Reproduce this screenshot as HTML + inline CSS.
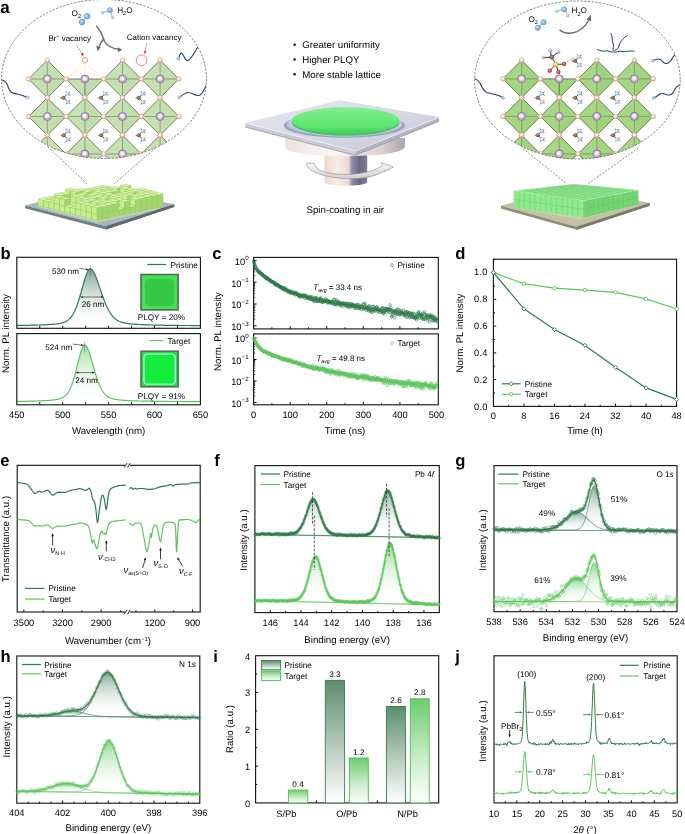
<!DOCTYPE html>
<html><head><meta charset="utf-8"><style>
html,body{margin:0;padding:0;background:#fff;}
body{width:685px;height:834px;overflow:hidden;font-family:"Liberation Sans", sans-serif;}
svg{display:block;will-change:transform;}
</style></head><body>
<svg width="685" height="834" viewBox="0 0 685 834" text-rendering="geometricPrecision" font-family='"Liberation Sans", sans-serif'><defs><radialGradient id="rgBr" cx="0.45" cy="0.4" r="0.6"><stop offset="0" stop-color="#ffffff"/><stop offset="0.5" stop-color="#fbe3d8"/><stop offset="1" stop-color="#d9927a"/></radialGradient><radialGradient id="rgPb" cx="0.5" cy="0.5" r="0.5"><stop offset="0" stop-color="#c8c8f0"/><stop offset="0.6" stop-color="#9a9ada"/><stop offset="1" stop-color="#6c6cb8"/></radialGradient><radialGradient id="rgC" cx="0.4" cy="0.4" r="0.6"><stop offset="0" stop-color="#c89a70"/><stop offset="1" stop-color="#6a4022"/></radialGradient><radialGradient id="rgN" cx="0.4" cy="0.4" r="0.6"><stop offset="0" stop-color="#e0f4ff"/><stop offset="1" stop-color="#7fbcd8"/></radialGradient><radialGradient id="rgO" cx="0.4" cy="0.4" r="0.6"><stop offset="0" stop-color="#cfe4ff"/><stop offset="1" stop-color="#5c95d8"/></radialGradient><radialGradient id="rgH" cx="0.4" cy="0.4" r="0.6"><stop offset="0" stop-color="#d8f4ec"/><stop offset="1" stop-color="#6cbcaa"/></radialGradient><g id="br"><circle r="2.3" fill="url(#rgBr)" stroke="#e3a890" stroke-width="0.7"/></g><g id="pb"><circle r="4.0" fill="#c2bfe8" stroke="#7a76c6" stroke-width="1.0"/><circle r="2.9" fill="url(#rgBr)"/></g><g id="ma"><path d="M-2.6 0 L1.3 -4.1 M-2.6 0 L1.7 4.1 M-2.6 0 L-5.6 0.2 M1.3 -4.1 L-0.4 -6.6 M1.3 -4.1 L3.9 -5.6 M1.3 -4.1 L4.2 -2.6 M1.7 4.1 L-0.3 6.6 M1.7 4.1 L4.3 5.6 M1.7 4.1 L4.3 2.6" stroke="#262c34" stroke-width="0.85"/><circle cx="1.3" cy="-4.1" r="2.0" fill="url(#rgN)"/><circle cx="1.7" cy="4.1" r="2.0" fill="url(#rgN)"/><circle cx="-2.6" cy="0" r="2.0" fill="url(#rgC)"/><g fill="#f6c8c0"><circle cx="-5.6" cy="0.2" r="0.7"/><circle cx="-0.4" cy="-6.6" r="0.7"/><circle cx="3.9" cy="-5.6" r="0.7"/><circle cx="4.2" cy="-2.6" r="0.7"/><circle cx="-0.3" cy="6.6" r="0.7"/><circle cx="4.3" cy="5.6" r="0.7"/><circle cx="4.3" cy="2.6" r="0.7"/></g></g><clipPath id="clipL"><ellipse cx="104" cy="79" rx="102.5" ry="79.5"/></clipPath><clipPath id="clipR"><ellipse cx="577.4" cy="80" rx="102.8" ry="79"/></clipPath><linearGradient id="gShaft" x1="0" y1="0" x2="1" y2="0"><stop offset="0" stop-color="#efd9cc"/><stop offset="0.3" stop-color="#f8ebe3"/><stop offset="0.56" stop-color="#eddbd1"/><stop offset="0.64" stop-color="#8e90aa"/><stop offset="0.82" stop-color="#666a86"/><stop offset="1" stop-color="#7e809a"/></linearGradient><linearGradient id="gChuck" x1="0" y1="0" x2="1" y2="0"><stop offset="0" stop-color="#ece2dc"/><stop offset="0.4" stop-color="#fbf7f4"/><stop offset="0.8" stop-color="#ddd2cc"/><stop offset="1" stop-color="#a9a4ae"/></linearGradient><linearGradient id="gPlate" x1="0" y1="0" x2="1" y2="1"><stop offset="0" stop-color="#e6e8f0"/><stop offset="0.6" stop-color="#d4d6e2"/><stop offset="1" stop-color="#c2c6d4"/></linearGradient><linearGradient id="gDisk" x1="0" y1="0" x2="0" y2="1"><stop offset="0" stop-color="#7ff08f"/><stop offset="0.7" stop-color="#5fe572"/><stop offset="1" stop-color="#3fcf5c"/></linearGradient><linearGradient id="gRing" x1="0" y1="0" x2="0" y2="1"><stop offset="0" stop-color="#8e9cc0"/><stop offset="1" stop-color="#aab4cc"/></linearGradient><linearGradient id="gArrow" x1="0" y1="0" x2="0" y2="1"><stop offset="0" stop-color="#fafafa"/><stop offset="1" stop-color="#cdcdcd"/></linearGradient><radialGradient id="rgS" cx="0.4" cy="0.4" r="0.6"><stop offset="0" stop-color="#fff6b0"/><stop offset="1" stop-color="#d8b830"/></radialGradient><radialGradient id="rgOx" cx="0.4" cy="0.4" r="0.6"><stop offset="0" stop-color="#ff9a8a"/><stop offset="1" stop-color="#c02020"/></radialGradient><radialGradient id="rgF" cx="0.4" cy="0.4" r="0.6"><stop offset="0" stop-color="#eeeeff"/><stop offset="1" stop-color="#9a9ad8"/></radialGradient><linearGradient id="gbP" x1="0" y1="0" x2="0" y2="1"><stop offset="0" stop-color="#5f8a72" stop-opacity="0.8"/><stop offset="1" stop-color="#ffffff" stop-opacity="0"/></linearGradient><linearGradient id="gbT" x1="0" y1="0" x2="0" y2="1"><stop offset="0" stop-color="#7ccc7c" stop-opacity="0.7"/><stop offset="1" stop-color="#ffffff" stop-opacity="0"/></linearGradient><linearGradient id="sqP" x1="0" y1="0" x2="0" y2="1"><stop offset="0" stop-color="#3fd24f" stop-opacity="1"/><stop offset="1" stop-color="#34c444" stop-opacity="1"/></linearGradient><marker id="mk0" markerUnits="userSpaceOnUse" markerWidth="4.8" markerHeight="4.8" refX="2.4" refY="2.4" overflow="visible"><circle cx="2.4" cy="2.4" r="1.3" fill="none" stroke="#2f7b4c" stroke-width="0.6" opacity="1"/></marker><marker id="mk1" markerUnits="userSpaceOnUse" markerWidth="4.8" markerHeight="4.8" refX="2.4" refY="2.4" overflow="visible"><circle cx="2.4" cy="2.4" r="1.3" fill="none" stroke="#5cc65c" stroke-width="0.6" opacity="1"/></marker><linearGradient id="gx1" x1="0" y1="490.79" x2="0" y2="534.4" gradientUnits="userSpaceOnUse"><stop offset="0" stop-color="#6f9a80" stop-opacity="0.85"/><stop offset="1" stop-color="#ffffff" stop-opacity="0"/></linearGradient><marker id="mk2" markerUnits="userSpaceOnUse" markerWidth="4.3" markerHeight="4.3" refX="2.15" refY="2.15" overflow="visible"><circle cx="2.15" cy="2.15" r="1.1" fill="none" stroke="#2f7b4c" stroke-width="0.55" opacity="0.85"/></marker><linearGradient id="gx2" x1="0" y1="543.44" x2="0" y2="600.8" gradientUnits="userSpaceOnUse"><stop offset="0" stop-color="#7fd07f" stop-opacity="0.85"/><stop offset="1" stop-color="#ffffff" stop-opacity="0"/></linearGradient><marker id="mk3" markerUnits="userSpaceOnUse" markerWidth="4.3" markerHeight="4.3" refX="2.15" refY="2.15" overflow="visible"><circle cx="2.15" cy="2.15" r="1.1" fill="none" stroke="#5cc65c" stroke-width="0.55" opacity="0.85"/></marker><linearGradient id="gx3" x1="0" y1="511.89" x2="0" y2="530.39" gradientUnits="userSpaceOnUse"><stop offset="0" stop-color="#6f9a80" stop-opacity="0.85"/><stop offset="1" stop-color="#ffffff" stop-opacity="0"/></linearGradient><linearGradient id="gx4" x1="0" y1="486.01" x2="0" y2="530.51" gradientUnits="userSpaceOnUse"><stop offset="0" stop-color="#6f9a80" stop-opacity="0.85"/><stop offset="1" stop-color="#ffffff" stop-opacity="0"/></linearGradient><marker id="mk4" markerUnits="userSpaceOnUse" markerWidth="4.7" markerHeight="4.7" refX="2.35" refY="2.35" overflow="visible"><circle cx="2.35" cy="2.35" r="1.3" fill="none" stroke="#2f7b4c" stroke-width="0.55" opacity="0.85"/></marker><linearGradient id="gx5" x1="0" y1="578.74" x2="0" y2="601.74" gradientUnits="userSpaceOnUse"><stop offset="0" stop-color="#7fd07f" stop-opacity="0.85"/><stop offset="1" stop-color="#ffffff" stop-opacity="0"/></linearGradient><linearGradient id="gx6" x1="0" y1="562.76" x2="0" y2="601.76" gradientUnits="userSpaceOnUse"><stop offset="0" stop-color="#7fd07f" stop-opacity="0.85"/><stop offset="1" stop-color="#ffffff" stop-opacity="0"/></linearGradient><marker id="mk5" markerUnits="userSpaceOnUse" markerWidth="4.7" markerHeight="4.7" refX="2.35" refY="2.35" overflow="visible"><circle cx="2.35" cy="2.35" r="1.3" fill="none" stroke="#5cc65c" stroke-width="0.55" opacity="0.85"/></marker><linearGradient id="gx7" x1="0" y1="711.22" x2="0" y2="716.42" gradientUnits="userSpaceOnUse"><stop offset="0" stop-color="#6f9a80" stop-opacity="0.85"/><stop offset="1" stop-color="#ffffff" stop-opacity="0"/></linearGradient><linearGradient id="gx8" x1="0" y1="672.24" x2="0" y2="716.74" gradientUnits="userSpaceOnUse"><stop offset="0" stop-color="#6f9a80" stop-opacity="0.85"/><stop offset="1" stop-color="#ffffff" stop-opacity="0"/></linearGradient><marker id="mk6" markerUnits="userSpaceOnUse" markerWidth="4.5" markerHeight="4.5" refX="2.25" refY="2.25" overflow="visible"><circle cx="2.25" cy="2.25" r="1.2" fill="none" stroke="#2f7b4c" stroke-width="0.55" opacity="0.6"/></marker><linearGradient id="gx9" x1="0" y1="783.65" x2="0" y2="792.15" gradientUnits="userSpaceOnUse"><stop offset="0" stop-color="#7fd07f" stop-opacity="0.85"/><stop offset="1" stop-color="#ffffff" stop-opacity="0"/></linearGradient><linearGradient id="gx10" x1="0" y1="740.81" x2="0" y2="792.81" gradientUnits="userSpaceOnUse"><stop offset="0" stop-color="#7fd07f" stop-opacity="0.85"/><stop offset="1" stop-color="#ffffff" stop-opacity="0"/></linearGradient><marker id="mk7" markerUnits="userSpaceOnUse" markerWidth="4.5" markerHeight="4.5" refX="2.25" refY="2.25" overflow="visible"><circle cx="2.25" cy="2.25" r="1.2" fill="none" stroke="#5cc65c" stroke-width="0.55" opacity="0.6"/></marker><linearGradient id="barP" x1="0" y1="0" x2="0" y2="1"><stop offset="0" stop-color="#5a8f6c" stop-opacity="1"/><stop offset="0.55" stop-color="#b8cdbf" stop-opacity="1"/><stop offset="1" stop-color="#ffffff" stop-opacity="1"/></linearGradient><linearGradient id="barT" x1="0" y1="0" x2="0" y2="1"><stop offset="0" stop-color="#6fcb6f" stop-opacity="1"/><stop offset="0.55" stop-color="#c6ebc6" stop-opacity="1"/><stop offset="1" stop-color="#ffffff" stop-opacity="1"/></linearGradient></defs><text x="0.2" y="12.9" font-size="17" font-weight="bold">a</text>
<g clip-path="url(#clipL)"><path d="M47.3 79 L47.3 60.2 L28.5 79 Z" fill="#c8e1b3"/><path d="M47.3 79 L47.3 60.2 L66.1 79 Z" fill="#c4dfae"/><path d="M47.3 79 L47.3 97.8 L28.5 79 Z" fill="#c6e0b0"/><path d="M47.3 79 L47.3 97.8 L66.1 79 Z" fill="#c2ddab"/><path d="M28.5 79 H66.1 M47.3 60.2 V97.8" fill="none" stroke="#5f7358" stroke-width="0.6"/><path d="M47.3 60.2 L66.1 79 L47.3 97.8 L28.5 79 Z" fill="none" stroke="#34402f" stroke-width="0.65"/><path d="M84.9 79 L84.9 97.8 L66.1 79 Z" fill="#c6e0b0"/><path d="M84.9 79 L84.9 97.8 L103.7 79 Z" fill="#c2ddab"/><path d="M66.1 79 L84.9 97.8 L103.7 79 Z M84.9 79 V97.8" fill="none" stroke="#34402f" stroke-width="0.65"/><path d="M122.5 79 L122.5 60.2 L103.7 79 Z" fill="#c8e1b3"/><path d="M122.5 79 L122.5 60.2 L141.3 79 Z" fill="#c4dfae"/><path d="M122.5 79 L122.5 97.8 L103.7 79 Z" fill="#c6e0b0"/><path d="M122.5 79 L122.5 97.8 L141.3 79 Z" fill="#c2ddab"/><path d="M103.7 79 H141.3 M122.5 60.2 V97.8" fill="none" stroke="#5f7358" stroke-width="0.6"/><path d="M122.5 60.2 L141.3 79 L122.5 97.8 L103.7 79 Z" fill="none" stroke="#34402f" stroke-width="0.65"/><path d="M160.1 79 L160.1 60.2 L141.3 79 Z" fill="#c8e1b3"/><path d="M160.1 79 L160.1 60.2 L178.9 79 Z" fill="#c4dfae"/><path d="M160.1 79 L160.1 97.8 L141.3 79 Z" fill="#c6e0b0"/><path d="M160.1 79 L160.1 97.8 L178.9 79 Z" fill="#c2ddab"/><path d="M141.3 79 H178.9 M160.1 60.2 V97.8" fill="none" stroke="#5f7358" stroke-width="0.6"/><path d="M160.1 60.2 L178.9 79 L160.1 97.8 L141.3 79 Z" fill="none" stroke="#34402f" stroke-width="0.65"/><path d="M47.3 116.5 L47.3 97.7 L28.5 116.5 Z" fill="#c8e1b3"/><path d="M47.3 116.5 L47.3 97.7 L66.1 116.5 Z" fill="#c4dfae"/><path d="M47.3 116.5 L47.3 135.3 L28.5 116.5 Z" fill="#c6e0b0"/><path d="M47.3 116.5 L47.3 135.3 L66.1 116.5 Z" fill="#c2ddab"/><path d="M28.5 116.5 H66.1 M47.3 97.7 V135.3" fill="none" stroke="#5f7358" stroke-width="0.6"/><path d="M47.3 97.7 L66.1 116.5 L47.3 135.3 L28.5 116.5 Z" fill="none" stroke="#34402f" stroke-width="0.65"/><path d="M84.9 116.5 L84.9 97.7 L66.1 116.5 Z" fill="#c8e1b3"/><path d="M84.9 116.5 L84.9 97.7 L103.7 116.5 Z" fill="#c4dfae"/><path d="M84.9 116.5 L84.9 135.3 L66.1 116.5 Z" fill="#c6e0b0"/><path d="M84.9 116.5 L84.9 135.3 L103.7 116.5 Z" fill="#c2ddab"/><path d="M66.1 116.5 H103.7 M84.9 97.7 V135.3" fill="none" stroke="#5f7358" stroke-width="0.6"/><path d="M84.9 97.7 L103.7 116.5 L84.9 135.3 L66.1 116.5 Z" fill="none" stroke="#34402f" stroke-width="0.65"/><path d="M122.5 116.5 L122.5 97.7 L103.7 116.5 Z" fill="#c8e1b3"/><path d="M122.5 116.5 L122.5 97.7 L141.3 116.5 Z" fill="#c4dfae"/><path d="M122.5 116.5 L122.5 135.3 L103.7 116.5 Z" fill="#c6e0b0"/><path d="M122.5 116.5 L122.5 135.3 L141.3 116.5 Z" fill="#c2ddab"/><path d="M103.7 116.5 H141.3 M122.5 97.7 V135.3" fill="none" stroke="#5f7358" stroke-width="0.6"/><path d="M122.5 97.7 L141.3 116.5 L122.5 135.3 L103.7 116.5 Z" fill="none" stroke="#34402f" stroke-width="0.65"/><path d="M160.1 116.5 L160.1 97.7 L141.3 116.5 Z" fill="#c8e1b3"/><path d="M160.1 116.5 L160.1 97.7 L178.9 116.5 Z" fill="#c4dfae"/><path d="M160.1 116.5 L160.1 135.3 L141.3 116.5 Z" fill="#c6e0b0"/><path d="M160.1 116.5 L160.1 135.3 L178.9 116.5 Z" fill="#c2ddab"/><path d="M141.3 116.5 H178.9 M160.1 97.7 V135.3" fill="none" stroke="#5f7358" stroke-width="0.6"/><path d="M160.1 97.7 L178.9 116.5 L160.1 135.3 L141.3 116.5 Z" fill="none" stroke="#34402f" stroke-width="0.65"/><path d="M47.3 154 L47.3 135.2 L28.5 154 Z" fill="#c8e1b3"/><path d="M47.3 154 L47.3 135.2 L66.1 154 Z" fill="#c4dfae"/><path d="M47.3 154 L47.3 172.8 L28.5 154 Z" fill="#c6e0b0"/><path d="M47.3 154 L47.3 172.8 L66.1 154 Z" fill="#c2ddab"/><path d="M28.5 154 H66.1 M47.3 135.2 V172.8" fill="none" stroke="#5f7358" stroke-width="0.6"/><path d="M47.3 135.2 L66.1 154 L47.3 172.8 L28.5 154 Z" fill="none" stroke="#34402f" stroke-width="0.65"/><path d="M84.9 154 L84.9 135.2 L66.1 154 Z" fill="#c8e1b3"/><path d="M84.9 154 L84.9 135.2 L103.7 154 Z" fill="#c4dfae"/><path d="M84.9 154 L84.9 172.8 L66.1 154 Z" fill="#c6e0b0"/><path d="M84.9 154 L84.9 172.8 L103.7 154 Z" fill="#c2ddab"/><path d="M66.1 154 H103.7 M84.9 135.2 V172.8" fill="none" stroke="#5f7358" stroke-width="0.6"/><path d="M84.9 135.2 L103.7 154 L84.9 172.8 L66.1 154 Z" fill="none" stroke="#34402f" stroke-width="0.65"/><path d="M122.5 154 L122.5 135.2 L103.7 154 Z" fill="#c8e1b3"/><path d="M122.5 154 L122.5 135.2 L141.3 154 Z" fill="#c4dfae"/><path d="M122.5 154 L122.5 172.8 L103.7 154 Z" fill="#c6e0b0"/><path d="M122.5 154 L122.5 172.8 L141.3 154 Z" fill="#c2ddab"/><path d="M103.7 154 H141.3 M122.5 135.2 V172.8" fill="none" stroke="#5f7358" stroke-width="0.6"/><path d="M122.5 135.2 L141.3 154 L122.5 172.8 L103.7 154 Z" fill="none" stroke="#34402f" stroke-width="0.65"/><path d="M160.1 154 L160.1 135.2 L141.3 154 Z" fill="#c8e1b3"/><path d="M160.1 154 L160.1 135.2 L178.9 154 Z" fill="#c4dfae"/><path d="M160.1 154 L160.1 172.8 L141.3 154 Z" fill="#c6e0b0"/><path d="M160.1 154 L160.1 172.8 L178.9 154 Z" fill="#c2ddab"/><path d="M141.3 154 H178.9 M160.1 135.2 V172.8" fill="none" stroke="#5f7358" stroke-width="0.6"/><path d="M160.1 135.2 L178.9 154 L160.1 172.8 L141.3 154 Z" fill="none" stroke="#34402f" stroke-width="0.65"/><use href="#ma" x="66.1" y="97.8"/><use href="#ma" x="103.7" y="97.8"/><use href="#ma" x="141.3" y="97.8"/><use href="#ma" x="66.1" y="135.3"/><use href="#ma" x="103.7" y="135.3"/><use href="#ma" x="141.3" y="135.3"/><use href="#ma" x="66.1" y="172.8"/><use href="#ma" x="103.7" y="172.8"/><use href="#ma" x="141.3" y="172.8"/><use href="#br" x="28.5" y="79"/><use href="#br" x="47.3" y="97.8"/><use href="#br" x="47.3" y="60.2"/><use href="#br" x="66.1" y="79"/><use href="#br" x="84.9" y="97.8"/><use href="#br" x="103.7" y="79"/><use href="#br" x="122.5" y="97.8"/><use href="#br" x="122.5" y="60.2"/><use href="#br" x="141.3" y="79"/><use href="#br" x="160.1" y="97.8"/><use href="#br" x="160.1" y="60.2"/><use href="#br" x="178.9" y="79"/><use href="#br" x="28.5" y="116.5"/><use href="#br" x="47.3" y="135.3"/><use href="#br" x="47.3" y="97.7"/><use href="#br" x="66.1" y="116.5"/><use href="#br" x="84.9" y="135.3"/><use href="#br" x="84.9" y="97.7"/><use href="#br" x="103.7" y="116.5"/><use href="#br" x="122.5" y="135.3"/><use href="#br" x="122.5" y="97.7"/><use href="#br" x="141.3" y="116.5"/><use href="#br" x="160.1" y="135.3"/><use href="#br" x="160.1" y="97.7"/><use href="#br" x="178.9" y="116.5"/><use href="#br" x="28.5" y="154"/><use href="#br" x="47.3" y="172.8"/><use href="#br" x="47.3" y="135.2"/><use href="#br" x="66.1" y="154"/><use href="#br" x="84.9" y="172.8"/><use href="#br" x="84.9" y="135.2"/><use href="#br" x="103.7" y="154"/><use href="#br" x="122.5" y="172.8"/><use href="#br" x="122.5" y="135.2"/><use href="#br" x="141.3" y="154"/><use href="#br" x="160.1" y="172.8"/><use href="#br" x="160.1" y="135.2"/><use href="#br" x="178.9" y="154"/><use href="#pb" x="47.3" y="79"/><use href="#pb" x="84.9" y="79"/><use href="#pb" x="122.5" y="79"/><use href="#pb" x="160.1" y="79"/><use href="#pb" x="47.3" y="116.5"/><use href="#pb" x="84.9" y="116.5"/><use href="#pb" x="122.5" y="116.5"/><use href="#pb" x="160.1" y="116.5"/><use href="#pb" x="47.3" y="154"/><use href="#pb" x="84.9" y="154"/><use href="#pb" x="122.5" y="154"/><use href="#pb" x="160.1" y="154"/></g>
<line x1="84.9" y1="62.6" x2="65.9" y2="79" stroke="#e6d24a" stroke-width="0.7" stroke-dasharray="1 0.9"/>
<line x1="84.9" y1="62.6" x2="84.9" y2="76.5" stroke="#e6d24a" stroke-width="0.7" stroke-dasharray="1 0.9"/>
<line x1="84.9" y1="62.6" x2="103.7" y2="79" stroke="#e6d24a" stroke-width="0.7" stroke-dasharray="1 0.9"/>
<circle cx="84.9" cy="60.1" r="2.5" fill="#fff" stroke="#e02424" stroke-width="0.9" stroke-dasharray="1 0.7"/>
<line x1="76.8" y1="45.4" x2="82.2" y2="54.6" stroke="#d42a2a" stroke-width="0.8" stroke-dasharray="1.2 0.9"/>
<path d="M83.3 56.6 L80.7 53.9 L83.3 52.6 Z" fill="#d42a2a"/>
<circle cx="141.6" cy="60.3" r="5.3" fill="none" stroke="#e02424" stroke-width="1.0" stroke-dasharray="1.1 0.7"/>
<line x1="146.7" y1="43.3" x2="145.1" y2="51.8" stroke="#d42a2a" stroke-width="0.8" stroke-dasharray="1.2 0.9"/>
<path d="M144.7 54.0 L143.7 50.9 L146.6 51.4 Z" fill="#d42a2a"/>
<ellipse cx="104" cy="79" rx="102.5" ry="79.5" fill="none" stroke="#555" stroke-width="0.75" stroke-dasharray="2.2 1.5"/>
<path d="M-1 79.4 C3 79.8 6 81 7.5 85 C8.5 89 9.5 92 13 93 C17 94.5 22 94.5 26 97" fill="none" stroke="#27406e" stroke-width="1.1" stroke-linecap="round" clip-path="url(#clipL)"/>
<circle cx="27.5" cy="97.4" r="1.4" fill="#c4d4f4" stroke="#7890d0" stroke-width="0.6"/>
<path d="M179 57.6 C179.6 54.6 180.6 52.8 181.8 53.2 C183.6 53.8 184.6 61 187.6 60.8 C190.6 60.5 194 53 198.5 46" fill="none" stroke="#27406e" stroke-width="1.1" stroke-linecap="round" clip-path="url(#clipL)"/>
<circle cx="178.4" cy="58.8" r="1.4" fill="#c4d4f4" stroke="#7890d0" stroke-width="0.6"/>
<path d="M180.4 96.6 C183 94.6 185.6 92.5 188.5 92.5 C192 92.5 195 96 198.8 95.5 C202.5 95 204 89.5 207 84" fill="none" stroke="#27406e" stroke-width="1.1" stroke-linecap="round" clip-path="url(#clipL)"/>
<circle cx="179.3" cy="97.3" r="1.4" fill="#c4d4f4" stroke="#7890d0" stroke-width="0.6"/>
<text x="71.6" y="15.54" font-size="8.2">O<tspan font-size="5.6" dy="2.4">2</tspan></text>
<circle cx="87" cy="16.3" r="2.7" fill="url(#rgO)" stroke="#6a9bd8" stroke-width="0.5"/><circle cx="81.9" cy="22.1" r="2.7" fill="url(#rgO)" stroke="#6a9bd8" stroke-width="0.5"/>
<line x1="102.3" y1="12.7" x2="109.9" y2="10.2" stroke="#7aa" stroke-width="0.8"/>
<line x1="109.9" y1="10.2" x2="112.6" y2="17.4" stroke="#7aa" stroke-width="0.8"/>
<circle cx="109.9" cy="10.2" r="2.6" fill="url(#rgO)" stroke="#6a9bd8" stroke-width="0.5"/><circle cx="102.3" cy="12.7" r="1.6" fill="url(#rgH)"/><circle cx="112.6" cy="17.4" r="1.6" fill="url(#rgH)"/>
<text x="117.2" y="12.74" font-size="8.2">H<tspan font-size="5.6" dy="2.4">2</tspan><tspan dy="-2.4">O</tspan></text>
<text x="48.4" y="41.26" font-size="8">Br<tspan font-size="5.2" dy="-3">&#8722;</tspan><tspan dy="3"> vacancy</tspan></text>
<text x="126.8" y="39.66" font-size="8">Cation vacancy</text>
<path d="M96.3 25.8 C101 31 103 37 104.5 41.5 C107 46 113 48.5 119.2 49.6" fill="none" stroke="#6e6e6e" stroke-width="1.5"/>
<path d="M103.8 38.5 C101.5 41.5 99.8 44 98.8 47.6" fill="none" stroke="#6e6e6e" stroke-width="1.5"/>
<path d="M97.6 51.2 L96.2 45.8 L100.9 47.2 Z" fill="#6e6e6e"/>
<path d="M122.4 50.0 L117.6 52.3 L118.3 47.3 Z" fill="#6e6e6e"/>
<line x1="87" y1="16.3" x2="81.9" y2="22.1" stroke="#6a9bd8" stroke-width="1"/>
<circle cx="87" cy="16.3" r="2.7" fill="url(#rgO)" stroke="#6a9bd8" stroke-width="0.5"/><circle cx="81.9" cy="22.1" r="2.7" fill="url(#rgO)" stroke="#6a9bd8" stroke-width="0.5"/>
<line x1="47.5" y1="146.5" x2="87.7" y2="184.4" stroke="#555" stroke-width="0.7" stroke-dasharray="2 1.5"/>
<line x1="155.5" y1="148" x2="113.4" y2="184.4" stroke="#555" stroke-width="0.7" stroke-dasharray="2 1.5"/>
<line x1="523" y1="148.5" x2="566.2" y2="183.4" stroke="#555" stroke-width="0.7" stroke-dasharray="2 1.5"/>
<line x1="638.4" y1="148" x2="588.5" y2="183.4" stroke="#555" stroke-width="0.7" stroke-dasharray="2 1.5"/>
<path d="M25.1 205.4 L106 226.2 L174.2 204.2 L95 187 Z" fill="#a6b9bc"/>
<path d="M36 206.5 L97 222.5 L163 208.5 L104 193 Z" fill="#d2d8b4" opacity="0.8"/>
<path d="M25.1 205.4 L106 226.2 L174.2 204.2 L174.2 206.9 L106 229.4 L25.1 208.2 Z" fill="#6d7f7f"/>
<path d="M106 226.2 L174.2 204.2 L174.2 206.9 L106 229.4 Z" fill="#5b6c6e"/>
<g><path d="M98.7 192.6 104 193.9 104 187.5 98.7 186.2 Z" fill="#c4ef8b" stroke="#93c065" stroke-width="0.3"/><path d="M104 193.9 109.5 192.8 109.5 186.4 104 187.5 Z" fill="#a2d66b" stroke="#93c065" stroke-width="0.3"/><path d="M98.7 186.2 104 187.5 109.5 186.4 104.2 185 Z" fill="#ddf8aa" stroke="#93c065" stroke-width="0.3"/><path d="M93.2 193.7 98.5 195.1 98.5 188.7 93.2 187.3 Z" fill="#c4ef8b" stroke="#93c065" stroke-width="0.3"/><path d="M98.5 195.1 104 193.9 104 187.5 98.5 188.7 Z" fill="#a2d66b" stroke="#93c065" stroke-width="0.3"/><path d="M93.2 187.3 98.5 188.7 104 187.5 98.7 186.2 Z" fill="#ddf8aa" stroke="#93c065" stroke-width="0.3"/><path d="M104 193.9 109.4 195.3 109.4 188.9 104 187.5 Z" fill="#c4ef8b" stroke="#93c065" stroke-width="0.3"/><path d="M109.4 195.3 114.9 194.1 114.9 187.7 109.4 188.9 Z" fill="#a2d66b" stroke="#93c065" stroke-width="0.3"/><path d="M104 187.5 109.4 188.9 114.9 187.7 109.5 186.4 Z" fill="#ddf8aa" stroke="#93c065" stroke-width="0.3"/><path d="M87.7 194.9 93 196.3 93 189.9 87.7 188.5 Z" fill="#c4ef8b" stroke="#93c065" stroke-width="0.3"/><path d="M93 196.3 98.5 195.1 98.5 188.7 93 189.9 Z" fill="#a2d66b" stroke="#93c065" stroke-width="0.3"/><path d="M87.7 188.5 93 189.9 98.5 188.7 93.2 187.3 Z" fill="#ddf8aa" stroke="#93c065" stroke-width="0.3"/><path d="M98.5 195.1 103.9 196.5 103.9 190.1 98.5 188.7 Z" fill="#c4ef8b" stroke="#93c065" stroke-width="0.3"/><path d="M103.9 196.5 109.4 195.3 109.4 188.9 103.9 190.1 Z" fill="#a2d66b" stroke="#93c065" stroke-width="0.3"/><path d="M98.5 188.7 103.9 190.1 109.4 188.9 104 187.5 Z" fill="#ddf8aa" stroke="#93c065" stroke-width="0.3"/><path d="M109.4 195.3 114.7 196.7 114.7 190.3 109.4 188.9 Z" fill="#c4ef8b" stroke="#93c065" stroke-width="0.3"/><path d="M114.7 196.7 120.2 195.5 120.2 189.1 114.7 190.3 Z" fill="#a2d66b" stroke="#93c065" stroke-width="0.3"/><path d="M109.4 188.9 114.7 190.3 120.2 189.1 114.9 187.7 Z" fill="#ddf8aa" stroke="#93c065" stroke-width="0.3"/><path d="M82.2 196.1 87.5 197.4 87.5 191 82.2 189.7 Z" fill="#c4ef8b" stroke="#93c065" stroke-width="0.3"/><path d="M87.5 197.4 93 196.3 93 189.9 87.5 191 Z" fill="#a2d66b" stroke="#93c065" stroke-width="0.3"/><path d="M82.2 189.7 87.5 191 93 189.9 87.7 188.5 Z" fill="#ddf8aa" stroke="#93c065" stroke-width="0.3"/><path d="M93 196.3 98.4 197.6 98.4 191.2 93 189.9 Z" fill="#c4ef8b" stroke="#93c065" stroke-width="0.3"/><path d="M98.4 197.6 103.9 196.5 103.9 190.1 98.4 191.2 Z" fill="#a2d66b" stroke="#93c065" stroke-width="0.3"/><path d="M93 189.9 98.4 191.2 103.9 190.1 98.5 188.7 Z" fill="#ddf8aa" stroke="#93c065" stroke-width="0.3"/><path d="M103.9 196.5 109.2 197.9 109.2 191.5 103.9 190.1 Z" fill="#c4ef8b" stroke="#93c065" stroke-width="0.3"/><path d="M109.2 197.9 114.7 196.7 114.7 190.3 109.2 191.5 Z" fill="#a2d66b" stroke="#93c065" stroke-width="0.3"/><path d="M103.9 190.1 109.2 191.5 114.7 190.3 109.4 188.9 Z" fill="#ddf8aa" stroke="#93c065" stroke-width="0.3"/><path d="M114.7 196.7 120.1 198.1 120.1 191.7 114.7 190.3 Z" fill="#c4ef8b" stroke="#93c065" stroke-width="0.3"/><path d="M120.1 198.1 125.6 196.9 125.6 190.5 120.1 191.7 Z" fill="#a2d66b" stroke="#93c065" stroke-width="0.3"/><path d="M114.7 190.3 120.1 191.7 125.6 190.5 120.2 189.1 Z" fill="#ddf8aa" stroke="#93c065" stroke-width="0.3"/><path d="M76.7 197.2 82 198.6 82 192.2 76.7 190.8 Z" fill="#c4ef8b" stroke="#93c065" stroke-width="0.3"/><path d="M82 198.6 87.5 197.4 87.5 191 82 192.2 Z" fill="#a2d66b" stroke="#93c065" stroke-width="0.3"/><path d="M76.7 190.8 82 192.2 87.5 191 82.2 189.7 Z" fill="#ddf8aa" stroke="#93c065" stroke-width="0.3"/><path d="M87.5 197.4 92.9 198.8 92.9 192.4 87.5 191 Z" fill="#c4ef8b" stroke="#93c065" stroke-width="0.3"/><path d="M92.9 198.8 98.4 197.6 98.4 191.2 92.9 192.4 Z" fill="#a2d66b" stroke="#93c065" stroke-width="0.3"/><path d="M87.5 191 92.9 192.4 98.4 191.2 93 189.9 Z" fill="#ddf8aa" stroke="#93c065" stroke-width="0.3"/><path d="M98.4 197.6 103.7 199 103.7 192.6 98.4 191.2 Z" fill="#c4ef8b" stroke="#93c065" stroke-width="0.3"/><path d="M103.7 199 109.2 197.9 109.2 191.5 103.7 192.6 Z" fill="#a2d66b" stroke="#93c065" stroke-width="0.3"/><path d="M98.4 191.2 103.7 192.6 109.2 191.5 103.9 190.1 Z" fill="#ddf8aa" stroke="#93c065" stroke-width="0.3"/><path d="M109.2 197.9 114.6 199.2 114.6 192.8 109.2 191.5 Z" fill="#c4ef8b" stroke="#93c065" stroke-width="0.3"/><path d="M114.6 199.2 120.1 198.1 120.1 191.7 114.6 192.8 Z" fill="#a2d66b" stroke="#93c065" stroke-width="0.3"/><path d="M109.2 191.5 114.6 192.8 120.1 191.7 114.7 190.3 Z" fill="#ddf8aa" stroke="#93c065" stroke-width="0.3"/><path d="M120.1 198.1 125.4 199.4 125.4 193 120.1 191.7 Z" fill="#c4ef8b" stroke="#93c065" stroke-width="0.3"/><path d="M125.4 199.4 130.9 198.3 130.9 191.9 125.4 193 Z" fill="#a2d66b" stroke="#93c065" stroke-width="0.3"/><path d="M120.1 191.7 125.4 193 130.9 191.9 125.6 190.5 Z" fill="#ddf8aa" stroke="#93c065" stroke-width="0.3"/><path d="M120.1 191.7 125.4 193 125.4 186.6 120.1 185.3 Z" fill="#c4ef8b" stroke="#93c065" stroke-width="0.3"/><path d="M125.4 193 130.9 191.9 130.9 185.5 125.4 186.6 Z" fill="#a2d66b" stroke="#93c065" stroke-width="0.3"/><path d="M120.1 185.3 125.4 186.6 130.9 185.5 125.6 184.1 Z" fill="#ddf8aa" stroke="#93c065" stroke-width="0.3"/><path d="M71.2 198.4 76.5 199.8 76.5 193.4 71.2 192 Z" fill="#c4ef8b" stroke="#93c065" stroke-width="0.3"/><path d="M76.5 199.8 82 198.6 82 192.2 76.5 193.4 Z" fill="#a2d66b" stroke="#93c065" stroke-width="0.3"/><path d="M71.2 192 76.5 193.4 82 192.2 76.7 190.8 Z" fill="#ddf8aa" stroke="#93c065" stroke-width="0.3"/><path d="M82 198.6 87.4 200 87.4 193.6 82 192.2 Z" fill="#c4ef8b" stroke="#93c065" stroke-width="0.3"/><path d="M87.4 200 92.9 198.8 92.9 192.4 87.4 193.6 Z" fill="#a2d66b" stroke="#93c065" stroke-width="0.3"/><path d="M82 192.2 87.4 193.6 92.9 192.4 87.5 191 Z" fill="#ddf8aa" stroke="#93c065" stroke-width="0.3"/><path d="M92.9 198.8 98.2 200.2 98.2 193.8 92.9 192.4 Z" fill="#c4ef8b" stroke="#93c065" stroke-width="0.3"/><path d="M98.2 200.2 103.7 199 103.7 192.6 98.2 193.8 Z" fill="#a2d66b" stroke="#93c065" stroke-width="0.3"/><path d="M92.9 192.4 98.2 193.8 103.7 192.6 98.4 191.2 Z" fill="#ddf8aa" stroke="#93c065" stroke-width="0.3"/><path d="M103.7 199 109.1 200.4 109.1 194 103.7 192.6 Z" fill="#c4ef8b" stroke="#93c065" stroke-width="0.3"/><path d="M109.1 200.4 114.6 199.2 114.6 192.8 109.1 194 Z" fill="#a2d66b" stroke="#93c065" stroke-width="0.3"/><path d="M103.7 192.6 109.1 194 114.6 192.8 109.2 191.5 Z" fill="#ddf8aa" stroke="#93c065" stroke-width="0.3"/><path d="M114.6 199.2 119.9 200.6 119.9 194.2 114.6 192.8 Z" fill="#c4ef8b" stroke="#93c065" stroke-width="0.3"/><path d="M119.9 200.6 125.4 199.4 125.4 193 119.9 194.2 Z" fill="#a2d66b" stroke="#93c065" stroke-width="0.3"/><path d="M114.6 192.8 119.9 194.2 125.4 193 120.1 191.7 Z" fill="#ddf8aa" stroke="#93c065" stroke-width="0.3"/><path d="M125.4 199.4 130.8 200.8 130.8 194.4 125.4 193 Z" fill="#c4ef8b" stroke="#93c065" stroke-width="0.3"/><path d="M130.8 200.8 136.3 199.6 136.3 193.2 130.8 194.4 Z" fill="#a2d66b" stroke="#93c065" stroke-width="0.3"/><path d="M125.4 193 130.8 194.4 136.3 193.2 130.9 191.9 Z" fill="#ddf8aa" stroke="#93c065" stroke-width="0.3"/><path d="M65.7 199.6 71 200.9 71 194.5 65.7 193.2 Z" fill="#c4ef8b" stroke="#93c065" stroke-width="0.3"/><path d="M71 200.9 76.5 199.8 76.5 193.4 71 194.5 Z" fill="#a2d66b" stroke="#93c065" stroke-width="0.3"/><path d="M65.7 193.2 71 194.5 76.5 193.4 71.2 192 Z" fill="#ddf8aa" stroke="#93c065" stroke-width="0.3"/><path d="M76.5 199.8 81.9 201.1 81.9 194.7 76.5 193.4 Z" fill="#c4ef8b" stroke="#93c065" stroke-width="0.3"/><path d="M81.9 201.1 87.4 200 87.4 193.6 81.9 194.7 Z" fill="#a2d66b" stroke="#93c065" stroke-width="0.3"/><path d="M76.5 193.4 81.9 194.7 87.4 193.6 82 192.2 Z" fill="#ddf8aa" stroke="#93c065" stroke-width="0.3"/><path d="M87.4 200 92.7 201.4 92.7 195 87.4 193.6 Z" fill="#c4ef8b" stroke="#93c065" stroke-width="0.3"/><path d="M92.7 201.4 98.2 200.2 98.2 193.8 92.7 195 Z" fill="#a2d66b" stroke="#93c065" stroke-width="0.3"/><path d="M87.4 193.6 92.7 195 98.2 193.8 92.9 192.4 Z" fill="#ddf8aa" stroke="#93c065" stroke-width="0.3"/><path d="M98.2 200.2 103.6 201.6 103.6 195.2 98.2 193.8 Z" fill="#c4ef8b" stroke="#93c065" stroke-width="0.3"/><path d="M103.6 201.6 109.1 200.4 109.1 194 103.6 195.2 Z" fill="#a2d66b" stroke="#93c065" stroke-width="0.3"/><path d="M98.2 193.8 103.6 195.2 109.1 194 103.7 192.6 Z" fill="#ddf8aa" stroke="#93c065" stroke-width="0.3"/><path d="M109.1 200.4 114.4 201.8 114.4 195.4 109.1 194 Z" fill="#c4ef8b" stroke="#93c065" stroke-width="0.3"/><path d="M114.4 201.8 119.9 200.6 119.9 194.2 114.4 195.4 Z" fill="#a2d66b" stroke="#93c065" stroke-width="0.3"/><path d="M109.1 194 114.4 195.4 119.9 194.2 114.6 192.8 Z" fill="#ddf8aa" stroke="#93c065" stroke-width="0.3"/><path d="M109.1 194 114.4 195.4 114.4 189 109.1 187.6 Z" fill="#c4ef8b" stroke="#93c065" stroke-width="0.3"/><path d="M114.4 195.4 119.9 194.2 119.9 187.8 114.4 189 Z" fill="#a2d66b" stroke="#93c065" stroke-width="0.3"/><path d="M109.1 187.6 114.4 189 119.9 187.8 114.6 186.4 Z" fill="#ddf8aa" stroke="#93c065" stroke-width="0.3"/><path d="M119.9 200.6 125.3 202 125.3 195.6 119.9 194.2 Z" fill="#c4ef8b" stroke="#93c065" stroke-width="0.3"/><path d="M125.3 202 130.8 200.8 130.8 194.4 125.3 195.6 Z" fill="#a2d66b" stroke="#93c065" stroke-width="0.3"/><path d="M119.9 194.2 125.3 195.6 130.8 194.4 125.4 193 Z" fill="#ddf8aa" stroke="#93c065" stroke-width="0.3"/><path d="M119.9 194.2 125.3 195.6 125.3 189.2 119.9 187.8 Z" fill="#c4ef8b" stroke="#93c065" stroke-width="0.3"/><path d="M125.3 195.6 130.8 194.4 130.8 188 125.3 189.2 Z" fill="#a2d66b" stroke="#93c065" stroke-width="0.3"/><path d="M119.9 187.8 125.3 189.2 130.8 188 125.4 186.6 Z" fill="#ddf8aa" stroke="#93c065" stroke-width="0.3"/><path d="M130.8 200.8 136.1 202.2 136.1 195.8 130.8 194.4 Z" fill="#c4ef8b" stroke="#93c065" stroke-width="0.3"/><path d="M136.1 202.2 141.6 201 141.6 194.6 136.1 195.8 Z" fill="#a2d66b" stroke="#93c065" stroke-width="0.3"/><path d="M130.8 194.4 136.1 195.8 141.6 194.6 136.3 193.2 Z" fill="#ddf8aa" stroke="#93c065" stroke-width="0.3"/><path d="M60.2 200.7 65.5 202.1 65.5 195.7 60.2 194.3 Z" fill="#c4ef8b" stroke="#93c065" stroke-width="0.3"/><path d="M65.5 202.1 71 200.9 71 194.5 65.5 195.7 Z" fill="#a2d66b" stroke="#93c065" stroke-width="0.3"/><path d="M60.2 194.3 65.5 195.7 71 194.5 65.7 193.2 Z" fill="#ddf8aa" stroke="#93c065" stroke-width="0.3"/><path d="M71 200.9 76.4 202.3 76.4 195.9 71 194.5 Z" fill="#c4ef8b" stroke="#93c065" stroke-width="0.3"/><path d="M76.4 202.3 81.9 201.1 81.9 194.7 76.4 195.9 Z" fill="#a2d66b" stroke="#93c065" stroke-width="0.3"/><path d="M71 194.5 76.4 195.9 81.9 194.7 76.5 193.4 Z" fill="#ddf8aa" stroke="#93c065" stroke-width="0.3"/><path d="M81.9 201.1 87.2 202.5 87.2 196.1 81.9 194.7 Z" fill="#c4ef8b" stroke="#93c065" stroke-width="0.3"/><path d="M87.2 202.5 92.7 201.4 92.7 195 87.2 196.1 Z" fill="#a2d66b" stroke="#93c065" stroke-width="0.3"/><path d="M81.9 194.7 87.2 196.1 92.7 195 87.4 193.6 Z" fill="#ddf8aa" stroke="#93c065" stroke-width="0.3"/><path d="M92.7 201.4 98.1 202.7 98.1 196.3 92.7 195 Z" fill="#c4ef8b" stroke="#93c065" stroke-width="0.3"/><path d="M98.1 202.7 103.6 201.6 103.6 195.2 98.1 196.3 Z" fill="#a2d66b" stroke="#93c065" stroke-width="0.3"/><path d="M92.7 195 98.1 196.3 103.6 195.2 98.2 193.8 Z" fill="#ddf8aa" stroke="#93c065" stroke-width="0.3"/><path d="M103.6 201.6 108.9 202.9 108.9 196.5 103.6 195.2 Z" fill="#c4ef8b" stroke="#93c065" stroke-width="0.3"/><path d="M108.9 202.9 114.4 201.8 114.4 195.4 108.9 196.5 Z" fill="#a2d66b" stroke="#93c065" stroke-width="0.3"/><path d="M103.6 195.2 108.9 196.5 114.4 195.4 109.1 194 Z" fill="#ddf8aa" stroke="#93c065" stroke-width="0.3"/><path d="M114.4 201.8 119.8 203.1 119.8 196.7 114.4 195.4 Z" fill="#c4ef8b" stroke="#93c065" stroke-width="0.3"/><path d="M119.8 203.1 125.3 202 125.3 195.6 119.8 196.7 Z" fill="#a2d66b" stroke="#93c065" stroke-width="0.3"/><path d="M114.4 195.4 119.8 196.7 125.3 195.6 119.9 194.2 Z" fill="#ddf8aa" stroke="#93c065" stroke-width="0.3"/><path d="M125.3 202 130.6 203.3 130.6 196.9 125.3 195.6 Z" fill="#c4ef8b" stroke="#93c065" stroke-width="0.3"/><path d="M130.6 203.3 136.1 202.2 136.1 195.8 130.6 196.9 Z" fill="#a2d66b" stroke="#93c065" stroke-width="0.3"/><path d="M125.3 195.6 130.6 196.9 136.1 195.8 130.8 194.4 Z" fill="#ddf8aa" stroke="#93c065" stroke-width="0.3"/><path d="M125.3 195.6 130.6 196.9 130.6 190.5 125.3 189.2 Z" fill="#c4ef8b" stroke="#93c065" stroke-width="0.3"/><path d="M130.6 196.9 136.1 195.8 136.1 189.4 130.6 190.5 Z" fill="#a2d66b" stroke="#93c065" stroke-width="0.3"/><path d="M125.3 189.2 130.6 190.5 136.1 189.4 130.8 188 Z" fill="#ddf8aa" stroke="#93c065" stroke-width="0.3"/><path d="M136.1 202.2 141.5 203.5 141.5 197.1 136.1 195.8 Z" fill="#c4ef8b" stroke="#93c065" stroke-width="0.3"/><path d="M141.5 203.5 147 202.4 147 196 141.5 197.1 Z" fill="#a2d66b" stroke="#93c065" stroke-width="0.3"/><path d="M136.1 195.8 141.5 197.1 147 196 141.6 194.6 Z" fill="#ddf8aa" stroke="#93c065" stroke-width="0.3"/><path d="M136.1 195.8 141.5 197.1 141.5 190.7 136.1 189.4 Z" fill="#c4ef8b" stroke="#93c065" stroke-width="0.3"/><path d="M141.5 197.1 147 196 147 189.6 141.5 190.7 Z" fill="#a2d66b" stroke="#93c065" stroke-width="0.3"/><path d="M136.1 189.4 141.5 190.7 147 189.6 141.6 188.2 Z" fill="#ddf8aa" stroke="#93c065" stroke-width="0.3"/><path d="M54.7 201.9 60 203.3 60 196.9 54.7 195.5 Z" fill="#c4ef8b" stroke="#93c065" stroke-width="0.3"/><path d="M60 203.3 65.5 202.1 65.5 195.7 60 196.9 Z" fill="#a2d66b" stroke="#93c065" stroke-width="0.3"/><path d="M54.7 195.5 60 196.9 65.5 195.7 60.2 194.3 Z" fill="#ddf8aa" stroke="#93c065" stroke-width="0.3"/><path d="M65.5 202.1 70.9 203.5 70.9 197.1 65.5 195.7 Z" fill="#c4ef8b" stroke="#93c065" stroke-width="0.3"/><path d="M70.9 203.5 76.4 202.3 76.4 195.9 70.9 197.1 Z" fill="#a2d66b" stroke="#93c065" stroke-width="0.3"/><path d="M65.5 195.7 70.9 197.1 76.4 195.9 71 194.5 Z" fill="#ddf8aa" stroke="#93c065" stroke-width="0.3"/><path d="M65.5 195.7 70.9 197.1 70.9 190.7 65.5 189.3 Z" fill="#c4ef8b" stroke="#93c065" stroke-width="0.3"/><path d="M70.9 197.1 76.4 195.9 76.4 189.5 70.9 190.7 Z" fill="#a2d66b" stroke="#93c065" stroke-width="0.3"/><path d="M65.5 189.3 70.9 190.7 76.4 189.5 71 188.1 Z" fill="#ddf8aa" stroke="#93c065" stroke-width="0.3"/><path d="M76.4 202.3 81.7 203.7 81.7 197.3 76.4 195.9 Z" fill="#c4ef8b" stroke="#93c065" stroke-width="0.3"/><path d="M81.7 203.7 87.2 202.5 87.2 196.1 81.7 197.3 Z" fill="#a2d66b" stroke="#93c065" stroke-width="0.3"/><path d="M76.4 195.9 81.7 197.3 87.2 196.1 81.9 194.7 Z" fill="#ddf8aa" stroke="#93c065" stroke-width="0.3"/><path d="M76.4 195.9 81.7 197.3 81.7 190.9 76.4 189.5 Z" fill="#c4ef8b" stroke="#93c065" stroke-width="0.3"/><path d="M81.7 197.3 87.2 196.1 87.2 189.7 81.7 190.9 Z" fill="#a2d66b" stroke="#93c065" stroke-width="0.3"/><path d="M76.4 189.5 81.7 190.9 87.2 189.7 81.9 188.3 Z" fill="#ddf8aa" stroke="#93c065" stroke-width="0.3"/><path d="M87.2 202.5 92.6 203.9 92.6 197.5 87.2 196.1 Z" fill="#c4ef8b" stroke="#93c065" stroke-width="0.3"/><path d="M92.6 203.9 98.1 202.7 98.1 196.3 92.6 197.5 Z" fill="#a2d66b" stroke="#93c065" stroke-width="0.3"/><path d="M87.2 196.1 92.6 197.5 98.1 196.3 92.7 195 Z" fill="#ddf8aa" stroke="#93c065" stroke-width="0.3"/><path d="M98.1 202.7 103.4 204.1 103.4 197.7 98.1 196.3 Z" fill="#c4ef8b" stroke="#93c065" stroke-width="0.3"/><path d="M103.4 204.1 108.9 202.9 108.9 196.5 103.4 197.7 Z" fill="#a2d66b" stroke="#93c065" stroke-width="0.3"/><path d="M98.1 196.3 103.4 197.7 108.9 196.5 103.6 195.2 Z" fill="#ddf8aa" stroke="#93c065" stroke-width="0.3"/><path d="M108.9 202.9 114.3 204.3 114.3 197.9 108.9 196.5 Z" fill="#c4ef8b" stroke="#93c065" stroke-width="0.3"/><path d="M114.3 204.3 119.8 203.1 119.8 196.7 114.3 197.9 Z" fill="#a2d66b" stroke="#93c065" stroke-width="0.3"/><path d="M108.9 196.5 114.3 197.9 119.8 196.7 114.4 195.4 Z" fill="#ddf8aa" stroke="#93c065" stroke-width="0.3"/><path d="M108.9 196.5 114.3 197.9 114.3 191.5 108.9 190.1 Z" fill="#c4ef8b" stroke="#93c065" stroke-width="0.3"/><path d="M114.3 197.9 119.8 196.7 119.8 190.3 114.3 191.5 Z" fill="#a2d66b" stroke="#93c065" stroke-width="0.3"/><path d="M108.9 190.1 114.3 191.5 119.8 190.3 114.4 189 Z" fill="#ddf8aa" stroke="#93c065" stroke-width="0.3"/><path d="M119.8 203.1 125.1 204.5 125.1 198.1 119.8 196.7 Z" fill="#c4ef8b" stroke="#93c065" stroke-width="0.3"/><path d="M125.1 204.5 130.6 203.3 130.6 196.9 125.1 198.1 Z" fill="#a2d66b" stroke="#93c065" stroke-width="0.3"/><path d="M119.8 196.7 125.1 198.1 130.6 196.9 125.3 195.6 Z" fill="#ddf8aa" stroke="#93c065" stroke-width="0.3"/><path d="M130.6 203.3 136 204.7 136 198.3 130.6 196.9 Z" fill="#c4ef8b" stroke="#93c065" stroke-width="0.3"/><path d="M136 204.7 141.5 203.5 141.5 197.1 136 198.3 Z" fill="#a2d66b" stroke="#93c065" stroke-width="0.3"/><path d="M130.6 196.9 136 198.3 141.5 197.1 136.1 195.8 Z" fill="#ddf8aa" stroke="#93c065" stroke-width="0.3"/><path d="M130.6 196.9 136 198.3 136 191.9 130.6 190.5 Z" fill="#c4ef8b" stroke="#93c065" stroke-width="0.3"/><path d="M136 198.3 141.5 197.1 141.5 190.7 136 191.9 Z" fill="#a2d66b" stroke="#93c065" stroke-width="0.3"/><path d="M130.6 190.5 136 191.9 141.5 190.7 136.1 189.4 Z" fill="#ddf8aa" stroke="#93c065" stroke-width="0.3"/><path d="M141.5 203.5 146.8 204.9 146.8 198.5 141.5 197.1 Z" fill="#c4ef8b" stroke="#93c065" stroke-width="0.3"/><path d="M146.8 204.9 152.3 203.8 152.3 197.4 146.8 198.5 Z" fill="#a2d66b" stroke="#93c065" stroke-width="0.3"/><path d="M141.5 197.1 146.8 198.5 152.3 197.4 147 196 Z" fill="#ddf8aa" stroke="#93c065" stroke-width="0.3"/><path d="M141.5 197.1 146.8 198.5 146.8 192.1 141.5 190.7 Z" fill="#c4ef8b" stroke="#93c065" stroke-width="0.3"/><path d="M146.8 198.5 152.3 197.4 152.3 191 146.8 192.1 Z" fill="#a2d66b" stroke="#93c065" stroke-width="0.3"/><path d="M141.5 190.7 146.8 192.1 152.3 191 147 189.6 Z" fill="#ddf8aa" stroke="#93c065" stroke-width="0.3"/><path d="M49.2 203.1 54.5 204.4 54.5 198 49.2 196.7 Z" fill="#c4ef8b" stroke="#93c065" stroke-width="0.3"/><path d="M54.5 204.4 60 203.3 60 196.9 54.5 198 Z" fill="#a2d66b" stroke="#93c065" stroke-width="0.3"/><path d="M49.2 196.7 54.5 198 60 196.9 54.7 195.5 Z" fill="#ddf8aa" stroke="#93c065" stroke-width="0.3"/><path d="M60 203.3 65.4 204.6 65.4 198.2 60 196.9 Z" fill="#c4ef8b" stroke="#93c065" stroke-width="0.3"/><path d="M65.4 204.6 70.9 203.5 70.9 197.1 65.4 198.2 Z" fill="#a2d66b" stroke="#93c065" stroke-width="0.3"/><path d="M60 196.9 65.4 198.2 70.9 197.1 65.5 195.7 Z" fill="#ddf8aa" stroke="#93c065" stroke-width="0.3"/><path d="M70.9 203.5 76.2 204.9 76.2 198.5 70.9 197.1 Z" fill="#c4ef8b" stroke="#93c065" stroke-width="0.3"/><path d="M76.2 204.9 81.7 203.7 81.7 197.3 76.2 198.5 Z" fill="#a2d66b" stroke="#93c065" stroke-width="0.3"/><path d="M70.9 197.1 76.2 198.5 81.7 197.3 76.4 195.9 Z" fill="#ddf8aa" stroke="#93c065" stroke-width="0.3"/><path d="M70.9 197.1 76.2 198.5 76.2 192.1 70.9 190.7 Z" fill="#c4ef8b" stroke="#93c065" stroke-width="0.3"/><path d="M76.2 198.5 81.7 197.3 81.7 190.9 76.2 192.1 Z" fill="#a2d66b" stroke="#93c065" stroke-width="0.3"/><path d="M70.9 190.7 76.2 192.1 81.7 190.9 76.4 189.5 Z" fill="#ddf8aa" stroke="#93c065" stroke-width="0.3"/><path d="M81.7 203.7 87.1 205.1 87.1 198.7 81.7 197.3 Z" fill="#c4ef8b" stroke="#93c065" stroke-width="0.3"/><path d="M87.1 205.1 92.6 203.9 92.6 197.5 87.1 198.7 Z" fill="#a2d66b" stroke="#93c065" stroke-width="0.3"/><path d="M81.7 197.3 87.1 198.7 92.6 197.5 87.2 196.1 Z" fill="#ddf8aa" stroke="#93c065" stroke-width="0.3"/><path d="M81.7 197.3 87.1 198.7 87.1 192.3 81.7 190.9 Z" fill="#c4ef8b" stroke="#93c065" stroke-width="0.3"/><path d="M87.1 198.7 92.6 197.5 92.6 191.1 87.1 192.3 Z" fill="#a2d66b" stroke="#93c065" stroke-width="0.3"/><path d="M81.7 190.9 87.1 192.3 92.6 191.1 87.2 189.7 Z" fill="#ddf8aa" stroke="#93c065" stroke-width="0.3"/><path d="M92.6 203.9 97.9 205.3 97.9 198.9 92.6 197.5 Z" fill="#c4ef8b" stroke="#93c065" stroke-width="0.3"/><path d="M97.9 205.3 103.4 204.1 103.4 197.7 97.9 198.9 Z" fill="#a2d66b" stroke="#93c065" stroke-width="0.3"/><path d="M92.6 197.5 97.9 198.9 103.4 197.7 98.1 196.3 Z" fill="#ddf8aa" stroke="#93c065" stroke-width="0.3"/><path d="M92.6 197.5 97.9 198.9 97.9 192.5 92.6 191.1 Z" fill="#c4ef8b" stroke="#93c065" stroke-width="0.3"/><path d="M97.9 198.9 103.4 197.7 103.4 191.3 97.9 192.5 Z" fill="#a2d66b" stroke="#93c065" stroke-width="0.3"/><path d="M92.6 191.1 97.9 192.5 103.4 191.3 98.1 189.9 Z" fill="#ddf8aa" stroke="#93c065" stroke-width="0.3"/><path d="M103.4 204.1 108.8 205.5 108.8 199.1 103.4 197.7 Z" fill="#c4ef8b" stroke="#93c065" stroke-width="0.3"/><path d="M108.8 205.5 114.3 204.3 114.3 197.9 108.8 199.1 Z" fill="#a2d66b" stroke="#93c065" stroke-width="0.3"/><path d="M103.4 197.7 108.8 199.1 114.3 197.9 108.9 196.5 Z" fill="#ddf8aa" stroke="#93c065" stroke-width="0.3"/><path d="M103.4 197.7 108.8 199.1 108.8 192.7 103.4 191.3 Z" fill="#c4ef8b" stroke="#93c065" stroke-width="0.3"/><path d="M108.8 199.1 114.3 197.9 114.3 191.5 108.8 192.7 Z" fill="#a2d66b" stroke="#93c065" stroke-width="0.3"/><path d="M103.4 191.3 108.8 192.7 114.3 191.5 108.9 190.1 Z" fill="#ddf8aa" stroke="#93c065" stroke-width="0.3"/><path d="M114.3 204.3 119.6 205.7 119.6 199.3 114.3 197.9 Z" fill="#c4ef8b" stroke="#93c065" stroke-width="0.3"/><path d="M119.6 205.7 125.1 204.5 125.1 198.1 119.6 199.3 Z" fill="#a2d66b" stroke="#93c065" stroke-width="0.3"/><path d="M114.3 197.9 119.6 199.3 125.1 198.1 119.8 196.7 Z" fill="#ddf8aa" stroke="#93c065" stroke-width="0.3"/><path d="M125.1 204.5 130.5 205.9 130.5 199.5 125.1 198.1 Z" fill="#c4ef8b" stroke="#93c065" stroke-width="0.3"/><path d="M130.5 205.9 136 204.7 136 198.3 130.5 199.5 Z" fill="#a2d66b" stroke="#93c065" stroke-width="0.3"/><path d="M125.1 198.1 130.5 199.5 136 198.3 130.6 196.9 Z" fill="#ddf8aa" stroke="#93c065" stroke-width="0.3"/><path d="M125.1 198.1 130.5 199.5 130.5 193.1 125.1 191.7 Z" fill="#c4ef8b" stroke="#93c065" stroke-width="0.3"/><path d="M130.5 199.5 136 198.3 136 191.9 130.5 193.1 Z" fill="#a2d66b" stroke="#93c065" stroke-width="0.3"/><path d="M125.1 191.7 130.5 193.1 136 191.9 130.6 190.5 Z" fill="#ddf8aa" stroke="#93c065" stroke-width="0.3"/><path d="M136 204.7 141.3 206.1 141.3 199.7 136 198.3 Z" fill="#c4ef8b" stroke="#93c065" stroke-width="0.3"/><path d="M141.3 206.1 146.8 204.9 146.8 198.5 141.3 199.7 Z" fill="#a2d66b" stroke="#93c065" stroke-width="0.3"/><path d="M136 198.3 141.3 199.7 146.8 198.5 141.5 197.1 Z" fill="#ddf8aa" stroke="#93c065" stroke-width="0.3"/><path d="M136 198.3 141.3 199.7 141.3 193.3 136 191.9 Z" fill="#c4ef8b" stroke="#93c065" stroke-width="0.3"/><path d="M141.3 199.7 146.8 198.5 146.8 192.1 141.3 193.3 Z" fill="#a2d66b" stroke="#93c065" stroke-width="0.3"/><path d="M136 191.9 141.3 193.3 146.8 192.1 141.5 190.7 Z" fill="#ddf8aa" stroke="#93c065" stroke-width="0.3"/><path d="M146.8 204.9 152.2 206.3 152.2 199.9 146.8 198.5 Z" fill="#c4ef8b" stroke="#93c065" stroke-width="0.3"/><path d="M152.2 206.3 157.7 205.1 157.7 198.7 152.2 199.9 Z" fill="#a2d66b" stroke="#93c065" stroke-width="0.3"/><path d="M146.8 198.5 152.2 199.9 157.7 198.7 152.3 197.4 Z" fill="#ddf8aa" stroke="#93c065" stroke-width="0.3"/><path d="M146.8 198.5 152.2 199.9 152.2 193.5 146.8 192.1 Z" fill="#c4ef8b" stroke="#93c065" stroke-width="0.3"/><path d="M152.2 199.9 157.7 198.7 157.7 192.3 152.2 193.5 Z" fill="#a2d66b" stroke="#93c065" stroke-width="0.3"/><path d="M146.8 192.1 152.2 193.5 157.7 192.3 152.3 191 Z" fill="#ddf8aa" stroke="#93c065" stroke-width="0.3"/><path d="M43.7 204.2 49 205.6 49 199.2 43.7 197.8 Z" fill="#c4ef8b" stroke="#93c065" stroke-width="0.3"/><path d="M49 205.6 54.5 204.4 54.5 198 49 199.2 Z" fill="#a2d66b" stroke="#93c065" stroke-width="0.3"/><path d="M43.7 197.8 49 199.2 54.5 198 49.2 196.7 Z" fill="#ddf8aa" stroke="#93c065" stroke-width="0.3"/><path d="M54.5 204.4 59.9 205.8 59.9 199.4 54.5 198 Z" fill="#c4ef8b" stroke="#93c065" stroke-width="0.3"/><path d="M59.9 205.8 65.4 204.6 65.4 198.2 59.9 199.4 Z" fill="#a2d66b" stroke="#93c065" stroke-width="0.3"/><path d="M54.5 198 59.9 199.4 65.4 198.2 60 196.9 Z" fill="#ddf8aa" stroke="#93c065" stroke-width="0.3"/><path d="M65.4 204.6 70.7 206 70.7 199.6 65.4 198.2 Z" fill="#c4ef8b" stroke="#93c065" stroke-width="0.3"/><path d="M70.7 206 76.2 204.9 76.2 198.5 70.7 199.6 Z" fill="#a2d66b" stroke="#93c065" stroke-width="0.3"/><path d="M65.4 198.2 70.7 199.6 76.2 198.5 70.9 197.1 Z" fill="#ddf8aa" stroke="#93c065" stroke-width="0.3"/><path d="M76.2 204.9 81.6 206.2 81.6 199.8 76.2 198.5 Z" fill="#c4ef8b" stroke="#93c065" stroke-width="0.3"/><path d="M81.6 206.2 87.1 205.1 87.1 198.7 81.6 199.8 Z" fill="#a2d66b" stroke="#93c065" stroke-width="0.3"/><path d="M76.2 198.5 81.6 199.8 87.1 198.7 81.7 197.3 Z" fill="#ddf8aa" stroke="#93c065" stroke-width="0.3"/><path d="M87.1 205.1 92.4 206.4 92.4 200 87.1 198.7 Z" fill="#c4ef8b" stroke="#93c065" stroke-width="0.3"/><path d="M92.4 206.4 97.9 205.3 97.9 198.9 92.4 200 Z" fill="#a2d66b" stroke="#93c065" stroke-width="0.3"/><path d="M87.1 198.7 92.4 200 97.9 198.9 92.6 197.5 Z" fill="#ddf8aa" stroke="#93c065" stroke-width="0.3"/><path d="M97.9 205.3 103.3 206.6 103.3 200.2 97.9 198.9 Z" fill="#c4ef8b" stroke="#93c065" stroke-width="0.3"/><path d="M103.3 206.6 108.8 205.5 108.8 199.1 103.3 200.2 Z" fill="#a2d66b" stroke="#93c065" stroke-width="0.3"/><path d="M97.9 198.9 103.3 200.2 108.8 199.1 103.4 197.7 Z" fill="#ddf8aa" stroke="#93c065" stroke-width="0.3"/><path d="M97.9 198.9 103.3 200.2 103.3 193.8 97.9 192.5 Z" fill="#c4ef8b" stroke="#93c065" stroke-width="0.3"/><path d="M103.3 200.2 108.8 199.1 108.8 192.7 103.3 193.8 Z" fill="#a2d66b" stroke="#93c065" stroke-width="0.3"/><path d="M97.9 192.5 103.3 193.8 108.8 192.7 103.4 191.3 Z" fill="#ddf8aa" stroke="#93c065" stroke-width="0.3"/><path d="M108.8 205.5 114.1 206.8 114.1 200.4 108.8 199.1 Z" fill="#c4ef8b" stroke="#93c065" stroke-width="0.3"/><path d="M114.1 206.8 119.6 205.7 119.6 199.3 114.1 200.4 Z" fill="#a2d66b" stroke="#93c065" stroke-width="0.3"/><path d="M108.8 199.1 114.1 200.4 119.6 199.3 114.3 197.9 Z" fill="#ddf8aa" stroke="#93c065" stroke-width="0.3"/><path d="M119.6 205.7 125 207 125 200.6 119.6 199.3 Z" fill="#c4ef8b" stroke="#93c065" stroke-width="0.3"/><path d="M125 207 130.5 205.9 130.5 199.5 125 200.6 Z" fill="#a2d66b" stroke="#93c065" stroke-width="0.3"/><path d="M119.6 199.3 125 200.6 130.5 199.5 125.1 198.1 Z" fill="#ddf8aa" stroke="#93c065" stroke-width="0.3"/><path d="M119.6 199.3 125 200.6 125 194.2 119.6 192.9 Z" fill="#c4ef8b" stroke="#93c065" stroke-width="0.3"/><path d="M125 200.6 130.5 199.5 130.5 193.1 125 194.2 Z" fill="#a2d66b" stroke="#93c065" stroke-width="0.3"/><path d="M119.6 192.9 125 194.2 130.5 193.1 125.1 191.7 Z" fill="#ddf8aa" stroke="#93c065" stroke-width="0.3"/><path d="M130.5 205.9 135.8 207.3 135.8 200.9 130.5 199.5 Z" fill="#c4ef8b" stroke="#93c065" stroke-width="0.3"/><path d="M135.8 207.3 141.3 206.1 141.3 199.7 135.8 200.9 Z" fill="#a2d66b" stroke="#93c065" stroke-width="0.3"/><path d="M130.5 199.5 135.8 200.9 141.3 199.7 136 198.3 Z" fill="#ddf8aa" stroke="#93c065" stroke-width="0.3"/><path d="M141.3 206.1 146.7 207.5 146.7 201.1 141.3 199.7 Z" fill="#c4ef8b" stroke="#93c065" stroke-width="0.3"/><path d="M146.7 207.5 152.2 206.3 152.2 199.9 146.7 201.1 Z" fill="#a2d66b" stroke="#93c065" stroke-width="0.3"/><path d="M141.3 199.7 146.7 201.1 152.2 199.9 146.8 198.5 Z" fill="#ddf8aa" stroke="#93c065" stroke-width="0.3"/><path d="M141.3 199.7 146.7 201.1 146.7 194.7 141.3 193.3 Z" fill="#c4ef8b" stroke="#93c065" stroke-width="0.3"/><path d="M146.7 201.1 152.2 199.9 152.2 193.5 146.7 194.7 Z" fill="#a2d66b" stroke="#93c065" stroke-width="0.3"/><path d="M141.3 193.3 146.7 194.7 152.2 193.5 146.8 192.1 Z" fill="#ddf8aa" stroke="#93c065" stroke-width="0.3"/><path d="M152.2 206.3 157.5 207.7 157.5 201.3 152.2 199.9 Z" fill="#c4ef8b" stroke="#93c065" stroke-width="0.3"/><path d="M157.5 207.7 163 206.5 163 200.1 157.5 201.3 Z" fill="#a2d66b" stroke="#93c065" stroke-width="0.3"/><path d="M152.2 199.9 157.5 201.3 163 200.1 157.7 198.7 Z" fill="#ddf8aa" stroke="#93c065" stroke-width="0.3"/><path d="M152.2 199.9 157.5 201.3 157.5 194.9 152.2 193.5 Z" fill="#c4ef8b" stroke="#93c065" stroke-width="0.3"/><path d="M157.5 201.3 163 200.1 163 193.7 157.5 194.9 Z" fill="#a2d66b" stroke="#93c065" stroke-width="0.3"/><path d="M152.2 193.5 157.5 194.9 163 193.7 157.7 192.3 Z" fill="#ddf8aa" stroke="#93c065" stroke-width="0.3"/><path d="M38.2 205.4 43.5 206.8 43.5 200.4 38.2 199 Z" fill="#c4ef8b" stroke="#93c065" stroke-width="0.3"/><path d="M43.5 206.8 49 205.6 49 199.2 43.5 200.4 Z" fill="#a2d66b" stroke="#93c065" stroke-width="0.3"/><path d="M38.2 199 43.5 200.4 49 199.2 43.7 197.8 Z" fill="#ddf8aa" stroke="#93c065" stroke-width="0.3"/><path d="M49 205.6 54.4 207 54.4 200.6 49 199.2 Z" fill="#c4ef8b" stroke="#93c065" stroke-width="0.3"/><path d="M54.4 207 59.9 205.8 59.9 199.4 54.4 200.6 Z" fill="#a2d66b" stroke="#93c065" stroke-width="0.3"/><path d="M49 199.2 54.4 200.6 59.9 199.4 54.5 198 Z" fill="#ddf8aa" stroke="#93c065" stroke-width="0.3"/><path d="M59.9 205.8 65.2 207.2 65.2 200.8 59.9 199.4 Z" fill="#c4ef8b" stroke="#93c065" stroke-width="0.3"/><path d="M65.2 207.2 70.7 206 70.7 199.6 65.2 200.8 Z" fill="#a2d66b" stroke="#93c065" stroke-width="0.3"/><path d="M59.9 199.4 65.2 200.8 70.7 199.6 65.4 198.2 Z" fill="#ddf8aa" stroke="#93c065" stroke-width="0.3"/><path d="M59.9 199.4 65.2 200.8 65.2 194.4 59.9 193 Z" fill="#c4ef8b" stroke="#93c065" stroke-width="0.3"/><path d="M65.2 200.8 70.7 199.6 70.7 193.2 65.2 194.4 Z" fill="#a2d66b" stroke="#93c065" stroke-width="0.3"/><path d="M59.9 193 65.2 194.4 70.7 193.2 65.4 191.8 Z" fill="#ddf8aa" stroke="#93c065" stroke-width="0.3"/><path d="M70.7 206 76.1 207.4 76.1 201 70.7 199.6 Z" fill="#c4ef8b" stroke="#93c065" stroke-width="0.3"/><path d="M76.1 207.4 81.6 206.2 81.6 199.8 76.1 201 Z" fill="#a2d66b" stroke="#93c065" stroke-width="0.3"/><path d="M70.7 199.6 76.1 201 81.6 199.8 76.2 198.5 Z" fill="#ddf8aa" stroke="#93c065" stroke-width="0.3"/><path d="M81.6 206.2 86.9 207.6 86.9 201.2 81.6 199.8 Z" fill="#c4ef8b" stroke="#93c065" stroke-width="0.3"/><path d="M86.9 207.6 92.4 206.4 92.4 200 86.9 201.2 Z" fill="#a2d66b" stroke="#93c065" stroke-width="0.3"/><path d="M81.6 199.8 86.9 201.2 92.4 200 87.1 198.7 Z" fill="#ddf8aa" stroke="#93c065" stroke-width="0.3"/><path d="M92.4 206.4 97.8 207.8 97.8 201.4 92.4 200 Z" fill="#c4ef8b" stroke="#93c065" stroke-width="0.3"/><path d="M97.8 207.8 103.3 206.6 103.3 200.2 97.8 201.4 Z" fill="#a2d66b" stroke="#93c065" stroke-width="0.3"/><path d="M92.4 200 97.8 201.4 103.3 200.2 97.9 198.9 Z" fill="#ddf8aa" stroke="#93c065" stroke-width="0.3"/><path d="M103.3 206.6 108.6 208 108.6 201.6 103.3 200.2 Z" fill="#c4ef8b" stroke="#93c065" stroke-width="0.3"/><path d="M108.6 208 114.1 206.8 114.1 200.4 108.6 201.6 Z" fill="#a2d66b" stroke="#93c065" stroke-width="0.3"/><path d="M103.3 200.2 108.6 201.6 114.1 200.4 108.8 199.1 Z" fill="#ddf8aa" stroke="#93c065" stroke-width="0.3"/><path d="M103.3 200.2 108.6 201.6 108.6 195.2 103.3 193.8 Z" fill="#c4ef8b" stroke="#93c065" stroke-width="0.3"/><path d="M108.6 201.6 114.1 200.4 114.1 194 108.6 195.2 Z" fill="#a2d66b" stroke="#93c065" stroke-width="0.3"/><path d="M103.3 193.8 108.6 195.2 114.1 194 108.8 192.7 Z" fill="#ddf8aa" stroke="#93c065" stroke-width="0.3"/><path d="M114.1 206.8 119.5 208.2 119.5 201.8 114.1 200.4 Z" fill="#c4ef8b" stroke="#93c065" stroke-width="0.3"/><path d="M119.5 208.2 125 207 125 200.6 119.5 201.8 Z" fill="#a2d66b" stroke="#93c065" stroke-width="0.3"/><path d="M114.1 200.4 119.5 201.8 125 200.6 119.6 199.3 Z" fill="#ddf8aa" stroke="#93c065" stroke-width="0.3"/><path d="M114.1 200.4 119.5 201.8 119.5 195.4 114.1 194 Z" fill="#c4ef8b" stroke="#93c065" stroke-width="0.3"/><path d="M119.5 201.8 125 200.6 125 194.2 119.5 195.4 Z" fill="#a2d66b" stroke="#93c065" stroke-width="0.3"/><path d="M114.1 194 119.5 195.4 125 194.2 119.6 192.9 Z" fill="#ddf8aa" stroke="#93c065" stroke-width="0.3"/><path d="M125 207 130.3 208.4 130.3 202 125 200.6 Z" fill="#c4ef8b" stroke="#93c065" stroke-width="0.3"/><path d="M130.3 208.4 135.8 207.3 135.8 200.9 130.3 202 Z" fill="#a2d66b" stroke="#93c065" stroke-width="0.3"/><path d="M125 200.6 130.3 202 135.8 200.9 130.5 199.5 Z" fill="#ddf8aa" stroke="#93c065" stroke-width="0.3"/><path d="M125 200.6 130.3 202 130.3 195.6 125 194.2 Z" fill="#c4ef8b" stroke="#93c065" stroke-width="0.3"/><path d="M130.3 202 135.8 200.9 135.8 194.5 130.3 195.6 Z" fill="#a2d66b" stroke="#93c065" stroke-width="0.3"/><path d="M125 194.2 130.3 195.6 135.8 194.5 130.5 193.1 Z" fill="#ddf8aa" stroke="#93c065" stroke-width="0.3"/><path d="M135.8 207.3 141.2 208.6 141.2 202.2 135.8 200.9 Z" fill="#c4ef8b" stroke="#93c065" stroke-width="0.3"/><path d="M141.2 208.6 146.7 207.5 146.7 201.1 141.2 202.2 Z" fill="#a2d66b" stroke="#93c065" stroke-width="0.3"/><path d="M135.8 200.9 141.2 202.2 146.7 201.1 141.3 199.7 Z" fill="#ddf8aa" stroke="#93c065" stroke-width="0.3"/><path d="M135.8 200.9 141.2 202.2 141.2 195.8 135.8 194.5 Z" fill="#c4ef8b" stroke="#93c065" stroke-width="0.3"/><path d="M141.2 202.2 146.7 201.1 146.7 194.7 141.2 195.8 Z" fill="#a2d66b" stroke="#93c065" stroke-width="0.3"/><path d="M135.8 194.5 141.2 195.8 146.7 194.7 141.3 193.3 Z" fill="#ddf8aa" stroke="#93c065" stroke-width="0.3"/><path d="M146.7 207.5 152 208.8 152 202.4 146.7 201.1 Z" fill="#c4ef8b" stroke="#93c065" stroke-width="0.3"/><path d="M152 208.8 157.5 207.7 157.5 201.3 152 202.4 Z" fill="#a2d66b" stroke="#93c065" stroke-width="0.3"/><path d="M146.7 201.1 152 202.4 157.5 201.3 152.2 199.9 Z" fill="#ddf8aa" stroke="#93c065" stroke-width="0.3"/><path d="M146.7 201.1 152 202.4 152 196 146.7 194.7 Z" fill="#c4ef8b" stroke="#93c065" stroke-width="0.3"/><path d="M152 202.4 157.5 201.3 157.5 194.9 152 196 Z" fill="#a2d66b" stroke="#93c065" stroke-width="0.3"/><path d="M146.7 194.7 152 196 157.5 194.9 152.2 193.5 Z" fill="#ddf8aa" stroke="#93c065" stroke-width="0.3"/><path d="M43.5 206.8 48.9 208.1 48.9 201.7 43.5 200.4 Z" fill="#c4ef8b" stroke="#93c065" stroke-width="0.3"/><path d="M48.9 208.1 54.4 207 54.4 200.6 48.9 201.7 Z" fill="#a2d66b" stroke="#93c065" stroke-width="0.3"/><path d="M43.5 200.4 48.9 201.7 54.4 200.6 49 199.2 Z" fill="#ddf8aa" stroke="#93c065" stroke-width="0.3"/><path d="M54.4 207 59.7 208.4 59.7 202 54.4 200.6 Z" fill="#c4ef8b" stroke="#93c065" stroke-width="0.3"/><path d="M59.7 208.4 65.2 207.2 65.2 200.8 59.7 202 Z" fill="#a2d66b" stroke="#93c065" stroke-width="0.3"/><path d="M54.4 200.6 59.7 202 65.2 200.8 59.9 199.4 Z" fill="#ddf8aa" stroke="#93c065" stroke-width="0.3"/><path d="M54.4 200.6 59.7 202 59.7 195.6 54.4 194.2 Z" fill="#c4ef8b" stroke="#93c065" stroke-width="0.3"/><path d="M59.7 202 65.2 200.8 65.2 194.4 59.7 195.6 Z" fill="#a2d66b" stroke="#93c065" stroke-width="0.3"/><path d="M54.4 194.2 59.7 195.6 65.2 194.4 59.9 193 Z" fill="#ddf8aa" stroke="#93c065" stroke-width="0.3"/><path d="M65.2 207.2 70.6 208.6 70.6 202.2 65.2 200.8 Z" fill="#c4ef8b" stroke="#93c065" stroke-width="0.3"/><path d="M70.6 208.6 76.1 207.4 76.1 201 70.6 202.2 Z" fill="#a2d66b" stroke="#93c065" stroke-width="0.3"/><path d="M65.2 200.8 70.6 202.2 76.1 201 70.7 199.6 Z" fill="#ddf8aa" stroke="#93c065" stroke-width="0.3"/><path d="M76.1 207.4 81.4 208.8 81.4 202.4 76.1 201 Z" fill="#c4ef8b" stroke="#93c065" stroke-width="0.3"/><path d="M81.4 208.8 86.9 207.6 86.9 201.2 81.4 202.4 Z" fill="#a2d66b" stroke="#93c065" stroke-width="0.3"/><path d="M76.1 201 81.4 202.4 86.9 201.2 81.6 199.8 Z" fill="#ddf8aa" stroke="#93c065" stroke-width="0.3"/><path d="M76.1 201 81.4 202.4 81.4 196 76.1 194.6 Z" fill="#c4ef8b" stroke="#93c065" stroke-width="0.3"/><path d="M81.4 202.4 86.9 201.2 86.9 194.8 81.4 196 Z" fill="#a2d66b" stroke="#93c065" stroke-width="0.3"/><path d="M76.1 194.6 81.4 196 86.9 194.8 81.6 193.4 Z" fill="#ddf8aa" stroke="#93c065" stroke-width="0.3"/><path d="M86.9 207.6 92.3 209 92.3 202.6 86.9 201.2 Z" fill="#c4ef8b" stroke="#93c065" stroke-width="0.3"/><path d="M92.3 209 97.8 207.8 97.8 201.4 92.3 202.6 Z" fill="#a2d66b" stroke="#93c065" stroke-width="0.3"/><path d="M86.9 201.2 92.3 202.6 97.8 201.4 92.4 200 Z" fill="#ddf8aa" stroke="#93c065" stroke-width="0.3"/><path d="M86.9 201.2 92.3 202.6 92.3 196.2 86.9 194.8 Z" fill="#c4ef8b" stroke="#93c065" stroke-width="0.3"/><path d="M92.3 202.6 97.8 201.4 97.8 195 92.3 196.2 Z" fill="#a2d66b" stroke="#93c065" stroke-width="0.3"/><path d="M86.9 194.8 92.3 196.2 97.8 195 92.4 193.6 Z" fill="#ddf8aa" stroke="#93c065" stroke-width="0.3"/><path d="M97.8 207.8 103.1 209.2 103.1 202.8 97.8 201.4 Z" fill="#c4ef8b" stroke="#93c065" stroke-width="0.3"/><path d="M103.1 209.2 108.6 208 108.6 201.6 103.1 202.8 Z" fill="#a2d66b" stroke="#93c065" stroke-width="0.3"/><path d="M97.8 201.4 103.1 202.8 108.6 201.6 103.3 200.2 Z" fill="#ddf8aa" stroke="#93c065" stroke-width="0.3"/><path d="M108.6 208 114 209.4 114 203 108.6 201.6 Z" fill="#c4ef8b" stroke="#93c065" stroke-width="0.3"/><path d="M114 209.4 119.5 208.2 119.5 201.8 114 203 Z" fill="#a2d66b" stroke="#93c065" stroke-width="0.3"/><path d="M108.6 201.6 114 203 119.5 201.8 114.1 200.4 Z" fill="#ddf8aa" stroke="#93c065" stroke-width="0.3"/><path d="M108.6 201.6 114 203 114 196.6 108.6 195.2 Z" fill="#c4ef8b" stroke="#93c065" stroke-width="0.3"/><path d="M114 203 119.5 201.8 119.5 195.4 114 196.6 Z" fill="#a2d66b" stroke="#93c065" stroke-width="0.3"/><path d="M108.6 195.2 114 196.6 119.5 195.4 114.1 194 Z" fill="#ddf8aa" stroke="#93c065" stroke-width="0.3"/><path d="M119.5 208.2 124.8 209.6 124.8 203.2 119.5 201.8 Z" fill="#c4ef8b" stroke="#93c065" stroke-width="0.3"/><path d="M124.8 209.6 130.3 208.4 130.3 202 124.8 203.2 Z" fill="#a2d66b" stroke="#93c065" stroke-width="0.3"/><path d="M119.5 201.8 124.8 203.2 130.3 202 125 200.6 Z" fill="#ddf8aa" stroke="#93c065" stroke-width="0.3"/><path d="M119.5 201.8 124.8 203.2 124.8 196.8 119.5 195.4 Z" fill="#c4ef8b" stroke="#93c065" stroke-width="0.3"/><path d="M124.8 203.2 130.3 202 130.3 195.6 124.8 196.8 Z" fill="#a2d66b" stroke="#93c065" stroke-width="0.3"/><path d="M119.5 195.4 124.8 196.8 130.3 195.6 125 194.2 Z" fill="#ddf8aa" stroke="#93c065" stroke-width="0.3"/><path d="M130.3 208.4 135.7 209.8 135.7 203.4 130.3 202 Z" fill="#c4ef8b" stroke="#93c065" stroke-width="0.3"/><path d="M135.7 209.8 141.2 208.6 141.2 202.2 135.7 203.4 Z" fill="#a2d66b" stroke="#93c065" stroke-width="0.3"/><path d="M130.3 202 135.7 203.4 141.2 202.2 135.8 200.9 Z" fill="#ddf8aa" stroke="#93c065" stroke-width="0.3"/><path d="M130.3 202 135.7 203.4 135.7 197 130.3 195.6 Z" fill="#c4ef8b" stroke="#93c065" stroke-width="0.3"/><path d="M135.7 203.4 141.2 202.2 141.2 195.8 135.7 197 Z" fill="#a2d66b" stroke="#93c065" stroke-width="0.3"/><path d="M130.3 195.6 135.7 197 141.2 195.8 135.8 194.5 Z" fill="#ddf8aa" stroke="#93c065" stroke-width="0.3"/><path d="M141.2 208.6 146.5 210 146.5 203.6 141.2 202.2 Z" fill="#c4ef8b" stroke="#93c065" stroke-width="0.3"/><path d="M146.5 210 152 208.8 152 202.4 146.5 203.6 Z" fill="#a2d66b" stroke="#93c065" stroke-width="0.3"/><path d="M141.2 202.2 146.5 203.6 152 202.4 146.7 201.1 Z" fill="#ddf8aa" stroke="#93c065" stroke-width="0.3"/><path d="M141.2 202.2 146.5 203.6 146.5 197.2 141.2 195.8 Z" fill="#c4ef8b" stroke="#93c065" stroke-width="0.3"/><path d="M146.5 203.6 152 202.4 152 196 146.5 197.2 Z" fill="#a2d66b" stroke="#93c065" stroke-width="0.3"/><path d="M141.2 195.8 146.5 197.2 152 196 146.7 194.7 Z" fill="#ddf8aa" stroke="#93c065" stroke-width="0.3"/><path d="M48.9 208.1 54.2 209.5 54.2 203.1 48.9 201.7 Z" fill="#c4ef8b" stroke="#93c065" stroke-width="0.3"/><path d="M54.2 209.5 59.7 208.4 59.7 202 54.2 203.1 Z" fill="#a2d66b" stroke="#93c065" stroke-width="0.3"/><path d="M48.9 201.7 54.2 203.1 59.7 202 54.4 200.6 Z" fill="#ddf8aa" stroke="#93c065" stroke-width="0.3"/><path d="M59.7 208.4 65.1 209.7 65.1 203.3 59.7 202 Z" fill="#c4ef8b" stroke="#93c065" stroke-width="0.3"/><path d="M65.1 209.7 70.6 208.6 70.6 202.2 65.1 203.3 Z" fill="#a2d66b" stroke="#93c065" stroke-width="0.3"/><path d="M59.7 202 65.1 203.3 70.6 202.2 65.2 200.8 Z" fill="#ddf8aa" stroke="#93c065" stroke-width="0.3"/><path d="M70.6 208.6 75.9 209.9 75.9 203.5 70.6 202.2 Z" fill="#c4ef8b" stroke="#93c065" stroke-width="0.3"/><path d="M75.9 209.9 81.4 208.8 81.4 202.4 75.9 203.5 Z" fill="#a2d66b" stroke="#93c065" stroke-width="0.3"/><path d="M70.6 202.2 75.9 203.5 81.4 202.4 76.1 201 Z" fill="#ddf8aa" stroke="#93c065" stroke-width="0.3"/><path d="M70.6 202.2 75.9 203.5 75.9 197.1 70.6 195.8 Z" fill="#c4ef8b" stroke="#93c065" stroke-width="0.3"/><path d="M75.9 203.5 81.4 202.4 81.4 196 75.9 197.1 Z" fill="#a2d66b" stroke="#93c065" stroke-width="0.3"/><path d="M70.6 195.8 75.9 197.1 81.4 196 76.1 194.6 Z" fill="#ddf8aa" stroke="#93c065" stroke-width="0.3"/><path d="M81.4 208.8 86.8 210.1 86.8 203.7 81.4 202.4 Z" fill="#c4ef8b" stroke="#93c065" stroke-width="0.3"/><path d="M86.8 210.1 92.3 209 92.3 202.6 86.8 203.7 Z" fill="#a2d66b" stroke="#93c065" stroke-width="0.3"/><path d="M81.4 202.4 86.8 203.7 92.3 202.6 86.9 201.2 Z" fill="#ddf8aa" stroke="#93c065" stroke-width="0.3"/><path d="M92.3 209 97.6 210.3 97.6 203.9 92.3 202.6 Z" fill="#c4ef8b" stroke="#93c065" stroke-width="0.3"/><path d="M97.6 210.3 103.1 209.2 103.1 202.8 97.6 203.9 Z" fill="#a2d66b" stroke="#93c065" stroke-width="0.3"/><path d="M92.3 202.6 97.6 203.9 103.1 202.8 97.8 201.4 Z" fill="#ddf8aa" stroke="#93c065" stroke-width="0.3"/><path d="M92.3 202.6 97.6 203.9 97.6 197.5 92.3 196.2 Z" fill="#c4ef8b" stroke="#93c065" stroke-width="0.3"/><path d="M97.6 203.9 103.1 202.8 103.1 196.4 97.6 197.5 Z" fill="#a2d66b" stroke="#93c065" stroke-width="0.3"/><path d="M92.3 196.2 97.6 197.5 103.1 196.4 97.8 195 Z" fill="#ddf8aa" stroke="#93c065" stroke-width="0.3"/><path d="M103.1 209.2 108.5 210.5 108.5 204.1 103.1 202.8 Z" fill="#c4ef8b" stroke="#93c065" stroke-width="0.3"/><path d="M108.5 210.5 114 209.4 114 203 108.5 204.1 Z" fill="#a2d66b" stroke="#93c065" stroke-width="0.3"/><path d="M103.1 202.8 108.5 204.1 114 203 108.6 201.6 Z" fill="#ddf8aa" stroke="#93c065" stroke-width="0.3"/><path d="M114 209.4 119.3 210.8 119.3 204.4 114 203 Z" fill="#c4ef8b" stroke="#93c065" stroke-width="0.3"/><path d="M119.3 210.8 124.8 209.6 124.8 203.2 119.3 204.4 Z" fill="#a2d66b" stroke="#93c065" stroke-width="0.3"/><path d="M114 203 119.3 204.4 124.8 203.2 119.5 201.8 Z" fill="#ddf8aa" stroke="#93c065" stroke-width="0.3"/><path d="M114 203 119.3 204.4 119.3 198 114 196.6 Z" fill="#c4ef8b" stroke="#93c065" stroke-width="0.3"/><path d="M119.3 204.4 124.8 203.2 124.8 196.8 119.3 198 Z" fill="#a2d66b" stroke="#93c065" stroke-width="0.3"/><path d="M114 196.6 119.3 198 124.8 196.8 119.5 195.4 Z" fill="#ddf8aa" stroke="#93c065" stroke-width="0.3"/><path d="M124.8 209.6 130.2 211 130.2 204.6 124.8 203.2 Z" fill="#c4ef8b" stroke="#93c065" stroke-width="0.3"/><path d="M130.2 211 135.7 209.8 135.7 203.4 130.2 204.6 Z" fill="#a2d66b" stroke="#93c065" stroke-width="0.3"/><path d="M124.8 203.2 130.2 204.6 135.7 203.4 130.3 202 Z" fill="#ddf8aa" stroke="#93c065" stroke-width="0.3"/><path d="M135.7 209.8 141 211.2 141 204.8 135.7 203.4 Z" fill="#c4ef8b" stroke="#93c065" stroke-width="0.3"/><path d="M141 211.2 146.5 210 146.5 203.6 141 204.8 Z" fill="#a2d66b" stroke="#93c065" stroke-width="0.3"/><path d="M135.7 203.4 141 204.8 146.5 203.6 141.2 202.2 Z" fill="#ddf8aa" stroke="#93c065" stroke-width="0.3"/><path d="M135.7 203.4 141 204.8 141 198.4 135.7 197 Z" fill="#c4ef8b" stroke="#93c065" stroke-width="0.3"/><path d="M141 204.8 146.5 203.6 146.5 197.2 141 198.4 Z" fill="#a2d66b" stroke="#93c065" stroke-width="0.3"/><path d="M135.7 197 141 198.4 146.5 197.2 141.2 195.8 Z" fill="#ddf8aa" stroke="#93c065" stroke-width="0.3"/><path d="M54.2 209.5 59.6 210.9 59.6 204.5 54.2 203.1 Z" fill="#c4ef8b" stroke="#93c065" stroke-width="0.3"/><path d="M59.6 210.9 65.1 209.7 65.1 203.3 59.6 204.5 Z" fill="#a2d66b" stroke="#93c065" stroke-width="0.3"/><path d="M54.2 203.1 59.6 204.5 65.1 203.3 59.7 202 Z" fill="#ddf8aa" stroke="#93c065" stroke-width="0.3"/><path d="M54.2 203.1 59.6 204.5 59.6 198.1 54.2 196.7 Z" fill="#c4ef8b" stroke="#93c065" stroke-width="0.3"/><path d="M59.6 204.5 65.1 203.3 65.1 196.9 59.6 198.1 Z" fill="#a2d66b" stroke="#93c065" stroke-width="0.3"/><path d="M54.2 196.7 59.6 198.1 65.1 196.9 59.7 195.6 Z" fill="#ddf8aa" stroke="#93c065" stroke-width="0.3"/><path d="M65.1 209.7 70.4 211.1 70.4 204.7 65.1 203.3 Z" fill="#c4ef8b" stroke="#93c065" stroke-width="0.3"/><path d="M70.4 211.1 75.9 209.9 75.9 203.5 70.4 204.7 Z" fill="#a2d66b" stroke="#93c065" stroke-width="0.3"/><path d="M65.1 203.3 70.4 204.7 75.9 203.5 70.6 202.2 Z" fill="#ddf8aa" stroke="#93c065" stroke-width="0.3"/><path d="M75.9 209.9 81.3 211.3 81.3 204.9 75.9 203.5 Z" fill="#c4ef8b" stroke="#93c065" stroke-width="0.3"/><path d="M81.3 211.3 86.8 210.1 86.8 203.7 81.3 204.9 Z" fill="#a2d66b" stroke="#93c065" stroke-width="0.3"/><path d="M75.9 203.5 81.3 204.9 86.8 203.7 81.4 202.4 Z" fill="#ddf8aa" stroke="#93c065" stroke-width="0.3"/><path d="M75.9 203.5 81.3 204.9 81.3 198.5 75.9 197.1 Z" fill="#c4ef8b" stroke="#93c065" stroke-width="0.3"/><path d="M81.3 204.9 86.8 203.7 86.8 197.3 81.3 198.5 Z" fill="#a2d66b" stroke="#93c065" stroke-width="0.3"/><path d="M75.9 197.1 81.3 198.5 86.8 197.3 81.4 196 Z" fill="#ddf8aa" stroke="#93c065" stroke-width="0.3"/><path d="M86.8 210.1 92.1 211.5 92.1 205.1 86.8 203.7 Z" fill="#c4ef8b" stroke="#93c065" stroke-width="0.3"/><path d="M92.1 211.5 97.6 210.3 97.6 203.9 92.1 205.1 Z" fill="#a2d66b" stroke="#93c065" stroke-width="0.3"/><path d="M86.8 203.7 92.1 205.1 97.6 203.9 92.3 202.6 Z" fill="#ddf8aa" stroke="#93c065" stroke-width="0.3"/><path d="M86.8 203.7 92.1 205.1 92.1 198.7 86.8 197.3 Z" fill="#c4ef8b" stroke="#93c065" stroke-width="0.3"/><path d="M92.1 205.1 97.6 203.9 97.6 197.5 92.1 198.7 Z" fill="#a2d66b" stroke="#93c065" stroke-width="0.3"/><path d="M86.8 197.3 92.1 198.7 97.6 197.5 92.3 196.2 Z" fill="#ddf8aa" stroke="#93c065" stroke-width="0.3"/><path d="M97.6 210.3 103 211.7 103 205.3 97.6 203.9 Z" fill="#c4ef8b" stroke="#93c065" stroke-width="0.3"/><path d="M103 211.7 108.5 210.5 108.5 204.1 103 205.3 Z" fill="#a2d66b" stroke="#93c065" stroke-width="0.3"/><path d="M97.6 203.9 103 205.3 108.5 204.1 103.1 202.8 Z" fill="#ddf8aa" stroke="#93c065" stroke-width="0.3"/><path d="M97.6 203.9 103 205.3 103 198.9 97.6 197.5 Z" fill="#c4ef8b" stroke="#93c065" stroke-width="0.3"/><path d="M103 205.3 108.5 204.1 108.5 197.7 103 198.9 Z" fill="#a2d66b" stroke="#93c065" stroke-width="0.3"/><path d="M97.6 197.5 103 198.9 108.5 197.7 103.1 196.4 Z" fill="#ddf8aa" stroke="#93c065" stroke-width="0.3"/><path d="M108.5 210.5 113.8 211.9 113.8 205.5 108.5 204.1 Z" fill="#c4ef8b" stroke="#93c065" stroke-width="0.3"/><path d="M113.8 211.9 119.3 210.8 119.3 204.4 113.8 205.5 Z" fill="#a2d66b" stroke="#93c065" stroke-width="0.3"/><path d="M108.5 204.1 113.8 205.5 119.3 204.4 114 203 Z" fill="#ddf8aa" stroke="#93c065" stroke-width="0.3"/><path d="M108.5 204.1 113.8 205.5 113.8 199.1 108.5 197.7 Z" fill="#c4ef8b" stroke="#93c065" stroke-width="0.3"/><path d="M113.8 205.5 119.3 204.4 119.3 198 113.8 199.1 Z" fill="#a2d66b" stroke="#93c065" stroke-width="0.3"/><path d="M108.5 197.7 113.8 199.1 119.3 198 114 196.6 Z" fill="#ddf8aa" stroke="#93c065" stroke-width="0.3"/><path d="M119.3 210.8 124.7 212.1 124.7 205.7 119.3 204.4 Z" fill="#c4ef8b" stroke="#93c065" stroke-width="0.3"/><path d="M124.7 212.1 130.2 211 130.2 204.6 124.7 205.7 Z" fill="#a2d66b" stroke="#93c065" stroke-width="0.3"/><path d="M119.3 204.4 124.7 205.7 130.2 204.6 124.8 203.2 Z" fill="#ddf8aa" stroke="#93c065" stroke-width="0.3"/><path d="M119.3 204.4 124.7 205.7 124.7 199.3 119.3 198 Z" fill="#c4ef8b" stroke="#93c065" stroke-width="0.3"/><path d="M124.7 205.7 130.2 204.6 130.2 198.2 124.7 199.3 Z" fill="#a2d66b" stroke="#93c065" stroke-width="0.3"/><path d="M119.3 198 124.7 199.3 130.2 198.2 124.8 196.8 Z" fill="#ddf8aa" stroke="#93c065" stroke-width="0.3"/><path d="M130.2 211 135.5 212.3 135.5 205.9 130.2 204.6 Z" fill="#c4ef8b" stroke="#93c065" stroke-width="0.3"/><path d="M135.5 212.3 141 211.2 141 204.8 135.5 205.9 Z" fill="#a2d66b" stroke="#93c065" stroke-width="0.3"/><path d="M130.2 204.6 135.5 205.9 141 204.8 135.7 203.4 Z" fill="#ddf8aa" stroke="#93c065" stroke-width="0.3"/><path d="M130.2 204.6 135.5 205.9 135.5 199.5 130.2 198.2 Z" fill="#c4ef8b" stroke="#93c065" stroke-width="0.3"/><path d="M135.5 205.9 141 204.8 141 198.4 135.5 199.5 Z" fill="#a2d66b" stroke="#93c065" stroke-width="0.3"/><path d="M130.2 198.2 135.5 199.5 141 198.4 135.7 197 Z" fill="#ddf8aa" stroke="#93c065" stroke-width="0.3"/><path d="M59.6 210.9 64.9 212.3 64.9 205.9 59.6 204.5 Z" fill="#c4ef8b" stroke="#93c065" stroke-width="0.3"/><path d="M64.9 212.3 70.4 211.1 70.4 204.7 64.9 205.9 Z" fill="#a2d66b" stroke="#93c065" stroke-width="0.3"/><path d="M59.6 204.5 64.9 205.9 70.4 204.7 65.1 203.3 Z" fill="#ddf8aa" stroke="#93c065" stroke-width="0.3"/><path d="M59.6 204.5 64.9 205.9 64.9 199.5 59.6 198.1 Z" fill="#c4ef8b" stroke="#93c065" stroke-width="0.3"/><path d="M64.9 205.9 70.4 204.7 70.4 198.3 64.9 199.5 Z" fill="#a2d66b" stroke="#93c065" stroke-width="0.3"/><path d="M59.6 198.1 64.9 199.5 70.4 198.3 65.1 196.9 Z" fill="#ddf8aa" stroke="#93c065" stroke-width="0.3"/><path d="M70.4 211.1 75.8 212.5 75.8 206.1 70.4 204.7 Z" fill="#c4ef8b" stroke="#93c065" stroke-width="0.3"/><path d="M75.8 212.5 81.3 211.3 81.3 204.9 75.8 206.1 Z" fill="#a2d66b" stroke="#93c065" stroke-width="0.3"/><path d="M70.4 204.7 75.8 206.1 81.3 204.9 75.9 203.5 Z" fill="#ddf8aa" stroke="#93c065" stroke-width="0.3"/><path d="M81.3 211.3 86.6 212.7 86.6 206.3 81.3 204.9 Z" fill="#c4ef8b" stroke="#93c065" stroke-width="0.3"/><path d="M86.6 212.7 92.1 211.5 92.1 205.1 86.6 206.3 Z" fill="#a2d66b" stroke="#93c065" stroke-width="0.3"/><path d="M81.3 204.9 86.6 206.3 92.1 205.1 86.8 203.7 Z" fill="#ddf8aa" stroke="#93c065" stroke-width="0.3"/><path d="M81.3 204.9 86.6 206.3 86.6 199.9 81.3 198.5 Z" fill="#c4ef8b" stroke="#93c065" stroke-width="0.3"/><path d="M86.6 206.3 92.1 205.1 92.1 198.7 86.6 199.9 Z" fill="#a2d66b" stroke="#93c065" stroke-width="0.3"/><path d="M81.3 198.5 86.6 199.9 92.1 198.7 86.8 197.3 Z" fill="#ddf8aa" stroke="#93c065" stroke-width="0.3"/><path d="M92.1 211.5 97.5 212.9 97.5 206.5 92.1 205.1 Z" fill="#c4ef8b" stroke="#93c065" stroke-width="0.3"/><path d="M97.5 212.9 103 211.7 103 205.3 97.5 206.5 Z" fill="#a2d66b" stroke="#93c065" stroke-width="0.3"/><path d="M92.1 205.1 97.5 206.5 103 205.3 97.6 203.9 Z" fill="#ddf8aa" stroke="#93c065" stroke-width="0.3"/><path d="M103 211.7 108.3 213.1 108.3 206.7 103 205.3 Z" fill="#c4ef8b" stroke="#93c065" stroke-width="0.3"/><path d="M108.3 213.1 113.8 211.9 113.8 205.5 108.3 206.7 Z" fill="#a2d66b" stroke="#93c065" stroke-width="0.3"/><path d="M103 205.3 108.3 206.7 113.8 205.5 108.5 204.1 Z" fill="#ddf8aa" stroke="#93c065" stroke-width="0.3"/><path d="M113.8 211.9 119.2 213.3 119.2 206.9 113.8 205.5 Z" fill="#c4ef8b" stroke="#93c065" stroke-width="0.3"/><path d="M119.2 213.3 124.7 212.1 124.7 205.7 119.2 206.9 Z" fill="#a2d66b" stroke="#93c065" stroke-width="0.3"/><path d="M113.8 205.5 119.2 206.9 124.7 205.7 119.3 204.4 Z" fill="#ddf8aa" stroke="#93c065" stroke-width="0.3"/><path d="M113.8 205.5 119.2 206.9 119.2 200.5 113.8 199.1 Z" fill="#c4ef8b" stroke="#93c065" stroke-width="0.3"/><path d="M119.2 206.9 124.7 205.7 124.7 199.3 119.2 200.5 Z" fill="#a2d66b" stroke="#93c065" stroke-width="0.3"/><path d="M113.8 199.1 119.2 200.5 124.7 199.3 119.3 198 Z" fill="#ddf8aa" stroke="#93c065" stroke-width="0.3"/><path d="M124.7 212.1 130 213.5 130 207.1 124.7 205.7 Z" fill="#c4ef8b" stroke="#93c065" stroke-width="0.3"/><path d="M130 213.5 135.5 212.3 135.5 205.9 130 207.1 Z" fill="#a2d66b" stroke="#93c065" stroke-width="0.3"/><path d="M124.7 205.7 130 207.1 135.5 205.9 130.2 204.6 Z" fill="#ddf8aa" stroke="#93c065" stroke-width="0.3"/><path d="M64.9 212.3 70.3 213.6 70.3 207.2 64.9 205.9 Z" fill="#c4ef8b" stroke="#93c065" stroke-width="0.3"/><path d="M70.3 213.6 75.8 212.5 75.8 206.1 70.3 207.2 Z" fill="#a2d66b" stroke="#93c065" stroke-width="0.3"/><path d="M64.9 205.9 70.3 207.2 75.8 206.1 70.4 204.7 Z" fill="#ddf8aa" stroke="#93c065" stroke-width="0.3"/><path d="M75.8 212.5 81.1 213.8 81.1 207.4 75.8 206.1 Z" fill="#c4ef8b" stroke="#93c065" stroke-width="0.3"/><path d="M81.1 213.8 86.6 212.7 86.6 206.3 81.1 207.4 Z" fill="#a2d66b" stroke="#93c065" stroke-width="0.3"/><path d="M75.8 206.1 81.1 207.4 86.6 206.3 81.3 204.9 Z" fill="#ddf8aa" stroke="#93c065" stroke-width="0.3"/><path d="M86.6 212.7 92 214 92 207.6 86.6 206.3 Z" fill="#c4ef8b" stroke="#93c065" stroke-width="0.3"/><path d="M92 214 97.5 212.9 97.5 206.5 92 207.6 Z" fill="#a2d66b" stroke="#93c065" stroke-width="0.3"/><path d="M86.6 206.3 92 207.6 97.5 206.5 92.1 205.1 Z" fill="#ddf8aa" stroke="#93c065" stroke-width="0.3"/><path d="M86.6 206.3 92 207.6 92 201.2 86.6 199.9 Z" fill="#c4ef8b" stroke="#93c065" stroke-width="0.3"/><path d="M92 207.6 97.5 206.5 97.5 200.1 92 201.2 Z" fill="#a2d66b" stroke="#93c065" stroke-width="0.3"/><path d="M86.6 199.9 92 201.2 97.5 200.1 92.1 198.7 Z" fill="#ddf8aa" stroke="#93c065" stroke-width="0.3"/><path d="M97.5 212.9 102.8 214.3 102.8 207.9 97.5 206.5 Z" fill="#c4ef8b" stroke="#93c065" stroke-width="0.3"/><path d="M102.8 214.3 108.3 213.1 108.3 206.7 102.8 207.9 Z" fill="#a2d66b" stroke="#93c065" stroke-width="0.3"/><path d="M97.5 206.5 102.8 207.9 108.3 206.7 103 205.3 Z" fill="#ddf8aa" stroke="#93c065" stroke-width="0.3"/><path d="M97.5 206.5 102.8 207.9 102.8 201.5 97.5 200.1 Z" fill="#c4ef8b" stroke="#93c065" stroke-width="0.3"/><path d="M102.8 207.9 108.3 206.7 108.3 200.3 102.8 201.5 Z" fill="#a2d66b" stroke="#93c065" stroke-width="0.3"/><path d="M97.5 200.1 102.8 201.5 108.3 200.3 103 198.9 Z" fill="#ddf8aa" stroke="#93c065" stroke-width="0.3"/><path d="M108.3 213.1 113.7 214.5 113.7 208.1 108.3 206.7 Z" fill="#c4ef8b" stroke="#93c065" stroke-width="0.3"/><path d="M113.7 214.5 119.2 213.3 119.2 206.9 113.7 208.1 Z" fill="#a2d66b" stroke="#93c065" stroke-width="0.3"/><path d="M108.3 206.7 113.7 208.1 119.2 206.9 113.8 205.5 Z" fill="#ddf8aa" stroke="#93c065" stroke-width="0.3"/><path d="M108.3 206.7 113.7 208.1 113.7 201.7 108.3 200.3 Z" fill="#c4ef8b" stroke="#93c065" stroke-width="0.3"/><path d="M113.7 208.1 119.2 206.9 119.2 200.5 113.7 201.7 Z" fill="#a2d66b" stroke="#93c065" stroke-width="0.3"/><path d="M108.3 200.3 113.7 201.7 119.2 200.5 113.8 199.1 Z" fill="#ddf8aa" stroke="#93c065" stroke-width="0.3"/><path d="M119.2 213.3 124.5 214.7 124.5 208.3 119.2 206.9 Z" fill="#c4ef8b" stroke="#93c065" stroke-width="0.3"/><path d="M124.5 214.7 130 213.5 130 207.1 124.5 208.3 Z" fill="#a2d66b" stroke="#93c065" stroke-width="0.3"/><path d="M119.2 206.9 124.5 208.3 130 207.1 124.7 205.7 Z" fill="#ddf8aa" stroke="#93c065" stroke-width="0.3"/><path d="M119.2 206.9 124.5 208.3 124.5 201.9 119.2 200.5 Z" fill="#c4ef8b" stroke="#93c065" stroke-width="0.3"/><path d="M124.5 208.3 130 207.1 130 200.7 124.5 201.9 Z" fill="#a2d66b" stroke="#93c065" stroke-width="0.3"/><path d="M119.2 200.5 124.5 201.9 130 200.7 124.7 199.3 Z" fill="#ddf8aa" stroke="#93c065" stroke-width="0.3"/><path d="M70.3 213.6 75.6 215 75.6 208.6 70.3 207.2 Z" fill="#c4ef8b" stroke="#93c065" stroke-width="0.3"/><path d="M75.6 215 81.1 213.8 81.1 207.4 75.6 208.6 Z" fill="#a2d66b" stroke="#93c065" stroke-width="0.3"/><path d="M70.3 207.2 75.6 208.6 81.1 207.4 75.8 206.1 Z" fill="#ddf8aa" stroke="#93c065" stroke-width="0.3"/><path d="M81.1 213.8 86.5 215.2 86.5 208.8 81.1 207.4 Z" fill="#c4ef8b" stroke="#93c065" stroke-width="0.3"/><path d="M86.5 215.2 92 214 92 207.6 86.5 208.8 Z" fill="#a2d66b" stroke="#93c065" stroke-width="0.3"/><path d="M81.1 207.4 86.5 208.8 92 207.6 86.6 206.3 Z" fill="#ddf8aa" stroke="#93c065" stroke-width="0.3"/><path d="M81.1 207.4 86.5 208.8 86.5 202.4 81.1 201 Z" fill="#c4ef8b" stroke="#93c065" stroke-width="0.3"/><path d="M86.5 208.8 92 207.6 92 201.2 86.5 202.4 Z" fill="#a2d66b" stroke="#93c065" stroke-width="0.3"/><path d="M81.1 201 86.5 202.4 92 201.2 86.6 199.9 Z" fill="#ddf8aa" stroke="#93c065" stroke-width="0.3"/><path d="M92 214 97.3 215.4 97.3 209 92 207.6 Z" fill="#c4ef8b" stroke="#93c065" stroke-width="0.3"/><path d="M97.3 215.4 102.8 214.3 102.8 207.9 97.3 209 Z" fill="#a2d66b" stroke="#93c065" stroke-width="0.3"/><path d="M92 207.6 97.3 209 102.8 207.9 97.5 206.5 Z" fill="#ddf8aa" stroke="#93c065" stroke-width="0.3"/><path d="M92 207.6 97.3 209 97.3 202.6 92 201.2 Z" fill="#c4ef8b" stroke="#93c065" stroke-width="0.3"/><path d="M97.3 209 102.8 207.9 102.8 201.5 97.3 202.6 Z" fill="#a2d66b" stroke="#93c065" stroke-width="0.3"/><path d="M92 201.2 97.3 202.6 102.8 201.5 97.5 200.1 Z" fill="#ddf8aa" stroke="#93c065" stroke-width="0.3"/><path d="M102.8 214.3 108.2 215.6 108.2 209.2 102.8 207.9 Z" fill="#c4ef8b" stroke="#93c065" stroke-width="0.3"/><path d="M108.2 215.6 113.7 214.5 113.7 208.1 108.2 209.2 Z" fill="#a2d66b" stroke="#93c065" stroke-width="0.3"/><path d="M102.8 207.9 108.2 209.2 113.7 208.1 108.3 206.7 Z" fill="#ddf8aa" stroke="#93c065" stroke-width="0.3"/><path d="M102.8 207.9 108.2 209.2 108.2 202.8 102.8 201.5 Z" fill="#c4ef8b" stroke="#93c065" stroke-width="0.3"/><path d="M108.2 209.2 113.7 208.1 113.7 201.7 108.2 202.8 Z" fill="#a2d66b" stroke="#93c065" stroke-width="0.3"/><path d="M102.8 201.5 108.2 202.8 113.7 201.7 108.3 200.3 Z" fill="#ddf8aa" stroke="#93c065" stroke-width="0.3"/><path d="M113.7 214.5 119 215.8 119 209.4 113.7 208.1 Z" fill="#c4ef8b" stroke="#93c065" stroke-width="0.3"/><path d="M119 215.8 124.5 214.7 124.5 208.3 119 209.4 Z" fill="#a2d66b" stroke="#93c065" stroke-width="0.3"/><path d="M113.7 208.1 119 209.4 124.5 208.3 119.2 206.9 Z" fill="#ddf8aa" stroke="#93c065" stroke-width="0.3"/><path d="M75.6 215 81 216.4 81 210 75.6 208.6 Z" fill="#c4ef8b" stroke="#93c065" stroke-width="0.3"/><path d="M81 216.4 86.5 215.2 86.5 208.8 81 210 Z" fill="#a2d66b" stroke="#93c065" stroke-width="0.3"/><path d="M75.6 208.6 81 210 86.5 208.8 81.1 207.4 Z" fill="#ddf8aa" stroke="#93c065" stroke-width="0.3"/><path d="M75.6 208.6 81 210 81 203.6 75.6 202.2 Z" fill="#c4ef8b" stroke="#93c065" stroke-width="0.3"/><path d="M81 210 86.5 208.8 86.5 202.4 81 203.6 Z" fill="#a2d66b" stroke="#93c065" stroke-width="0.3"/><path d="M75.6 202.2 81 203.6 86.5 202.4 81.1 201 Z" fill="#ddf8aa" stroke="#93c065" stroke-width="0.3"/><path d="M86.5 215.2 91.8 216.6 91.8 210.2 86.5 208.8 Z" fill="#c4ef8b" stroke="#93c065" stroke-width="0.3"/><path d="M91.8 216.6 97.3 215.4 97.3 209 91.8 210.2 Z" fill="#a2d66b" stroke="#93c065" stroke-width="0.3"/><path d="M86.5 208.8 91.8 210.2 97.3 209 92 207.6 Z" fill="#ddf8aa" stroke="#93c065" stroke-width="0.3"/><path d="M97.3 215.4 102.7 216.8 102.7 210.4 97.3 209 Z" fill="#c4ef8b" stroke="#93c065" stroke-width="0.3"/><path d="M102.7 216.8 108.2 215.6 108.2 209.2 102.7 210.4 Z" fill="#a2d66b" stroke="#93c065" stroke-width="0.3"/><path d="M97.3 209 102.7 210.4 108.2 209.2 102.8 207.9 Z" fill="#ddf8aa" stroke="#93c065" stroke-width="0.3"/><path d="M97.3 209 102.7 210.4 102.7 204 97.3 202.6 Z" fill="#c4ef8b" stroke="#93c065" stroke-width="0.3"/><path d="M102.7 210.4 108.2 209.2 108.2 202.8 102.7 204 Z" fill="#a2d66b" stroke="#93c065" stroke-width="0.3"/><path d="M97.3 202.6 102.7 204 108.2 202.8 102.8 201.5 Z" fill="#ddf8aa" stroke="#93c065" stroke-width="0.3"/><path d="M108.2 215.6 113.5 217 113.5 210.6 108.2 209.2 Z" fill="#c4ef8b" stroke="#93c065" stroke-width="0.3"/><path d="M113.5 217 119 215.8 119 209.4 113.5 210.6 Z" fill="#a2d66b" stroke="#93c065" stroke-width="0.3"/><path d="M108.2 209.2 113.5 210.6 119 209.4 113.7 208.1 Z" fill="#ddf8aa" stroke="#93c065" stroke-width="0.3"/><path d="M108.2 209.2 113.5 210.6 113.5 204.2 108.2 202.8 Z" fill="#c4ef8b" stroke="#93c065" stroke-width="0.3"/><path d="M113.5 210.6 119 209.4 119 203 113.5 204.2 Z" fill="#a2d66b" stroke="#93c065" stroke-width="0.3"/><path d="M108.2 202.8 113.5 204.2 119 203 113.7 201.7 Z" fill="#ddf8aa" stroke="#93c065" stroke-width="0.3"/><path d="M81 216.4 86.3 217.8 86.3 211.4 81 210 Z" fill="#c4ef8b" stroke="#93c065" stroke-width="0.3"/><path d="M86.3 217.8 91.8 216.6 91.8 210.2 86.3 211.4 Z" fill="#a2d66b" stroke="#93c065" stroke-width="0.3"/><path d="M81 210 86.3 211.4 91.8 210.2 86.5 208.8 Z" fill="#ddf8aa" stroke="#93c065" stroke-width="0.3"/><path d="M81 210 86.3 211.4 86.3 205 81 203.6 Z" fill="#c4ef8b" stroke="#93c065" stroke-width="0.3"/><path d="M86.3 211.4 91.8 210.2 91.8 203.8 86.3 205 Z" fill="#a2d66b" stroke="#93c065" stroke-width="0.3"/><path d="M81 203.6 86.3 205 91.8 203.8 86.5 202.4 Z" fill="#ddf8aa" stroke="#93c065" stroke-width="0.3"/><path d="M91.8 216.6 97.2 218 97.2 211.6 91.8 210.2 Z" fill="#c4ef8b" stroke="#93c065" stroke-width="0.3"/><path d="M97.2 218 102.7 216.8 102.7 210.4 97.2 211.6 Z" fill="#a2d66b" stroke="#93c065" stroke-width="0.3"/><path d="M91.8 210.2 97.2 211.6 102.7 210.4 97.3 209 Z" fill="#ddf8aa" stroke="#93c065" stroke-width="0.3"/><path d="M102.7 216.8 108 218.2 108 211.8 102.7 210.4 Z" fill="#c4ef8b" stroke="#93c065" stroke-width="0.3"/><path d="M108 218.2 113.5 217 113.5 210.6 108 211.8 Z" fill="#a2d66b" stroke="#93c065" stroke-width="0.3"/><path d="M102.7 210.4 108 211.8 113.5 210.6 108.2 209.2 Z" fill="#ddf8aa" stroke="#93c065" stroke-width="0.3"/><path d="M102.7 210.4 108 211.8 108 205.4 102.7 204 Z" fill="#c4ef8b" stroke="#93c065" stroke-width="0.3"/><path d="M108 211.8 113.5 210.6 113.5 204.2 108 205.4 Z" fill="#a2d66b" stroke="#93c065" stroke-width="0.3"/><path d="M102.7 204 108 205.4 113.5 204.2 108.2 202.8 Z" fill="#ddf8aa" stroke="#93c065" stroke-width="0.3"/><path d="M86.3 217.8 91.7 219.1 91.7 212.7 86.3 211.4 Z" fill="#c4ef8b" stroke="#93c065" stroke-width="0.3"/><path d="M91.7 219.1 97.2 218 97.2 211.6 91.7 212.7 Z" fill="#a2d66b" stroke="#93c065" stroke-width="0.3"/><path d="M86.3 211.4 91.7 212.7 97.2 211.6 91.8 210.2 Z" fill="#ddf8aa" stroke="#93c065" stroke-width="0.3"/><path d="M86.3 211.4 91.7 212.7 91.7 206.3 86.3 205 Z" fill="#c4ef8b" stroke="#93c065" stroke-width="0.3"/><path d="M91.7 212.7 97.2 211.6 97.2 205.2 91.7 206.3 Z" fill="#a2d66b" stroke="#93c065" stroke-width="0.3"/><path d="M86.3 205 91.7 206.3 97.2 205.2 91.8 203.8 Z" fill="#ddf8aa" stroke="#93c065" stroke-width="0.3"/><path d="M97.2 218 102.5 219.3 102.5 212.9 97.2 211.6 Z" fill="#c4ef8b" stroke="#93c065" stroke-width="0.3"/><path d="M102.5 219.3 108 218.2 108 211.8 102.5 212.9 Z" fill="#a2d66b" stroke="#93c065" stroke-width="0.3"/><path d="M97.2 211.6 102.5 212.9 108 211.8 102.7 210.4 Z" fill="#ddf8aa" stroke="#93c065" stroke-width="0.3"/><path d="M97.2 211.6 102.5 212.9 102.5 206.5 97.2 205.2 Z" fill="#c4ef8b" stroke="#93c065" stroke-width="0.3"/><path d="M102.5 212.9 108 211.8 108 205.4 102.5 206.5 Z" fill="#a2d66b" stroke="#93c065" stroke-width="0.3"/><path d="M97.2 205.2 102.5 206.5 108 205.4 102.7 204 Z" fill="#ddf8aa" stroke="#93c065" stroke-width="0.3"/><path d="M91.7 219.1 97 220.5 97 214.1 91.7 212.7 Z" fill="#c4ef8b" stroke="#93c065" stroke-width="0.3"/><path d="M97 220.5 102.5 219.3 102.5 212.9 97 214.1 Z" fill="#a2d66b" stroke="#93c065" stroke-width="0.3"/><path d="M91.7 212.7 97 214.1 102.5 212.9 97.2 211.6 Z" fill="#ddf8aa" stroke="#93c065" stroke-width="0.3"/><path d="M91.7 212.7 97 214.1 97 207.7 91.7 206.3 Z" fill="#c4ef8b" stroke="#93c065" stroke-width="0.3"/><path d="M97 214.1 102.5 212.9 102.5 206.5 97 207.7 Z" fill="#a2d66b" stroke="#93c065" stroke-width="0.3"/><path d="M91.7 206.3 97 207.7 102.5 206.5 97.2 205.2 Z" fill="#ddf8aa" stroke="#93c065" stroke-width="0.3"/></g>
<path d="M501 205.7 L576.7 226.7 L649.7 203 L574 186 Z" fill="#c2c1a4"/>
<path d="M512 207.5 L580 219.5 L640 204.5 L574 190 Z" fill="#d6d8b8" opacity="0.7"/>
<path d="M501 205.7 L576.7 226.7 L649.7 203 L649.7 205.8 L576.7 229.8 L501 208.6 Z" fill="#8e8d76"/>
<path d="M576.7 226.7 L649.7 203 L649.7 205.8 L576.7 229.8 Z" fill="#7a7a68"/>
<path d="M513.6 190.7 583.3 201 583.3 217.8 513.6 207.8 Z" fill="#8fe98f"/>
<path d="M583.3 201 638.4 190 638.4 204.4 583.3 217.8 Z" fill="#74d474"/>
<path d="M513.6 190.7 583.3 201 638.4 190 574 184.1 Z" fill="#a2f2a2"/>
<path d="M518.96 191.49L518.96 208.57M518.96 191.49L578.95 184.55M524.32 192.28L524.32 209.34M524.32 192.28L583.91 185.01M529.68 193.08L529.68 210.11M529.68 193.08L588.86 185.46M535.05 193.87L535.05 210.88M535.05 193.87L593.82 185.92M540.41 194.66L540.41 211.65M540.41 194.66L598.77 186.37M545.77 195.45L545.77 212.42M545.77 195.45L603.72 186.82M551.13 196.25L551.13 213.18M551.13 196.25L608.68 187.28M556.49 197.04L556.49 213.95M556.49 197.04L613.63 187.73M561.85 197.83L561.85 214.72M561.85 197.83L618.58 188.18M567.22 198.62L567.22 215.49M567.22 198.62L623.54 188.64M572.58 199.42L572.58 216.26M572.58 199.42L628.49 189.09M577.94 200.21L577.94 217.03M577.94 200.21L633.45 189.55M588.31 200L588.31 216.58M588.31 200L519.09 190.1M593.32 199L593.32 215.36M593.32 199L524.58 189.5M598.33 198L598.33 214.15M598.33 198L530.07 188.9M603.34 197L603.34 212.93M603.34 197L535.56 188.3M608.35 196L608.35 211.71M608.35 196L541.05 187.7M613.35 195L613.35 210.49M613.35 195L546.55 187.1M618.36 194L618.36 209.27M618.36 194L552.04 186.5M623.37 193L623.37 208.05M623.37 193L557.53 185.9M628.38 192L628.38 206.84M628.38 192L563.02 185.3M633.39 191L633.39 205.62M633.39 191L568.51 184.7M513.6 199.25L583.3 209.4L638.4 197.2" stroke="#5fbf5f" stroke-width="0.45" fill="none" opacity="0.8"/>
<circle cx="294.6" cy="44.8" r="1.25" fill="#111"/>
<text x="302.3" y="48.27" font-size="9.7">Greater uniformity</text>
<circle cx="294.6" cy="59.55" r="1.25" fill="#111"/>
<text x="302.3" y="63.02" font-size="9.7">Higher PLQY</text>
<circle cx="294.6" cy="74.3" r="1.25" fill="#111"/>
<text x="302.3" y="77.77" font-size="9.7">More stable lattice</text>
<text x="345.3" y="212.57" font-size="9.7" text-anchor="middle">Spin-coating in air</text>
<path d="M324.4 150 L324.4 182 A21.4 3.8 0 0 0 367.2 182 L367.2 150 Z" fill="url(#gShaft)"/>
<path d="M306.6 163.0 C306 169 316 176.5 345 178.6 C366 179.5 379 175 385.5 170.2 L384.6 171.6 L393.4 166.9 L381.2 162.6 L382.6 165.4 C376 170 364 174.2 345 174.4 C324 174 316.5 170 314.2 163.6 Z" fill="url(#gArrow)" stroke="#8c8c8c" stroke-width="0.6" stroke-linejoin="round"/>
<path d="M285 138 L285 146 C285 152 305 156 345 156 C385 156 405 152 405 146 L405 138 Z" fill="url(#gChuck)"/>
<path d="M245.3 122.7 L355.3 150.5 L355.3 155.3 L245.3 127.2 Z" fill="#c9ccd6"/>
<path d="M355.3 150.5 L439.1 116.9 L439.1 121.3 L355.3 155.3 Z" fill="#b2b6c4"/>
<path d="M245.3 127.2 L355.3 155.3 L439.1 121.3" fill="none" stroke="#7c8090" stroke-width="0.6"/>
<path d="M245.3 122.7 L339.3 100.3 L439.1 116.9 L355.3 150.5 Z" fill="url(#gPlate)"/>
<path d="M245.3 123.2 L355.3 151 L439.1 117.4" fill="none" stroke="#f4f5f8" stroke-width="0.8"/>
<ellipse cx="344.4" cy="125.4" rx="60.6" ry="12.4" fill="#98a4c4"/>
<ellipse cx="344.6" cy="124.2" rx="57.5" ry="12.2" fill="#c0c8dc"/>
<ellipse cx="345.6" cy="122.4" rx="53.6" ry="13.4" fill="#46c25e"/>
<ellipse cx="345.6" cy="120.6" rx="53.6" ry="13.3" fill="url(#gDisk)"/>
<g clip-path="url(#clipR)"><path d="M521.6 78.9 L521.6 60.1 L502.8 78.9 Z" fill="#a6d883"/><path d="M521.6 78.9 L521.6 60.1 L540.4 78.9 Z" fill="#a2d67e"/><path d="M521.6 78.9 L521.6 97.7 L502.8 78.9 Z" fill="#a4d780"/><path d="M521.6 78.9 L521.6 97.7 L540.4 78.9 Z" fill="#9fd37b"/><path d="M502.8 78.9 H540.4 M521.6 60.1 V97.7" fill="none" stroke="#5f7358" stroke-width="0.6"/><path d="M521.6 60.1 L540.4 78.9 L521.6 97.7 L502.8 78.9 Z" fill="none" stroke="#34402f" stroke-width="0.65"/><path d="M559.2 78.9 L559.2 97.7 L540.4 78.9 Z" fill="#a4d780"/><path d="M559.2 78.9 L559.2 97.7 L578 78.9 Z" fill="#9fd37b"/><path d="M540.4 78.9 L559.2 97.7 L578 78.9 Z M559.2 78.9 V97.7" fill="none" stroke="#34402f" stroke-width="0.65"/><path d="M596.8 78.9 L596.8 60.1 L578 78.9 Z" fill="#a6d883"/><path d="M596.8 78.9 L596.8 60.1 L615.6 78.9 Z" fill="#a2d67e"/><path d="M596.8 78.9 L596.8 97.7 L578 78.9 Z" fill="#a4d780"/><path d="M596.8 78.9 L596.8 97.7 L615.6 78.9 Z" fill="#9fd37b"/><path d="M578 78.9 H615.6 M596.8 60.1 V97.7" fill="none" stroke="#5f7358" stroke-width="0.6"/><path d="M596.8 60.1 L615.6 78.9 L596.8 97.7 L578 78.9 Z" fill="none" stroke="#34402f" stroke-width="0.65"/><path d="M634.4 78.9 L634.4 60.1 L615.6 78.9 Z" fill="#a6d883"/><path d="M634.4 78.9 L634.4 60.1 L653.2 78.9 Z" fill="#a2d67e"/><path d="M634.4 78.9 L634.4 97.7 L615.6 78.9 Z" fill="#a4d780"/><path d="M634.4 78.9 L634.4 97.7 L653.2 78.9 Z" fill="#9fd37b"/><path d="M615.6 78.9 H653.2 M634.4 60.1 V97.7" fill="none" stroke="#5f7358" stroke-width="0.6"/><path d="M634.4 60.1 L653.2 78.9 L634.4 97.7 L615.6 78.9 Z" fill="none" stroke="#34402f" stroke-width="0.65"/><path d="M521.6 116.4 L521.6 97.6 L502.8 116.4 Z" fill="#a6d883"/><path d="M521.6 116.4 L521.6 97.6 L540.4 116.4 Z" fill="#a2d67e"/><path d="M521.6 116.4 L521.6 135.2 L502.8 116.4 Z" fill="#a4d780"/><path d="M521.6 116.4 L521.6 135.2 L540.4 116.4 Z" fill="#9fd37b"/><path d="M502.8 116.4 H540.4 M521.6 97.6 V135.2" fill="none" stroke="#5f7358" stroke-width="0.6"/><path d="M521.6 97.6 L540.4 116.4 L521.6 135.2 L502.8 116.4 Z" fill="none" stroke="#34402f" stroke-width="0.65"/><path d="M559.2 116.4 L559.2 97.6 L540.4 116.4 Z" fill="#a6d883"/><path d="M559.2 116.4 L559.2 97.6 L578 116.4 Z" fill="#a2d67e"/><path d="M559.2 116.4 L559.2 135.2 L540.4 116.4 Z" fill="#a4d780"/><path d="M559.2 116.4 L559.2 135.2 L578 116.4 Z" fill="#9fd37b"/><path d="M540.4 116.4 H578 M559.2 97.6 V135.2" fill="none" stroke="#5f7358" stroke-width="0.6"/><path d="M559.2 97.6 L578 116.4 L559.2 135.2 L540.4 116.4 Z" fill="none" stroke="#34402f" stroke-width="0.65"/><path d="M596.8 116.4 L596.8 97.6 L578 116.4 Z" fill="#a6d883"/><path d="M596.8 116.4 L596.8 97.6 L615.6 116.4 Z" fill="#a2d67e"/><path d="M596.8 116.4 L596.8 135.2 L578 116.4 Z" fill="#a4d780"/><path d="M596.8 116.4 L596.8 135.2 L615.6 116.4 Z" fill="#9fd37b"/><path d="M578 116.4 H615.6 M596.8 97.6 V135.2" fill="none" stroke="#5f7358" stroke-width="0.6"/><path d="M596.8 97.6 L615.6 116.4 L596.8 135.2 L578 116.4 Z" fill="none" stroke="#34402f" stroke-width="0.65"/><path d="M634.4 116.4 L634.4 97.6 L615.6 116.4 Z" fill="#a6d883"/><path d="M634.4 116.4 L634.4 97.6 L653.2 116.4 Z" fill="#a2d67e"/><path d="M634.4 116.4 L634.4 135.2 L615.6 116.4 Z" fill="#a4d780"/><path d="M634.4 116.4 L634.4 135.2 L653.2 116.4 Z" fill="#9fd37b"/><path d="M615.6 116.4 H653.2 M634.4 97.6 V135.2" fill="none" stroke="#5f7358" stroke-width="0.6"/><path d="M634.4 97.6 L653.2 116.4 L634.4 135.2 L615.6 116.4 Z" fill="none" stroke="#34402f" stroke-width="0.65"/><path d="M521.6 153.9 L521.6 135.1 L502.8 153.9 Z" fill="#a6d883"/><path d="M521.6 153.9 L521.6 135.1 L540.4 153.9 Z" fill="#a2d67e"/><path d="M521.6 153.9 L521.6 172.7 L502.8 153.9 Z" fill="#a4d780"/><path d="M521.6 153.9 L521.6 172.7 L540.4 153.9 Z" fill="#9fd37b"/><path d="M502.8 153.9 H540.4 M521.6 135.1 V172.7" fill="none" stroke="#5f7358" stroke-width="0.6"/><path d="M521.6 135.1 L540.4 153.9 L521.6 172.7 L502.8 153.9 Z" fill="none" stroke="#34402f" stroke-width="0.65"/><path d="M559.2 153.9 L559.2 135.1 L540.4 153.9 Z" fill="#a6d883"/><path d="M559.2 153.9 L559.2 135.1 L578 153.9 Z" fill="#a2d67e"/><path d="M559.2 153.9 L559.2 172.7 L540.4 153.9 Z" fill="#a4d780"/><path d="M559.2 153.9 L559.2 172.7 L578 153.9 Z" fill="#9fd37b"/><path d="M540.4 153.9 H578 M559.2 135.1 V172.7" fill="none" stroke="#5f7358" stroke-width="0.6"/><path d="M559.2 135.1 L578 153.9 L559.2 172.7 L540.4 153.9 Z" fill="none" stroke="#34402f" stroke-width="0.65"/><path d="M596.8 153.9 L596.8 135.1 L578 153.9 Z" fill="#a6d883"/><path d="M596.8 153.9 L596.8 135.1 L615.6 153.9 Z" fill="#a2d67e"/><path d="M596.8 153.9 L596.8 172.7 L578 153.9 Z" fill="#a4d780"/><path d="M596.8 153.9 L596.8 172.7 L615.6 153.9 Z" fill="#9fd37b"/><path d="M578 153.9 H615.6 M596.8 135.1 V172.7" fill="none" stroke="#5f7358" stroke-width="0.6"/><path d="M596.8 135.1 L615.6 153.9 L596.8 172.7 L578 153.9 Z" fill="none" stroke="#34402f" stroke-width="0.65"/><path d="M634.4 153.9 L634.4 135.1 L615.6 153.9 Z" fill="#a6d883"/><path d="M634.4 153.9 L634.4 135.1 L653.2 153.9 Z" fill="#a2d67e"/><path d="M634.4 153.9 L634.4 172.7 L615.6 153.9 Z" fill="#a4d780"/><path d="M634.4 153.9 L634.4 172.7 L653.2 153.9 Z" fill="#9fd37b"/><path d="M615.6 153.9 H653.2 M634.4 135.1 V172.7" fill="none" stroke="#5f7358" stroke-width="0.6"/><path d="M634.4 135.1 L653.2 153.9 L634.4 172.7 L615.6 153.9 Z" fill="none" stroke="#34402f" stroke-width="0.65"/><use href="#ma" x="540.4" y="97.7"/><use href="#ma" x="578" y="97.7"/><use href="#ma" x="615.6" y="97.7"/><use href="#ma" x="540.4" y="135.2"/><use href="#ma" x="578" y="135.2"/><use href="#ma" x="615.6" y="135.2"/><use href="#ma" x="540.4" y="172.7"/><use href="#ma" x="578" y="172.7"/><use href="#ma" x="615.6" y="172.7"/><use href="#br" x="502.8" y="78.9"/><use href="#br" x="521.6" y="97.7"/><use href="#br" x="521.6" y="60.1"/><use href="#br" x="540.4" y="78.9"/><use href="#br" x="559.2" y="97.7"/><use href="#br" x="578" y="78.9"/><use href="#br" x="596.8" y="97.7"/><use href="#br" x="596.8" y="60.1"/><use href="#br" x="615.6" y="78.9"/><use href="#br" x="634.4" y="97.7"/><use href="#br" x="634.4" y="60.1"/><use href="#br" x="653.2" y="78.9"/><use href="#br" x="502.8" y="116.4"/><use href="#br" x="521.6" y="135.2"/><use href="#br" x="521.6" y="97.6"/><use href="#br" x="540.4" y="116.4"/><use href="#br" x="559.2" y="135.2"/><use href="#br" x="559.2" y="97.6"/><use href="#br" x="578" y="116.4"/><use href="#br" x="596.8" y="135.2"/><use href="#br" x="596.8" y="97.6"/><use href="#br" x="615.6" y="116.4"/><use href="#br" x="634.4" y="135.2"/><use href="#br" x="634.4" y="97.6"/><use href="#br" x="653.2" y="116.4"/><use href="#br" x="502.8" y="153.9"/><use href="#br" x="521.6" y="172.7"/><use href="#br" x="521.6" y="135.1"/><use href="#br" x="540.4" y="153.9"/><use href="#br" x="559.2" y="172.7"/><use href="#br" x="559.2" y="135.1"/><use href="#br" x="578" y="153.9"/><use href="#br" x="596.8" y="172.7"/><use href="#br" x="596.8" y="135.1"/><use href="#br" x="615.6" y="153.9"/><use href="#br" x="634.4" y="172.7"/><use href="#br" x="634.4" y="135.1"/><use href="#br" x="653.2" y="153.9"/><use href="#pb" x="521.6" y="78.9"/><use href="#pb" x="559.2" y="78.9"/><use href="#pb" x="596.8" y="78.9"/><use href="#pb" x="634.4" y="78.9"/><use href="#pb" x="521.6" y="116.4"/><use href="#pb" x="559.2" y="116.4"/><use href="#pb" x="596.8" y="116.4"/><use href="#pb" x="634.4" y="116.4"/><use href="#pb" x="521.6" y="153.9"/><use href="#pb" x="559.2" y="153.9"/><use href="#pb" x="596.8" y="153.9"/><use href="#pb" x="634.4" y="153.9"/></g>
<ellipse cx="577.4" cy="80" rx="102.8" ry="79" fill="none" stroke="#555" stroke-width="0.75" stroke-dasharray="2.2 1.5"/>
<path d="M472 78 C477 79 479 80.5 480.5 84 C482 88 483.5 91 487 92.5 C491 94 497 94 501.5 97" fill="none" stroke="#27406e" stroke-width="1.1" stroke-linecap="round" clip-path="url(#clipR)"/>
<circle cx="503" cy="97.9" r="1.4" fill="#c4d4f4" stroke="#7890d0" stroke-width="0.6"/>
<path d="M682 49 C677 51 675 54 673 57 C671 61 669 63.5 666 63.5 C662.5 63.5 662 59 659 59 C656.5 59 655 60 653.5 60.5" fill="none" stroke="#27406e" stroke-width="1.1" stroke-linecap="round" clip-path="url(#clipR)"/>
<circle cx="652.9" cy="60.6" r="1.4" fill="#c4d4f4" stroke="#7890d0" stroke-width="0.6"/>
<path d="M682 84 C678 85.5 676 86.5 674.5 90 C673 93.5 671 95.5 668 95 C665 94.5 663 92.5 660 94 C657.5 95.5 656 97 654.5 97.8" fill="none" stroke="#27406e" stroke-width="1.1" stroke-linecap="round" clip-path="url(#clipR)"/>
<circle cx="653.8" cy="97.9" r="1.4" fill="#c4d4f4" stroke="#7890d0" stroke-width="0.6"/>
<path d="M613.4 52 C610 52.6 608 50.2 605 51 C602 51.8 600 50 597.3 49.6" fill="none" stroke="#27406e" stroke-width="1.0" stroke-linecap="round"/>
<path d="M613.4 52 C612 48 614.6 46 613 43 C611.4 40 613 37 611.1 33.7" fill="none" stroke="#27406e" stroke-width="1.0" stroke-linecap="round"/>
<path d="M613.4 52 C615 49 618 50 619 46 C620 42 622 40 624.5 37.6 C625.5 36.6 626.5 36.2 627.2 35.8" fill="none" stroke="#27406e" stroke-width="1.0" stroke-linecap="round"/>
<path d="M613.4 52 C616.5 53 619 50.5 622 51.4 C625 52.4 628 50.4 630.5 51.1 C632 51.5 633 51.1 634.2 51" fill="none" stroke="#27406e" stroke-width="1.0" stroke-linecap="round"/>
<circle cx="613.4" cy="52" r="1.3" fill="#aac4ee" stroke="#6c88c0" stroke-width="0.4"/>
<path d="M555.9 64.5 L551.7 57.1 M551.7 57.1 L543.5 57.6 M551.7 57.1 L550.2 50.4 M551.7 57.1 L558.4 52.1 M555.9 64.5 L549.7 70.7 M555.9 64.5 L558.4 72 M555.9 64.5 L564.1 64" stroke="#2c3850" stroke-width="1.0"/>
<line x1="565.5" y1="63" x2="574" y2="57.5" stroke="#3f66c8" stroke-width="0.8" stroke-dasharray="1 0.9"/>
<circle cx="543.5" cy="57.6" r="1.6" fill="url(#rgF)" stroke="#8080c8" stroke-width="0.4"/>
<circle cx="550.2" cy="50.4" r="1.6" fill="url(#rgF)" stroke="#8080c8" stroke-width="0.4"/>
<circle cx="558.4" cy="52.1" r="1.6" fill="url(#rgF)" stroke="#8080c8" stroke-width="0.4"/>
<circle cx="551.7" cy="57.1" r="2.1" fill="url(#rgC)" stroke="#5a3a20" stroke-width="0.4"/>
<circle cx="549.7" cy="70.7" r="1.9" fill="url(#rgOx)" stroke="#901818" stroke-width="0.4"/>
<circle cx="558.4" cy="72" r="1.9" fill="url(#rgOx)" stroke="#901818" stroke-width="0.4"/>
<circle cx="564.1" cy="64" r="1.9" fill="url(#rgOx)" stroke="#901818" stroke-width="0.4"/>
<circle cx="555.9" cy="64.5" r="2.5" fill="url(#rgS)" stroke="#a08820" stroke-width="0.4"/>
<use href="#ma" x="577.5" y="60.8"/>
<text x="528.4" y="21.54" font-size="8.2">O<tspan font-size="5.6" dy="2.4">2</tspan></text>
<line x1="543.5" y1="22.3" x2="537.8" y2="27.8" stroke="#6a9bd8" stroke-width="1"/>
<circle cx="543.5" cy="22.3" r="2.7" fill="url(#rgO)" stroke="#6a9bd8" stroke-width="0.5"/><circle cx="537.8" cy="27.8" r="2.7" fill="url(#rgO)" stroke="#6a9bd8" stroke-width="0.5"/>
<line x1="556.7" y1="11.2" x2="564.1" y2="9.4" stroke="#7aa" stroke-width="0.8"/>
<line x1="564.1" y1="9.4" x2="567.6" y2="15.4" stroke="#7aa" stroke-width="0.8"/>
<circle cx="564.1" cy="9.4" r="2.6" fill="url(#rgO)" stroke="#6a9bd8" stroke-width="0.5"/><circle cx="556.7" cy="11.2" r="1.6" fill="url(#rgH)"/><circle cx="567.6" cy="15.4" r="1.6" fill="url(#rgH)"/>
<text x="571.5" y="13.34" font-size="8.2">H<tspan font-size="5.6" dy="2.4">2</tspan><tspan dy="-2.4">O</tspan></text>
<path d="M559.6 29.8 C566 35 580 35.5 588.6 20.5" fill="none" stroke="#6e6e6e" stroke-width="1.5"/>
<path d="M591.0 14.6 L591.2 21.6 L586.4 19.6 Z" fill="#6e6e6e"/>
<text x="0.6" y="258.7" font-size="16.6" font-weight="bold">b</text>
<text x="212.2" y="258.7" font-size="16.6" font-weight="bold">c</text>
<text x="455.2" y="258.7" font-size="16.6" font-weight="bold">d</text>
<text x="0.2" y="465.8" font-size="16.6" font-weight="bold">e</text>
<text x="214.2" y="465.8" font-size="16.6" font-weight="bold">f</text>
<text x="455.2" y="465.8" font-size="16.6" font-weight="bold">g</text>
<text x="0.6" y="661.5" font-size="16.6" font-weight="bold">h</text>
<text x="213.2" y="661.5" font-size="16.6" font-weight="bold">i</text>
<text x="455.2" y="661.5" font-size="16.6" font-weight="bold">j</text>
<path d="M16.8 325.5 17.3 325.4 17.7 325.4 18.2 325.4 18.6 325.4 19.1 325.4 19.6 325.4 20 325.4 20.5 325.4 20.9 325.4 21.4 325.4 21.8 325.4 22.3 325.4 22.8 325.4 23.2 325.4 23.7 325.4 24.1 325.4 24.6 325.3 25.1 325.3 25.5 325.3 26 325.3 26.4 325.3 26.9 325.3 27.4 325.3 27.8 325.3 28.3 325.3 28.7 325.3 29.2 325.3 29.7 325.3 30.1 325.2 30.6 325.2 31 325.2 31.5 325.2 31.9 325.2 32.4 325.2 32.9 325.2 33.3 325.2 33.8 325.2 34.2 325.1 34.7 325.1 35.2 325.1 35.6 325.1 36.1 325.1 36.5 325.1 37 325.1 37.5 325.1 37.9 325 38.4 325 38.8 325 39.3 325 39.8 325 40.2 325 40.7 324.9 41.1 324.9 41.6 324.9 42 324.9 42.5 324.9 43 324.9 43.4 324.8 43.9 324.8 44.3 324.8 44.8 324.8 45.3 324.8 45.7 324.7 46.2 324.7 46.6 324.7 47.1 324.7 47.6 324.6 48 324.6 48.5 324.6 48.9 324.5 49.4 324.5 49.8 324.5 50.3 324.5 50.8 324.4 51.2 324.4 51.7 324.4 52.1 324.3 52.6 324.3 53.1 324.3 53.5 324.2 54 324.2 54.4 324.1 54.9 324.1 55.4 324 55.8 324 56.3 323.9 56.7 323.9 57.2 323.8 57.7 323.8 58.1 323.7 58.6 323.6 59 323.5 59.5 323.5 59.9 323.4 60.4 323.3 60.9 323.2 61.3 323.1 61.8 323 62.2 322.9 62.7 322.7 63.2 322.6 63.6 322.4 64.1 322.3 64.5 322.1 65 321.9 65.5 321.7 65.9 321.5 66.4 321.2 66.8 320.9 67.3 320.7 67.7 320.3 68.2 320 68.7 319.6 69.1 319.2 69.6 318.7 70 318.3 70.5 317.7 71 317.2 71.4 316.6 71.9 315.9 72.3 315.3 72.8 314.5 73.3 313.7 73.7 312.9 74.2 312 74.6 311 75.1 310 75.6 309 76 307.9 76.5 306.7 76.9 305.5 77.4 304.2 77.8 302.9 78.3 301.5 78.8 300.1 79.2 298.6 79.7 297.1 80.1 295.5 80.6 294 81.1 292.4 81.5 290.7 82 289.1 82.4 287.4 82.9 285.8 83.4 284.2 83.8 282.6 84.3 281 84.7 279.5 85.2 278 85.6 276.6 86.1 275.2 86.6 274 87 272.9 87.5 271.9 87.9 271 88.4 270.2 88.9 269.7 89.3 269.2 89.8 269 90.2 268.9 90.7 269 91.2 269.1 91.6 269.4 92.1 269.8 92.5 270.3 93 271 93.5 271.7 93.9 272.5 94.4 273.4 94.8 274.3 95.3 275.4 95.7 276.5 96.2 277.6 96.7 278.9 97.1 280.1 97.6 281.4 98 282.7 98.5 284 99 285.4 99.4 286.7 99.9 288.1 100.3 289.5 100.8 290.8 101.3 292.2 101.7 293.5 102.2 294.8 102.6 296.1 103.1 297.4 103.6 298.6 104 299.9 104.5 301.1 104.9 302.2 105.4 303.3 105.8 304.4 106.3 305.5 106.8 306.5 107.2 307.5 107.7 308.4 108.1 309.3 108.6 310.2 109.1 311 109.5 311.8 110 312.6 110.4 313.3 110.9 314 111.4 314.6 111.8 315.2 112.3 315.8 112.7 316.3 113.2 316.9 113.6 317.3 114.1 317.8 114.6 318.2 115 318.6 115.5 319 115.9 319.4 116.4 319.7 116.9 320 117.3 320.3 117.8 320.6 118.2 320.8 118.7 321 119.2 321.3 119.6 321.5 120.1 321.7 120.5 321.8 121 322 121.5 322.2 121.9 322.3 122.4 322.4 122.8 322.6 123.3 322.7 123.7 322.8 124.2 322.9 124.7 323 125.1 323.1 125.6 323.2 126 323.3 126.5 323.3 127 323.4 127.4 323.5 127.9 323.5 128.3 323.6 128.8 323.7 129.3 323.7 129.7 323.8 130.2 323.8 130.6 323.9 131.1 323.9 131.6 324 132 324 132.5 324 132.9 324.1 133.4 324.1 133.8 324.2 134.3 324.2 134.8 324.2 135.2 324.3 135.7 324.3 136.1 324.3 136.6 324.3 137.1 324.4 137.5 324.4 138 324.4 138.4 324.5 138.9 324.5 139.4 324.5 139.8 324.5 140.3 324.6 140.7 324.6 141.2 324.6 141.6 324.6 142.1 324.6 142.6 324.7 143 324.7 143.5 324.7 143.9 324.7 144.4 324.7 144.9 324.8 145.3 324.8 145.8 324.8 146.2 324.8 146.7 324.8 147.2 324.8 147.6 324.9 148.1 324.9 148.5 324.9 149 324.9 149.5 324.9 149.9 324.9 150.4 325 150.8 325 151.3 325 151.7 325 152.2 325 152.7 325 153.1 325 153.6 325 154 325.1 154.5 325.1 155 325.1 155.4 325.1 155.9 325.1 156.3 325.1 156.8 325.1 157.3 325.1 157.7 325.1 158.2 325.2 158.6 325.2 159.1 325.2 159.5 325.2 160 325.2 160.5 325.2 160.9 325.2 161.4 325.2 161.8 325.2 162.3 325.2 162.8 325.2 163.2 325.2 163.7 325.3 164.1 325.3 164.6 325.3 165.1 325.3 165.5 325.3 166 325.3 166.4 325.3 166.9 325.3 167.4 325.3 167.8 325.3 168.3 325.3 168.7 325.3 169.2 325.3 169.6 325.3 170.1 325.4 170.6 325.4 171 325.4 171.5 325.4 171.9 325.4 172.4 325.4 172.9 325.4 173.3 325.4 173.8 325.4 174.2 325.4 174.7 325.4 175.2 325.4 175.6 325.4 176.1 325.4 176.5 325.4 177 325.4 177.5 325.4 177.9 325.4 178.4 325.4 178.8 325.5 179.3 325.5 179.7 325.5 180.2 325.5 180.7 325.5 181.1 325.5 181.6 325.5 182 325.5 182.5 325.5 183 325.5 183.4 325.5 183.9 325.5 184.3 325.5 184.8 325.5 185.3 325.5 185.7 325.5 186.2 325.5 186.6 325.5 187.1 325.5 187.5 325.5 188 325.5 188.5 325.5 188.9 325.5 189.4 325.5 189.8 325.5 190.3 325.5 190.8 325.6 191.2 325.6 191.7 325.6 192.1 325.6 192.6 325.6 193.1 325.6 193.5 325.6 194 325.6 194.4 325.6 194.9 325.6 195.4 325.6 195.8 325.6 196.3 325.6 196.7 325.6 197.2 325.6 197.6 325.6 198.1 325.6 198.6 325.6 199 325.6 199.5 325.6 199.9 325.6 200.4 325.6 200.4 328.3 16.8 328.3 Z" fill="url(#gbP)" stroke="none"/>
<path d="M16.8 325.5 17.3 325.4 17.7 325.4 18.2 325.4 18.6 325.4 19.1 325.4 19.6 325.4 20 325.4 20.5 325.4 20.9 325.4 21.4 325.4 21.8 325.4 22.3 325.4 22.8 325.4 23.2 325.4 23.7 325.4 24.1 325.4 24.6 325.3 25.1 325.3 25.5 325.3 26 325.3 26.4 325.3 26.9 325.3 27.4 325.3 27.8 325.3 28.3 325.3 28.7 325.3 29.2 325.3 29.7 325.3 30.1 325.2 30.6 325.2 31 325.2 31.5 325.2 31.9 325.2 32.4 325.2 32.9 325.2 33.3 325.2 33.8 325.2 34.2 325.1 34.7 325.1 35.2 325.1 35.6 325.1 36.1 325.1 36.5 325.1 37 325.1 37.5 325.1 37.9 325 38.4 325 38.8 325 39.3 325 39.8 325 40.2 325 40.7 324.9 41.1 324.9 41.6 324.9 42 324.9 42.5 324.9 43 324.9 43.4 324.8 43.9 324.8 44.3 324.8 44.8 324.8 45.3 324.8 45.7 324.7 46.2 324.7 46.6 324.7 47.1 324.7 47.6 324.6 48 324.6 48.5 324.6 48.9 324.5 49.4 324.5 49.8 324.5 50.3 324.5 50.8 324.4 51.2 324.4 51.7 324.4 52.1 324.3 52.6 324.3 53.1 324.3 53.5 324.2 54 324.2 54.4 324.1 54.9 324.1 55.4 324 55.8 324 56.3 323.9 56.7 323.9 57.2 323.8 57.7 323.8 58.1 323.7 58.6 323.6 59 323.5 59.5 323.5 59.9 323.4 60.4 323.3 60.9 323.2 61.3 323.1 61.8 323 62.2 322.9 62.7 322.7 63.2 322.6 63.6 322.4 64.1 322.3 64.5 322.1 65 321.9 65.5 321.7 65.9 321.5 66.4 321.2 66.8 320.9 67.3 320.7 67.7 320.3 68.2 320 68.7 319.6 69.1 319.2 69.6 318.7 70 318.3 70.5 317.7 71 317.2 71.4 316.6 71.9 315.9 72.3 315.3 72.8 314.5 73.3 313.7 73.7 312.9 74.2 312 74.6 311 75.1 310 75.6 309 76 307.9 76.5 306.7 76.9 305.5 77.4 304.2 77.8 302.9 78.3 301.5 78.8 300.1 79.2 298.6 79.7 297.1 80.1 295.5 80.6 294 81.1 292.4 81.5 290.7 82 289.1 82.4 287.4 82.9 285.8 83.4 284.2 83.8 282.6 84.3 281 84.7 279.5 85.2 278 85.6 276.6 86.1 275.2 86.6 274 87 272.9 87.5 271.9 87.9 271 88.4 270.2 88.9 269.7 89.3 269.2 89.8 269 90.2 268.9 90.7 269 91.2 269.1 91.6 269.4 92.1 269.8 92.5 270.3 93 271 93.5 271.7 93.9 272.5 94.4 273.4 94.8 274.3 95.3 275.4 95.7 276.5 96.2 277.6 96.7 278.9 97.1 280.1 97.6 281.4 98 282.7 98.5 284 99 285.4 99.4 286.7 99.9 288.1 100.3 289.5 100.8 290.8 101.3 292.2 101.7 293.5 102.2 294.8 102.6 296.1 103.1 297.4 103.6 298.6 104 299.9 104.5 301.1 104.9 302.2 105.4 303.3 105.8 304.4 106.3 305.5 106.8 306.5 107.2 307.5 107.7 308.4 108.1 309.3 108.6 310.2 109.1 311 109.5 311.8 110 312.6 110.4 313.3 110.9 314 111.4 314.6 111.8 315.2 112.3 315.8 112.7 316.3 113.2 316.9 113.6 317.3 114.1 317.8 114.6 318.2 115 318.6 115.5 319 115.9 319.4 116.4 319.7 116.9 320 117.3 320.3 117.8 320.6 118.2 320.8 118.7 321 119.2 321.3 119.6 321.5 120.1 321.7 120.5 321.8 121 322 121.5 322.2 121.9 322.3 122.4 322.4 122.8 322.6 123.3 322.7 123.7 322.8 124.2 322.9 124.7 323 125.1 323.1 125.6 323.2 126 323.3 126.5 323.3 127 323.4 127.4 323.5 127.9 323.5 128.3 323.6 128.8 323.7 129.3 323.7 129.7 323.8 130.2 323.8 130.6 323.9 131.1 323.9 131.6 324 132 324 132.5 324 132.9 324.1 133.4 324.1 133.8 324.2 134.3 324.2 134.8 324.2 135.2 324.3 135.7 324.3 136.1 324.3 136.6 324.3 137.1 324.4 137.5 324.4 138 324.4 138.4 324.5 138.9 324.5 139.4 324.5 139.8 324.5 140.3 324.6 140.7 324.6 141.2 324.6 141.6 324.6 142.1 324.6 142.6 324.7 143 324.7 143.5 324.7 143.9 324.7 144.4 324.7 144.9 324.8 145.3 324.8 145.8 324.8 146.2 324.8 146.7 324.8 147.2 324.8 147.6 324.9 148.1 324.9 148.5 324.9 149 324.9 149.5 324.9 149.9 324.9 150.4 325 150.8 325 151.3 325 151.7 325 152.2 325 152.7 325 153.1 325 153.6 325 154 325.1 154.5 325.1 155 325.1 155.4 325.1 155.9 325.1 156.3 325.1 156.8 325.1 157.3 325.1 157.7 325.1 158.2 325.2 158.6 325.2 159.1 325.2 159.5 325.2 160 325.2 160.5 325.2 160.9 325.2 161.4 325.2 161.8 325.2 162.3 325.2 162.8 325.2 163.2 325.2 163.7 325.3 164.1 325.3 164.6 325.3 165.1 325.3 165.5 325.3 166 325.3 166.4 325.3 166.9 325.3 167.4 325.3 167.8 325.3 168.3 325.3 168.7 325.3 169.2 325.3 169.6 325.3 170.1 325.4 170.6 325.4 171 325.4 171.5 325.4 171.9 325.4 172.4 325.4 172.9 325.4 173.3 325.4 173.8 325.4 174.2 325.4 174.7 325.4 175.2 325.4 175.6 325.4 176.1 325.4 176.5 325.4 177 325.4 177.5 325.4 177.9 325.4 178.4 325.4 178.8 325.5 179.3 325.5 179.7 325.5 180.2 325.5 180.7 325.5 181.1 325.5 181.6 325.5 182 325.5 182.5 325.5 183 325.5 183.4 325.5 183.9 325.5 184.3 325.5 184.8 325.5 185.3 325.5 185.7 325.5 186.2 325.5 186.6 325.5 187.1 325.5 187.5 325.5 188 325.5 188.5 325.5 188.9 325.5 189.4 325.5 189.8 325.5 190.3 325.5 190.8 325.6 191.2 325.6 191.7 325.6 192.1 325.6 192.6 325.6 193.1 325.6 193.5 325.6 194 325.6 194.4 325.6 194.9 325.6 195.4 325.6 195.8 325.6 196.3 325.6 196.7 325.6 197.2 325.6 197.6 325.6 198.1 325.6 198.6 325.6 199 325.6 199.5 325.6 199.9 325.6 200.4 325.6" stroke="#2f7b4c" stroke-width="1.2" fill="none"/>
<rect x="16.8" y="257.3" width="183.6" height="71" fill="none" stroke="#111" stroke-width="1.1"/>
<line x1="39.75" y1="328.3" x2="39.75" y2="325.7" stroke="#111" stroke-width="1"/>
<line x1="62.7" y1="328.3" x2="62.7" y2="325.7" stroke="#111" stroke-width="1"/>
<line x1="85.65" y1="328.3" x2="85.65" y2="325.7" stroke="#111" stroke-width="1"/>
<line x1="108.6" y1="328.3" x2="108.6" y2="325.7" stroke="#111" stroke-width="1"/>
<line x1="131.55" y1="328.3" x2="131.55" y2="325.7" stroke="#111" stroke-width="1"/>
<line x1="154.5" y1="328.3" x2="154.5" y2="325.7" stroke="#111" stroke-width="1"/>
<line x1="177.45" y1="328.3" x2="177.45" y2="325.7" stroke="#111" stroke-width="1"/>
<path d="M16.8 401.4 17.3 401.4 17.7 401.4 18.2 401.4 18.6 401.4 19.1 401.4 19.6 401.4 20 401.3 20.5 401.3 20.9 401.3 21.4 401.3 21.8 401.3 22.3 401.3 22.8 401.3 23.2 401.3 23.7 401.3 24.1 401.3 24.6 401.3 25.1 401.3 25.5 401.3 26 401.3 26.4 401.2 26.9 401.2 27.4 401.2 27.8 401.2 28.3 401.2 28.7 401.2 29.2 401.2 29.7 401.2 30.1 401.2 30.6 401.2 31 401.2 31.5 401.1 31.9 401.1 32.4 401.1 32.9 401.1 33.3 401.1 33.8 401.1 34.2 401.1 34.7 401.1 35.2 401 35.6 401 36.1 401 36.5 401 37 401 37.5 401 37.9 401 38.4 400.9 38.8 400.9 39.3 400.9 39.8 400.9 40.2 400.9 40.7 400.8 41.1 400.8 41.6 400.8 42 400.8 42.5 400.8 43 400.7 43.4 400.7 43.9 400.7 44.3 400.7 44.8 400.7 45.3 400.6 45.7 400.6 46.2 400.6 46.6 400.5 47.1 400.5 47.6 400.5 48 400.5 48.5 400.4 48.9 400.4 49.4 400.4 49.8 400.3 50.3 400.3 50.8 400.2 51.2 400.2 51.7 400.2 52.1 400.1 52.6 400.1 53.1 400 53.5 400 54 399.9 54.4 399.9 54.9 399.8 55.4 399.7 55.8 399.7 56.3 399.6 56.7 399.5 57.2 399.4 57.7 399.3 58.1 399.2 58.6 399.1 59 399 59.5 398.9 59.9 398.8 60.4 398.6 60.9 398.4 61.3 398.3 61.8 398.1 62.2 397.9 62.7 397.6 63.2 397.4 63.6 397.1 64.1 396.8 64.5 396.4 65 396.1 65.5 395.6 65.9 395.2 66.4 394.7 66.8 394.2 67.3 393.6 67.7 392.9 68.2 392.2 68.7 391.5 69.1 390.7 69.6 389.8 70 388.9 70.5 387.9 71 386.8 71.4 385.6 71.9 384.4 72.3 383.2 72.8 381.8 73.3 380.4 73.7 378.9 74.2 377.4 74.6 375.7 75.1 374.1 75.6 372.4 76 370.6 76.5 368.8 76.9 367 77.4 365.2 77.8 363.3 78.3 361.5 78.8 359.6 79.2 357.8 79.7 356.1 80.1 354.4 80.6 352.8 81.1 351.3 81.5 349.9 82 348.7 82.4 347.6 82.9 346.7 83.4 346 83.8 345.4 84.3 345.1 84.7 345 85.2 345.1 85.6 345.3 86.1 345.8 86.6 346.3 87 347.1 87.5 347.9 87.9 349 88.4 350.1 88.9 351.3 89.3 352.6 89.8 354 90.2 355.5 90.7 357 91.2 358.6 91.6 360.2 92.1 361.8 92.5 363.5 93 365.1 93.5 366.8 93.9 368.4 94.4 370 94.8 371.6 95.3 373.1 95.7 374.6 96.2 376.1 96.7 377.5 97.1 378.9 97.6 380.2 98 381.5 98.5 382.7 99 383.8 99.4 384.9 99.9 386 100.3 387 100.8 387.9 101.3 388.8 101.7 389.7 102.2 390.5 102.6 391.2 103.1 391.9 103.6 392.5 104 393.1 104.5 393.7 104.9 394.2 105.4 394.7 105.8 395.1 106.3 395.5 106.8 395.9 107.2 396.2 107.7 396.6 108.1 396.9 108.6 397.1 109.1 397.4 109.5 397.6 110 397.8 110.4 398 110.9 398.2 111.4 398.4 111.8 398.5 112.3 398.7 112.7 398.8 113.2 398.9 113.6 399 114.1 399.1 114.6 399.2 115 399.3 115.5 399.4 115.9 399.5 116.4 399.5 116.9 399.6 117.3 399.7 117.8 399.7 118.2 399.8 118.7 399.8 119.2 399.9 119.6 399.9 120.1 400 120.5 400 121 400.1 121.5 400.1 121.9 400.2 122.4 400.2 122.8 400.2 123.3 400.3 123.7 400.3 124.2 400.3 124.7 400.4 125.1 400.4 125.6 400.4 126 400.5 126.5 400.5 127 400.5 127.4 400.5 127.9 400.6 128.3 400.6 128.8 400.6 129.3 400.6 129.7 400.7 130.2 400.7 130.6 400.7 131.1 400.7 131.6 400.7 132 400.8 132.5 400.8 132.9 400.8 133.4 400.8 133.8 400.8 134.3 400.8 134.8 400.9 135.2 400.9 135.7 400.9 136.1 400.9 136.6 400.9 137.1 400.9 137.5 401 138 401 138.4 401 138.9 401 139.4 401 139.8 401 140.3 401 140.7 401 141.2 401.1 141.6 401.1 142.1 401.1 142.6 401.1 143 401.1 143.5 401.1 143.9 401.1 144.4 401.1 144.9 401.1 145.3 401.2 145.8 401.2 146.2 401.2 146.7 401.2 147.2 401.2 147.6 401.2 148.1 401.2 148.5 401.2 149 401.2 149.5 401.2 149.9 401.2 150.4 401.2 150.8 401.3 151.3 401.3 151.7 401.3 152.2 401.3 152.7 401.3 153.1 401.3 153.6 401.3 154 401.3 154.5 401.3 155 401.3 155.4 401.3 155.9 401.3 156.3 401.3 156.8 401.3 157.3 401.3 157.7 401.4 158.2 401.4 158.6 401.4 159.1 401.4 159.5 401.4 160 401.4 160.5 401.4 160.9 401.4 161.4 401.4 161.8 401.4 162.3 401.4 162.8 401.4 163.2 401.4 163.7 401.4 164.1 401.4 164.6 401.4 165.1 401.4 165.5 401.4 166 401.4 166.4 401.4 166.9 401.4 167.4 401.4 167.8 401.5 168.3 401.5 168.7 401.5 169.2 401.5 169.6 401.5 170.1 401.5 170.6 401.5 171 401.5 171.5 401.5 171.9 401.5 172.4 401.5 172.9 401.5 173.3 401.5 173.8 401.5 174.2 401.5 174.7 401.5 175.2 401.5 175.6 401.5 176.1 401.5 176.5 401.5 177 401.5 177.5 401.5 177.9 401.5 178.4 401.5 178.8 401.5 179.3 401.5 179.7 401.5 180.2 401.5 180.7 401.5 181.1 401.5 181.6 401.5 182 401.5 182.5 401.5 183 401.5 183.4 401.6 183.9 401.6 184.3 401.6 184.8 401.6 185.3 401.6 185.7 401.6 186.2 401.6 186.6 401.6 187.1 401.6 187.5 401.6 188 401.6 188.5 401.6 188.9 401.6 189.4 401.6 189.8 401.6 190.3 401.6 190.8 401.6 191.2 401.6 191.7 401.6 192.1 401.6 192.6 401.6 193.1 401.6 193.5 401.6 194 401.6 194.4 401.6 194.9 401.6 195.4 401.6 195.8 401.6 196.3 401.6 196.7 401.6 197.2 401.6 197.6 401.6 198.1 401.6 198.6 401.6 199 401.6 199.5 401.6 199.9 401.6 200.4 401.6 200.4 404.8 16.8 404.8 Z" fill="url(#gbT)" stroke="none"/>
<path d="M16.8 401.4 17.3 401.4 17.7 401.4 18.2 401.4 18.6 401.4 19.1 401.4 19.6 401.4 20 401.3 20.5 401.3 20.9 401.3 21.4 401.3 21.8 401.3 22.3 401.3 22.8 401.3 23.2 401.3 23.7 401.3 24.1 401.3 24.6 401.3 25.1 401.3 25.5 401.3 26 401.3 26.4 401.2 26.9 401.2 27.4 401.2 27.8 401.2 28.3 401.2 28.7 401.2 29.2 401.2 29.7 401.2 30.1 401.2 30.6 401.2 31 401.2 31.5 401.1 31.9 401.1 32.4 401.1 32.9 401.1 33.3 401.1 33.8 401.1 34.2 401.1 34.7 401.1 35.2 401 35.6 401 36.1 401 36.5 401 37 401 37.5 401 37.9 401 38.4 400.9 38.8 400.9 39.3 400.9 39.8 400.9 40.2 400.9 40.7 400.8 41.1 400.8 41.6 400.8 42 400.8 42.5 400.8 43 400.7 43.4 400.7 43.9 400.7 44.3 400.7 44.8 400.7 45.3 400.6 45.7 400.6 46.2 400.6 46.6 400.5 47.1 400.5 47.6 400.5 48 400.5 48.5 400.4 48.9 400.4 49.4 400.4 49.8 400.3 50.3 400.3 50.8 400.2 51.2 400.2 51.7 400.2 52.1 400.1 52.6 400.1 53.1 400 53.5 400 54 399.9 54.4 399.9 54.9 399.8 55.4 399.7 55.8 399.7 56.3 399.6 56.7 399.5 57.2 399.4 57.7 399.3 58.1 399.2 58.6 399.1 59 399 59.5 398.9 59.9 398.8 60.4 398.6 60.9 398.4 61.3 398.3 61.8 398.1 62.2 397.9 62.7 397.6 63.2 397.4 63.6 397.1 64.1 396.8 64.5 396.4 65 396.1 65.5 395.6 65.9 395.2 66.4 394.7 66.8 394.2 67.3 393.6 67.7 392.9 68.2 392.2 68.7 391.5 69.1 390.7 69.6 389.8 70 388.9 70.5 387.9 71 386.8 71.4 385.6 71.9 384.4 72.3 383.2 72.8 381.8 73.3 380.4 73.7 378.9 74.2 377.4 74.6 375.7 75.1 374.1 75.6 372.4 76 370.6 76.5 368.8 76.9 367 77.4 365.2 77.8 363.3 78.3 361.5 78.8 359.6 79.2 357.8 79.7 356.1 80.1 354.4 80.6 352.8 81.1 351.3 81.5 349.9 82 348.7 82.4 347.6 82.9 346.7 83.4 346 83.8 345.4 84.3 345.1 84.7 345 85.2 345.1 85.6 345.3 86.1 345.8 86.6 346.3 87 347.1 87.5 347.9 87.9 349 88.4 350.1 88.9 351.3 89.3 352.6 89.8 354 90.2 355.5 90.7 357 91.2 358.6 91.6 360.2 92.1 361.8 92.5 363.5 93 365.1 93.5 366.8 93.9 368.4 94.4 370 94.8 371.6 95.3 373.1 95.7 374.6 96.2 376.1 96.7 377.5 97.1 378.9 97.6 380.2 98 381.5 98.5 382.7 99 383.8 99.4 384.9 99.9 386 100.3 387 100.8 387.9 101.3 388.8 101.7 389.7 102.2 390.5 102.6 391.2 103.1 391.9 103.6 392.5 104 393.1 104.5 393.7 104.9 394.2 105.4 394.7 105.8 395.1 106.3 395.5 106.8 395.9 107.2 396.2 107.7 396.6 108.1 396.9 108.6 397.1 109.1 397.4 109.5 397.6 110 397.8 110.4 398 110.9 398.2 111.4 398.4 111.8 398.5 112.3 398.7 112.7 398.8 113.2 398.9 113.6 399 114.1 399.1 114.6 399.2 115 399.3 115.5 399.4 115.9 399.5 116.4 399.5 116.9 399.6 117.3 399.7 117.8 399.7 118.2 399.8 118.7 399.8 119.2 399.9 119.6 399.9 120.1 400 120.5 400 121 400.1 121.5 400.1 121.9 400.2 122.4 400.2 122.8 400.2 123.3 400.3 123.7 400.3 124.2 400.3 124.7 400.4 125.1 400.4 125.6 400.4 126 400.5 126.5 400.5 127 400.5 127.4 400.5 127.9 400.6 128.3 400.6 128.8 400.6 129.3 400.6 129.7 400.7 130.2 400.7 130.6 400.7 131.1 400.7 131.6 400.7 132 400.8 132.5 400.8 132.9 400.8 133.4 400.8 133.8 400.8 134.3 400.8 134.8 400.9 135.2 400.9 135.7 400.9 136.1 400.9 136.6 400.9 137.1 400.9 137.5 401 138 401 138.4 401 138.9 401 139.4 401 139.8 401 140.3 401 140.7 401 141.2 401.1 141.6 401.1 142.1 401.1 142.6 401.1 143 401.1 143.5 401.1 143.9 401.1 144.4 401.1 144.9 401.1 145.3 401.2 145.8 401.2 146.2 401.2 146.7 401.2 147.2 401.2 147.6 401.2 148.1 401.2 148.5 401.2 149 401.2 149.5 401.2 149.9 401.2 150.4 401.2 150.8 401.3 151.3 401.3 151.7 401.3 152.2 401.3 152.7 401.3 153.1 401.3 153.6 401.3 154 401.3 154.5 401.3 155 401.3 155.4 401.3 155.9 401.3 156.3 401.3 156.8 401.3 157.3 401.3 157.7 401.4 158.2 401.4 158.6 401.4 159.1 401.4 159.5 401.4 160 401.4 160.5 401.4 160.9 401.4 161.4 401.4 161.8 401.4 162.3 401.4 162.8 401.4 163.2 401.4 163.7 401.4 164.1 401.4 164.6 401.4 165.1 401.4 165.5 401.4 166 401.4 166.4 401.4 166.9 401.4 167.4 401.4 167.8 401.5 168.3 401.5 168.7 401.5 169.2 401.5 169.6 401.5 170.1 401.5 170.6 401.5 171 401.5 171.5 401.5 171.9 401.5 172.4 401.5 172.9 401.5 173.3 401.5 173.8 401.5 174.2 401.5 174.7 401.5 175.2 401.5 175.6 401.5 176.1 401.5 176.5 401.5 177 401.5 177.5 401.5 177.9 401.5 178.4 401.5 178.8 401.5 179.3 401.5 179.7 401.5 180.2 401.5 180.7 401.5 181.1 401.5 181.6 401.5 182 401.5 182.5 401.5 183 401.5 183.4 401.6 183.9 401.6 184.3 401.6 184.8 401.6 185.3 401.6 185.7 401.6 186.2 401.6 186.6 401.6 187.1 401.6 187.5 401.6 188 401.6 188.5 401.6 188.9 401.6 189.4 401.6 189.8 401.6 190.3 401.6 190.8 401.6 191.2 401.6 191.7 401.6 192.1 401.6 192.6 401.6 193.1 401.6 193.5 401.6 194 401.6 194.4 401.6 194.9 401.6 195.4 401.6 195.8 401.6 196.3 401.6 196.7 401.6 197.2 401.6 197.6 401.6 198.1 401.6 198.6 401.6 199 401.6 199.5 401.6 199.9 401.6 200.4 401.6" stroke="#5cc65c" stroke-width="1.2" fill="none"/>
<rect x="16.8" y="333.6" width="183.6" height="71.2" fill="none" stroke="#111" stroke-width="1.1"/>
<line x1="39.75" y1="404.8" x2="39.75" y2="402.2" stroke="#111" stroke-width="1"/>
<line x1="62.7" y1="404.8" x2="62.7" y2="402.2" stroke="#111" stroke-width="1"/>
<line x1="85.65" y1="404.8" x2="85.65" y2="402.2" stroke="#111" stroke-width="1"/>
<line x1="108.6" y1="404.8" x2="108.6" y2="402.2" stroke="#111" stroke-width="1"/>
<line x1="131.55" y1="404.8" x2="131.55" y2="402.2" stroke="#111" stroke-width="1"/>
<line x1="154.5" y1="404.8" x2="154.5" y2="402.2" stroke="#111" stroke-width="1"/>
<line x1="177.45" y1="404.8" x2="177.45" y2="402.2" stroke="#111" stroke-width="1"/>
<text x="16.8" y="417.93" font-size="9.3" text-anchor="middle">450</text>
<text x="62.7" y="417.93" font-size="9.3" text-anchor="middle">500</text>
<text x="108.6" y="417.93" font-size="9.3" text-anchor="middle">550</text>
<text x="154.5" y="417.93" font-size="9.3" text-anchor="middle">600</text>
<text x="200.4" y="417.93" font-size="9.3" text-anchor="middle">650</text>
<text x="108.6" y="433.77" font-size="9.7" text-anchor="middle">Wavelength (nm)</text>
<text x="5.4" y="336.97" font-size="9.7" text-anchor="middle" transform="rotate(-90 5.4 333.5)">Norm. PL intensity</text>
<text x="51.9" y="273.6" font-size="8.1">530 nm</text>
<path d="M79.5 268.4 86.5 269.3" stroke="#222" stroke-width="0.6" fill="none"/>
<path d="M89.0 269.7 L86.2 268.3 L86.0 270.5 Z" fill="#222"/>
<line x1="90.24" y1="265.5" x2="90.24" y2="276" stroke="#333" stroke-width="0.7" stroke-dasharray="1.2 1.2"/>
<line x1="82" y1="297" x2="102" y2="297" stroke="#222" stroke-width="0.6"/>
<path d="M80.0 297 L82.8 295.9 L82.8 298.1 Z M103.8 297 L101.0 295.9 L101.0 298.1 Z" fill="#222"/>
<text x="81.8" y="306.9" font-size="8.1">26 nm</text>
<text x="45.2" y="349.5" font-size="8.1">524 nm</text>
<path d="M72.8 344.2 81.5 345" stroke="#222" stroke-width="0.6" fill="none"/>
<path d="M84.0 345.3 L81.2 343.9 L81.0 346.1 Z" fill="#222"/>
<line x1="84.73" y1="342" x2="84.73" y2="352" stroke="#333" stroke-width="0.7" stroke-dasharray="1.2 1.2"/>
<line x1="77.2" y1="372.6" x2="93.4" y2="372.6" stroke="#222" stroke-width="0.6"/>
<path d="M75.6 372.6 L78.4 371.5 L78.4 373.7 Z M94.9 372.6 L92.1 371.5 L92.1 373.7 Z" fill="#222"/>
<text x="75.2" y="383" font-size="8.1">24 nm</text>
<line x1="147.3" y1="264.5" x2="166.2" y2="264.5" stroke="#2f7b4c" stroke-width="1.2"/>
<text x="170.6" y="267.54" font-size="8.2">Pristine</text>
<line x1="149.6" y1="340.6" x2="163" y2="340.6" stroke="#5cc65c" stroke-width="1.2"/>
<text x="167.5" y="343.64" font-size="8.2">Target</text>
<rect x="140.2" y="273.7" width="38.7" height="37" fill="#5e6a58"/>
<rect x="141.9" y="275.4" width="35.3" height="33.6" fill="#40e452"/>
<rect x="145" y="278.5" width="29" height="27.5" rx="5" fill="#38c848"/>
<text x="137.7" y="320.04" font-size="8.2">PLQY = 20%</text>
<rect x="140.2" y="350.4" width="38.7" height="37.2" fill="#5b6c57"/>
<rect x="141.9" y="352.1" width="35.3" height="33.8" fill="#1ee83c"/>
<rect x="144.0" y="354.2" width="31.2" height="30.0" rx="3.5" fill="none" stroke="#b4fff0" stroke-width="1.3"/>
<rect x="145.0" y="355.2" width="29.2" height="28.0" rx="3" fill="#12ec3a"/>
<text x="137.7" y="398.54" font-size="8.2">PLQY = 91%</text>
<rect x="253.6" y="257.4" width="184.7" height="71.5" fill="none" stroke="#111" stroke-width="1.1"/>
<line x1="271.89" y1="328.9" x2="271.89" y2="327.3" stroke="#111" stroke-width="1"/>
<line x1="290.17" y1="328.9" x2="290.17" y2="326.1" stroke="#111" stroke-width="1"/>
<line x1="308.46" y1="328.9" x2="308.46" y2="327.3" stroke="#111" stroke-width="1"/>
<line x1="326.75" y1="328.9" x2="326.75" y2="326.1" stroke="#111" stroke-width="1"/>
<line x1="345.04" y1="328.9" x2="345.04" y2="327.3" stroke="#111" stroke-width="1"/>
<line x1="363.32" y1="328.9" x2="363.32" y2="326.1" stroke="#111" stroke-width="1"/>
<line x1="381.61" y1="328.9" x2="381.61" y2="327.3" stroke="#111" stroke-width="1"/>
<line x1="399.9" y1="328.9" x2="399.9" y2="326.1" stroke="#111" stroke-width="1"/>
<line x1="418.18" y1="328.9" x2="418.18" y2="327.3" stroke="#111" stroke-width="1"/>
<line x1="253.6" y1="260.4" x2="256.6" y2="260.4" stroke="#111" stroke-width="1"/>
<line x1="253.6" y1="275.64" x2="255.2" y2="275.64" stroke="#111" stroke-width="0.8"/>
<line x1="253.6" y1="271.8" x2="255.2" y2="271.8" stroke="#111" stroke-width="0.8"/>
<line x1="253.6" y1="269.08" x2="255.2" y2="269.08" stroke="#111" stroke-width="0.8"/>
<line x1="253.6" y1="266.96" x2="255.2" y2="266.96" stroke="#111" stroke-width="0.8"/>
<line x1="253.6" y1="265.24" x2="255.2" y2="265.24" stroke="#111" stroke-width="0.8"/>
<line x1="253.6" y1="263.78" x2="255.2" y2="263.78" stroke="#111" stroke-width="0.8"/>
<line x1="253.6" y1="262.51" x2="255.2" y2="262.51" stroke="#111" stroke-width="0.8"/>
<line x1="253.6" y1="261.4" x2="255.2" y2="261.4" stroke="#111" stroke-width="0.8"/>
<text x="248.6" y="264.73" font-size="9.3" text-anchor="end">10<tspan font-size="6.2" dy="-4.4">0</tspan></text>
<line x1="253.6" y1="282.2" x2="256.6" y2="282.2" stroke="#111" stroke-width="1"/>
<line x1="253.6" y1="297.44" x2="255.2" y2="297.44" stroke="#111" stroke-width="0.8"/>
<line x1="253.6" y1="293.6" x2="255.2" y2="293.6" stroke="#111" stroke-width="0.8"/>
<line x1="253.6" y1="290.88" x2="255.2" y2="290.88" stroke="#111" stroke-width="0.8"/>
<line x1="253.6" y1="288.76" x2="255.2" y2="288.76" stroke="#111" stroke-width="0.8"/>
<line x1="253.6" y1="287.04" x2="255.2" y2="287.04" stroke="#111" stroke-width="0.8"/>
<line x1="253.6" y1="285.58" x2="255.2" y2="285.58" stroke="#111" stroke-width="0.8"/>
<line x1="253.6" y1="284.31" x2="255.2" y2="284.31" stroke="#111" stroke-width="0.8"/>
<line x1="253.6" y1="283.2" x2="255.2" y2="283.2" stroke="#111" stroke-width="0.8"/>
<text x="248.6" y="286.53" font-size="9.3" text-anchor="end">10<tspan font-size="6.2" dy="-4.4">&#8722;1</tspan></text>
<line x1="253.6" y1="304" x2="256.6" y2="304" stroke="#111" stroke-width="1"/>
<line x1="253.6" y1="319.24" x2="255.2" y2="319.24" stroke="#111" stroke-width="0.8"/>
<line x1="253.6" y1="315.4" x2="255.2" y2="315.4" stroke="#111" stroke-width="0.8"/>
<line x1="253.6" y1="312.68" x2="255.2" y2="312.68" stroke="#111" stroke-width="0.8"/>
<line x1="253.6" y1="310.56" x2="255.2" y2="310.56" stroke="#111" stroke-width="0.8"/>
<line x1="253.6" y1="308.84" x2="255.2" y2="308.84" stroke="#111" stroke-width="0.8"/>
<line x1="253.6" y1="307.38" x2="255.2" y2="307.38" stroke="#111" stroke-width="0.8"/>
<line x1="253.6" y1="306.11" x2="255.2" y2="306.11" stroke="#111" stroke-width="0.8"/>
<line x1="253.6" y1="305" x2="255.2" y2="305" stroke="#111" stroke-width="0.8"/>
<text x="248.6" y="308.33" font-size="9.3" text-anchor="end">10<tspan font-size="6.2" dy="-4.4">&#8722;2</tspan></text>
<line x1="253.6" y1="325.8" x2="256.6" y2="325.8" stroke="#111" stroke-width="1"/>
<text x="248.6" y="330.13" font-size="9.3" text-anchor="end">10<tspan font-size="6.2" dy="-4.4">&#8722;3</tspan></text>
<path d="M253.6 260.6 254.0 261.9 254.2 263.3 254.7 264.4 255.0 265.6 255.1 266.6 255.5 266.8 256.1 267.7 256.4 268.5 256.5 269.0 256.9 269.6 257.4 270.2 257.6 270.4 257.9 271.0 258.2 271.7 258.4 271.3 258.7 272.3 259.3 271.3 259.4 272.7 259.9 272.3 260.2 272.9 260.4 273.0 260.8 273.8 261.1 273.9 261.6 273.6 262.0 273.8 262.1 275.2 262.4 274.8 262.9 274.8 263.0 275.0 263.5 275.9 263.9 276.6 264.3 276.4 264.5 276.6 264.8 276.8 265.2 276.8 265.5 276.4 265.7 277.6 266.0 278.5 266.3 278.5 266.9 277.7 267.1 278.9 267.4 277.8 267.7 278.8 267.9 278.5 268.3 278.8 268.8 279.9 269.2 280.3 269.5 280.0 269.9 279.8 270.0 280.4 270.3 280.7 270.6 280.9 271.2 281.2 271.3 281.9 271.6 281.7 271.9 281.9 272.3 281.6 272.8 282.0 273.0 281.9 273.3 281.9 273.7 282.8 273.9 282.8 274.4 283.4 274.7 283.5 275.0 282.5 275.2 284.4 275.6 285.0 275.9 284.7 276.3 285.0 276.6 284.6 277.1 284.3 277.2 285.1 277.7 284.4 277.9 285.9 278.4 285.5 278.7 285.6 278.9 286.6 279.2 286.5 279.7 286.9 279.8 286.1 280.2 287.7 280.6 286.6 281.1 286.8 281.1 287.4 281.6 288.0 281.8 287.6 282.1 288.7 282.5 287.5 283.0 289.1 283.3 288.0 283.5 288.4 283.9 287.9 284.2 288.3 284.4 289.9 284.8 289.9 285.3 288.1 285.5 289.3 285.8 290.2 286.2 289.6 286.5 289.8 286.9 290.2 287.0 290.6 287.6 291.7 288.0 290.6 288.3 290.4 288.5 291.6 289.0 291.5 289.1 291.6 289.3 291.7 289.8 291.0 290.0 292.3 290.4 293.3 290.8 292.3 291.2 291.2 291.6 292.6 291.7 292.5 292.0 292.0 292.5 293.0 292.9 292.8 293.1 292.8 293.6 293.9 293.6 292.8 294.2 292.2 294.5 292.9 294.8 294.0 295.2 294.9 295.4 293.3 295.7 292.8 296.0 293.7 296.5 293.0 296.6 293.6 297.0 294.1 297.5 295.0 297.6 294.2 298.0 295.2 298.3 294.6 298.6 294.5 298.9 295.1 299.4 297.1 299.6 296.5 300.1 296.4 300.2 295.3 300.8 295.9 301.0 294.9 301.4 295.7 301.7 295.7 301.9 296.2 302.4 296.8 302.5 295.4 303.1 296.1 303.4 295.4 303.7 295.5 303.9 296.3 304.3 295.3 304.6 296.4 304.9 298.4 305.2 295.2 305.7 296.8 305.9 296.9 306.4 295.7 306.5 297.0 306.9 296.9 307.1 297.7 307.6 298.3 308.0 297.1 308.2 298.2 308.6 297.1 309.0 298.2 309.1 298.5 309.6 297.7 309.8 296.7 310.1 299.3 310.7 297.1 310.8 297.9 311.1 297.9 311.5 299.3 311.8 296.9 312.1 299.6 312.4 299.3 312.7 298.3 313.2 300.7 313.4 298.4 313.7 299.0 314.3 300.8 314.6 301.4 314.8 300.0 315.3 298.8 315.4 297.6 315.8 298.1 316.0 299.2 316.4 297.6 316.9 301.0 317.1 299.9 317.5 300.8 317.7 301.2 318.1 301.3 318.4 299.3 318.7 300.7 319.0 301.2 319.6 299.3 319.9 299.1 320.1 298.7 320.4 300.8 320.6 297.7 321.1 299.3 321.5 299.6 321.7 302.4 322.1 302.0 322.5 301.5 322.7 301.1 323.1 299.7 323.4 301.8 323.9 301.2 324.2 301.9 324.3 300.8 324.7 300.6 325.0 301.5 325.2 300.2 325.7 298.8 325.9 300.7 326.5 301.0 326.6 301.0 327.1 300.1 327.4 300.6 327.6 302.5 328.0 303.0 328.4 301.5 328.6 302.5 329.1 301.7 329.4 301.1 329.5 301.4 330.0 302.1 330.3 302.6 330.6 301.8 331.0 303.5 331.4 302.4 331.5 301.3 331.8 301.9 332.3 302.2 332.5 303.0 332.9 302.9 333.1 303.1 333.7 301.9 333.8 304.4 334.1 299.3 334.6 299.7 335.0 304.4 335.3 303.2 335.5 304.3 336.0 301.0 336.3 302.9 336.6 305.0 336.8 299.9 337.3 303.4 337.6 303.8 337.9 301.6 338.2 302.1 338.5 303.1 338.8 303.3 339.2 304.1 339.5 302.1 339.7 303.1 340.1 304.7 340.4 305.6 340.8 302.8 341.1 303.9 341.5 303.2 341.7 305.0 342.3 306.4 342.4 303.6 342.9 303.2 343.1 304.1 343.3 303.5 343.7 303.5 344.2 303.5 344.5 304.4 344.9 305.2 345.2 305.1 345.5 303.2 345.7 305.6 346.2 305.0 346.4 303.8 346.9 306.5 347.1 303.4 347.5 305.5 347.7 304.2 348.1 304.7 348.3 307.1 348.9 306.1 349.1 303.1 349.4 307.3 349.6 305.3 350.1 305.3 350.4 304.9 350.7 306.6 351.1 304.0 351.2 304.2 351.6 306.5 351.9 303.8 352.4 305.9 352.8 306.2 352.9 304.8 353.5 305.9 353.8 305.0 354.0 305.7 354.3 307.5 354.6 305.9 354.9 308.4 355.4 306.4 355.6 306.9 356.0 305.1 356.2 305.5 356.6 305.4 357.0 308.2 357.4 306.7 357.6 304.5 358.1 307.3 358.3 304.7 358.5 306.0 359.0 308.8 359.3 307.9 359.7 307.5 359.9 306.4 360.1 307.4 360.5 307.4 360.8 307.2 361.2 305.5 361.5 309.4 361.9 306.7 362.3 306.5 362.4 307.9 363.0 304.2 363.3 307.8 363.5 309.0 364.0 304.5 364.1 308.7 364.5 306.5 364.8 303.0 365.3 307.7 365.5 307.8 366.0 305.9 366.3 307.7 366.5 310.6 366.7 308.9 367.1 308.3 367.6 306.8 367.7 309.5 368.2 308.0 368.3 307.4 368.9 306.2 369.0 310.8 369.4 305.9 369.8 310.3 370.1 308.3 370.3 309.6 370.9 310.7 371.1 311.7 371.5 309.1 371.8 309.2 372.1 312.4 372.4 308.9 372.7 306.6 373.1 306.4 373.5 310.4 373.9 309.4 374.2 307.2 374.3 311.4 374.9 309.8 375.2 308.2 375.4 310.6 375.8 308.9 376.1 308.8 376.5 309.1 376.8 307.3 377.1 306.9 377.3 308.3 377.6 310.9 378.0 311.2 378.5 309.4 378.7 309.8 379.0 309.3 379.4 309.9 379.8 312.4 379.9 310.5 380.3 310.6 380.6 309.9 380.9 311.8 381.4 310.9 381.7 308.4 382.0 311.5 382.4 308.5 382.7 307.5 383.1 313.6 383.2 312.0 383.7 311.5 383.9 313.1 384.2 308.8 384.7 311.6 385.0 310.4 385.2 310.3 385.6 308.2 386.0 308.9 386.4 312.4 386.5 309.4 386.9 310.5 387.1 308.9 387.5 309.6 388.0 309.2 388.1 308.9 388.6 310.9 388.9 309.4 389.4 309.4 389.4 312.5 390.0 304.9 390.1 309.3 390.5 312.2 390.9 307.9 391.1 309.9 391.6 317.0 392.0 316.1 392.2 311.4 392.5 314.8 392.8 310.5 393.2 311.1 393.5 313.2 393.9 312.0 394.1 311.9 394.5 317.6 394.9 312.0 395.1 310.2 395.6 314.0 395.7 311.1 396.1 311.7 396.4 310.9 396.6 314.4 397.3 311.5 397.6 314.1 397.7 309.2 398.0 309.6 398.4 313.4 398.8 313.7 399.0 313.9 399.4 311.7 399.9 314.8 400.0 312.2 400.5 310.5 400.8 312.1 400.9 313.9 401.5 313.8 401.6 311.0 402.1 313.2 402.5 313.5 402.7 313.2 403.1 313.6 403.5 313.6 403.6 310.3 404.1 315.4 404.3 314.1 404.6 314.5 405.0 315.3 405.4 312.3 405.6 312.2 406.0 314.4 406.2 317.3 406.6 311.6 407.1 313.2 407.5 311.9 407.6 316.7 408.0 314.8 408.4 314.4 408.7 315.1 408.9 312.9 409.2 312.7 409.7 317.4 409.8 313.3 410.2 316.4 410.6 314.6 410.8 313.3 411.3 317.5 411.6 313.4 411.8 315.3 412.2 314.0 412.6 316.6 412.8 316.4 413.2 313.2 413.4 317.0 413.8 317.9 414.2 317.2 414.4 313.9 414.8 316.6 415.3 318.4 415.4 316.8 415.8 318.0 416.1 316.8 416.5 319.8 416.7 317.8 417.2 313.8 417.4 314.9 417.7 316.8 418.3 312.5 418.6 314.3 418.7 311.6 419.3 317.3 419.6 318.2 419.9 315.5 420.2 314.9 420.5 313.1 420.8 314.7 421.1 316.1 421.5 315.6 421.8 315.1 422.2 318.0 422.4 315.2 422.9 318.7 423.0 319.3 423.3 313.3 423.8 318.0 424.3 314.7 424.5 311.8 424.7 319.3 425.0 319.1 425.4 317.6 425.9 314.5 426.2 317.7 426.6 315.4 426.8 316.2 427.1 315.5 427.3 316.2 427.6 320.3 428.0 318.8 428.5 316.5 428.7 317.8 428.9 315.0 429.5 321.7 429.8 317.7 430.0 316.5 430.4 315.4 430.6 317.6 430.9 316.6 431.2 316.8 431.7 315.2 432.1 320.9 432.4 316.3 432.7 318.5 433.1 320.2 433.2 318.2 433.5 317.9 434.1 316.7 434.4 320.7 434.7 319.9 434.9 319.1 435.3 317.9 435.5 319.4 436.1 321.6 436.2 318.2 436.8 320.6 436.9 320.4" fill="none" stroke="none" marker-start="url(#mk0)" marker-mid="url(#mk0)" marker-end="url(#mk0)"/>
<circle cx="392" cy="265" r="1.4" fill="none" stroke="#2f7b4c" stroke-width="0.6"/>
<text x="397.4" y="267.94" font-size="8.2">Pristine</text>
<text x="313.3" y="290.26" font-size="8"><tspan font-style="italic">T</tspan><tspan font-size="5.2" font-style="italic" dy="2.2">avg</tspan><tspan dy="-2.2"> = 33.4 ns</tspan></text>
<rect x="253.6" y="333.9" width="184.7" height="70.9" fill="none" stroke="#111" stroke-width="1.1"/>
<line x1="271.89" y1="404.8" x2="271.89" y2="403.2" stroke="#111" stroke-width="1"/>
<line x1="290.17" y1="404.8" x2="290.17" y2="402" stroke="#111" stroke-width="1"/>
<line x1="308.46" y1="404.8" x2="308.46" y2="403.2" stroke="#111" stroke-width="1"/>
<line x1="326.75" y1="404.8" x2="326.75" y2="402" stroke="#111" stroke-width="1"/>
<line x1="345.04" y1="404.8" x2="345.04" y2="403.2" stroke="#111" stroke-width="1"/>
<line x1="363.32" y1="404.8" x2="363.32" y2="402" stroke="#111" stroke-width="1"/>
<line x1="381.61" y1="404.8" x2="381.61" y2="403.2" stroke="#111" stroke-width="1"/>
<line x1="399.9" y1="404.8" x2="399.9" y2="402" stroke="#111" stroke-width="1"/>
<line x1="418.18" y1="404.8" x2="418.18" y2="403.2" stroke="#111" stroke-width="1"/>
<line x1="253.6" y1="338" x2="256.6" y2="338" stroke="#111" stroke-width="1"/>
<line x1="253.6" y1="353.03" x2="255.2" y2="353.03" stroke="#111" stroke-width="0.8"/>
<line x1="253.6" y1="349.24" x2="255.2" y2="349.24" stroke="#111" stroke-width="0.8"/>
<line x1="253.6" y1="346.56" x2="255.2" y2="346.56" stroke="#111" stroke-width="0.8"/>
<line x1="253.6" y1="344.47" x2="255.2" y2="344.47" stroke="#111" stroke-width="0.8"/>
<line x1="253.6" y1="342.77" x2="255.2" y2="342.77" stroke="#111" stroke-width="0.8"/>
<line x1="253.6" y1="341.33" x2="255.2" y2="341.33" stroke="#111" stroke-width="0.8"/>
<line x1="253.6" y1="340.08" x2="255.2" y2="340.08" stroke="#111" stroke-width="0.8"/>
<line x1="253.6" y1="338.98" x2="255.2" y2="338.98" stroke="#111" stroke-width="0.8"/>
<text x="248.6" y="342.33" font-size="9.3" text-anchor="end">10<tspan font-size="6.2" dy="-4.4">0</tspan></text>
<line x1="253.6" y1="359.5" x2="256.6" y2="359.5" stroke="#111" stroke-width="1"/>
<line x1="253.6" y1="374.53" x2="255.2" y2="374.53" stroke="#111" stroke-width="0.8"/>
<line x1="253.6" y1="370.74" x2="255.2" y2="370.74" stroke="#111" stroke-width="0.8"/>
<line x1="253.6" y1="368.06" x2="255.2" y2="368.06" stroke="#111" stroke-width="0.8"/>
<line x1="253.6" y1="365.97" x2="255.2" y2="365.97" stroke="#111" stroke-width="0.8"/>
<line x1="253.6" y1="364.27" x2="255.2" y2="364.27" stroke="#111" stroke-width="0.8"/>
<line x1="253.6" y1="362.83" x2="255.2" y2="362.83" stroke="#111" stroke-width="0.8"/>
<line x1="253.6" y1="361.58" x2="255.2" y2="361.58" stroke="#111" stroke-width="0.8"/>
<line x1="253.6" y1="360.48" x2="255.2" y2="360.48" stroke="#111" stroke-width="0.8"/>
<text x="248.6" y="363.83" font-size="9.3" text-anchor="end">10<tspan font-size="6.2" dy="-4.4">&#8722;1</tspan></text>
<line x1="253.6" y1="381" x2="256.6" y2="381" stroke="#111" stroke-width="1"/>
<line x1="253.6" y1="396.03" x2="255.2" y2="396.03" stroke="#111" stroke-width="0.8"/>
<line x1="253.6" y1="392.24" x2="255.2" y2="392.24" stroke="#111" stroke-width="0.8"/>
<line x1="253.6" y1="389.56" x2="255.2" y2="389.56" stroke="#111" stroke-width="0.8"/>
<line x1="253.6" y1="387.47" x2="255.2" y2="387.47" stroke="#111" stroke-width="0.8"/>
<line x1="253.6" y1="385.77" x2="255.2" y2="385.77" stroke="#111" stroke-width="0.8"/>
<line x1="253.6" y1="384.33" x2="255.2" y2="384.33" stroke="#111" stroke-width="0.8"/>
<line x1="253.6" y1="383.08" x2="255.2" y2="383.08" stroke="#111" stroke-width="0.8"/>
<line x1="253.6" y1="381.98" x2="255.2" y2="381.98" stroke="#111" stroke-width="0.8"/>
<text x="248.6" y="385.33" font-size="9.3" text-anchor="end">10<tspan font-size="6.2" dy="-4.4">&#8722;2</tspan></text>
<line x1="253.6" y1="402.5" x2="256.6" y2="402.5" stroke="#111" stroke-width="1"/>
<text x="248.6" y="406.83" font-size="9.3" text-anchor="end">10<tspan font-size="6.2" dy="-4.4">&#8722;3</tspan></text>
<path d="M253.5 338.2 254.0 338.8 254.1 339.1 254.6 340.2 255.1 341.0 255.4 341.2 255.7 342.1 255.8 342.7 256.3 343.7 256.7 343.9 256.8 344.5 257.1 344.8 257.4 345.5 257.7 345.8 258.2 346.3 258.4 346.7 258.8 346.8 259.3 348.1 259.5 347.8 259.9 347.8 260.1 348.3 260.4 348.7 260.8 348.3 261.0 350.0 261.5 349.1 261.9 350.0 262.2 350.3 262.4 350.5 262.7 350.5 263.0 351.2 263.5 351.9 263.9 351.3 264.2 350.6 264.5 351.7 264.7 351.4 265.1 351.9 265.6 352.1 265.8 352.1 266.2 351.9 266.3 352.2 266.6 352.8 267.2 353.0 267.5 352.2 267.7 352.7 268.1 354.3 268.3 353.3 268.7 353.5 268.9 354.0 269.3 353.6 269.8 352.9 270.2 353.8 270.4 354.1 270.9 354.5 271.0 354.4 271.4 355.6 271.8 354.8 271.9 355.0 272.3 354.6 272.6 356.4 273.0 354.9 273.2 354.5 273.8 355.8 273.9 355.6 274.2 356.3 274.8 356.3 275.1 355.6 275.4 356.1 275.8 356.0 275.9 356.2 276.5 356.4 276.6 356.9 277.0 356.6 277.4 356.5 277.7 356.9 278.0 356.9 278.4 357.2 278.7 357.3 279.1 357.5 279.3 357.0 279.6 358.0 279.8 358.0 280.2 358.1 280.5 358.3 281.0 358.3 281.3 357.5 281.5 359.5 281.9 358.7 282.2 359.0 282.6 359.0 282.9 359.1 283.2 358.7 283.7 360.1 283.9 359.0 284.1 359.1 284.4 359.3 285.0 358.7 285.2 359.7 285.4 358.8 285.9 360.1 286.2 359.7 286.6 359.7 286.8 360.0 287.3 359.1 287.6 360.9 287.7 360.7 288.1 360.1 288.6 359.6 288.9 359.9 289.2 359.9 289.3 360.2 289.7 360.4 290.2 360.8 290.5 361.4 290.8 360.7 291.2 360.7 291.3 360.2 291.8 361.0 292.2 361.2 292.6 362.1 292.6 362.6 293.1 362.5 293.5 361.2 293.9 362.4 294.1 362.4 294.4 362.5 294.8 362.7 295.1 362.9 295.4 362.6 295.6 361.2 296.2 362.2 296.3 362.8 296.8 362.4 296.9 363.5 297.4 362.7 297.7 362.9 297.9 362.8 298.4 363.8 298.6 363.9 298.9 363.9 299.3 364.5 299.7 363.8 299.9 363.4 300.3 362.9 300.6 364.0 301.0 364.8 301.2 364.4 301.5 363.6 302.0 364.9 302.3 365.7 302.7 364.4 303.1 366.5 303.4 364.2 303.6 366.2 303.9 364.6 304.2 363.9 304.6 365.3 304.9 365.5 305.4 365.5 305.6 365.9 306.1 365.8 306.1 365.7 306.5 366.0 306.8 367.0 307.2 366.0 307.5 366.6 307.8 366.4 308.3 366.4 308.5 366.9 309.0 366.4 309.3 366.6 309.5 367.8 309.8 366.2 310.2 367.0 310.7 367.7 310.9 367.3 311.3 368.2 311.4 366.9 311.9 367.0 312.3 365.5 312.4 366.0 312.7 368.3 313.3 368.7 313.6 368.6 313.7 368.3 314.2 368.7 314.3 368.6 314.9 366.4 315.1 368.3 315.5 369.3 315.8 368.2 316.1 367.3 316.5 367.6 316.9 367.0 317.0 367.9 317.4 368.7 317.7 368.0 318.1 368.4 318.3 369.7 318.7 368.6 319.1 369.9 319.6 370.1 319.8 369.6 320.1 367.6 320.3 368.7 320.7 368.8 321.2 369.0 321.3 368.9 321.8 369.5 322.1 368.4 322.3 368.1 322.8 369.2 323.2 368.0 323.3 370.4 323.8 370.6 324.0 369.7 324.3 369.0 324.8 370.2 325.1 370.1 325.4 372.3 325.6 369.0 326.0 369.7 326.3 371.4 326.7 370.4 326.9 371.9 327.3 372.0 327.7 370.1 327.9 371.4 328.2 370.1 328.6 370.9 329.0 371.5 329.3 369.9 329.7 373.0 330.1 372.1 330.4 374.1 330.5 372.0 331.1 370.5 331.4 372.7 331.7 371.4 332.0 372.1 332.2 369.7 332.5 370.8 333.0 372.5 333.2 371.9 333.7 372.5 333.9 371.6 334.3 371.6 334.5 372.6 334.9 372.0 335.2 372.6 335.5 373.2 335.9 373.7 336.3 372.9 336.5 374.9 336.8 371.8 337.2 372.1 337.7 372.2 338.0 373.2 338.3 370.2 338.6 374.8 338.9 373.2 339.2 374.5 339.5 373.1 339.8 374.0 340.1 375.1 340.5 372.8 340.8 372.2 341.1 373.5 341.3 373.7 341.7 373.4 342.2 373.6 342.3 373.7 342.9 373.3 343.1 373.7 343.6 374.2 343.8 373.5 344.1 373.7 344.4 375.9 344.8 373.7 345.0 374.6 345.5 373.8 345.8 373.8 346.1 373.8 346.4 374.5 346.6 374.3 347.1 375.1 347.5 377.0 347.6 374.3 348.2 375.3 348.3 376.1 348.8 373.8 349.1 375.8 349.5 374.6 349.8 375.7 350.1 376.7 350.3 376.4 350.7 374.8 351.0 375.0 351.5 376.6 351.7 374.2 351.9 374.3 352.4 375.9 352.6 376.2 353.1 376.8 353.4 373.8 353.7 375.9 354.1 376.4 354.2 376.3 354.6 375.8 355.0 375.4 355.4 375.6 355.5 377.4 356.1 374.1 356.4 377.7 356.5 377.0 356.9 376.3 357.2 378.1 357.5 378.0 357.8 377.1 358.1 376.5 358.6 378.1 359.0 376.6 359.3 377.6 359.7 377.4 359.8 374.4 360.1 376.7 360.6 376.5 360.8 376.4 361.3 377.0 361.7 376.8 361.8 376.9 362.1 376.0 362.5 378.2 362.8 374.9 363.1 377.1 363.4 376.5 363.9 380.3 364.1 375.9 364.6 375.4 365.0 375.5 365.2 378.8 365.5 377.4 366.0 377.4 366.1 377.3 366.6 377.2 366.9 378.4 367.1 376.4 367.6 375.7 367.8 378.3 368.2 376.4 368.4 379.8 368.8 377.8 369.1 379.1 369.5 378.6 369.8 378.5 370.2 379.8 370.4 378.6 370.9 379.3 371.1 381.0 371.5 377.8 371.7 377.2 372.1 378.1 372.3 379.4 372.6 379.2 373.0 377.9 373.3 379.6 373.6 377.5 374.1 377.8 374.3 380.1 374.7 379.4 375.2 376.9 375.3 379.4 375.8 380.2 376.1 379.9 376.3 378.7 376.7 379.8 377.1 378.5 377.4 377.5 377.6 378.1 378.0 379.0 378.3 380.4 378.8 378.6 379.0 379.8 379.3 378.5 379.6 380.1 380.0 379.7 380.2 380.0 380.5 379.5 380.9 380.4 381.4 380.0 381.6 380.1 382.1 379.8 382.4 381.1 382.7 382.4 382.8 379.9 383.3 379.9 383.5 383.1 384.0 379.3 384.3 381.4 384.6 379.6 385.0 380.6 385.3 377.6 385.5 383.8 385.9 379.6 386.3 381.9 386.7 380.5 387.0 379.5 387.1 381.6 387.7 385.4 387.8 381.1 388.3 378.6 388.7 381.3 388.9 382.1 389.3 383.2 389.6 380.8 389.8 383.1 390.1 380.8 390.7 380.4 391.0 381.1 391.3 383.4 391.6 380.2 391.8 382.2 392.2 381.5 392.6 381.9 392.9 381.9 393.3 383.7 393.4 380.9 393.7 381.8 394.0 383.4 394.6 381.0 394.8 383.5 395.3 381.2 395.5 381.5 395.9 381.8 396.1 382.2 396.6 382.3 396.8 381.2 397.1 380.8 397.4 382.1 397.7 381.4 398.0 383.9 398.3 382.6 398.9 381.7 399.0 382.6 399.6 384.9 399.8 383.3 400.0 383.3 400.5 381.7 400.8 383.8 400.9 381.6 401.5 382.9 401.7 382.4 401.9 383.4 402.4 382.1 402.7 383.5 403.0 386.3 403.4 382.2 403.8 385.9 404.0 386.4 404.2 383.0 404.5 382.2 404.9 382.5 405.3 384.8 405.6 383.0 406.0 382.3 406.4 386.8 406.5 384.0 406.9 384.5 407.2 383.7 407.7 383.5 407.8 380.6 408.3 383.2 408.5 381.4 409.0 383.1 409.4 383.3 409.8 383.6 409.9 381.0 410.3 384.1 410.5 385.3 411.0 385.5 411.1 385.5 411.6 382.8 412.0 383.5 412.2 384.7 412.5 382.9 412.9 385.1 413.2 384.0 413.7 384.6 414.1 382.8 414.4 385.8 414.7 385.7 414.9 386.0 415.2 382.8 415.6 383.9 415.9 384.3 416.2 387.7 416.5 382.7 416.9 385.8 417.1 383.5 417.5 385.8 417.7 382.8 418.3 382.5 418.7 386.8 418.8 384.6 419.2 386.7 419.5 384.6 419.7 385.3 420.0 386.3 420.5 382.8 420.7 383.6 421.1 384.7 421.4 389.0 421.7 387.7 422.1 384.7 422.5 387.2 422.7 386.5 423.0 384.5 423.3 384.1 423.8 385.9 424.0 388.0 424.5 384.8 424.6 383.2 425.1 383.8 425.3 384.8 425.7 385.2 426.1 382.7 426.4 385.5 426.7 384.8 427.1 384.9 427.5 385.2 427.7 385.8 428.2 386.0 428.5 387.4 428.6 385.9 428.9 385.9 429.3 385.1 429.8 386.0 429.9 389.2 430.5 387.7 430.6 384.9 431.0 383.6 431.4 385.6 431.6 382.9 432.0 387.4 432.3 386.5 432.5 386.0 432.9 385.8 433.3 387.1 433.7 387.6 433.9 389.0 434.4 386.2 434.7 387.5 435.0 386.8 435.2 385.7 435.7 384.6 435.9 387.6 436.4 385.6 436.5 382.8 436.8 385.7" fill="none" stroke="none" marker-start="url(#mk1)" marker-mid="url(#mk1)" marker-end="url(#mk1)"/>
<circle cx="392" cy="343" r="1.4" fill="none" stroke="#5cc65c" stroke-width="0.6"/>
<text x="397.4" y="345.94" font-size="8.2">Target</text>
<text x="316.4" y="361.26" font-size="8"><tspan font-style="italic">T</tspan><tspan font-size="5.2" font-style="italic" dy="2.2">avg</tspan><tspan dy="-2.2"> = 49.8 ns</tspan></text>
<text x="253.6" y="417.93" font-size="9.3" text-anchor="middle">0</text>
<text x="290.17" y="417.93" font-size="9.3" text-anchor="middle">100</text>
<text x="326.75" y="417.93" font-size="9.3" text-anchor="middle">200</text>
<text x="363.32" y="417.93" font-size="9.3" text-anchor="middle">300</text>
<text x="399.9" y="417.93" font-size="9.3" text-anchor="middle">400</text>
<text x="436.47" y="417.93" font-size="9.3" text-anchor="middle">500</text>
<text x="345.04" y="433.77" font-size="9.7" text-anchor="middle">Time (ns)</text>
<text x="217.5" y="334.97" font-size="9.7" text-anchor="middle" transform="rotate(-90 217.5 331.5)">Norm. PL intensity</text>
<rect x="493.4" y="259.2" width="183.2" height="147.2" fill="none" stroke="#111" stroke-width="1.1"/>
<line x1="493.4" y1="393.02" x2="495" y2="393.02" stroke="#111" stroke-width="1"/>
<line x1="493.4" y1="379.64" x2="496.2" y2="379.64" stroke="#111" stroke-width="1"/>
<line x1="493.4" y1="366.25" x2="495" y2="366.25" stroke="#111" stroke-width="1"/>
<line x1="493.4" y1="352.87" x2="496.2" y2="352.87" stroke="#111" stroke-width="1"/>
<line x1="493.4" y1="339.49" x2="495" y2="339.49" stroke="#111" stroke-width="1"/>
<line x1="493.4" y1="326.11" x2="496.2" y2="326.11" stroke="#111" stroke-width="1"/>
<line x1="493.4" y1="312.73" x2="495" y2="312.73" stroke="#111" stroke-width="1"/>
<line x1="493.4" y1="299.35" x2="496.2" y2="299.35" stroke="#111" stroke-width="1"/>
<line x1="493.4" y1="285.96" x2="495" y2="285.96" stroke="#111" stroke-width="1"/>
<line x1="493.4" y1="272.58" x2="496.2" y2="272.58" stroke="#111" stroke-width="1"/>
<line x1="493.4" y1="259.2" x2="495" y2="259.2" stroke="#111" stroke-width="1"/>
<line x1="508.67" y1="406.4" x2="508.67" y2="404.8" stroke="#111" stroke-width="1"/>
<line x1="523.93" y1="406.4" x2="523.93" y2="403.6" stroke="#111" stroke-width="1"/>
<line x1="539.2" y1="406.4" x2="539.2" y2="404.8" stroke="#111" stroke-width="1"/>
<line x1="554.47" y1="406.4" x2="554.47" y2="403.6" stroke="#111" stroke-width="1"/>
<line x1="569.73" y1="406.4" x2="569.73" y2="404.8" stroke="#111" stroke-width="1"/>
<line x1="585" y1="406.4" x2="585" y2="403.6" stroke="#111" stroke-width="1"/>
<line x1="600.27" y1="406.4" x2="600.27" y2="404.8" stroke="#111" stroke-width="1"/>
<line x1="615.53" y1="406.4" x2="615.53" y2="403.6" stroke="#111" stroke-width="1"/>
<line x1="630.8" y1="406.4" x2="630.8" y2="404.8" stroke="#111" stroke-width="1"/>
<line x1="646.07" y1="406.4" x2="646.07" y2="403.6" stroke="#111" stroke-width="1"/>
<line x1="661.33" y1="406.4" x2="661.33" y2="404.8" stroke="#111" stroke-width="1"/>
<text x="487.8" y="409.83" font-size="9.3" text-anchor="end" letter-spacing="0.25">0.0</text>
<text x="487.8" y="382.82" font-size="9.3" text-anchor="end" letter-spacing="0.25">0.2</text>
<text x="487.8" y="355.8" font-size="9.3" text-anchor="end" letter-spacing="0.25">0.4</text>
<text x="487.8" y="328.79" font-size="9.3" text-anchor="end" letter-spacing="0.25">0.6</text>
<text x="487.8" y="301.77" font-size="9.3" text-anchor="end" letter-spacing="0.25">0.8</text>
<text x="487.8" y="274.76" font-size="9.3" text-anchor="end" letter-spacing="0.25">1.0</text>
<text x="493.4" y="419.13" font-size="9.3" text-anchor="middle">0</text>
<text x="523.93" y="419.13" font-size="9.3" text-anchor="middle">8</text>
<text x="554.47" y="419.13" font-size="9.3" text-anchor="middle">16</text>
<text x="585" y="419.13" font-size="9.3" text-anchor="middle">24</text>
<text x="615.53" y="419.13" font-size="9.3" text-anchor="middle">32</text>
<text x="646.07" y="419.13" font-size="9.3" text-anchor="middle">40</text>
<text x="676.6" y="419.13" font-size="9.3" text-anchor="middle">48</text>
<text x="585" y="433.77" font-size="9.7" text-anchor="middle">Time (h)</text>
<text x="459.6" y="336.47" font-size="9.7" text-anchor="middle" transform="rotate(-90 459.6 333)">Norm. PL intensity</text>
<path d="M493.4 272.6 523.9 283.7 554.5 288.1 585 290.1 615.5 292.3 646.1 298.9 676.6 309" stroke="#5cc65c" stroke-width="1.2" fill="none"/>
<path d="M493.4 272.6 523.9 308.8 554.5 329.5 585 345.4 615.5 367.3 646.1 387.9 676.6 399.4" stroke="#2f7b4c" stroke-width="1.2" fill="none"/>
<circle cx="493.4" cy="272.58" r="1.75" fill="#fff" stroke="#5cc65c" stroke-width="0.9"/>
<circle cx="523.93" cy="283.69" r="1.75" fill="#fff" stroke="#5cc65c" stroke-width="0.9"/>
<circle cx="554.47" cy="288.1" r="1.75" fill="#fff" stroke="#5cc65c" stroke-width="0.9"/>
<circle cx="585" cy="290.11" r="1.75" fill="#fff" stroke="#5cc65c" stroke-width="0.9"/>
<circle cx="615.53" cy="292.25" r="1.75" fill="#fff" stroke="#5cc65c" stroke-width="0.9"/>
<circle cx="646.07" cy="298.94" r="1.75" fill="#fff" stroke="#5cc65c" stroke-width="0.9"/>
<circle cx="676.6" cy="308.98" r="1.75" fill="#fff" stroke="#5cc65c" stroke-width="0.9"/>
<path d="M493.4 270.48 l2.1 2.1 l-2.1 2.1 l-2.1 -2.1 Z" fill="#fff" stroke="#2f7b4c" stroke-width="0.9"/>
<path d="M523.93 306.75 l2.1 2.1 l-2.1 2.1 l-2.1 -2.1 Z" fill="#fff" stroke="#2f7b4c" stroke-width="0.9"/>
<path d="M554.47 327.35 l2.1 2.1 l-2.1 2.1 l-2.1 -2.1 Z" fill="#fff" stroke="#2f7b4c" stroke-width="0.9"/>
<path d="M585 343.28 l2.1 2.1 l-2.1 2.1 l-2.1 -2.1 Z" fill="#fff" stroke="#2f7b4c" stroke-width="0.9"/>
<path d="M615.53 365.23 l2.1 2.1 l-2.1 2.1 l-2.1 -2.1 Z" fill="#fff" stroke="#2f7b4c" stroke-width="0.9"/>
<path d="M646.07 385.83 l2.1 2.1 l-2.1 2.1 l-2.1 -2.1 Z" fill="#fff" stroke="#2f7b4c" stroke-width="0.9"/>
<path d="M676.6 397.34 l2.1 2.1 l-2.1 2.1 l-2.1 -2.1 Z" fill="#fff" stroke="#2f7b4c" stroke-width="0.9"/>
<line x1="501.8" y1="383.8" x2="520.7" y2="383.8" stroke="#2f7b4c" stroke-width="1.2"/>
<path d="M511.2 381.7 l2.1 2.1 l-2.1 2.1 l-2.1 -2.1 Z" fill="#fff" stroke="#2f7b4c" stroke-width="0.9"/>
<text x="524.7" y="386.94" font-size="8.2">Pristine</text>
<line x1="501.8" y1="394.3" x2="520.7" y2="394.3" stroke="#5cc65c" stroke-width="1.2"/>
<circle cx="511.2" cy="394.3" r="1.75" fill="#fff" stroke="#5cc65c" stroke-width="0.9"/>
<text x="524.7" y="397.44" font-size="8.2">Target</text>
<rect x="17.2" y="465.3" width="183" height="146.7" fill="none" stroke="#111" stroke-width="1.1"/>
<rect x="124.9" y="463.8" width="5" height="3" fill="#fff"/>
<rect x="124.9" y="610.5" width="5" height="3" fill="#fff"/>
<line x1="124.2" y1="467.5" x2="127" y2="463.1" stroke="#111" stroke-width="0.9"/>
<line x1="127.4" y1="467.5" x2="130.2" y2="463.1" stroke="#111" stroke-width="0.9"/>
<line x1="124.2" y1="614.2" x2="127" y2="609.8" stroke="#111" stroke-width="0.9"/>
<line x1="127.4" y1="614.2" x2="130.2" y2="609.8" stroke="#111" stroke-width="0.9"/>
<line x1="23.9" y1="612" x2="23.9" y2="609.4" stroke="#111" stroke-width="1"/>
<line x1="43.2" y1="612" x2="43.2" y2="610.4" stroke="#111" stroke-width="1"/>
<line x1="62.51" y1="612" x2="62.51" y2="609.4" stroke="#111" stroke-width="1"/>
<line x1="81.81" y1="612" x2="81.81" y2="610.4" stroke="#111" stroke-width="1"/>
<line x1="101.12" y1="612" x2="101.12" y2="609.4" stroke="#111" stroke-width="1"/>
<line x1="120.43" y1="612" x2="120.43" y2="610.4" stroke="#111" stroke-width="1"/>
<line x1="135.95" y1="612" x2="135.95" y2="610.4" stroke="#111" stroke-width="1"/>
<line x1="154.8" y1="612" x2="154.8" y2="609.4" stroke="#111" stroke-width="1"/>
<line x1="173.66" y1="612" x2="173.66" y2="610.4" stroke="#111" stroke-width="1"/>
<line x1="192.51" y1="612" x2="192.51" y2="609.4" stroke="#111" stroke-width="1"/>
<text x="23.9" y="626.13" font-size="9.3" text-anchor="middle">3500</text>
<text x="62.51" y="626.13" font-size="9.3" text-anchor="middle">3200</text>
<text x="101.12" y="626.13" font-size="9.3" text-anchor="middle">2900</text>
<text x="154.8" y="626.13" font-size="9.3" text-anchor="middle">1200</text>
<text x="192.51" y="626.13" font-size="9.3" text-anchor="middle">900</text>
<text x="108" y="643.97" font-size="9.7" text-anchor="middle">Wavenumber (cm<tspan font-size="6" dy="-3.4">&#8722;1</tspan><tspan dy="3.4">)</tspan></text>
<text x="5.4" y="542.47" font-size="9.7" text-anchor="middle" transform="rotate(-90 5.4 539)">Transmittance (a.u.)</text>
<path d="M17.2 482.4 18.8 482.6 21 483 23.4 483.3 25.2 483.7 26.3 484 27.1 484.3 27.6 484.6 28.3 485.2 29 486 29.8 487.1 30.5 488.2 31.3 489.3 32.1 490.5 33 491.7 34 492.8 34.9 493.4 35.9 493.2 37 492.5 38 491.8 39 491.3 39.8 491.4 40.5 491.7 41.2 492.1 42.1 492.2 43.3 491.8 44.7 491.2 46.1 490.6 47.2 490.3 48 490.4 48.6 490.8 49.1 491.3 49.7 491.9 50.3 492.7 51 493.8 51.7 494.8 52.6 495.2 53.7 494.9 55 494 56.4 493 57.9 492.4 59.6 492.2 61.6 492.3 63.5 492.4 65.1 492.4 66.3 492.1 67.2 491.7 68 491.2 69.2 490.8 70.8 490.4 72.8 490 74.7 489.6 76.3 489.3 77.4 489 78.2 488.8 79 488.7 80 488.7 81.4 489 83.1 489.6 84.7 490.1 86.1 490.3 87.1 489.9 87.9 489.1 88.6 488.4 89.2 488.2 89.8 488.7 90.3 489.7 90.8 490.9 91.2 492.3 91.6 494 92 496 92.3 497.9 92.7 499.4 93.1 500.2 93.5 500.4 93.9 500.7 94.3 501.5 94.7 502.8 95 504.3 95.4 506.2 95.8 508.6 96.2 512.3 96.6 517 97.1 521 97.5 522.9 97.9 521.7 98.4 518.5 98.8 514.4 99.3 510.6 99.8 507.1 100.4 503.4 100.9 499.9 101.4 497.4 101.8 496 102.2 495.3 102.5 495.2 102.9 495.4 103.3 495.8 103.6 496.6 104 497.8 104.4 499.4 104.9 502 105.3 505.5 105.8 508.5 106.3 509.6 106.7 508 107.2 504.6 107.6 500.6 108 497.4 108.4 495.3 108.7 493.5 109 492.1 109.5 490.8 110.1 489.8 110.8 489 111.6 488.3 112.6 487.7 113.9 487.1 115.4 486.5 117 486.1 118.7 485.7 120.6 485.5 122.6 485.3 124.4 485.3 125.7 485.2" fill="none" stroke="#2f7b4c" stroke-width="1.2" stroke-linejoin="round"/>
<path d="M129.2 488.5 129.6 488.3 130.2 488 130.8 487.8 131.3 487.7 131.7 488 132.1 488.5 132.5 489 132.9 489.3 133.3 489.2 133.7 488.8 134 488.4 134.5 488.2 135 488.3 135.5 488.5 136.1 488.8 136.9 488.9 137.9 488.8 139.1 488.7 140.4 488.5 141.8 488.5 143.3 488.6 145 488.9 146.6 489.1 148.2 489.3 149.6 489.4 151 489.4 152.3 489.2 153.8 489 155.5 488.5 157.3 487.8 159.2 487.1 161 486.6 162.7 486.3 164.4 486.1 166 485.9 167.4 485.7 168.5 485.4 169.3 484.9 170 484.6 170.7 484.5 171.4 484.8 172 485.3 172.5 485.9 173.1 486.1 173.6 485.9 174.1 485.4 174.6 484.9 175.5 484.5 176.8 484.3 178.4 484.3 180.2 484.2 181.9 484.2 183.6 484.2 185.3 484.1 186.9 484.1 188.3 484 189.2 483.8 189.8 483.5 190.4 483.1 191.5 482.9 193.5 482.8 195.9 482.7 198.3 482.6 200 482.6" fill="none" stroke="#2f7b4c" stroke-width="1.2" stroke-linejoin="round"/>
<path d="M17.2 519.5 19.4 519.6 22.6 519.8 25.8 520.1 28.3 520.5 29.6 521 30.3 521.6 30.7 522.3 31.3 523 32.1 523.8 33 524.7 34 525.6 34.9 526.1 35.9 526.2 37 526 38 525.7 39 525.6 39.8 525.7 40.5 525.9 41.2 526.1 42.1 526.1 43.3 525.9 44.7 525.5 46.1 525.1 47.2 524.9 48 525 48.6 525.3 49.1 525.7 49.7 526.1 50.3 526.7 51 527.4 51.7 528 52.6 528.3 53.7 528 55 527.3 56.4 526.6 57.9 526.1 59.6 526 61.6 526 63.5 526.1 65.1 526.1 66.3 525.9 67.2 525.7 68 525.4 69.2 525.1 70.8 524.8 72.8 524.4 74.7 524.1 76.3 523.8 77.4 523.5 78.1 523.1 78.9 522.9 80 522.9 81.6 523.1 83.6 523.5 85.6 524.1 87.1 524.9 88.1 525.9 88.7 527.1 89.2 528.4 89.7 530 90.2 531.9 90.5 534 90.9 536.2 91.2 538.1 91.5 539.8 91.8 541.4 92.1 542.6 92.4 543.2 92.7 542.7 93 541.5 93.4 540.2 93.7 539.7 94 540.3 94.4 541.4 94.7 542.9 95.1 544.2 95.5 545.6 95.9 547.1 96.4 548.3 96.8 548.8 97.2 548.4 97.6 547.4 97.9 545.9 98.3 544.2 98.7 542.1 99.1 539.6 99.5 537.1 99.9 535.1 100.3 533.6 100.8 532.3 101.2 531.4 101.6 531 102 531.3 102.4 532.1 102.8 533 103.2 533.6 103.5 533.6 103.8 533.4 104.1 533.1 104.4 533 104.8 533.4 105.2 534.2 105.6 534.7 106 534.6 106.4 533.5 106.7 531.7 107.1 529.7 107.5 528 107.9 526.7 108.3 525.4 108.8 524.3 109.5 523.4 110.2 522.7 110.9 522.2 112 521.7 113.6 521.3 116.3 520.8 119.9 520.4 123.3 520.1 125.7 519.8" fill="none" stroke="#5cc65c" stroke-width="1.2" stroke-linejoin="round"/>
<path d="M129.2 523 129.6 523.2 130.2 523.5 130.8 523.9 131.3 524.2 131.7 524.6 132.1 525 132.5 525.4 132.9 525.5 133.3 525.2 133.7 524.7 134 524.1 134.5 523.6 135 523.4 135.6 523.2 136.2 523.2 136.9 523.1 137.7 523 138.5 522.9 139.3 522.9 140 523.1 140.5 523.4 140.8 523.7 141.1 524.3 141.5 525.5 142 527.4 142.5 529.7 143 532.4 143.5 535.1 144 538 144.5 541 145 544 145.5 546.4 145.9 548.3 146.2 550 146.6 551.1 146.9 551.5 147.3 551 147.7 549.8 148.1 548.2 148.5 546.4 148.9 544.3 149.3 541.9 149.7 539.5 150 537.5 150.3 536 150.5 534.7 150.6 533.8 150.8 533.5 151 534.2 151.1 535.7 151.2 537.1 151.4 537.5 151.6 536.4 151.9 534.4 152.2 532.2 152.5 530.3 152.8 528.9 153.2 527.6 153.6 526.6 154 525.8 154.4 525.3 154.7 525.1 155 525.1 155.4 525.2 155.8 525.3 156.2 525.5 156.6 526 157 526.8 157.4 528.1 157.7 529.8 158.1 531.6 158.5 533.5 159 535.8 159.5 538.4 160 540.6 160.5 541.5 160.9 540.6 161.3 538.5 161.6 535.9 162 533.5 162.4 531.4 162.7 529.2 163.1 527.1 163.5 525.5 164 524.4 164.6 523.6 165.2 523 166 522.6 166.9 522.3 167.9 522.2 169 522.2 170 522.3 171.1 522.3 172.2 522.4 173.2 522.6 174 523.1 174.6 523.4 174.9 523.6 175.2 524.6 175.5 527.1 175.8 532.9 176.1 541.1 176.3 548.4 176.6 552 176.9 549.9 177.2 544.2 177.5 537.4 177.8 531.9 178.1 528.2 178.3 525.1 178.6 522.6 179 520.7 179.6 519.8 180.2 519.6 181 519.8 182 519.9 183.3 519.7 184.9 519.6 186.6 519.5 188 519.5 189.1 519.7 190.1 520 191 520.3 192 520.7 193 521.2 194.1 521.8 195.1 522.4 196 522.6 196.6 522.4 197.1 521.9 197.5 521.3 198 520.7 198.5 520.2 199.1 519.7 199.6 519.3 200 519" fill="none" stroke="#5cc65c" stroke-width="1.2" stroke-linejoin="round"/>
<line x1="52.6" y1="545.5" x2="52.6" y2="535.7" stroke="#111" stroke-width="0.8"/>
<path d="M52.6 533.2 L53.9 536.2 L51.3 536.2 Z" fill="#111"/>
<line x1="106.3" y1="551.4" x2="106.3" y2="542.7" stroke="#111" stroke-width="0.8"/>
<path d="M106.3 540.2 L107.6 543.2 L105 543.2 Z" fill="#111"/>
<line x1="142.6" y1="568" x2="145.08" y2="559.7" stroke="#111" stroke-width="0.8"/>
<path d="M145.8 557.3 L146.19 560.55 L143.69 559.8 Z" fill="#111"/>
<line x1="160.5" y1="559.2" x2="160.5" y2="550.1" stroke="#111" stroke-width="0.8"/>
<path d="M160.5 547.6 L161.8 550.6 L159.2 550.6 Z" fill="#111"/>
<line x1="182.7" y1="566.4" x2="178.49" y2="559.44" stroke="#111" stroke-width="0.8"/>
<path d="M177.2 557.3 L179.86 559.2 L177.64 560.54 Z" fill="#111"/>
<text x="50.6" y="553.33" font-size="9.3"><tspan font-style="italic" font-size="9.5">&#957;</tspan><tspan font-size="5.3" dy="1.8">N-H</tspan></text>
<text x="98" y="559.53" font-size="9.3"><tspan font-style="italic" font-size="9.5">&#957;</tspan><tspan font-size="5.3" dy="1.8">-CH2-</tspan></text>
<text x="123.4" y="572.93" font-size="9.3"><tspan font-style="italic" font-size="9.5">&#957;</tspan><tspan font-size="5.3" dy="1.8">as(S=O)</tspan></text>
<text x="153.6" y="566.33" font-size="9.3"><tspan font-style="italic" font-size="9.5">&#957;</tspan><tspan font-size="5.3" dy="1.8">S-O</tspan></text>
<text x="179" y="574.33" font-size="9.3"><tspan font-style="italic" font-size="9.5">&#957;</tspan><tspan font-size="5.3" dy="1.8">C-F</tspan></text>
<line x1="25" y1="588.4" x2="44.5" y2="588.4" stroke="#2f7b4c" stroke-width="1.2"/>
<text x="48.4" y="591.44" font-size="8.2">Pristine</text>
<line x1="25" y1="599.1" x2="44.5" y2="599.1" stroke="#5cc65c" stroke-width="1.2"/>
<text x="48.4" y="602.14" font-size="8.2">Target</text>
<rect x="254.9" y="465.6" width="184.4" height="147" fill="none" stroke="#111" stroke-width="1.1"/>
<line x1="270.27" y1="612.6" x2="270.27" y2="610" stroke="#111" stroke-width="1"/>
<line x1="285.63" y1="612.6" x2="285.63" y2="611" stroke="#111" stroke-width="1"/>
<line x1="301" y1="612.6" x2="301" y2="610" stroke="#111" stroke-width="1"/>
<line x1="316.37" y1="612.6" x2="316.37" y2="611" stroke="#111" stroke-width="1"/>
<line x1="331.73" y1="612.6" x2="331.73" y2="610" stroke="#111" stroke-width="1"/>
<line x1="347.1" y1="612.6" x2="347.1" y2="611" stroke="#111" stroke-width="1"/>
<line x1="362.47" y1="612.6" x2="362.47" y2="610" stroke="#111" stroke-width="1"/>
<line x1="377.83" y1="612.6" x2="377.83" y2="611" stroke="#111" stroke-width="1"/>
<line x1="393.2" y1="612.6" x2="393.2" y2="610" stroke="#111" stroke-width="1"/>
<line x1="408.57" y1="612.6" x2="408.57" y2="611" stroke="#111" stroke-width="1"/>
<line x1="423.93" y1="612.6" x2="423.93" y2="610" stroke="#111" stroke-width="1"/>
<text x="270.27" y="626.23" font-size="9.3" text-anchor="middle">146</text>
<text x="301" y="626.23" font-size="9.3" text-anchor="middle">144</text>
<text x="331.73" y="626.23" font-size="9.3" text-anchor="middle">142</text>
<text x="362.47" y="626.23" font-size="9.3" text-anchor="middle">140</text>
<text x="393.2" y="626.23" font-size="9.3" text-anchor="middle">138</text>
<text x="423.93" y="626.23" font-size="9.3" text-anchor="middle">136</text>
<text x="347.1" y="643.17" font-size="9.7" text-anchor="middle">Binding energy (eV)</text>
<text x="243.3" y="543.47" font-size="9.7" text-anchor="middle" transform="rotate(-90 243.3 540)">Intensity (a.u.)</text>
<path d="M254.9 534.2 255.6 534.2 256.3 534.2 257 534.2 257.7 534.2 258.4 534.2 259.2 534.2 259.9 534.2 260.6 534.3 261.3 534.3 262 534.3 262.7 534.3 263.4 534.3 264.1 534.3 264.8 534.3 265.5 534.3 266.2 534.3 267 534.3 267.7 534.3 268.4 534.3 269.1 534.3 269.8 534.3 270.5 534.3 271.2 534.3 271.9 534.3 272.6 534.3 273.3 534.3 274 534.3 274.8 534.3 275.5 534.3 276.2 534.3 276.9 534.3 277.6 534.3 278.3 534.3 279 534.3 279.7 534.3 280.4 534.3 281.1 534.3 281.9 534.3 282.6 534.3 283.3 534.3 284 534.2 284.7 534.2 285.4 534.2 286.1 534.2 286.8 534.1 287.5 534.1 288.2 534.1 288.9 534 289.7 534 290.4 533.9 291.1 533.8 291.8 533.7 292.5 533.6 293.2 533.4 293.9 533.2 294.6 533 295.3 532.7 296 532.3 296.7 531.9 297.5 531.4 298.2 530.8 298.9 530.1 299.6 529.2 300.3 528.2 301 527.1 301.7 525.8 302.4 524.4 303.1 522.8 303.8 521.1 304.5 519.2 305.3 517.2 306 515.2 306.7 513.1 307.4 510.9 308.1 508.8 308.8 506.8 309.5 504.9 310.2 503.2 310.9 501.8 311.6 500.7 312.3 499.9 313.1 499.6 313.8 499.6 314.5 500.1 315.2 501 315.9 502.3 316.6 503.8 317.3 505.6 318 507.6 318.7 509.7 319.4 511.8 320.1 514 320.9 516.1 321.6 518.1 322.3 520.1 323 521.9 323.7 523.6 324.4 525.2 325.1 526.6 325.8 527.8 326.5 528.9 327.2 529.9 328 530.7 328.7 531.4 329.4 532 330.1 532.6 330.8 533 331.5 533.3 332.2 533.6 332.9 533.9 333.6 534.1 334.3 534.2 335 534.4 335.8 534.5 336.5 534.6 337.2 534.7 337.9 534.7 338.6 534.8 339.3 534.8 340 534.9 340.7 534.9 341.4 535 342.1 535 342.8 535 343.6 535.1 344.3 535.1 345 535.1 345.7 535.1 346.4 535.2 347.1 535.2 347.8 535.2 348.5 535.2 349.2 535.2 349.9 535.2 350.6 535.2 351.4 535.3 352.1 535.3 352.8 535.3 353.5 535.3 354.2 535.3 354.9 535.3 355.6 535.3 356.3 535.3 357 535.2 357.7 535.2 358.4 535.2 359.2 535.2 359.9 535.2 360.6 535.2 361.3 535.1 362 535.1 362.7 535 363.4 535 364.1 534.9 364.8 534.8 365.5 534.7 366.2 534.6 367 534.4 367.7 534.2 368.4 534 369.1 533.7 369.8 533.3 370.5 532.9 371.2 532.4 371.9 531.7 372.6 530.9 373.3 530 374.1 528.9 374.8 527.7 375.5 526.2 376.2 524.6 376.9 522.8 377.6 520.8 378.3 518.6 379 516.2 379.7 513.7 380.4 511 381.1 508.3 381.9 505.6 382.6 502.9 383.3 500.3 384 497.8 384.7 495.6 385.4 493.7 386.1 492.3 386.8 491.3 387.5 490.8 388.2 490.8 388.9 491.4 389.7 492.6 390.4 494.1 391.1 496.1 391.8 498.4 392.5 500.9 393.2 503.5 393.9 506.3 394.6 509.1 395.3 511.8 396 514.5 396.7 517 397.5 519.4 398.2 521.6 398.9 523.6 399.6 525.4 400.3 527 401 528.5 401.7 529.7 402.4 530.8 403.1 531.7 403.8 532.5 404.5 533.2 405.3 533.7 406 534.2 406.7 534.6 407.4 534.9 408.1 535.2 408.8 535.4 409.5 535.6 410.2 535.7 410.9 535.9 411.6 536 412.3 536.1 413.1 536.2 413.8 536.2 414.5 536.3 415.2 536.4 415.9 536.4 416.6 536.5 417.3 536.5 418 536.6 418.7 536.6 419.4 536.7 420.2 536.7 420.9 536.8 421.6 536.8 422.3 536.8 423 536.9 423.7 536.9 424.4 536.9 425.1 537 425.8 537 426.5 537 427.2 537.1 428 537.1 428.7 537.1 429.4 537.2 430.1 537.2 430.8 537.2 431.5 537.2 432.2 537.3 432.9 537.3 433.6 537.3 434.3 537.3 435 537.4 435.8 537.4 436.5 537.4 437.2 537.4 437.9 537.4 438.6 537.5 439.3 537.5 439.3 537.8 438.6 537.8 437.9 537.8 437.2 537.8 436.5 537.7 435.8 537.7 435 537.7 434.3 537.7 433.6 537.7 432.9 537.7 432.2 537.7 431.5 537.7 430.8 537.6 430.1 537.6 429.4 537.6 428.7 537.6 428 537.6 427.2 537.6 426.5 537.6 425.8 537.6 425.1 537.5 424.4 537.5 423.7 537.5 423 537.5 422.3 537.5 421.6 537.5 420.9 537.5 420.2 537.4 419.4 537.4 418.7 537.4 418 537.4 417.3 537.4 416.6 537.4 415.9 537.4 415.2 537.4 414.5 537.3 413.8 537.3 413.1 537.3 412.3 537.3 411.6 537.3 410.9 537.3 410.2 537.3 409.5 537.3 408.8 537.2 408.1 537.2 407.4 537.2 406.7 537.2 406 537.2 405.3 537.2 404.5 537.2 403.8 537.1 403.1 537.1 402.4 537.1 401.7 537.1 401 537.1 400.3 537.1 399.6 537.1 398.9 537.1 398.2 537 397.5 537 396.7 537 396 537 395.3 537 394.6 537 393.9 537 393.2 536.9 392.5 536.9 391.8 536.9 391.1 536.9 390.4 536.9 389.7 536.9 388.9 536.9 388.2 536.9 387.5 536.8 386.8 536.8 386.1 536.8 385.4 536.8 384.7 536.8 384 536.8 383.3 536.8 382.6 536.8 381.9 536.7 381.1 536.7 380.4 536.7 379.7 536.7 379 536.7 378.3 536.7 377.6 536.7 376.9 536.6 376.2 536.6 375.5 536.6 374.8 536.6 374.1 536.6 373.3 536.6 372.6 536.6 371.9 536.6 371.2 536.5 370.5 536.5 369.8 536.5 369.1 536.5 368.4 536.5 367.7 536.5 367 536.5 366.2 536.5 365.5 536.4 364.8 536.4 364.1 536.4 363.4 536.4 362.7 536.4 362 536.4 361.3 536.4 360.6 536.3 359.9 536.3 359.2 536.3 358.4 536.3 357.7 536.3 357 536.3 356.3 536.3 355.6 536.3 354.9 536.2 354.2 536.2 353.5 536.2 352.8 536.2 352.1 536.2 351.4 536.2 350.6 536.2 349.9 536.2 349.2 536.1 348.5 536.1 347.8 536.1 347.1 536.1 346.4 536.1 345.7 536.1 345 536.1 344.3 536 343.6 536 342.8 536 342.1 536 341.4 536 340.7 536 340 536 339.3 536 338.6 535.9 337.9 535.9 337.2 535.9 336.5 535.9 335.8 535.9 335 535.9 334.3 535.9 333.6 535.9 332.9 535.8 332.2 535.8 331.5 535.8 330.8 535.8 330.1 535.8 329.4 535.8 328.7 535.8 328 535.7 327.2 535.7 326.5 535.7 325.8 535.7 325.1 535.7 324.4 535.7 323.7 535.7 323 535.7 322.3 535.6 321.6 535.6 320.9 535.6 320.1 535.6 319.4 535.6 318.7 535.6 318 535.6 317.3 535.6 316.6 535.5 315.9 535.5 315.2 535.5 314.5 535.5 313.8 535.5 313.1 535.5 312.3 535.5 311.6 535.4 310.9 535.4 310.2 535.4 309.5 535.4 308.8 535.4 308.1 535.4 307.4 535.4 306.7 535.4 306 535.3 305.3 535.3 304.5 535.3 303.8 535.3 303.1 535.3 302.4 535.3 301.7 535.3 301 535.2 300.3 535.2 299.6 535.2 298.9 535.2 298.2 535.2 297.5 535.2 296.7 535.2 296 535.2 295.3 535.1 294.6 535.1 293.9 535.1 293.2 535.1 292.5 535.1 291.8 535.1 291.1 535.1 290.4 535.1 289.7 535 288.9 535 288.2 535 287.5 535 286.8 535 286.1 535 285.4 535 284.7 534.9 284 534.9 283.3 534.9 282.6 534.9 281.9 534.9 281.1 534.9 280.4 534.9 279.7 534.9 279 534.8 278.3 534.8 277.6 534.8 276.9 534.8 276.2 534.8 275.5 534.8 274.8 534.8 274 534.8 273.3 534.7 272.6 534.7 271.9 534.7 271.2 534.7 270.5 534.7 269.8 534.7 269.1 534.7 268.4 534.6 267.7 534.6 267 534.6 266.2 534.6 265.5 534.6 264.8 534.6 264.1 534.6 263.4 534.6 262.7 534.5 262 534.5 261.3 534.5 260.6 534.5 259.9 534.5 259.2 534.5 258.4 534.5 257.7 534.5 257 534.4 256.3 534.4 255.6 534.4 254.9 534.4 Z" fill="url(#gx1)"/>
<line x1="254.9" y1="534.4" x2="439.3" y2="537.8" stroke="#2f7b4c" stroke-width="0.7"/>
<path d="M254.9 534.2 255.6 534.2 256.3 534.3 257 534.3 257.7 534.3 258.4 534.3 259.2 534.3 259.9 534.3 260.6 534.3 261.3 534.3 262 534.3 262.7 534.3 263.4 534.3 264.1 534.3 264.8 534.3 265.5 534.3 266.2 534.4 267 534.4 267.7 534.4 268.4 534.4 269.1 534.4 269.8 534.4 270.5 534.4 271.2 534.4 271.9 534.4 272.6 534.4 273.3 534.4 274 534.4 274.8 534.4 275.5 534.4 276.2 534.4 276.9 534.4 277.6 534.4 278.3 534.4 279 534.4 279.7 534.4 280.4 534.4 281.1 534.4 281.9 534.3 282.6 534.3 283.3 534.3 284 534.3 284.7 534.3 285.4 534.3 286.1 534.2 286.8 534.2 287.5 534.2 288.2 534.1 288.9 534.1 289.7 534 290.4 534 291.1 533.9 291.8 533.8 292.5 533.7 293.2 533.5 293.9 533.3 294.6 533.1 295.3 532.8 296 532.4 296.7 532 297.5 531.5 298.2 530.9 298.9 530.1 299.6 529.3 300.3 528.3 301 527.2 301.7 525.9 302.4 524.5 303.1 522.9 303.8 521.2 304.5 519.3 305.3 517.3 306 515.3 306.7 513.2 307.4 511 308.1 508.9 308.8 506.9 309.5 505 310.2 503.3 310.9 501.9 311.6 500.8 312.3 500 313.1 499.7 313.8 499.8 314.5 500.3 315.2 501.2 315.9 502.4 316.6 504 317.3 505.8 318 507.7 318.7 509.8 319.4 512 320.1 514.1 320.9 516.3 321.6 518.3 322.3 520.3 323 522.1 323.7 523.8 324.4 525.4 325.1 526.8 325.8 528 326.5 529.1 327.2 530.1 328 530.9 328.7 531.7 329.4 532.3 330.1 532.8 330.8 533.2 331.5 533.6 332.2 533.9 332.9 534.1 333.6 534.3 334.3 534.5 335 534.6 335.8 534.7 336.5 534.8 337.2 534.9 337.9 535 338.6 535.1 339.3 535.2 340 535.2 340.7 535.3 341.4 535.3 342.1 535.4 342.8 535.4 343.6 535.4 344.3 535.5 345 535.5 345.7 535.6 346.4 535.6 347.1 535.6 347.8 535.6 348.5 535.7 349.2 535.7 349.9 535.7 350.6 535.8 351.4 535.8 352.1 535.8 352.8 535.8 353.5 535.9 354.2 535.9 354.9 535.9 355.6 535.9 356.3 536 357 536 357.7 536 358.4 536 359.2 536.1 359.9 536.1 360.6 536.1 361.3 536.1 362 536.1 362.7 536.2 363.4 536.2 364.1 536.2 364.8 536.2 365.5 536.2 366.2 536.3 367 536.3 367.7 536.3 368.4 536.3 369.1 536.3 369.8 536.3 370.5 536.4 371.2 536.4 371.9 536.4 372.6 536.4 373.3 536.4 374.1 536.4 374.8 536.5 375.5 536.5 376.2 536.5 376.9 536.5 377.6 536.5 378.3 536.5 379 536.6 379.7 536.6 380.4 536.6 381.1 536.6 381.9 536.6 382.6 536.6 383.3 536.6 384 536.7 384.7 536.7 385.4 536.7 386.1 536.7 386.8 536.7 387.5 536.7 388.2 536.8 388.9 536.8 389.7 536.8 390.4 536.8 391.1 536.8 391.8 536.8 392.5 536.8 393.2 536.9 393.9 536.9 394.6 536.9 395.3 536.9 396 536.9 396.7 536.9 397.5 536.9 398.2 537 398.9 537 399.6 537 400.3 537 401 537 401.7 537 402.4 537 403.1 537.1 403.8 537.1 404.5 537.1 405.3 537.1 406 537.1 406.7 537.1 407.4 537.1 408.1 537.2 408.8 537.2 409.5 537.2 410.2 537.2 410.9 537.2 411.6 537.2 412.3 537.2 413.1 537.3 413.8 537.3 414.5 537.3 415.2 537.3 415.9 537.3 416.6 537.3 417.3 537.3 418 537.4 418.7 537.4 419.4 537.4 420.2 537.4 420.9 537.4 421.6 537.4 422.3 537.4 423 537.5 423.7 537.5 424.4 537.5 425.1 537.5 425.8 537.5 426.5 537.5 427.2 537.5 428 537.5 428.7 537.6 429.4 537.6 430.1 537.6 430.8 537.6 431.5 537.6 432.2 537.6 432.9 537.6 433.6 537.7 434.3 537.7 435 537.7 435.8 537.7 436.5 537.7 437.2 537.7 437.9 537.7 438.6 537.7 439.3 537.8" stroke="#2f7b4c" stroke-width="0.6" fill="none"/>
<path d="M254.9 534.4 255.6 534.4 256.3 534.4 257 534.4 257.7 534.4 258.4 534.4 259.2 534.4 259.9 534.4 260.6 534.5 261.3 534.5 262 534.5 262.7 534.5 263.4 534.5 264.1 534.5 264.8 534.5 265.5 534.5 266.2 534.6 267 534.6 267.7 534.6 268.4 534.6 269.1 534.6 269.8 534.6 270.5 534.6 271.2 534.6 271.9 534.7 272.6 534.7 273.3 534.7 274 534.7 274.8 534.7 275.5 534.7 276.2 534.7 276.9 534.7 277.6 534.8 278.3 534.8 279 534.8 279.7 534.8 280.4 534.8 281.1 534.8 281.9 534.8 282.6 534.8 283.3 534.9 284 534.9 284.7 534.9 285.4 534.9 286.1 534.9 286.8 534.9 287.5 534.9 288.2 534.9 288.9 535 289.7 535 290.4 535 291.1 535 291.8 535 292.5 535 293.2 535 293.9 535 294.6 535 295.3 535.1 296 535.1 296.7 535.1 297.5 535.1 298.2 535.1 298.9 535.1 299.6 535.1 300.3 535.1 301 535.2 301.7 535.2 302.4 535.2 303.1 535.2 303.8 535.2 304.5 535.2 305.3 535.2 306 535.2 306.7 535.2 307.4 535.3 308.1 535.3 308.8 535.3 309.5 535.3 310.2 535.3 310.9 535.3 311.6 535.3 312.3 535.3 313.1 535.3 313.8 535.4 314.5 535.4 315.2 535.4 315.9 535.4 316.6 535.4 317.3 535.4 318 535.4 318.7 535.4 319.4 535.4 320.1 535.4 320.9 535.5 321.6 535.5 322.3 535.5 323 535.5 323.7 535.5 324.4 535.5 325.1 535.5 325.8 535.5 326.5 535.5 327.2 535.5 328 535.5 328.7 535.6 329.4 535.6 330.1 535.6 330.8 535.6 331.5 535.6 332.2 535.6 332.9 535.6 333.6 535.6 334.3 535.6 335 535.6 335.8 535.6 336.5 535.6 337.2 535.6 337.9 535.6 338.6 535.6 339.3 535.6 340 535.7 340.7 535.7 341.4 535.7 342.1 535.7 342.8 535.7 343.6 535.7 344.3 535.7 345 535.7 345.7 535.7 346.4 535.7 347.1 535.7 347.8 535.7 348.5 535.7 349.2 535.7 349.9 535.7 350.6 535.6 351.4 535.6 352.1 535.6 352.8 535.6 353.5 535.6 354.2 535.6 354.9 535.6 355.6 535.6 356.3 535.6 357 535.5 357.7 535.5 358.4 535.5 359.2 535.5 359.9 535.4 360.6 535.4 361.3 535.4 362 535.3 362.7 535.3 363.4 535.2 364.1 535.1 364.8 535 365.5 534.9 366.2 534.8 367 534.6 367.7 534.4 368.4 534.2 369.1 533.9 369.8 533.5 370.5 533.1 371.2 532.5 371.9 531.9 372.6 531.1 373.3 530.2 374.1 529.1 374.8 527.8 375.5 526.4 376.2 524.8 376.9 522.9 377.6 520.9 378.3 518.7 379 516.3 379.7 513.8 380.4 511.2 381.1 508.4 381.9 505.7 382.6 503 383.3 500.4 384 497.9 384.7 495.7 385.4 493.8 386.1 492.4 386.8 491.4 387.5 490.9 388.2 491 388.9 491.6 389.7 492.7 390.4 494.2 391.1 496.2 391.8 498.5 392.5 501 393.2 503.6 393.9 506.4 394.6 509.2 395.3 511.9 396 514.5 396.7 517.1 397.5 519.4 398.2 521.6 398.9 523.7 399.6 525.5 400.3 527.1 401 528.5 401.7 529.8 402.4 530.9 403.1 531.8 403.8 532.6 404.5 533.2 405.3 533.8 406 534.3 406.7 534.6 407.4 535 408.1 535.2 408.8 535.4 409.5 535.6 410.2 535.8 410.9 535.9 411.6 536 412.3 536.1 413.1 536.2 413.8 536.3 414.5 536.4 415.2 536.4 415.9 536.5 416.6 536.5 417.3 536.6 418 536.6 418.7 536.7 419.4 536.7 420.2 536.8 420.9 536.8 421.6 536.9 422.3 536.9 423 536.9 423.7 537 424.4 537 425.1 537 425.8 537.1 426.5 537.1 427.2 537.1 428 537.1 428.7 537.2 429.4 537.2 430.1 537.2 430.8 537.3 431.5 537.3 432.2 537.3 432.9 537.3 433.6 537.3 434.3 537.4 435 537.4 435.8 537.4 436.5 537.4 437.2 537.5 437.9 537.5 438.6 537.5 439.3 537.5" stroke="#2f7b4c" stroke-width="0.6" fill="none"/>
<path d="M254.9 534.2 255.3 534.8 255.8 533.8 256.2 534.7 256.7 534.1 257.1 534.1 257.6 535.1 258.0 534.3 258.4 534.2 258.9 534.6 259.3 534.7 259.8 534.2 260.2 534.5 260.7 533.8 261.1 534.1 261.5 534.1 262.0 533.7 262.4 533.6 262.9 533.5 263.3 534.2 263.8 534.2 264.2 534.1 264.7 534.3 265.1 533.7 265.5 534.3 266.0 534.4 266.4 534.6 266.9 533.9 267.3 534.1 267.8 533.4 268.2 534.1 268.6 533.3 269.1 533.7 269.5 534.8 270.0 533.3 270.4 534.7 270.9 534.5 271.3 534.2 271.7 534.5 272.2 534.6 272.6 534.8 273.1 534.2 273.5 534.1 274.0 534.1 274.4 533.9 274.8 534.3 275.3 534.0 275.7 534.8 276.2 533.5 276.6 533.8 277.1 533.9 277.5 533.4 277.9 535.2 278.4 533.2 278.8 534.2 279.3 534.1 279.7 535.1 280.2 533.4 280.6 534.8 281.1 534.0 281.5 534.2 281.9 534.0 282.4 534.6 282.8 533.7 283.3 534.2 283.7 534.4 284.2 535.1 284.6 533.1 285.0 534.9 285.5 534.6 285.9 534.0 286.4 534.3 286.8 533.9 287.3 534.9 287.7 534.2 288.1 534.0 288.6 533.9 289.0 533.9 289.5 533.9 289.9 533.5 290.4 534.8 290.8 533.0 291.2 532.2 291.7 533.7 292.1 533.6 292.6 533.7 293.0 533.4 293.5 533.3 293.9 533.4 294.4 533.5 294.8 532.7 295.2 532.6 295.7 533.4 296.1 532.5 296.6 531.6 297.0 532.8 297.5 531.7 297.9 530.8 298.3 530.1 298.8 530.3 299.2 529.3 299.7 528.6 300.1 527.9 300.6 527.6 301.0 527.6 301.4 526.1 301.9 524.8 302.3 524.9 302.8 523.6 303.2 523.0 303.7 522.1 304.1 520.3 304.5 519.1 305.0 518.0 305.4 516.2 305.9 515.7 306.3 514.7 306.8 512.9 307.2 511.3 307.6 510.0 308.1 508.5 308.5 507.2 309.0 506.1 309.4 504.7 309.9 503.8 310.3 502.3 310.8 502.3 311.2 501.3 311.6 500.1 312.1 499.1 312.5 499.8 313.0 500.1 313.4 499.2 313.9 499.5 314.3 499.7 314.7 500.7 315.2 500.6 315.6 502.2 316.1 502.5 316.5 504.0 317.0 504.7 317.4 505.8 317.8 506.4 318.3 508.0 318.7 509.6 319.2 511.3 319.6 512.5 320.1 513.4 320.5 515.2 320.9 516.8 321.4 517.6 321.8 518.7 322.3 519.9 322.7 521.6 323.2 522.6 323.6 523.0 324.1 524.6 324.5 525.2 324.9 525.9 325.4 527.6 325.8 528.2 326.3 528.2 326.7 529.2 327.2 530.0 327.6 530.1 328.0 530.8 328.5 531.6 328.9 530.9 329.4 532.2 329.8 532.7 330.3 532.9 330.7 532.3 331.1 533.3 331.6 533.0 332.0 533.8 332.5 534.0 332.9 534.0 333.4 533.6 333.8 533.8 334.2 534.6 334.7 533.9 335.1 534.6 335.6 534.7 336.0 534.4 336.5 535.6 336.9 534.7 337.3 535.6 337.8 533.8 338.2 533.7 338.7 535.2 339.1 535.1 339.6 534.7 340.0 534.9 340.5 534.1 340.9 534.7 341.3 534.5 341.8 534.9 342.2 535.4 342.7 535.1 343.1 535.2 343.6 534.8 344.0 534.9 344.4 535.2 344.9 535.0 345.3 535.7 345.8 534.8 346.2 536.0 346.7 534.7 347.1 535.7 347.5 534.8 348.0 535.9 348.4 535.3 348.9 535.4 349.3 535.6 349.8 535.0 350.2 534.8 350.6 534.3 351.1 535.8 351.5 534.9 352.0 535.0 352.4 535.3 352.9 536.2 353.3 534.5 353.7 535.4 354.2 535.1 354.6 535.5 355.1 534.5 355.5 535.1 356.0 535.6 356.4 536.0 356.9 536.0 357.3 534.9 357.7 535.3 358.2 535.2 358.6 534.6 359.1 534.6 359.5 535.5 360.0 535.3 360.4 535.1 360.8 535.7 361.3 534.7 361.7 535.3 362.2 535.1 362.6 535.0 363.1 535.2 363.5 535.1 363.9 535.1 364.4 535.0 364.8 535.7 365.3 534.6 365.7 535.2 366.2 534.9 366.6 534.4 367.0 534.8 367.5 533.9 367.9 534.7 368.4 533.6 368.8 533.6 369.3 533.8 369.7 533.8 370.1 533.5 370.6 533.2 371.0 532.4 371.5 531.7 371.9 531.9 372.4 531.4 372.8 530.3 373.3 530.6 373.7 529.6 374.1 528.3 374.6 528.2 375.0 526.6 375.5 525.8 375.9 525.4 376.4 523.5 376.8 523.1 377.2 521.2 377.7 520.8 378.1 518.8 378.6 517.8 379.0 515.5 379.5 514.5 379.9 513.5 380.3 511.6 380.8 508.9 381.2 508.4 381.7 506.7 382.1 504.4 382.6 503.5 383.0 500.7 383.4 499.6 383.9 498.6 384.3 497.3 384.8 495.9 385.2 493.7 385.7 492.3 386.1 492.4 386.6 490.9 387.0 491.0 387.4 490.2 387.9 491.2 388.3 491.3 388.8 491.5 389.2 491.8 389.7 492.6 390.1 493.4 390.5 494.8 391.0 495.9 391.4 497.4 391.9 498.5 392.3 501.1 392.8 502.0 393.2 504.2 393.6 505.9 394.1 506.6 394.5 508.0 395.0 511.0 395.4 512.0 395.9 513.8 396.3 515.3 396.7 517.0 397.2 518.0 397.6 519.9 398.1 521.1 398.5 522.6 399.0 522.8 399.4 525.3 399.8 526.2 400.3 526.3 400.7 527.6 401.2 528.8 401.6 529.8 402.1 530.3 402.5 531.5 403.0 531.5 403.4 531.6 403.8 532.2 404.3 533.3 404.7 533.0 405.2 534.0 405.6 534.4 406.1 534.5 406.5 534.9 406.9 534.6 407.4 534.9 407.8 534.8 408.3 534.9 408.7 534.6 409.2 535.2 409.6 535.1 410.0 535.0 410.5 535.8 410.9 536.1 411.4 535.8 411.8 536.6 412.3 536.5 412.7 536.6 413.1 535.9 413.6 535.5 414.0 536.5 414.5 536.4 414.9 536.7 415.4 536.6 415.8 537.0 416.2 536.3 416.7 536.8 417.1 536.1 417.6 535.5 418.0 536.4 418.5 537.3 418.9 535.9 419.4 537.1 419.8 536.4 420.2 536.5 420.7 536.8 421.1 536.9 421.6 536.4 422.0 536.9 422.5 537.0 422.9 537.2 423.3 536.6 423.8 537.6 424.2 537.8 424.7 538.0 425.1 536.4 425.6 537.1 426.0 536.2 426.4 537.2 426.9 537.3 427.3 536.6 427.8 536.4 428.2 537.2 428.7 537.4 429.1 536.8 429.5 537.0 430.0 536.0 430.4 536.9 430.9 537.3 431.3 537.3 431.8 538.0 432.2 536.7 432.7 536.3 433.1 537.5 433.5 537.0 434.0 537.5 434.4 537.7 434.9 537.6 435.3 538.0 435.8 538.0 436.2 536.6 436.6 537.4 437.1 538.3 437.5 537.3 438.0 537.9 438.4 537.4 438.9 537.3 439.3 538.2" fill="none" stroke="none" marker-start="url(#mk2)" marker-mid="url(#mk2)" marker-end="url(#mk2)"/>
<path d="M254.9 534.2 255.6 534.2 256.3 534.2 257 534.2 257.7 534.2 258.4 534.2 259.2 534.2 259.9 534.2 260.6 534.3 261.3 534.3 262 534.3 262.7 534.3 263.4 534.3 264.1 534.3 264.8 534.3 265.5 534.3 266.2 534.3 267 534.3 267.7 534.3 268.4 534.3 269.1 534.3 269.8 534.3 270.5 534.3 271.2 534.3 271.9 534.3 272.6 534.3 273.3 534.3 274 534.3 274.8 534.3 275.5 534.3 276.2 534.3 276.9 534.3 277.6 534.3 278.3 534.3 279 534.3 279.7 534.3 280.4 534.3 281.1 534.3 281.9 534.3 282.6 534.3 283.3 534.3 284 534.2 284.7 534.2 285.4 534.2 286.1 534.2 286.8 534.1 287.5 534.1 288.2 534.1 288.9 534 289.7 534 290.4 533.9 291.1 533.8 291.8 533.7 292.5 533.6 293.2 533.4 293.9 533.2 294.6 533 295.3 532.7 296 532.3 296.7 531.9 297.5 531.4 298.2 530.8 298.9 530.1 299.6 529.2 300.3 528.2 301 527.1 301.7 525.8 302.4 524.4 303.1 522.8 303.8 521.1 304.5 519.2 305.3 517.2 306 515.2 306.7 513.1 307.4 510.9 308.1 508.8 308.8 506.8 309.5 504.9 310.2 503.2 310.9 501.8 311.6 500.7 312.3 499.9 313.1 499.6 313.8 499.6 314.5 500.1 315.2 501 315.9 502.3 316.6 503.8 317.3 505.6 318 507.6 318.7 509.7 319.4 511.8 320.1 514 320.9 516.1 321.6 518.1 322.3 520.1 323 521.9 323.7 523.6 324.4 525.2 325.1 526.6 325.8 527.8 326.5 528.9 327.2 529.9 328 530.7 328.7 531.4 329.4 532 330.1 532.6 330.8 533 331.5 533.3 332.2 533.6 332.9 533.9 333.6 534.1 334.3 534.2 335 534.4 335.8 534.5 336.5 534.6 337.2 534.7 337.9 534.7 338.6 534.8 339.3 534.8 340 534.9 340.7 534.9 341.4 535 342.1 535 342.8 535 343.6 535.1 344.3 535.1 345 535.1 345.7 535.1 346.4 535.2 347.1 535.2 347.8 535.2 348.5 535.2 349.2 535.2 349.9 535.2 350.6 535.2 351.4 535.3 352.1 535.3 352.8 535.3 353.5 535.3 354.2 535.3 354.9 535.3 355.6 535.3 356.3 535.3 357 535.2 357.7 535.2 358.4 535.2 359.2 535.2 359.9 535.2 360.6 535.2 361.3 535.1 362 535.1 362.7 535 363.4 535 364.1 534.9 364.8 534.8 365.5 534.7 366.2 534.6 367 534.4 367.7 534.2 368.4 534 369.1 533.7 369.8 533.3 370.5 532.9 371.2 532.4 371.9 531.7 372.6 530.9 373.3 530 374.1 528.9 374.8 527.7 375.5 526.2 376.2 524.6 376.9 522.8 377.6 520.8 378.3 518.6 379 516.2 379.7 513.7 380.4 511 381.1 508.3 381.9 505.6 382.6 502.9 383.3 500.3 384 497.8 384.7 495.6 385.4 493.7 386.1 492.3 386.8 491.3 387.5 490.8 388.2 490.8 388.9 491.4 389.7 492.6 390.4 494.1 391.1 496.1 391.8 498.4 392.5 500.9 393.2 503.5 393.9 506.3 394.6 509.1 395.3 511.8 396 514.5 396.7 517 397.5 519.4 398.2 521.6 398.9 523.6 399.6 525.4 400.3 527 401 528.5 401.7 529.7 402.4 530.8 403.1 531.7 403.8 532.5 404.5 533.2 405.3 533.7 406 534.2 406.7 534.6 407.4 534.9 408.1 535.2 408.8 535.4 409.5 535.6 410.2 535.7 410.9 535.9 411.6 536 412.3 536.1 413.1 536.2 413.8 536.2 414.5 536.3 415.2 536.4 415.9 536.4 416.6 536.5 417.3 536.5 418 536.6 418.7 536.6 419.4 536.7 420.2 536.7 420.9 536.8 421.6 536.8 422.3 536.8 423 536.9 423.7 536.9 424.4 536.9 425.1 537 425.8 537 426.5 537 427.2 537.1 428 537.1 428.7 537.1 429.4 537.2 430.1 537.2 430.8 537.2 431.5 537.2 432.2 537.3 432.9 537.3 433.6 537.3 434.3 537.3 435 537.4 435.8 537.4 436.5 537.4 437.2 537.4 437.9 537.4 438.6 537.5 439.3 537.5" stroke="#2f7b4c" stroke-width="1.1" fill="none"/>
<path d="M254.9 600.6 255.6 600.6 256.3 600.6 257 600.6 257.7 600.6 258.4 600.6 259.2 600.6 259.9 600.6 260.6 600.7 261.3 600.7 262 600.7 262.7 600.7 263.4 600.7 264.1 600.7 264.8 600.7 265.5 600.7 266.2 600.7 267 600.7 267.7 600.7 268.4 600.7 269.1 600.8 269.8 600.8 270.5 600.8 271.2 600.8 271.9 600.8 272.6 600.8 273.3 600.8 274 600.8 274.8 600.8 275.5 600.8 276.2 600.8 276.9 600.8 277.6 600.8 278.3 600.8 279 600.8 279.7 600.8 280.4 600.8 281.1 600.8 281.9 600.8 282.6 600.8 283.3 600.7 284 600.7 284.7 600.7 285.4 600.7 286.1 600.7 286.8 600.7 287.5 600.6 288.2 600.6 288.9 600.6 289.7 600.6 290.4 600.5 291.1 600.5 291.8 600.4 292.5 600.3 293.2 600.3 293.9 600.2 294.6 600 295.3 599.9 296 599.7 296.7 599.5 297.5 599.2 298.2 598.8 298.9 598.4 299.6 597.9 300.3 597.2 301 596.5 301.7 595.5 302.4 594.4 303.1 593.1 303.8 591.6 304.5 589.9 305.3 588 306 585.9 306.7 583.6 307.4 581.1 308.1 578.4 308.8 575.6 309.5 572.8 310.2 570 310.9 567.2 311.6 564.5 312.3 562.1 313.1 560.1 313.8 558.4 314.5 557.2 315.2 556.6 315.9 556.5 316.6 557.1 317.3 558.2 318 559.8 318.7 561.9 319.4 564.3 320.1 566.9 320.9 569.7 321.6 572.5 322.3 575.4 323 578.2 323.7 580.9 324.4 583.5 325.1 585.9 325.8 588.1 326.5 590 327.2 591.8 328 593.3 328.7 594.7 329.4 595.8 330.1 596.8 330.8 597.6 331.5 598.3 332.2 598.9 332.9 599.4 333.6 599.8 334.3 600.1 335 600.4 335.8 600.6 336.5 600.7 337.2 600.9 337.9 601 338.6 601.1 339.3 601.2 340 601.3 340.7 601.4 341.4 601.4 342.1 601.5 342.8 601.5 343.6 601.6 344.3 601.6 345 601.6 345.7 601.7 346.4 601.7 347.1 601.7 347.8 601.8 348.5 601.8 349.2 601.8 349.9 601.8 350.6 601.9 351.4 601.9 352.1 601.9 352.8 601.9 353.5 601.9 354.2 601.9 354.9 601.9 355.6 601.9 356.3 601.9 357 601.9 357.7 601.9 358.4 601.9 359.2 601.9 359.9 601.9 360.6 601.9 361.3 601.9 362 601.8 362.7 601.8 363.4 601.8 364.1 601.7 364.8 601.7 365.5 601.6 366.2 601.5 367 601.5 367.7 601.4 368.4 601.2 369.1 601.1 369.8 600.9 370.5 600.7 371.2 600.4 371.9 600 372.6 599.5 373.3 599 374.1 598.3 374.8 597.4 375.5 596.4 376.2 595.2 376.9 593.8 377.6 592.1 378.3 590.1 379 587.9 379.7 585.4 380.4 582.6 381.1 579.6 381.9 576.2 382.6 572.7 383.3 569.1 384 565.3 384.7 561.5 385.4 557.8 386.1 554.3 386.8 551.1 387.5 548.3 388.2 546.1 388.9 544.4 389.7 543.6 390.4 543.4 391.1 544.1 391.8 545.5 392.5 547.6 393.2 550.3 393.9 553.4 394.6 556.9 395.3 560.6 396 564.4 396.7 568.2 397.5 571.9 398.2 575.5 398.9 578.9 399.6 582.1 400.3 585 401 587.7 401.7 590 402.4 592.1 403.1 593.9 403.8 595.5 404.5 596.8 405.3 597.9 406 598.8 406.7 599.6 407.4 600.2 408.1 600.8 408.8 601.2 409.5 601.6 410.2 601.9 410.9 602.1 411.6 602.3 412.3 602.5 413.1 602.6 413.8 602.8 414.5 602.9 415.2 603 415.9 603.1 416.6 603.1 417.3 603.2 418 603.3 418.7 603.4 419.4 603.4 420.2 603.5 420.9 603.5 421.6 603.6 422.3 603.6 423 603.7 423.7 603.7 424.4 603.8 425.1 603.8 425.8 603.9 426.5 603.9 427.2 604 428 604 428.7 604 429.4 604.1 430.1 604.1 430.8 604.1 431.5 604.2 432.2 604.2 432.9 604.2 433.6 604.3 434.3 604.3 435 604.3 435.8 604.4 436.5 604.4 437.2 604.4 437.9 604.4 438.6 604.5 439.3 604.5 439.3 604.9 438.6 604.9 437.9 604.9 437.2 604.9 436.5 604.8 435.8 604.8 435 604.8 434.3 604.8 433.6 604.8 432.9 604.8 432.2 604.7 431.5 604.7 430.8 604.7 430.1 604.7 429.4 604.7 428.7 604.7 428 604.6 427.2 604.6 426.5 604.6 425.8 604.6 425.1 604.6 424.4 604.6 423.7 604.6 423 604.5 422.3 604.5 421.6 604.5 420.9 604.5 420.2 604.5 419.4 604.5 418.7 604.4 418 604.4 417.3 604.4 416.6 604.4 415.9 604.4 415.2 604.4 414.5 604.3 413.8 604.3 413.1 604.3 412.3 604.3 411.6 604.3 410.9 604.3 410.2 604.3 409.5 604.2 408.8 604.2 408.1 604.2 407.4 604.2 406.7 604.2 406 604.2 405.3 604.1 404.5 604.1 403.8 604.1 403.1 604.1 402.4 604.1 401.7 604.1 401 604 400.3 604 399.6 604 398.9 604 398.2 604 397.5 604 396.7 604 396 603.9 395.3 603.9 394.6 603.9 393.9 603.9 393.2 603.9 392.5 603.9 391.8 603.8 391.1 603.8 390.4 603.8 389.7 603.8 388.9 603.8 388.2 603.8 387.5 603.7 386.8 603.7 386.1 603.7 385.4 603.7 384.7 603.7 384 603.7 383.3 603.7 382.6 603.6 381.9 603.6 381.1 603.6 380.4 603.6 379.7 603.6 379 603.6 378.3 603.5 377.6 603.5 376.9 603.5 376.2 603.5 375.5 603.5 374.8 603.5 374.1 603.4 373.3 603.4 372.6 603.4 371.9 603.4 371.2 603.4 370.5 603.4 369.8 603.4 369.1 603.3 368.4 603.3 367.7 603.3 367 603.3 366.2 603.3 365.5 603.3 364.8 603.2 364.1 603.2 363.4 603.2 362.7 603.2 362 603.2 361.3 603.2 360.6 603.1 359.9 603.1 359.2 603.1 358.4 603.1 357.7 603.1 357 603.1 356.3 603.1 355.6 603 354.9 603 354.2 603 353.5 603 352.8 603 352.1 603 351.4 602.9 350.6 602.9 349.9 602.9 349.2 602.9 348.5 602.9 347.8 602.9 347.1 602.8 346.4 602.8 345.7 602.8 345 602.8 344.3 602.8 343.6 602.8 342.8 602.8 342.1 602.7 341.4 602.7 340.7 602.7 340 602.7 339.3 602.7 338.6 602.7 337.9 602.6 337.2 602.6 336.5 602.6 335.8 602.6 335 602.6 334.3 602.6 333.6 602.6 332.9 602.5 332.2 602.5 331.5 602.5 330.8 602.5 330.1 602.5 329.4 602.5 328.7 602.4 328 602.4 327.2 602.4 326.5 602.4 325.8 602.4 325.1 602.4 324.4 602.3 323.7 602.3 323 602.3 322.3 602.3 321.6 602.3 320.9 602.3 320.1 602.3 319.4 602.2 318.7 602.2 318 602.2 317.3 602.2 316.6 602.2 315.9 602.2 315.2 602.1 314.5 602.1 313.8 602.1 313.1 602.1 312.3 602.1 311.6 602.1 310.9 602 310.2 602 309.5 602 308.8 602 308.1 602 307.4 602 306.7 602 306 601.9 305.3 601.9 304.5 601.9 303.8 601.9 303.1 601.9 302.4 601.9 301.7 601.8 301 601.8 300.3 601.8 299.6 601.8 298.9 601.8 298.2 601.8 297.5 601.7 296.7 601.7 296 601.7 295.3 601.7 294.6 601.7 293.9 601.7 293.2 601.7 292.5 601.6 291.8 601.6 291.1 601.6 290.4 601.6 289.7 601.6 288.9 601.6 288.2 601.5 287.5 601.5 286.8 601.5 286.1 601.5 285.4 601.5 284.7 601.5 284 601.4 283.3 601.4 282.6 601.4 281.9 601.4 281.1 601.4 280.4 601.4 279.7 601.4 279 601.3 278.3 601.3 277.6 601.3 276.9 601.3 276.2 601.3 275.5 601.3 274.8 601.2 274 601.2 273.3 601.2 272.6 601.2 271.9 601.2 271.2 601.2 270.5 601.1 269.8 601.1 269.1 601.1 268.4 601.1 267.7 601.1 267 601.1 266.2 601.1 265.5 601 264.8 601 264.1 601 263.4 601 262.7 601 262 601 261.3 600.9 260.6 600.9 259.9 600.9 259.2 600.9 258.4 600.9 257.7 600.9 257 600.8 256.3 600.8 255.6 600.8 254.9 600.8 Z" fill="url(#gx2)"/>
<line x1="254.9" y1="600.8" x2="439.3" y2="604.9" stroke="#5cc65c" stroke-width="0.7"/>
<path d="M254.9 600.6 255.6 600.6 256.3 600.6 257 600.7 257.7 600.7 258.4 600.7 259.2 600.7 259.9 600.7 260.6 600.7 261.3 600.7 262 600.7 262.7 600.7 263.4 600.7 264.1 600.8 264.8 600.8 265.5 600.8 266.2 600.8 267 600.8 267.7 600.8 268.4 600.8 269.1 600.8 269.8 600.8 270.5 600.8 271.2 600.8 271.9 600.8 272.6 600.8 273.3 600.8 274 600.8 274.8 600.9 275.5 600.9 276.2 600.9 276.9 600.9 277.6 600.9 278.3 600.9 279 600.9 279.7 600.9 280.4 600.8 281.1 600.8 281.9 600.8 282.6 600.8 283.3 600.8 284 600.8 284.7 600.8 285.4 600.8 286.1 600.8 286.8 600.8 287.5 600.7 288.2 600.7 288.9 600.7 289.7 600.6 290.4 600.6 291.1 600.6 291.8 600.5 292.5 600.4 293.2 600.4 293.9 600.3 294.6 600.1 295.3 600 296 599.8 296.7 599.6 297.5 599.3 298.2 599 298.9 598.5 299.6 598 300.3 597.3 301 596.6 301.7 595.6 302.4 594.5 303.1 593.2 303.8 591.8 304.5 590.1 305.3 588.2 306 586 306.7 583.7 307.4 581.2 308.1 578.6 308.8 575.8 309.5 572.9 310.2 570.1 310.9 567.3 311.6 564.7 312.3 562.3 313.1 560.2 313.8 558.5 314.5 557.4 315.2 556.7 315.9 556.7 316.6 557.3 317.3 558.4 318 560 318.7 562.1 319.4 564.4 320.1 567.1 320.9 569.9 321.6 572.7 322.3 575.6 323 578.4 323.7 581.1 324.4 583.7 325.1 586.1 325.8 588.3 326.5 590.2 327.2 592 328 593.6 328.7 594.9 329.4 596.1 330.1 597.1 330.8 597.9 331.5 598.6 332.2 599.2 332.9 599.7 333.6 600 334.3 600.4 335 600.6 335.8 600.9 336.5 601 337.2 601.2 337.9 601.3 338.6 601.4 339.3 601.5 340 601.6 340.7 601.7 341.4 601.8 342.1 601.9 342.8 601.9 343.6 602 344.3 602 345 602.1 345.7 602.1 346.4 602.2 347.1 602.2 347.8 602.3 348.5 602.3 349.2 602.3 349.9 602.4 350.6 602.4 351.4 602.4 352.1 602.5 352.8 602.5 353.5 602.5 354.2 602.6 354.9 602.6 355.6 602.6 356.3 602.7 357 602.7 357.7 602.7 358.4 602.7 359.2 602.8 359.9 602.8 360.6 602.8 361.3 602.9 362 602.9 362.7 602.9 363.4 602.9 364.1 603 364.8 603 365.5 603 366.2 603 367 603 367.7 603.1 368.4 603.1 369.1 603.1 369.8 603.1 370.5 603.2 371.2 603.2 371.9 603.2 372.6 603.2 373.3 603.2 374.1 603.3 374.8 603.3 375.5 603.3 376.2 603.3 376.9 603.3 377.6 603.4 378.3 603.4 379 603.4 379.7 603.4 380.4 603.4 381.1 603.5 381.9 603.5 382.6 603.5 383.3 603.5 384 603.5 384.7 603.5 385.4 603.6 386.1 603.6 386.8 603.6 387.5 603.6 388.2 603.6 388.9 603.7 389.7 603.7 390.4 603.7 391.1 603.7 391.8 603.7 392.5 603.7 393.2 603.8 393.9 603.8 394.6 603.8 395.3 603.8 396 603.8 396.7 603.9 397.5 603.9 398.2 603.9 398.9 603.9 399.6 603.9 400.3 603.9 401 604 401.7 604 402.4 604 403.1 604 403.8 604 404.5 604 405.3 604.1 406 604.1 406.7 604.1 407.4 604.1 408.1 604.1 408.8 604.1 409.5 604.2 410.2 604.2 410.9 604.2 411.6 604.2 412.3 604.2 413.1 604.2 413.8 604.3 414.5 604.3 415.2 604.3 415.9 604.3 416.6 604.3 417.3 604.3 418 604.4 418.7 604.4 419.4 604.4 420.2 604.4 420.9 604.4 421.6 604.4 422.3 604.5 423 604.5 423.7 604.5 424.4 604.5 425.1 604.5 425.8 604.5 426.5 604.6 427.2 604.6 428 604.6 428.7 604.6 429.4 604.6 430.1 604.6 430.8 604.7 431.5 604.7 432.2 604.7 432.9 604.7 433.6 604.7 434.3 604.7 435 604.8 435.8 604.8 436.5 604.8 437.2 604.8 437.9 604.8 438.6 604.8 439.3 604.9" stroke="#5cc65c" stroke-width="0.6" fill="none"/>
<path d="M254.9 600.8 255.6 600.8 256.3 600.8 257 600.8 257.7 600.8 258.4 600.8 259.2 600.8 259.9 600.9 260.6 600.9 261.3 600.9 262 600.9 262.7 600.9 263.4 600.9 264.1 600.9 264.8 601 265.5 601 266.2 601 267 601 267.7 601 268.4 601 269.1 601.1 269.8 601.1 270.5 601.1 271.2 601.1 271.9 601.1 272.6 601.1 273.3 601.1 274 601.2 274.8 601.2 275.5 601.2 276.2 601.2 276.9 601.2 277.6 601.2 278.3 601.2 279 601.3 279.7 601.3 280.4 601.3 281.1 601.3 281.9 601.3 282.6 601.3 283.3 601.4 284 601.4 284.7 601.4 285.4 601.4 286.1 601.4 286.8 601.4 287.5 601.4 288.2 601.5 288.9 601.5 289.7 601.5 290.4 601.5 291.1 601.5 291.8 601.5 292.5 601.5 293.2 601.6 293.9 601.6 294.6 601.6 295.3 601.6 296 601.6 296.7 601.6 297.5 601.6 298.2 601.7 298.9 601.7 299.6 601.7 300.3 601.7 301 601.7 301.7 601.7 302.4 601.7 303.1 601.8 303.8 601.8 304.5 601.8 305.3 601.8 306 601.8 306.7 601.8 307.4 601.8 308.1 601.9 308.8 601.9 309.5 601.9 310.2 601.9 310.9 601.9 311.6 601.9 312.3 601.9 313.1 601.9 313.8 602 314.5 602 315.2 602 315.9 602 316.6 602 317.3 602 318 602 318.7 602 319.4 602.1 320.1 602.1 320.9 602.1 321.6 602.1 322.3 602.1 323 602.1 323.7 602.1 324.4 602.1 325.1 602.2 325.8 602.2 326.5 602.2 327.2 602.2 328 602.2 328.7 602.2 329.4 602.2 330.1 602.2 330.8 602.2 331.5 602.2 332.2 602.3 332.9 602.3 333.6 602.3 334.3 602.3 335 602.3 335.8 602.3 336.5 602.3 337.2 602.3 337.9 602.3 338.6 602.3 339.3 602.3 340 602.3 340.7 602.4 341.4 602.4 342.1 602.4 342.8 602.4 343.6 602.4 344.3 602.4 345 602.4 345.7 602.4 346.4 602.4 347.1 602.4 347.8 602.4 348.5 602.4 349.2 602.4 349.9 602.4 350.6 602.4 351.4 602.4 352.1 602.4 352.8 602.4 353.5 602.4 354.2 602.3 354.9 602.3 355.6 602.3 356.3 602.3 357 602.3 357.7 602.3 358.4 602.3 359.2 602.2 359.9 602.2 360.6 602.2 361.3 602.2 362 602.1 362.7 602.1 363.4 602.1 364.1 602 364.8 601.9 365.5 601.9 366.2 601.8 367 601.7 367.7 601.6 368.4 601.5 369.1 601.3 369.8 601.1 370.5 600.9 371.2 600.6 371.9 600.2 372.6 599.7 373.3 599.2 374.1 598.5 374.8 597.6 375.5 596.6 376.2 595.4 376.9 593.9 377.6 592.3 378.3 590.3 379 588.1 379.7 585.6 380.4 582.8 381.1 579.7 381.9 576.4 382.6 572.9 383.3 569.2 384 565.5 384.7 561.7 385.4 558 386.1 554.5 386.8 551.3 387.5 548.5 388.2 546.2 388.9 544.6 389.7 543.7 390.4 543.6 391.1 544.2 391.8 545.6 392.5 547.7 393.2 550.4 393.9 553.5 394.6 557 395.3 560.7 396 564.5 396.7 568.3 397.5 572 398.2 575.6 398.9 579 399.6 582.2 400.3 585.1 401 587.7 401.7 590.1 402.4 592.2 403.1 594 403.8 595.5 404.5 596.9 405.3 598 406 598.9 406.7 599.7 407.4 600.3 408.1 600.9 408.8 601.3 409.5 601.6 410.2 601.9 410.9 602.2 411.6 602.4 412.3 602.6 413.1 602.7 413.8 602.8 414.5 602.9 415.2 603 415.9 603.1 416.6 603.2 417.3 603.3 418 603.4 418.7 603.4 419.4 603.5 420.2 603.5 420.9 603.6 421.6 603.7 422.3 603.7 423 603.8 423.7 603.8 424.4 603.8 425.1 603.9 425.8 603.9 426.5 604 427.2 604 428 604.1 428.7 604.1 429.4 604.1 430.1 604.2 430.8 604.2 431.5 604.2 432.2 604.3 432.9 604.3 433.6 604.3 434.3 604.3 435 604.4 435.8 604.4 436.5 604.4 437.2 604.5 437.9 604.5 438.6 604.5 439.3 604.5" stroke="#5cc65c" stroke-width="0.6" fill="none"/>
<path d="M254.9 600.6 255.3 600.8 255.8 600.4 256.2 600.8 256.7 601.0 257.1 600.8 257.6 601.3 258.0 600.2 258.4 600.7 258.9 600.3 259.3 600.3 259.8 600.6 260.2 600.8 260.7 600.8 261.1 600.9 261.5 601.7 262.0 601.1 262.4 600.0 262.9 600.8 263.3 600.4 263.8 600.5 264.2 601.3 264.7 600.6 265.1 599.8 265.5 600.9 266.0 600.6 266.4 600.2 266.9 600.3 267.3 600.5 267.8 600.7 268.2 600.6 268.6 600.8 269.1 601.6 269.5 600.4 270.0 600.4 270.4 600.7 270.9 601.3 271.3 600.5 271.7 601.4 272.2 600.2 272.6 600.3 273.1 600.8 273.5 600.4 274.0 600.5 274.4 601.0 274.8 601.1 275.3 600.8 275.7 600.7 276.2 601.4 276.6 601.0 277.1 600.7 277.5 601.3 277.9 600.4 278.4 600.9 278.8 601.1 279.3 600.8 279.7 600.5 280.2 600.9 280.6 600.5 281.1 600.5 281.5 600.3 281.9 601.3 282.4 600.5 282.8 601.3 283.3 600.9 283.7 600.6 284.2 601.0 284.6 600.8 285.0 600.8 285.5 600.1 285.9 600.7 286.4 601.1 286.8 600.9 287.3 601.1 287.7 601.3 288.1 600.8 288.6 601.5 289.0 599.9 289.5 600.5 289.9 599.4 290.4 600.9 290.8 600.5 291.2 601.2 291.7 600.3 292.1 599.5 292.6 600.9 293.0 599.7 293.5 599.7 293.9 600.1 294.4 600.4 294.8 599.8 295.2 600.0 295.7 599.0 296.1 600.5 296.6 599.5 297.0 599.4 297.5 599.5 297.9 599.1 298.3 598.8 298.8 598.1 299.2 598.1 299.7 598.0 300.1 597.9 300.6 596.9 301.0 596.5 301.4 596.0 301.9 595.5 302.3 594.7 302.8 593.7 303.2 592.7 303.7 592.5 304.1 591.2 304.5 590.0 305.0 590.3 305.4 587.9 305.9 586.6 306.3 584.8 306.8 582.8 307.2 582.2 307.6 580.1 308.1 578.4 308.5 577.2 309.0 575.4 309.4 573.3 309.9 571.4 310.3 570.6 310.8 568.1 311.2 565.7 311.6 564.9 312.1 563.1 312.5 561.6 313.0 560.6 313.4 559.3 313.9 559.1 314.3 557.5 314.7 557.0 315.2 557.1 315.6 556.2 316.1 557.1 316.5 557.0 317.0 558.1 317.4 558.0 317.8 559.6 318.3 559.8 318.7 561.7 319.2 563.3 319.6 565.1 320.1 567.4 320.5 569.1 320.9 569.4 321.4 571.5 321.8 574.2 322.3 575.6 322.7 576.6 323.2 579.1 323.6 580.1 324.1 581.9 324.5 583.2 324.9 585.2 325.4 587.7 325.8 588.2 326.3 589.3 326.7 591.6 327.2 591.4 327.6 592.5 328.0 593.4 328.5 594.6 328.9 595.0 329.4 596.5 329.8 596.3 330.3 597.3 330.7 597.7 331.1 597.6 331.6 598.0 332.0 598.8 332.5 598.1 332.9 599.4 333.4 599.7 333.8 599.9 334.2 600.0 334.7 600.4 335.1 600.2 335.6 600.8 336.0 599.9 336.5 601.2 336.9 600.4 337.3 601.1 337.8 600.8 338.2 600.9 338.7 600.8 339.1 601.8 339.6 600.8 340.0 600.7 340.5 601.4 340.9 601.5 341.3 601.4 341.8 601.0 342.2 601.2 342.7 601.9 343.1 601.1 343.6 601.8 344.0 601.9 344.4 601.7 344.9 601.1 345.3 602.5 345.8 601.7 346.2 601.8 346.7 601.6 347.1 601.3 347.5 601.6 348.0 601.9 348.4 601.4 348.9 601.9 349.3 602.3 349.8 602.0 350.2 601.8 350.6 602.3 351.1 602.3 351.5 602.3 352.0 601.5 352.4 601.1 352.9 602.3 353.3 601.9 353.7 601.7 354.2 602.1 354.6 601.7 355.1 601.6 355.5 602.7 356.0 601.2 356.4 602.3 356.9 602.4 357.3 602.7 357.7 602.0 358.2 602.1 358.6 601.5 359.1 601.9 359.5 601.0 360.0 601.6 360.4 601.9 360.8 601.8 361.3 601.6 361.7 602.4 362.2 601.1 362.6 601.9 363.1 601.6 363.5 601.8 363.9 601.8 364.4 602.6 364.8 601.2 365.3 602.2 365.7 602.2 366.2 601.5 366.6 601.2 367.0 600.9 367.5 601.0 367.9 602.2 368.4 600.3 368.8 601.4 369.3 600.7 369.7 601.8 370.1 600.9 370.6 600.0 371.0 600.2 371.5 600.3 371.9 600.0 372.4 599.3 372.8 599.3 373.3 598.8 373.7 598.9 374.1 598.3 374.6 597.8 375.0 596.8 375.5 596.8 375.9 595.4 376.4 594.5 376.8 593.8 377.2 592.8 377.7 591.7 378.1 589.8 378.6 589.9 379.0 588.2 379.5 587.0 379.9 584.6 380.3 583.3 380.8 581.2 381.2 579.2 381.7 577.9 382.1 574.7 382.6 573.0 383.0 569.7 383.4 568.4 383.9 565.7 384.3 563.0 384.8 560.8 385.2 557.8 385.7 556.0 386.1 554.4 386.6 551.1 387.0 550.9 387.4 549.1 387.9 546.8 388.3 545.2 388.8 544.2 389.2 543.4 389.7 543.2 390.1 544.4 390.5 543.0 391.0 544.3 391.4 545.3 391.9 545.3 392.3 546.9 392.8 548.9 393.2 550.0 393.6 552.8 394.1 555.2 394.5 556.4 395.0 558.3 395.4 561.3 395.9 563.6 396.3 565.5 396.7 568.1 397.2 570.6 397.6 573.0 398.1 575.6 398.5 577.0 399.0 578.8 399.4 580.6 399.8 584.1 400.3 584.8 400.7 586.5 401.2 589.4 401.6 590.2 402.1 592.1 402.5 592.3 403.0 593.2 403.4 594.3 403.8 595.7 404.3 596.5 404.7 597.3 405.2 598.8 405.6 599.0 406.1 598.4 406.5 599.6 406.9 600.1 407.4 599.9 407.8 601.6 408.3 601.3 408.7 601.8 409.2 601.2 409.6 601.1 410.0 602.1 410.5 601.9 410.9 601.8 411.4 602.2 411.8 602.4 412.3 602.5 412.7 602.5 413.1 602.9 413.6 604.0 414.0 603.3 414.5 602.6 414.9 603.9 415.4 602.8 415.8 602.4 416.2 602.5 416.7 602.2 417.1 603.7 417.6 602.8 418.0 602.7 418.5 603.1 418.9 603.3 419.4 602.9 419.8 603.2 420.2 603.5 420.7 603.8 421.1 603.1 421.6 603.8 422.0 603.7 422.5 603.9 422.9 603.4 423.3 603.2 423.8 604.2 424.2 604.0 424.7 603.5 425.1 603.5 425.6 604.2 426.0 604.8 426.4 604.1 426.9 605.1 427.3 604.1 427.8 604.1 428.2 604.2 428.7 604.5 429.1 603.4 429.5 604.1 430.0 604.7 430.4 603.4 430.9 604.2 431.3 604.5 431.8 605.0 432.2 604.9 432.7 604.2 433.1 605.2 433.5 603.8 434.0 603.7 434.4 604.9 434.9 604.6 435.3 603.8 435.8 604.8 436.2 604.8 436.6 604.7 437.1 604.2 437.5 603.9 438.0 603.7 438.4 604.4 438.9 604.4 439.3 604.3" fill="none" stroke="none" marker-start="url(#mk3)" marker-mid="url(#mk3)" marker-end="url(#mk3)"/>
<path d="M254.9 600.6 255.6 600.6 256.3 600.6 257 600.6 257.7 600.6 258.4 600.6 259.2 600.6 259.9 600.6 260.6 600.7 261.3 600.7 262 600.7 262.7 600.7 263.4 600.7 264.1 600.7 264.8 600.7 265.5 600.7 266.2 600.7 267 600.7 267.7 600.7 268.4 600.7 269.1 600.8 269.8 600.8 270.5 600.8 271.2 600.8 271.9 600.8 272.6 600.8 273.3 600.8 274 600.8 274.8 600.8 275.5 600.8 276.2 600.8 276.9 600.8 277.6 600.8 278.3 600.8 279 600.8 279.7 600.8 280.4 600.8 281.1 600.8 281.9 600.8 282.6 600.8 283.3 600.7 284 600.7 284.7 600.7 285.4 600.7 286.1 600.7 286.8 600.7 287.5 600.6 288.2 600.6 288.9 600.6 289.7 600.6 290.4 600.5 291.1 600.5 291.8 600.4 292.5 600.3 293.2 600.3 293.9 600.2 294.6 600 295.3 599.9 296 599.7 296.7 599.5 297.5 599.2 298.2 598.8 298.9 598.4 299.6 597.9 300.3 597.2 301 596.5 301.7 595.5 302.4 594.4 303.1 593.1 303.8 591.6 304.5 589.9 305.3 588 306 585.9 306.7 583.6 307.4 581.1 308.1 578.4 308.8 575.6 309.5 572.8 310.2 570 310.9 567.2 311.6 564.5 312.3 562.1 313.1 560.1 313.8 558.4 314.5 557.2 315.2 556.6 315.9 556.5 316.6 557.1 317.3 558.2 318 559.8 318.7 561.9 319.4 564.3 320.1 566.9 320.9 569.7 321.6 572.5 322.3 575.4 323 578.2 323.7 580.9 324.4 583.5 325.1 585.9 325.8 588.1 326.5 590 327.2 591.8 328 593.3 328.7 594.7 329.4 595.8 330.1 596.8 330.8 597.6 331.5 598.3 332.2 598.9 332.9 599.4 333.6 599.8 334.3 600.1 335 600.4 335.8 600.6 336.5 600.7 337.2 600.9 337.9 601 338.6 601.1 339.3 601.2 340 601.3 340.7 601.4 341.4 601.4 342.1 601.5 342.8 601.5 343.6 601.6 344.3 601.6 345 601.6 345.7 601.7 346.4 601.7 347.1 601.7 347.8 601.8 348.5 601.8 349.2 601.8 349.9 601.8 350.6 601.9 351.4 601.9 352.1 601.9 352.8 601.9 353.5 601.9 354.2 601.9 354.9 601.9 355.6 601.9 356.3 601.9 357 601.9 357.7 601.9 358.4 601.9 359.2 601.9 359.9 601.9 360.6 601.9 361.3 601.9 362 601.8 362.7 601.8 363.4 601.8 364.1 601.7 364.8 601.7 365.5 601.6 366.2 601.5 367 601.5 367.7 601.4 368.4 601.2 369.1 601.1 369.8 600.9 370.5 600.7 371.2 600.4 371.9 600 372.6 599.5 373.3 599 374.1 598.3 374.8 597.4 375.5 596.4 376.2 595.2 376.9 593.8 377.6 592.1 378.3 590.1 379 587.9 379.7 585.4 380.4 582.6 381.1 579.6 381.9 576.2 382.6 572.7 383.3 569.1 384 565.3 384.7 561.5 385.4 557.8 386.1 554.3 386.8 551.1 387.5 548.3 388.2 546.1 388.9 544.4 389.7 543.6 390.4 543.4 391.1 544.1 391.8 545.5 392.5 547.6 393.2 550.3 393.9 553.4 394.6 556.9 395.3 560.6 396 564.4 396.7 568.2 397.5 571.9 398.2 575.5 398.9 578.9 399.6 582.1 400.3 585 401 587.7 401.7 590 402.4 592.1 403.1 593.9 403.8 595.5 404.5 596.8 405.3 597.9 406 598.8 406.7 599.6 407.4 600.2 408.1 600.8 408.8 601.2 409.5 601.6 410.2 601.9 410.9 602.1 411.6 602.3 412.3 602.5 413.1 602.6 413.8 602.8 414.5 602.9 415.2 603 415.9 603.1 416.6 603.1 417.3 603.2 418 603.3 418.7 603.4 419.4 603.4 420.2 603.5 420.9 603.5 421.6 603.6 422.3 603.6 423 603.7 423.7 603.7 424.4 603.8 425.1 603.8 425.8 603.9 426.5 603.9 427.2 604 428 604 428.7 604 429.4 604.1 430.1 604.1 430.8 604.1 431.5 604.2 432.2 604.2 432.9 604.2 433.6 604.3 434.3 604.3 435 604.3 435.8 604.4 436.5 604.4 437.2 604.4 437.9 604.4 438.6 604.5 439.3 604.5" stroke="#5cc65c" stroke-width="1.1" fill="none"/>
<line x1="312.5" y1="492.2" x2="312.5" y2="524.9" stroke="#333" stroke-width="0.8" stroke-dasharray="2.6 1.5"/>
<line x1="314.3" y1="515.9" x2="314.3" y2="570" stroke="#333" stroke-width="0.8" stroke-dasharray="2.6 1.5"/>
<line x1="386.5" y1="483.6" x2="386.5" y2="517" stroke="#333" stroke-width="0.8" stroke-dasharray="2.6 1.5"/>
<line x1="389.1" y1="508.5" x2="389.1" y2="556.8" stroke="#333" stroke-width="0.8" stroke-dasharray="2.6 1.5"/>
<line x1="260.8" y1="474" x2="280" y2="474" stroke="#2f7b4c" stroke-width="1.2"/>
<text x="283.6" y="477.04" font-size="8.2">Pristine</text>
<line x1="260.8" y1="484.5" x2="280" y2="484.5" stroke="#5cc65c" stroke-width="1.2"/>
<text x="283.6" y="487.54" font-size="8.2">Target</text>
<text x="434" y="476.94" font-size="8.2" text-anchor="end">Pb 4<tspan font-style="italic">f</tspan></text>
<rect x="494" y="465.6" width="183" height="146.1" fill="none" stroke="#111" stroke-width="1.1"/>
<line x1="507.07" y1="611.7" x2="507.07" y2="610.1" stroke="#111" stroke-width="1"/>
<line x1="520.14" y1="611.7" x2="520.14" y2="609.1" stroke="#111" stroke-width="1"/>
<line x1="533.21" y1="611.7" x2="533.21" y2="610.1" stroke="#111" stroke-width="1"/>
<line x1="546.29" y1="611.7" x2="546.29" y2="609.1" stroke="#111" stroke-width="1"/>
<line x1="559.36" y1="611.7" x2="559.36" y2="610.1" stroke="#111" stroke-width="1"/>
<line x1="572.43" y1="611.7" x2="572.43" y2="609.1" stroke="#111" stroke-width="1"/>
<line x1="585.5" y1="611.7" x2="585.5" y2="610.1" stroke="#111" stroke-width="1"/>
<line x1="598.57" y1="611.7" x2="598.57" y2="609.1" stroke="#111" stroke-width="1"/>
<line x1="611.64" y1="611.7" x2="611.64" y2="610.1" stroke="#111" stroke-width="1"/>
<line x1="624.71" y1="611.7" x2="624.71" y2="609.1" stroke="#111" stroke-width="1"/>
<line x1="637.79" y1="611.7" x2="637.79" y2="610.1" stroke="#111" stroke-width="1"/>
<line x1="650.86" y1="611.7" x2="650.86" y2="609.1" stroke="#111" stroke-width="1"/>
<line x1="663.93" y1="611.7" x2="663.93" y2="610.1" stroke="#111" stroke-width="1"/>
<text x="494" y="624.83" font-size="9.3" text-anchor="middle">538</text>
<text x="520.14" y="624.83" font-size="9.3" text-anchor="middle">536</text>
<text x="546.29" y="624.83" font-size="9.3" text-anchor="middle">534</text>
<text x="572.43" y="624.83" font-size="9.3" text-anchor="middle">532</text>
<text x="598.57" y="624.83" font-size="9.3" text-anchor="middle">530</text>
<text x="624.71" y="624.83" font-size="9.3" text-anchor="middle">528</text>
<text x="650.86" y="624.83" font-size="9.3" text-anchor="middle">526</text>
<text x="677" y="624.83" font-size="9.3" text-anchor="middle">524</text>
<text x="585.5" y="641.47" font-size="9.7" text-anchor="middle">Binding energy (eV)</text>
<text x="482.8" y="543.47" font-size="9.7" text-anchor="middle" transform="rotate(-90 482.8 540)">Intensity (a.u.)</text>
<path d="M494 529.8 495.1 529.8 496.2 529.8 497.2 529.8 498.3 529.8 499.4 529.8 500.5 529.8 501.5 529.8 502.6 529.8 503.7 529.8 504.8 529.8 505.8 529.8 506.9 529.8 508 529.8 509.1 529.8 510.1 529.8 511.2 529.9 512.3 529.9 513.4 529.9 514.5 529.9 515.5 529.9 516.6 529.9 517.7 529.9 518.8 529.9 519.8 529.9 520.9 529.9 522 529.9 523.1 529.9 524.1 529.9 525.2 529.9 526.3 529.9 527.4 529.9 528.4 529.9 529.5 529.9 530.6 529.9 531.7 529.9 532.8 529.9 533.8 529.9 534.9 529.9 536 529.9 537.1 529.9 538.1 529.9 539.2 529.9 540.3 529.9 541.4 529.8 542.4 529.8 543.5 529.7 544.6 529.7 545.7 529.6 546.7 529.5 547.8 529.3 548.9 529.2 550 529 551.1 528.7 552.1 528.5 553.2 528.1 554.3 527.7 555.4 527.3 556.4 526.7 557.5 526.1 558.6 525.4 559.7 524.7 560.7 523.9 561.8 523 562.9 522 564 521 565 520 566.1 518.9 567.2 517.9 568.3 516.8 569.4 515.8 570.4 514.9 571.5 514 572.6 513.3 573.7 512.7 574.7 512.3 575.8 512 576.9 511.9 578 512 579 512.2 580.1 512.7 581.2 513.2 582.3 514 583.3 514.8 584.4 515.7 585.5 516.7 586.6 517.8 587.7 518.8 588.7 519.9 589.8 521 590.9 522 592 523 593 523.9 594.1 524.8 595.2 525.5 596.3 526.2 597.3 526.9 598.4 527.4 599.5 527.9 600.6 528.4 601.6 528.7 602.7 529.1 603.8 529.3 604.9 529.5 606 529.7 607 529.9 608.1 530 609.2 530.1 610.3 530.2 611.3 530.3 612.4 530.3 613.5 530.4 614.6 530.4 615.6 530.4 616.7 530.5 617.8 530.5 618.9 530.5 619.9 530.5 621 530.5 622.1 530.6 623.2 530.6 624.3 530.6 625.3 530.6 626.4 530.6 627.5 530.6 628.6 530.6 629.6 530.7 630.7 530.7 631.8 530.7 632.9 530.7 633.9 530.7 635 530.7 636.1 530.7 637.2 530.7 638.2 530.7 639.3 530.8 640.4 530.8 641.5 530.8 642.6 530.8 643.6 530.8 644.7 530.8 645.8 530.8 646.9 530.8 647.9 530.8 649 530.8 650.1 530.9 651.2 530.9 652.2 530.9 653.3 530.9 654.4 530.9 655.5 530.9 656.5 530.9 657.6 530.9 658.7 530.9 659.8 530.9 660.9 530.9 661.9 531 663 531 664.1 531 665.2 531 666.2 531 667.3 531 668.4 531 669.5 531 670.5 531 671.6 531 672.7 531 673.8 531 674.8 531.1 675.9 531.1 677 531.1 677 531.1 675.9 531.1 674.8 531.1 673.8 531.1 672.7 531.1 671.6 531.1 670.5 531.1 669.5 531 668.4 531 667.3 531 666.2 531 665.2 531 664.1 531 663 531 661.9 531 660.9 531 659.8 531 658.7 531 657.6 531 656.5 531 655.5 530.9 654.4 530.9 653.3 530.9 652.2 530.9 651.2 530.9 650.1 530.9 649 530.9 647.9 530.9 646.9 530.9 645.8 530.9 644.7 530.9 643.6 530.9 642.6 530.9 641.5 530.8 640.4 530.8 639.3 530.8 638.2 530.8 637.2 530.8 636.1 530.8 635 530.8 633.9 530.8 632.9 530.8 631.8 530.8 630.7 530.8 629.6 530.8 628.6 530.8 627.5 530.7 626.4 530.7 625.3 530.7 624.3 530.7 623.2 530.7 622.1 530.7 621 530.7 619.9 530.7 618.9 530.7 617.8 530.7 616.7 530.7 615.6 530.7 614.6 530.7 613.5 530.6 612.4 530.6 611.3 530.6 610.3 530.6 609.2 530.6 608.1 530.6 607 530.6 606 530.6 604.9 530.6 603.8 530.6 602.7 530.6 601.6 530.6 600.6 530.6 599.5 530.5 598.4 530.5 597.3 530.5 596.3 530.5 595.2 530.5 594.1 530.5 593 530.5 592 530.5 590.9 530.5 589.8 530.5 588.7 530.5 587.7 530.5 586.6 530.5 585.5 530.5 584.4 530.4 583.3 530.4 582.3 530.4 581.2 530.4 580.1 530.4 579 530.4 578 530.4 576.9 530.4 575.8 530.4 574.7 530.4 573.7 530.4 572.6 530.4 571.5 530.4 570.4 530.3 569.4 530.3 568.3 530.3 567.2 530.3 566.1 530.3 565 530.3 564 530.3 562.9 530.3 561.8 530.3 560.7 530.3 559.7 530.3 558.6 530.3 557.5 530.3 556.4 530.2 555.4 530.2 554.3 530.2 553.2 530.2 552.1 530.2 551.1 530.2 550 530.2 548.9 530.2 547.8 530.2 546.7 530.2 545.7 530.2 544.6 530.2 543.5 530.2 542.4 530.1 541.4 530.1 540.3 530.1 539.2 530.1 538.1 530.1 537.1 530.1 536 530.1 534.9 530.1 533.8 530.1 532.8 530.1 531.7 530.1 530.6 530.1 529.5 530.1 528.4 530 527.4 530 526.3 530 525.2 530 524.1 530 523.1 530 522 530 520.9 530 519.8 530 518.8 530 517.7 530 516.6 530 515.5 530 514.5 529.9 513.4 529.9 512.3 529.9 511.2 529.9 510.1 529.9 509.1 529.9 508 529.9 506.9 529.9 505.8 529.9 504.8 529.9 503.7 529.9 502.6 529.9 501.5 529.9 500.5 529.8 499.4 529.8 498.3 529.8 497.2 529.8 496.2 529.8 495.1 529.8 494 529.8 Z" fill="url(#gx3)"/>
<path d="M494 529.8 495.1 529.8 496.2 529.8 497.2 529.8 498.3 529.8 499.4 529.8 500.5 529.8 501.5 529.8 502.6 529.8 503.7 529.8 504.8 529.9 505.8 529.9 506.9 529.9 508 529.9 509.1 529.9 510.1 529.9 511.2 529.9 512.3 529.9 513.4 529.9 514.5 529.9 515.5 529.9 516.6 529.9 517.7 529.9 518.8 529.9 519.8 530 520.9 530 522 530 523.1 530 524.1 530 525.2 530 526.3 530 527.4 530 528.4 530 529.5 530 530.6 530 531.7 530 532.8 530 533.8 530 534.9 530 536 530 537.1 530.1 538.1 530.1 539.2 530.1 540.3 530.1 541.4 530.1 542.4 530.1 543.5 530.1 544.6 530.1 545.7 530.1 546.7 530.1 547.8 530.1 548.9 530.1 550 530.1 551.1 530.1 552.1 530.1 553.2 530.1 554.3 530.1 555.4 530.1 556.4 530.1 557.5 530.1 558.6 530.1 559.7 530.1 560.7 530.1 561.8 530.1 562.9 530.1 564 530.1 565 530.1 566.1 530.1 567.2 530.1 568.3 530.1 569.4 530.1 570.4 530.1 571.5 530 572.6 530 573.7 530 574.7 529.9 575.8 529.8 576.9 529.7 578 529.4 579 529 580.1 528.4 581.2 527.5 582.3 526.1 583.3 524.1 584.4 521.4 585.5 518 586.6 513.7 587.7 508.9 588.7 503.6 589.8 498.2 590.9 493.3 592 489.3 593 486.8 594.1 486 595.2 487.2 596.3 490.1 597.3 494.3 598.4 499.4 599.5 504.8 600.6 510 601.6 514.8 602.7 518.9 603.8 522.2 604.9 524.7 606 526.6 607 527.9 608.1 528.8 609.2 529.3 610.3 529.7 611.3 529.9 612.4 530.1 613.5 530.2 614.6 530.3 615.6 530.3 616.7 530.4 617.8 530.4 618.9 530.4 619.9 530.5 621 530.5 622.1 530.5 623.2 530.5 624.3 530.5 625.3 530.6 626.4 530.6 627.5 530.6 628.6 530.6 629.6 530.6 630.7 530.6 631.8 530.7 632.9 530.7 633.9 530.7 635 530.7 636.1 530.7 637.2 530.7 638.2 530.7 639.3 530.8 640.4 530.8 641.5 530.8 642.6 530.8 643.6 530.8 644.7 530.8 645.8 530.8 646.9 530.8 647.9 530.8 649 530.8 650.1 530.9 651.2 530.9 652.2 530.9 653.3 530.9 654.4 530.9 655.5 530.9 656.5 530.9 657.6 530.9 658.7 530.9 659.8 530.9 660.9 530.9 661.9 531 663 531 664.1 531 665.2 531 666.2 531 667.3 531 668.4 531 669.5 531 670.5 531 671.6 531 672.7 531 673.8 531.1 674.8 531.1 675.9 531.1 677 531.1 677 531.1 675.9 531.1 674.8 531.1 673.8 531.1 672.7 531.1 671.6 531.1 670.5 531.1 669.5 531 668.4 531 667.3 531 666.2 531 665.2 531 664.1 531 663 531 661.9 531 660.9 531 659.8 531 658.7 531 657.6 531 656.5 531 655.5 530.9 654.4 530.9 653.3 530.9 652.2 530.9 651.2 530.9 650.1 530.9 649 530.9 647.9 530.9 646.9 530.9 645.8 530.9 644.7 530.9 643.6 530.9 642.6 530.9 641.5 530.8 640.4 530.8 639.3 530.8 638.2 530.8 637.2 530.8 636.1 530.8 635 530.8 633.9 530.8 632.9 530.8 631.8 530.8 630.7 530.8 629.6 530.8 628.6 530.8 627.5 530.7 626.4 530.7 625.3 530.7 624.3 530.7 623.2 530.7 622.1 530.7 621 530.7 619.9 530.7 618.9 530.7 617.8 530.7 616.7 530.7 615.6 530.7 614.6 530.7 613.5 530.6 612.4 530.6 611.3 530.6 610.3 530.6 609.2 530.6 608.1 530.6 607 530.6 606 530.6 604.9 530.6 603.8 530.6 602.7 530.6 601.6 530.6 600.6 530.6 599.5 530.5 598.4 530.5 597.3 530.5 596.3 530.5 595.2 530.5 594.1 530.5 593 530.5 592 530.5 590.9 530.5 589.8 530.5 588.7 530.5 587.7 530.5 586.6 530.5 585.5 530.5 584.4 530.4 583.3 530.4 582.3 530.4 581.2 530.4 580.1 530.4 579 530.4 578 530.4 576.9 530.4 575.8 530.4 574.7 530.4 573.7 530.4 572.6 530.4 571.5 530.4 570.4 530.3 569.4 530.3 568.3 530.3 567.2 530.3 566.1 530.3 565 530.3 564 530.3 562.9 530.3 561.8 530.3 560.7 530.3 559.7 530.3 558.6 530.3 557.5 530.3 556.4 530.2 555.4 530.2 554.3 530.2 553.2 530.2 552.1 530.2 551.1 530.2 550 530.2 548.9 530.2 547.8 530.2 546.7 530.2 545.7 530.2 544.6 530.2 543.5 530.2 542.4 530.1 541.4 530.1 540.3 530.1 539.2 530.1 538.1 530.1 537.1 530.1 536 530.1 534.9 530.1 533.8 530.1 532.8 530.1 531.7 530.1 530.6 530.1 529.5 530.1 528.4 530 527.4 530 526.3 530 525.2 530 524.1 530 523.1 530 522 530 520.9 530 519.8 530 518.8 530 517.7 530 516.6 530 515.5 530 514.5 529.9 513.4 529.9 512.3 529.9 511.2 529.9 510.1 529.9 509.1 529.9 508 529.9 506.9 529.9 505.8 529.9 504.8 529.9 503.7 529.9 502.6 529.9 501.5 529.9 500.5 529.8 499.4 529.8 498.3 529.8 497.2 529.8 496.2 529.8 495.1 529.8 494 529.8 Z" fill="url(#gx4)"/>
<line x1="494" y1="529.8" x2="677" y2="531.1" stroke="#2f7b4c" stroke-width="0.7"/>
<path d="M494 529.8 495.1 529.8 496.2 529.8 497.2 529.8 498.3 529.8 499.4 529.8 500.5 529.8 501.5 529.8 502.6 529.8 503.7 529.8 504.8 529.8 505.8 529.8 506.9 529.8 508 529.8 509.1 529.8 510.1 529.8 511.2 529.9 512.3 529.9 513.4 529.9 514.5 529.9 515.5 529.9 516.6 529.9 517.7 529.9 518.8 529.9 519.8 529.9 520.9 529.9 522 529.9 523.1 529.9 524.1 529.9 525.2 529.9 526.3 529.9 527.4 529.9 528.4 529.9 529.5 529.9 530.6 529.9 531.7 529.9 532.8 529.9 533.8 529.9 534.9 529.9 536 529.9 537.1 529.9 538.1 529.9 539.2 529.9 540.3 529.9 541.4 529.8 542.4 529.8 543.5 529.7 544.6 529.7 545.7 529.6 546.7 529.5 547.8 529.3 548.9 529.2 550 529 551.1 528.7 552.1 528.5 553.2 528.1 554.3 527.7 555.4 527.3 556.4 526.7 557.5 526.1 558.6 525.4 559.7 524.7 560.7 523.9 561.8 523 562.9 522 564 521 565 520 566.1 518.9 567.2 517.9 568.3 516.8 569.4 515.8 570.4 514.9 571.5 514 572.6 513.3 573.7 512.7 574.7 512.3 575.8 512 576.9 511.9 578 512 579 512.2 580.1 512.7 581.2 513.2 582.3 514 583.3 514.8 584.4 515.7 585.5 516.7 586.6 517.8 587.7 518.8 588.7 519.9 589.8 521 590.9 522 592 523 593 523.9 594.1 524.8 595.2 525.5 596.3 526.2 597.3 526.9 598.4 527.4 599.5 527.9 600.6 528.4 601.6 528.7 602.7 529.1 603.8 529.3 604.9 529.5 606 529.7 607 529.9 608.1 530 609.2 530.1 610.3 530.2 611.3 530.3 612.4 530.3 613.5 530.4 614.6 530.4 615.6 530.4 616.7 530.5 617.8 530.5 618.9 530.5 619.9 530.5 621 530.5 622.1 530.6 623.2 530.6 624.3 530.6 625.3 530.6 626.4 530.6 627.5 530.6 628.6 530.6 629.6 530.7 630.7 530.7 631.8 530.7 632.9 530.7 633.9 530.7 635 530.7 636.1 530.7 637.2 530.7 638.2 530.7 639.3 530.8 640.4 530.8 641.5 530.8 642.6 530.8 643.6 530.8 644.7 530.8 645.8 530.8 646.9 530.8 647.9 530.8 649 530.8 650.1 530.9 651.2 530.9 652.2 530.9 653.3 530.9 654.4 530.9 655.5 530.9 656.5 530.9 657.6 530.9 658.7 530.9 659.8 530.9 660.9 530.9 661.9 531 663 531 664.1 531 665.2 531 666.2 531 667.3 531 668.4 531 669.5 531 670.5 531 671.6 531 672.7 531 673.8 531 674.8 531.1 675.9 531.1 677 531.1" stroke="#2f7b4c" stroke-width="0.6" fill="none"/>
<path d="M494 529.8 495.1 529.8 496.2 529.8 497.2 529.8 498.3 529.8 499.4 529.8 500.5 529.8 501.5 529.8 502.6 529.8 503.7 529.8 504.8 529.9 505.8 529.9 506.9 529.9 508 529.9 509.1 529.9 510.1 529.9 511.2 529.9 512.3 529.9 513.4 529.9 514.5 529.9 515.5 529.9 516.6 529.9 517.7 529.9 518.8 529.9 519.8 530 520.9 530 522 530 523.1 530 524.1 530 525.2 530 526.3 530 527.4 530 528.4 530 529.5 530 530.6 530 531.7 530 532.8 530 533.8 530 534.9 530 536 530 537.1 530.1 538.1 530.1 539.2 530.1 540.3 530.1 541.4 530.1 542.4 530.1 543.5 530.1 544.6 530.1 545.7 530.1 546.7 530.1 547.8 530.1 548.9 530.1 550 530.1 551.1 530.1 552.1 530.1 553.2 530.1 554.3 530.1 555.4 530.1 556.4 530.1 557.5 530.1 558.6 530.1 559.7 530.1 560.7 530.1 561.8 530.1 562.9 530.1 564 530.1 565 530.1 566.1 530.1 567.2 530.1 568.3 530.1 569.4 530.1 570.4 530.1 571.5 530 572.6 530 573.7 530 574.7 529.9 575.8 529.8 576.9 529.7 578 529.4 579 529 580.1 528.4 581.2 527.5 582.3 526.1 583.3 524.1 584.4 521.4 585.5 518 586.6 513.7 587.7 508.9 588.7 503.6 589.8 498.2 590.9 493.3 592 489.3 593 486.8 594.1 486 595.2 487.2 596.3 490.1 597.3 494.3 598.4 499.4 599.5 504.8 600.6 510 601.6 514.8 602.7 518.9 603.8 522.2 604.9 524.7 606 526.6 607 527.9 608.1 528.8 609.2 529.3 610.3 529.7 611.3 529.9 612.4 530.1 613.5 530.2 614.6 530.3 615.6 530.3 616.7 530.4 617.8 530.4 618.9 530.4 619.9 530.5 621 530.5 622.1 530.5 623.2 530.5 624.3 530.5 625.3 530.6 626.4 530.6 627.5 530.6 628.6 530.6 629.6 530.6 630.7 530.6 631.8 530.7 632.9 530.7 633.9 530.7 635 530.7 636.1 530.7 637.2 530.7 638.2 530.7 639.3 530.8 640.4 530.8 641.5 530.8 642.6 530.8 643.6 530.8 644.7 530.8 645.8 530.8 646.9 530.8 647.9 530.8 649 530.8 650.1 530.9 651.2 530.9 652.2 530.9 653.3 530.9 654.4 530.9 655.5 530.9 656.5 530.9 657.6 530.9 658.7 530.9 659.8 530.9 660.9 530.9 661.9 531 663 531 664.1 531 665.2 531 666.2 531 667.3 531 668.4 531 669.5 531 670.5 531 671.6 531 672.7 531 673.8 531.1 674.8 531.1 675.9 531.1 677 531.1" stroke="#2f7b4c" stroke-width="0.6" fill="none"/>
<path d="M494.0 528.7 494.7 528.7 495.3 530.3 496.0 527.7 496.7 529.6 497.4 527.7 498.0 530.8 498.7 529.9 499.4 531.0 500.1 529.3 500.7 530.1 501.4 529.5 502.1 529.1 502.7 529.9 503.4 528.7 504.1 529.5 504.8 530.4 505.4 529.9 506.1 529.4 506.8 531.8 507.5 529.9 508.1 529.3 508.8 530.0 509.5 529.3 510.1 529.5 510.8 529.5 511.5 531.7 512.2 529.9 512.8 530.0 513.5 530.4 514.2 531.7 514.9 529.6 515.5 529.3 516.2 532.1 516.9 528.5 517.5 529.5 518.2 530.5 518.9 531.9 519.6 529.0 520.2 527.7 520.9 530.5 521.6 529.4 522.3 529.5 522.9 530.3 523.6 530.1 524.3 530.1 524.9 529.5 525.6 531.0 526.3 531.2 527.0 529.9 527.6 529.5 528.3 530.5 529.0 530.3 529.7 528.9 530.3 529.5 531.0 530.8 531.7 529.8 532.3 529.6 533.0 530.1 533.7 529.8 534.4 529.9 535.0 528.1 535.7 531.4 536.4 530.0 537.1 529.1 537.7 530.7 538.4 530.1 539.1 529.8 539.8 530.7 540.4 531.8 541.1 530.3 541.8 531.2 542.4 531.7 543.1 528.8 543.8 529.2 544.5 530.3 545.1 528.0 545.8 529.3 546.5 530.6 547.2 530.3 547.8 529.8 548.5 527.5 549.2 531.2 549.8 529.4 550.5 529.5 551.2 529.1 551.9 526.9 552.5 526.9 553.2 526.9 553.9 529.5 554.6 526.8 555.2 527.0 555.9 526.7 556.6 527.0 557.2 526.6 557.9 526.0 558.6 524.2 559.3 522.0 559.9 524.5 560.6 524.1 561.3 524.4 562.0 522.6 562.6 521.5 563.3 521.8 564.0 519.4 564.6 519.2 565.3 518.6 566.0 519.1 566.7 520.1 567.3 518.2 568.0 517.9 568.7 516.4 569.4 515.8 570.0 514.5 570.7 514.1 571.4 511.6 572.0 512.2 572.7 511.7 573.4 513.2 574.1 512.7 574.7 512.8 575.4 513.0 576.1 511.1 576.8 512.1 577.4 512.8 578.1 511.0 578.8 511.9 579.4 510.6 580.1 509.2 580.8 510.6 581.5 509.4 582.1 509.8 582.8 508.7 583.5 508.6 584.2 505.3 584.8 507.7 585.5 505.5 586.2 502.0 586.8 499.3 587.5 497.7 588.2 495.8 588.9 492.8 589.5 490.1 590.2 485.4 590.9 483.8 591.6 484.0 592.2 481.5 592.9 478.9 593.6 479.2 594.2 479.1 594.9 480.6 595.6 484.4 596.3 485.6 596.9 489.8 597.6 492.2 598.3 494.2 599.0 498.7 599.6 505.0 600.3 505.8 601.0 508.9 601.6 514.1 602.3 515.9 603.0 518.3 603.7 521.9 604.3 520.8 605.0 524.4 605.7 524.3 606.4 525.0 607.0 526.4 607.7 528.9 608.4 528.2 609.0 527.1 609.7 528.1 610.4 530.7 611.1 530.5 611.7 528.7 612.4 532.0 613.1 529.5 613.8 528.8 614.4 529.9 615.1 530.9 615.8 531.6 616.4 531.1 617.1 529.8 617.8 529.7 618.5 528.9 619.1 530.2 619.8 529.7 620.5 530.5 621.2 529.2 621.8 529.9 622.5 529.6 623.2 529.3 623.8 529.3 624.5 529.5 625.2 529.3 625.9 531.0 626.5 530.6 627.2 529.3 627.9 531.0 628.6 530.8 629.2 531.9 629.9 530.4 630.6 530.3 631.2 529.9 631.9 530.7 632.6 531.0 633.3 530.7 633.9 530.4 634.6 531.1 635.3 530.7 636.0 530.9 636.6 529.8 637.3 530.8 638.0 529.7 638.7 529.9 639.3 530.8 640.0 532.6 640.7 531.6 641.3 530.7 642.0 530.5 642.7 531.6 643.4 532.0 644.0 531.9 644.7 530.6 645.4 530.9 646.1 530.4 646.7 530.5 647.4 530.0 648.1 530.5 648.7 528.8 649.4 529.7 650.1 531.2 650.8 530.0 651.4 531.3 652.1 529.6 652.8 530.5 653.5 531.2 654.1 529.9 654.8 530.2 655.5 533.1 656.1 530.2 656.8 530.2 657.5 530.3 658.2 530.9 658.8 530.9 659.5 531.8 660.2 531.6 660.9 530.5 661.5 530.6 662.2 529.6 662.9 529.5 663.5 530.2 664.2 531.6 664.9 531.1 665.6 531.7 666.2 531.8 666.9 530.8 667.6 532.9 668.3 530.5 668.9 530.4 669.6 530.6 670.3 532.0 670.9 530.9 671.6 530.3 672.3 531.4 673.0 532.1 673.6 530.9 674.3 530.8 675.0 532.0 675.7 531.9 676.3 531.9 677.0 530.3" fill="none" stroke="none" marker-start="url(#mk4)" marker-mid="url(#mk4)" marker-end="url(#mk4)"/>
<path d="M494 529.7 495.1 529.7 496.2 529.8 497.2 529.8 498.3 529.8 499.4 529.8 500.5 529.8 501.5 529.8 502.6 529.8 503.7 529.8 504.8 529.8 505.8 529.8 506.9 529.8 508 529.8 509.1 529.8 510.1 529.8 511.2 529.8 512.3 529.8 513.4 529.8 514.5 529.8 515.5 529.8 516.6 529.8 517.7 529.9 518.8 529.9 519.8 529.9 520.9 529.9 522 529.9 523.1 529.9 524.1 529.9 525.2 529.9 526.3 529.9 527.4 529.9 528.4 529.9 529.5 529.9 530.6 529.9 531.7 529.9 532.8 529.9 533.8 529.9 534.9 529.9 536 529.9 537.1 529.8 538.1 529.8 539.2 529.8 540.3 529.8 541.4 529.8 542.4 529.7 543.5 529.7 544.6 529.6 545.7 529.5 546.7 529.4 547.8 529.3 548.9 529.1 550 528.9 551.1 528.7 552.1 528.4 553.2 528 554.3 527.6 555.4 527.1 556.4 526.6 557.5 526 558.6 525.3 559.7 524.5 560.7 523.7 561.8 522.8 562.9 521.8 564 520.8 565 519.8 566.1 518.7 567.2 517.6 568.3 516.6 569.4 515.6 570.4 514.6 571.5 513.7 572.6 513 573.7 512.3 574.7 511.8 575.8 511.4 576.9 511.2 578 511 579 510.9 580.1 510.7 581.2 510.3 582.3 509.6 583.3 508.5 584.4 506.7 585.5 504.2 586.6 501.1 587.7 497.2 588.7 493 589.8 488.7 590.9 484.8 592 481.8 593 480.2 594.1 480.3 595.2 482.2 596.3 485.8 597.3 490.7 598.4 496.3 599.5 502.2 600.6 507.9 601.6 513 602.7 517.4 603.8 520.9 604.9 523.7 606 525.7 607 527.2 608.1 528.2 609.2 528.8 610.3 529.3 611.3 529.6 612.4 529.8 613.5 529.9 614.6 530 615.6 530.1 616.7 530.2 617.8 530.2 618.9 530.2 619.9 530.3 621 530.3 622.1 530.4 623.2 530.4 624.3 530.4 625.3 530.4 626.4 530.5 627.5 530.5 628.6 530.5 629.6 530.5 630.7 530.5 631.8 530.6 632.9 530.6 633.9 530.6 635 530.6 636.1 530.6 637.2 530.6 638.2 530.7 639.3 530.7 640.4 530.7 641.5 530.7 642.6 530.7 643.6 530.7 644.7 530.7 645.8 530.8 646.9 530.8 647.9 530.8 649 530.8 650.1 530.8 651.2 530.8 652.2 530.8 653.3 530.8 654.4 530.8 655.5 530.9 656.5 530.9 657.6 530.9 658.7 530.9 659.8 530.9 660.9 530.9 661.9 530.9 663 530.9 664.1 530.9 665.2 530.9 666.2 531 667.3 531 668.4 531 669.5 531 670.5 531 671.6 531 672.7 531 673.8 531 674.8 531 675.9 531 677 531" stroke="#2f7b4c" stroke-width="1.1" fill="none"/>
<path d="M494 601.5 495.1 601.5 496.2 601.5 497.2 601.5 498.3 601.5 499.4 601.5 500.5 601.5 501.5 601.5 502.6 601.5 503.7 601.5 504.8 601.5 505.8 601.5 506.9 601.5 508 601.5 509.1 601.5 510.1 601.5 511.2 601.5 512.3 601.5 513.4 601.5 514.5 601.5 515.5 601.5 516.6 601.5 517.7 601.5 518.8 601.5 519.8 601.5 520.9 601.5 522 601.5 523.1 601.5 524.1 601.5 525.2 601.5 526.3 601.5 527.4 601.5 528.4 601.5 529.5 601.5 530.6 601.5 531.7 601.5 532.8 601.4 533.8 601.4 534.9 601.4 536 601.4 537.1 601.3 538.1 601.3 539.2 601.3 540.3 601.2 541.4 601.1 542.4 601.1 543.5 600.9 544.6 600.8 545.7 600.7 546.7 600.5 547.8 600.2 548.9 599.9 550 599.6 551.1 599.2 552.1 598.7 553.2 598.2 554.3 597.6 555.4 596.9 556.4 596.2 557.5 595.3 558.6 594.4 559.7 593.3 560.7 592.3 561.8 591.1 562.9 589.9 564 588.7 565 587.4 566.1 586.2 567.2 584.9 568.3 583.7 569.4 582.6 570.4 581.6 571.5 580.7 572.6 579.9 573.7 579.4 574.7 579 575.8 578.8 576.9 578.8 578 579 579 579.4 580.1 580 581.2 580.7 582.3 581.6 583.3 582.6 584.4 583.8 585.5 584.9 586.6 586.2 587.7 587.4 588.7 588.7 589.8 590 590.9 591.2 592 592.3 593 593.4 594.1 594.4 595.2 595.4 596.3 596.2 597.3 597 598.4 597.7 599.5 598.3 600.6 598.8 601.6 599.3 602.7 599.7 603.8 600 604.9 600.3 606 600.6 607 600.8 608.1 600.9 609.2 601.1 610.3 601.2 611.3 601.3 612.4 601.3 613.5 601.4 614.6 601.4 615.6 601.5 616.7 601.5 617.8 601.5 618.9 601.6 619.9 601.6 621 601.6 622.1 601.6 623.2 601.6 624.3 601.6 625.3 601.6 626.4 601.7 627.5 601.7 628.6 601.7 629.6 601.7 630.7 601.7 631.8 601.7 632.9 601.7 633.9 601.7 635 601.7 636.1 601.7 637.2 601.7 638.2 601.7 639.3 601.7 640.4 601.7 641.5 601.7 642.6 601.7 643.6 601.8 644.7 601.8 645.8 601.8 646.9 601.8 647.9 601.8 649 601.8 650.1 601.8 651.2 601.8 652.2 601.8 653.3 601.8 654.4 601.8 655.5 601.8 656.5 601.8 657.6 601.8 658.7 601.8 659.8 601.8 660.9 601.8 661.9 601.8 663 601.8 664.1 601.8 665.2 601.8 666.2 601.8 667.3 601.8 668.4 601.8 669.5 601.8 670.5 601.8 671.6 601.8 672.7 601.8 673.8 601.8 674.8 601.9 675.9 601.9 677 601.9 677 601.9 675.9 601.9 674.8 601.9 673.8 601.9 672.7 601.9 671.6 601.9 670.5 601.9 669.5 601.9 668.4 601.9 667.3 601.9 666.2 601.9 665.2 601.9 664.1 601.9 663 601.9 661.9 601.9 660.9 601.9 659.8 601.9 658.7 601.9 657.6 601.9 656.5 601.9 655.5 601.9 654.4 601.9 653.3 601.9 652.2 601.9 651.2 601.9 650.1 601.9 649 601.9 647.9 601.9 646.9 601.9 645.8 601.8 644.7 601.8 643.6 601.8 642.6 601.8 641.5 601.8 640.4 601.8 639.3 601.8 638.2 601.8 637.2 601.8 636.1 601.8 635 601.8 633.9 601.8 632.9 601.8 631.8 601.8 630.7 601.8 629.6 601.8 628.6 601.8 627.5 601.8 626.4 601.8 625.3 601.8 624.3 601.8 623.2 601.8 622.1 601.8 621 601.8 619.9 601.8 618.9 601.8 617.8 601.8 616.7 601.8 615.6 601.8 614.6 601.8 613.5 601.8 612.4 601.8 611.3 601.8 610.3 601.8 609.2 601.8 608.1 601.8 607 601.8 606 601.8 604.9 601.8 603.8 601.8 602.7 601.8 601.6 601.8 600.6 601.8 599.5 601.8 598.4 601.8 597.3 601.8 596.3 601.8 595.2 601.8 594.1 601.8 593 601.8 592 601.8 590.9 601.8 589.8 601.8 588.7 601.8 587.7 601.8 586.6 601.8 585.5 601.8 584.4 601.7 583.3 601.7 582.3 601.7 581.2 601.7 580.1 601.7 579 601.7 578 601.7 576.9 601.7 575.8 601.7 574.7 601.7 573.7 601.7 572.6 601.7 571.5 601.7 570.4 601.7 569.4 601.7 568.3 601.7 567.2 601.7 566.1 601.7 565 601.7 564 601.7 562.9 601.7 561.8 601.7 560.7 601.7 559.7 601.7 558.6 601.7 557.5 601.7 556.4 601.7 555.4 601.7 554.3 601.7 553.2 601.7 552.1 601.7 551.1 601.7 550 601.7 548.9 601.7 547.8 601.7 546.7 601.7 545.7 601.7 544.6 601.7 543.5 601.7 542.4 601.7 541.4 601.7 540.3 601.7 539.2 601.7 538.1 601.7 537.1 601.7 536 601.7 534.9 601.7 533.8 601.7 532.8 601.7 531.7 601.7 530.6 601.7 529.5 601.7 528.4 601.7 527.4 601.7 526.3 601.7 525.2 601.7 524.1 601.6 523.1 601.6 522 601.6 520.9 601.6 519.8 601.6 518.8 601.6 517.7 601.6 516.6 601.6 515.5 601.6 514.5 601.6 513.4 601.6 512.3 601.6 511.2 601.6 510.1 601.6 509.1 601.6 508 601.6 506.9 601.6 505.8 601.6 504.8 601.6 503.7 601.6 502.6 601.6 501.5 601.6 500.5 601.6 499.4 601.6 498.3 601.6 497.2 601.6 496.2 601.6 495.1 601.6 494 601.6 Z" fill="url(#gx5)"/>
<path d="M494 601.6 495.1 601.6 496.2 601.6 497.2 601.6 498.3 601.6 499.4 601.6 500.5 601.6 501.5 601.6 502.6 601.6 503.7 601.6 504.8 601.6 505.8 601.6 506.9 601.6 508 601.6 509.1 601.6 510.1 601.6 511.2 601.6 512.3 601.6 513.4 601.6 514.5 601.6 515.5 601.6 516.6 601.6 517.7 601.6 518.8 601.6 519.8 601.6 520.9 601.6 522 601.6 523.1 601.6 524.1 601.6 525.2 601.6 526.3 601.6 527.4 601.6 528.4 601.6 529.5 601.6 530.6 601.6 531.7 601.6 532.8 601.6 533.8 601.6 534.9 601.6 536 601.6 537.1 601.6 538.1 601.6 539.2 601.6 540.3 601.6 541.4 601.6 542.4 601.6 543.5 601.6 544.6 601.6 545.7 601.6 546.7 601.6 547.8 601.6 548.9 601.6 550 601.6 551.1 601.6 552.1 601.6 553.2 601.6 554.3 601.6 555.4 601.6 556.4 601.6 557.5 601.6 558.6 601.6 559.7 601.6 560.7 601.6 561.8 601.6 562.9 601.6 564 601.6 565 601.6 566.1 601.6 567.2 601.5 568.3 601.5 569.4 601.5 570.4 601.5 571.5 601.5 572.6 601.5 573.7 601.4 574.7 601.4 575.8 601.3 576.9 601.2 578 601.1 579 600.8 580.1 600.4 581.2 599.7 582.3 598.7 583.3 597.2 584.4 595.1 585.5 592.2 586.6 588.6 587.7 584.3 588.7 579.5 589.8 574.5 590.9 569.8 592 566 593 563.5 594.1 562.8 595.2 563.9 596.3 566.7 597.3 570.8 598.4 575.6 599.5 580.5 600.6 585.3 601.6 589.5 602.7 592.9 603.8 595.6 604.9 597.6 606 599 607 600 608.1 600.6 609.2 600.9 610.3 601.2 611.3 601.3 612.4 601.4 613.5 601.5 614.6 601.5 615.6 601.5 616.7 601.6 617.8 601.6 618.9 601.6 619.9 601.6 621 601.6 622.1 601.6 623.2 601.7 624.3 601.7 625.3 601.7 626.4 601.7 627.5 601.7 628.6 601.7 629.6 601.7 630.7 601.7 631.8 601.7 632.9 601.7 633.9 601.7 635 601.8 636.1 601.8 637.2 601.8 638.2 601.8 639.3 601.8 640.4 601.8 641.5 601.8 642.6 601.8 643.6 601.8 644.7 601.8 645.8 601.8 646.9 601.8 647.9 601.8 649 601.8 650.1 601.8 651.2 601.8 652.2 601.8 653.3 601.8 654.4 601.8 655.5 601.8 656.5 601.8 657.6 601.8 658.7 601.8 659.8 601.8 660.9 601.8 661.9 601.8 663 601.8 664.1 601.9 665.2 601.9 666.2 601.9 667.3 601.9 668.4 601.9 669.5 601.9 670.5 601.9 671.6 601.9 672.7 601.9 673.8 601.9 674.8 601.9 675.9 601.9 677 601.9 677 601.9 675.9 601.9 674.8 601.9 673.8 601.9 672.7 601.9 671.6 601.9 670.5 601.9 669.5 601.9 668.4 601.9 667.3 601.9 666.2 601.9 665.2 601.9 664.1 601.9 663 601.9 661.9 601.9 660.9 601.9 659.8 601.9 658.7 601.9 657.6 601.9 656.5 601.9 655.5 601.9 654.4 601.9 653.3 601.9 652.2 601.9 651.2 601.9 650.1 601.9 649 601.9 647.9 601.9 646.9 601.9 645.8 601.8 644.7 601.8 643.6 601.8 642.6 601.8 641.5 601.8 640.4 601.8 639.3 601.8 638.2 601.8 637.2 601.8 636.1 601.8 635 601.8 633.9 601.8 632.9 601.8 631.8 601.8 630.7 601.8 629.6 601.8 628.6 601.8 627.5 601.8 626.4 601.8 625.3 601.8 624.3 601.8 623.2 601.8 622.1 601.8 621 601.8 619.9 601.8 618.9 601.8 617.8 601.8 616.7 601.8 615.6 601.8 614.6 601.8 613.5 601.8 612.4 601.8 611.3 601.8 610.3 601.8 609.2 601.8 608.1 601.8 607 601.8 606 601.8 604.9 601.8 603.8 601.8 602.7 601.8 601.6 601.8 600.6 601.8 599.5 601.8 598.4 601.8 597.3 601.8 596.3 601.8 595.2 601.8 594.1 601.8 593 601.8 592 601.8 590.9 601.8 589.8 601.8 588.7 601.8 587.7 601.8 586.6 601.8 585.5 601.8 584.4 601.7 583.3 601.7 582.3 601.7 581.2 601.7 580.1 601.7 579 601.7 578 601.7 576.9 601.7 575.8 601.7 574.7 601.7 573.7 601.7 572.6 601.7 571.5 601.7 570.4 601.7 569.4 601.7 568.3 601.7 567.2 601.7 566.1 601.7 565 601.7 564 601.7 562.9 601.7 561.8 601.7 560.7 601.7 559.7 601.7 558.6 601.7 557.5 601.7 556.4 601.7 555.4 601.7 554.3 601.7 553.2 601.7 552.1 601.7 551.1 601.7 550 601.7 548.9 601.7 547.8 601.7 546.7 601.7 545.7 601.7 544.6 601.7 543.5 601.7 542.4 601.7 541.4 601.7 540.3 601.7 539.2 601.7 538.1 601.7 537.1 601.7 536 601.7 534.9 601.7 533.8 601.7 532.8 601.7 531.7 601.7 530.6 601.7 529.5 601.7 528.4 601.7 527.4 601.7 526.3 601.7 525.2 601.7 524.1 601.6 523.1 601.6 522 601.6 520.9 601.6 519.8 601.6 518.8 601.6 517.7 601.6 516.6 601.6 515.5 601.6 514.5 601.6 513.4 601.6 512.3 601.6 511.2 601.6 510.1 601.6 509.1 601.6 508 601.6 506.9 601.6 505.8 601.6 504.8 601.6 503.7 601.6 502.6 601.6 501.5 601.6 500.5 601.6 499.4 601.6 498.3 601.6 497.2 601.6 496.2 601.6 495.1 601.6 494 601.6 Z" fill="url(#gx6)"/>
<line x1="494" y1="601.6" x2="677" y2="601.9" stroke="#5cc65c" stroke-width="0.7"/>
<path d="M494 601.5 495.1 601.5 496.2 601.5 497.2 601.5 498.3 601.5 499.4 601.5 500.5 601.5 501.5 601.5 502.6 601.5 503.7 601.5 504.8 601.5 505.8 601.5 506.9 601.5 508 601.5 509.1 601.5 510.1 601.5 511.2 601.5 512.3 601.5 513.4 601.5 514.5 601.5 515.5 601.5 516.6 601.5 517.7 601.5 518.8 601.5 519.8 601.5 520.9 601.5 522 601.5 523.1 601.5 524.1 601.5 525.2 601.5 526.3 601.5 527.4 601.5 528.4 601.5 529.5 601.5 530.6 601.5 531.7 601.5 532.8 601.4 533.8 601.4 534.9 601.4 536 601.4 537.1 601.3 538.1 601.3 539.2 601.3 540.3 601.2 541.4 601.1 542.4 601.1 543.5 600.9 544.6 600.8 545.7 600.7 546.7 600.5 547.8 600.2 548.9 599.9 550 599.6 551.1 599.2 552.1 598.7 553.2 598.2 554.3 597.6 555.4 596.9 556.4 596.2 557.5 595.3 558.6 594.4 559.7 593.3 560.7 592.3 561.8 591.1 562.9 589.9 564 588.7 565 587.4 566.1 586.2 567.2 584.9 568.3 583.7 569.4 582.6 570.4 581.6 571.5 580.7 572.6 579.9 573.7 579.4 574.7 579 575.8 578.8 576.9 578.8 578 579 579 579.4 580.1 580 581.2 580.7 582.3 581.6 583.3 582.6 584.4 583.8 585.5 584.9 586.6 586.2 587.7 587.4 588.7 588.7 589.8 590 590.9 591.2 592 592.3 593 593.4 594.1 594.4 595.2 595.4 596.3 596.2 597.3 597 598.4 597.7 599.5 598.3 600.6 598.8 601.6 599.3 602.7 599.7 603.8 600 604.9 600.3 606 600.6 607 600.8 608.1 600.9 609.2 601.1 610.3 601.2 611.3 601.3 612.4 601.3 613.5 601.4 614.6 601.4 615.6 601.5 616.7 601.5 617.8 601.5 618.9 601.6 619.9 601.6 621 601.6 622.1 601.6 623.2 601.6 624.3 601.6 625.3 601.6 626.4 601.7 627.5 601.7 628.6 601.7 629.6 601.7 630.7 601.7 631.8 601.7 632.9 601.7 633.9 601.7 635 601.7 636.1 601.7 637.2 601.7 638.2 601.7 639.3 601.7 640.4 601.7 641.5 601.7 642.6 601.7 643.6 601.8 644.7 601.8 645.8 601.8 646.9 601.8 647.9 601.8 649 601.8 650.1 601.8 651.2 601.8 652.2 601.8 653.3 601.8 654.4 601.8 655.5 601.8 656.5 601.8 657.6 601.8 658.7 601.8 659.8 601.8 660.9 601.8 661.9 601.8 663 601.8 664.1 601.8 665.2 601.8 666.2 601.8 667.3 601.8 668.4 601.8 669.5 601.8 670.5 601.8 671.6 601.8 672.7 601.8 673.8 601.8 674.8 601.9 675.9 601.9 677 601.9" stroke="#5cc65c" stroke-width="0.6" fill="none"/>
<path d="M494 601.6 495.1 601.6 496.2 601.6 497.2 601.6 498.3 601.6 499.4 601.6 500.5 601.6 501.5 601.6 502.6 601.6 503.7 601.6 504.8 601.6 505.8 601.6 506.9 601.6 508 601.6 509.1 601.6 510.1 601.6 511.2 601.6 512.3 601.6 513.4 601.6 514.5 601.6 515.5 601.6 516.6 601.6 517.7 601.6 518.8 601.6 519.8 601.6 520.9 601.6 522 601.6 523.1 601.6 524.1 601.6 525.2 601.6 526.3 601.6 527.4 601.6 528.4 601.6 529.5 601.6 530.6 601.6 531.7 601.6 532.8 601.6 533.8 601.6 534.9 601.6 536 601.6 537.1 601.6 538.1 601.6 539.2 601.6 540.3 601.6 541.4 601.6 542.4 601.6 543.5 601.6 544.6 601.6 545.7 601.6 546.7 601.6 547.8 601.6 548.9 601.6 550 601.6 551.1 601.6 552.1 601.6 553.2 601.6 554.3 601.6 555.4 601.6 556.4 601.6 557.5 601.6 558.6 601.6 559.7 601.6 560.7 601.6 561.8 601.6 562.9 601.6 564 601.6 565 601.6 566.1 601.6 567.2 601.5 568.3 601.5 569.4 601.5 570.4 601.5 571.5 601.5 572.6 601.5 573.7 601.4 574.7 601.4 575.8 601.3 576.9 601.2 578 601.1 579 600.8 580.1 600.4 581.2 599.7 582.3 598.7 583.3 597.2 584.4 595.1 585.5 592.2 586.6 588.6 587.7 584.3 588.7 579.5 589.8 574.5 590.9 569.8 592 566 593 563.5 594.1 562.8 595.2 563.9 596.3 566.7 597.3 570.8 598.4 575.6 599.5 580.5 600.6 585.3 601.6 589.5 602.7 592.9 603.8 595.6 604.9 597.6 606 599 607 600 608.1 600.6 609.2 600.9 610.3 601.2 611.3 601.3 612.4 601.4 613.5 601.5 614.6 601.5 615.6 601.5 616.7 601.6 617.8 601.6 618.9 601.6 619.9 601.6 621 601.6 622.1 601.6 623.2 601.7 624.3 601.7 625.3 601.7 626.4 601.7 627.5 601.7 628.6 601.7 629.6 601.7 630.7 601.7 631.8 601.7 632.9 601.7 633.9 601.7 635 601.8 636.1 601.8 637.2 601.8 638.2 601.8 639.3 601.8 640.4 601.8 641.5 601.8 642.6 601.8 643.6 601.8 644.7 601.8 645.8 601.8 646.9 601.8 647.9 601.8 649 601.8 650.1 601.8 651.2 601.8 652.2 601.8 653.3 601.8 654.4 601.8 655.5 601.8 656.5 601.8 657.6 601.8 658.7 601.8 659.8 601.8 660.9 601.8 661.9 601.8 663 601.8 664.1 601.9 665.2 601.9 666.2 601.9 667.3 601.9 668.4 601.9 669.5 601.9 670.5 601.9 671.6 601.9 672.7 601.9 673.8 601.9 674.8 601.9 675.9 601.9 677 601.9" stroke="#5cc65c" stroke-width="0.6" fill="none"/>
<path d="M494.0 602.8 494.7 596.9 495.3 599.5 496.0 601.7 496.7 605.4 497.4 601.5 498.0 597.2 498.7 602.3 499.4 598.4 500.1 604.7 500.7 600.9 501.4 606.2 502.1 601.2 502.7 598.9 503.4 597.7 504.1 600.6 504.8 602.7 505.4 604.6 506.1 602.2 506.8 599.6 507.5 602.8 508.1 597.8 508.8 602.8 509.5 599.6 510.1 605.4 510.8 604.1 511.5 602.5 512.2 598.9 512.8 602.9 513.5 602.5 514.2 600.1 514.9 599.9 515.5 604.8 516.2 600.5 516.9 602.7 517.5 605.1 518.2 597.6 518.9 606.1 519.6 604.1 520.2 599.8 520.9 599.0 521.6 598.3 522.3 603.9 522.9 594.8 523.6 603.9 524.3 601.9 524.9 599.7 525.6 600.1 526.3 600.5 527.0 600.9 527.6 603.8 528.3 599.3 529.0 604.3 529.7 604.0 530.3 600.8 531.0 603.0 531.7 600.0 532.3 601.6 533.0 602.7 533.7 606.4 534.4 601.2 535.0 601.0 535.7 601.4 536.4 600.9 537.1 598.5 537.7 606.2 538.4 599.6 539.1 599.7 539.8 599.3 540.4 603.0 541.1 608.8 541.8 609.0 542.4 603.6 543.1 601.8 543.8 600.8 544.5 598.2 545.1 602.6 545.8 600.3 546.5 605.9 547.2 599.6 547.8 597.5 548.5 595.2 549.2 595.2 549.8 601.2 550.5 600.2 551.2 596.1 551.9 594.8 552.5 599.2 553.2 597.2 553.9 598.4 554.6 597.3 555.2 594.9 555.9 591.9 556.6 596.3 557.2 595.7 557.9 595.3 558.6 596.7 559.3 596.1 559.9 591.7 560.6 593.8 561.3 585.9 562.0 592.6 562.6 590.0 563.3 592.0 564.0 591.1 564.6 585.3 565.3 586.6 566.0 587.3 566.7 584.8 567.3 584.7 568.0 583.2 568.7 583.7 569.4 582.7 570.0 580.9 570.7 579.7 571.4 578.3 572.0 580.9 572.7 579.1 573.4 578.5 574.1 578.3 574.7 577.7 575.4 579.1 576.1 578.9 576.8 576.0 577.4 578.2 578.1 578.4 578.8 578.1 579.4 578.6 580.1 580.3 580.8 579.0 581.5 579.9 582.1 579.7 582.8 576.9 583.5 579.8 584.2 577.6 584.8 576.3 585.5 576.3 586.2 576.3 586.8 571.5 587.5 569.7 588.2 568.6 588.9 564.1 589.5 562.5 590.2 561.4 590.9 560.0 591.6 558.0 592.2 556.9 592.9 556.3 593.6 554.6 594.2 555.2 594.9 556.5 595.6 558.4 596.3 562.3 596.9 565.0 597.6 565.2 598.3 571.3 599.0 571.5 599.6 574.8 600.3 584.5 601.0 587.7 601.6 590.1 602.3 591.3 603.0 596.5 603.7 590.5 604.3 597.3 605.0 594.6 605.7 595.8 606.4 593.9 607.0 603.0 607.7 604.2 608.4 602.2 609.0 598.6 609.7 600.9 610.4 597.8 611.1 600.0 611.7 604.9 612.4 605.2 613.1 602.8 613.8 603.2 614.4 600.8 615.1 602.2 615.8 600.8 616.4 602.6 617.1 599.6 617.8 604.0 618.5 600.8 619.1 601.9 619.8 601.1 620.5 605.5 621.2 603.9 621.8 599.4 622.5 599.0 623.2 603.0 623.8 601.8 624.5 600.9 625.2 602.1 625.9 605.9 626.5 601.3 627.2 605.4 627.9 600.3 628.6 601.0 629.2 602.4 629.9 601.4 630.6 600.3 631.2 598.8 631.9 600.8 632.6 600.6 633.3 601.7 633.9 604.4 634.6 603.0 635.3 604.8 636.0 602.2 636.6 602.9 637.3 603.4 638.0 603.6 638.7 604.4 639.3 600.3 640.0 602.9 640.7 602.3 641.3 605.0 642.0 604.0 642.7 600.2 643.4 602.9 644.0 603.6 644.7 601.9 645.4 605.1 646.1 602.5 646.7 598.4 647.4 602.6 648.1 603.9 648.7 599.7 649.4 603.6 650.1 594.5 650.8 607.1 651.4 598.1 652.1 600.5 652.8 601.0 653.5 598.1 654.1 602.6 654.8 599.4 655.5 598.3 656.1 595.7 656.8 603.6 657.5 604.9 658.2 601.1 658.8 602.4 659.5 606.0 660.2 602.9 660.9 604.9 661.5 604.5 662.2 603.8 662.9 603.3 663.5 605.0 664.2 602.5 664.9 602.2 665.6 600.0 666.2 596.4 666.9 599.5 667.6 601.0 668.3 604.6 668.9 601.0 669.6 596.7 670.3 603.7 670.9 605.2 671.6 602.7 672.3 602.7 673.0 602.7 673.6 601.7 674.3 605.6 675.0 599.7 675.7 599.9 676.3 598.1 677.0 600.6" fill="none" stroke="none" marker-start="url(#mk5)" marker-mid="url(#mk5)" marker-end="url(#mk5)"/>
<path d="M494 601.5 495.1 601.5 496.2 601.5 497.2 601.5 498.3 601.5 499.4 601.5 500.5 601.5 501.5 601.5 502.6 601.5 503.7 601.5 504.8 601.5 505.8 601.5 506.9 601.5 508 601.5 509.1 601.5 510.1 601.5 511.2 601.5 512.3 601.5 513.4 601.5 514.5 601.5 515.5 601.5 516.6 601.5 517.7 601.5 518.8 601.5 519.8 601.5 520.9 601.5 522 601.5 523.1 601.5 524.1 601.5 525.2 601.5 526.3 601.5 527.4 601.5 528.4 601.4 529.5 601.4 530.6 601.4 531.7 601.4 532.8 601.4 533.8 601.4 534.9 601.4 536 601.3 537.1 601.3 538.1 601.3 539.2 601.2 540.3 601.2 541.4 601.1 542.4 601 543.5 600.9 544.6 600.8 545.7 600.6 546.7 600.4 547.8 600.2 548.9 599.9 550 599.5 551.1 599.1 552.1 598.7 553.2 598.1 554.3 597.5 555.4 596.8 556.4 596.1 557.5 595.2 558.6 594.3 559.7 593.2 560.7 592.1 561.8 591 562.9 589.8 564 588.5 565 587.3 566.1 586 567.2 584.7 568.3 583.5 569.4 582.4 570.4 581.4 571.5 580.4 572.6 579.7 573.7 579.1 574.7 578.6 575.8 578.3 576.9 578.2 578 578.3 579 578.4 580.1 578.6 581.2 578.7 582.3 578.6 583.3 578.1 584.4 577.1 585.5 575.4 586.6 573 587.7 570 588.7 566.4 589.8 562.7 590.9 559.2 592 556.5 593 555.1 594.1 555.4 595.2 557.5 596.3 561.2 597.3 566 598.4 571.5 599.5 577.1 600.6 582.3 601.6 587 602.7 590.8 603.8 593.9 604.9 596.2 606 597.8 607 598.9 608.1 599.7 609.2 600.2 610.3 600.5 611.3 600.8 612.4 600.9 613.5 601 614.6 601.1 615.6 601.2 616.7 601.3 617.8 601.3 618.9 601.4 619.9 601.4 621 601.4 622.1 601.4 623.2 601.5 624.3 601.5 625.3 601.5 626.4 601.5 627.5 601.5 628.6 601.6 629.6 601.6 630.7 601.6 631.8 601.6 632.9 601.6 633.9 601.6 635 601.6 636.1 601.6 637.2 601.7 638.2 601.7 639.3 601.7 640.4 601.7 641.5 601.7 642.6 601.7 643.6 601.7 644.7 601.7 645.8 601.7 646.9 601.7 647.9 601.7 649 601.7 650.1 601.7 651.2 601.7 652.2 601.7 653.3 601.8 654.4 601.8 655.5 601.8 656.5 601.8 657.6 601.8 658.7 601.8 659.8 601.8 660.9 601.8 661.9 601.8 663 601.8 664.1 601.8 665.2 601.8 666.2 601.8 667.3 601.8 668.4 601.8 669.5 601.8 670.5 601.8 671.6 601.8 672.7 601.8 673.8 601.8 674.8 601.8 675.9 601.8 677 601.8" stroke="#5cc65c" stroke-width="1.1" fill="none"/>
<line x1="498" y1="474.1" x2="518.4" y2="474.1" stroke="#2f7b4c" stroke-width="1.2"/>
<text x="522.5" y="477.14" font-size="8.2">Pristine</text>
<line x1="498" y1="483.8" x2="518.4" y2="483.8" stroke="#5cc65c" stroke-width="1.2"/>
<text x="522.5" y="486.84" font-size="8.2">Target</text>
<text x="673.7" y="476.94" font-size="8.2" text-anchor="end">O 1<tspan font-style="italic">s</tspan></text>
<text x="538.8" y="515.84" font-size="8.2">49%</text>
<text x="610.8" y="502.24" font-size="8.2">51%</text>
<text x="534.2" y="582.94" font-size="8.2">61%</text>
<text x="610.2" y="581.04" font-size="8.2">39%</text>
<rect x="16.8" y="656" width="183" height="147.2" fill="none" stroke="#111" stroke-width="1.1"/>
<line x1="28.24" y1="803.2" x2="28.24" y2="801.6" stroke="#111" stroke-width="1"/>
<line x1="39.67" y1="803.2" x2="39.67" y2="801.6" stroke="#111" stroke-width="1"/>
<line x1="51.11" y1="803.2" x2="51.11" y2="801.6" stroke="#111" stroke-width="1"/>
<line x1="62.55" y1="803.2" x2="62.55" y2="800.6" stroke="#111" stroke-width="1"/>
<line x1="73.99" y1="803.2" x2="73.99" y2="801.6" stroke="#111" stroke-width="1"/>
<line x1="85.42" y1="803.2" x2="85.42" y2="801.6" stroke="#111" stroke-width="1"/>
<line x1="96.86" y1="803.2" x2="96.86" y2="801.6" stroke="#111" stroke-width="1"/>
<line x1="108.3" y1="803.2" x2="108.3" y2="800.6" stroke="#111" stroke-width="1"/>
<line x1="119.74" y1="803.2" x2="119.74" y2="801.6" stroke="#111" stroke-width="1"/>
<line x1="131.18" y1="803.2" x2="131.18" y2="801.6" stroke="#111" stroke-width="1"/>
<line x1="142.61" y1="803.2" x2="142.61" y2="801.6" stroke="#111" stroke-width="1"/>
<line x1="154.05" y1="803.2" x2="154.05" y2="800.6" stroke="#111" stroke-width="1"/>
<line x1="165.49" y1="803.2" x2="165.49" y2="801.6" stroke="#111" stroke-width="1"/>
<line x1="176.93" y1="803.2" x2="176.93" y2="801.6" stroke="#111" stroke-width="1"/>
<line x1="188.36" y1="803.2" x2="188.36" y2="801.6" stroke="#111" stroke-width="1"/>
<text x="16.8" y="816.33" font-size="9.3" text-anchor="middle">404</text>
<text x="62.55" y="816.33" font-size="9.3" text-anchor="middle">402</text>
<text x="108.3" y="816.33" font-size="9.3" text-anchor="middle">400</text>
<text x="154.05" y="816.33" font-size="9.3" text-anchor="middle">398</text>
<text x="199.8" y="816.33" font-size="9.3" text-anchor="middle">396</text>
<text x="108.3" y="830.87" font-size="9.7" text-anchor="middle">Binding energy (eV)</text>
<text x="6.4" y="730.27" font-size="9.7" text-anchor="middle" transform="rotate(-90 6.4 726.8)">Intensity (a.u.)</text>
<path d="M16.8 715.9 18 715.9 19.2 715.9 20.5 715.9 21.7 715.9 22.9 715.9 24.1 715.9 25.3 715.9 26.6 715.9 27.8 715.9 29 715.9 30.2 716 31.4 716 32.7 716 33.9 716 35.1 715.9 36.3 715.9 37.5 715.9 38.8 715.9 40 715.9 41.2 715.8 42.4 715.8 43.6 715.7 44.9 715.6 46.1 715.6 47.3 715.4 48.5 715.3 49.7 715.2 51 715 52.2 714.8 53.4 714.6 54.6 714.4 55.8 714.1 57.1 713.9 58.3 713.6 59.5 713.3 60.7 713 61.9 712.8 63.2 712.5 64.4 712.2 65.6 712 66.8 711.7 68 711.6 69.3 711.4 70.5 711.3 71.7 711.2 72.9 711.2 74.1 711.3 75.4 711.4 76.6 711.5 77.8 711.7 79 711.9 80.2 712.1 81.5 712.4 82.7 712.7 83.9 713 85.1 713.3 86.3 713.6 87.6 713.9 88.8 714.2 90 714.5 91.2 714.8 92.4 715 93.7 715.2 94.9 715.4 96.1 715.6 97.3 715.8 98.5 715.9 99.8 716.1 101 716.2 102.2 716.3 103.4 716.4 104.6 716.4 105.9 716.5 107.1 716.5 108.3 716.6 109.5 716.6 110.7 716.7 112 716.7 113.2 716.7 114.4 716.7 115.6 716.7 116.8 716.8 118.1 716.8 119.3 716.8 120.5 716.8 121.7 716.8 122.9 716.8 124.2 716.9 125.4 716.9 126.6 716.9 127.8 716.9 129 716.9 130.3 716.9 131.5 716.9 132.7 716.9 133.9 717 135.1 717 136.4 717 137.6 717 138.8 717 140 717 141.2 717 142.5 717 143.7 717.1 144.9 717.1 146.1 717.1 147.3 717.1 148.6 717.1 149.8 717.1 151 717.1 152.2 717.1 153.4 717.2 154.7 717.2 155.9 717.2 157.1 717.2 158.3 717.2 159.5 717.2 160.8 717.2 162 717.2 163.2 717.2 164.4 717.3 165.6 717.3 166.9 717.3 168.1 717.3 169.3 717.3 170.5 717.3 171.7 717.3 173 717.3 174.2 717.4 175.4 717.4 176.6 717.4 177.8 717.4 179.1 717.4 180.3 717.4 181.5 717.4 182.7 717.4 183.9 717.4 185.2 717.5 186.4 717.5 187.6 717.5 188.8 717.5 190 717.5 191.3 717.5 192.5 717.5 193.7 717.5 194.9 717.5 196.1 717.6 197.4 717.6 198.6 717.6 199.8 717.6 199.8 717.6 198.6 717.6 197.4 717.6 196.1 717.6 194.9 717.6 193.7 717.5 192.5 717.5 191.3 717.5 190 717.5 188.8 717.5 187.6 717.5 186.4 717.5 185.2 717.5 183.9 717.5 182.7 717.4 181.5 717.4 180.3 717.4 179.1 717.4 177.8 717.4 176.6 717.4 175.4 717.4 174.2 717.4 173 717.4 171.7 717.3 170.5 717.3 169.3 717.3 168.1 717.3 166.9 717.3 165.6 717.3 164.4 717.3 163.2 717.3 162 717.2 160.8 717.2 159.5 717.2 158.3 717.2 157.1 717.2 155.9 717.2 154.7 717.2 153.4 717.2 152.2 717.2 151 717.1 149.8 717.1 148.6 717.1 147.3 717.1 146.1 717.1 144.9 717.1 143.7 717.1 142.5 717.1 141.2 717.1 140 717 138.8 717 137.6 717 136.4 717 135.1 717 133.9 717 132.7 717 131.5 717 130.3 717 129 716.9 127.8 716.9 126.6 716.9 125.4 716.9 124.2 716.9 122.9 716.9 121.7 716.9 120.5 716.9 119.3 716.9 118.1 716.8 116.8 716.8 115.6 716.8 114.4 716.8 113.2 716.8 112 716.8 110.7 716.8 109.5 716.8 108.3 716.8 107.1 716.7 105.9 716.7 104.6 716.7 103.4 716.7 102.2 716.7 101 716.7 99.8 716.7 98.5 716.7 97.3 716.6 96.1 716.6 94.9 716.6 93.7 716.6 92.4 716.6 91.2 716.6 90 716.6 88.8 716.6 87.6 716.6 86.3 716.5 85.1 716.5 83.9 716.5 82.7 716.5 81.5 716.5 80.2 716.5 79 716.5 77.8 716.5 76.6 716.5 75.4 716.4 74.1 716.4 72.9 716.4 71.7 716.4 70.5 716.4 69.3 716.4 68 716.4 66.8 716.4 65.6 716.4 64.4 716.3 63.2 716.3 61.9 716.3 60.7 716.3 59.5 716.3 58.3 716.3 57.1 716.3 55.8 716.3 54.6 716.3 53.4 716.2 52.2 716.2 51 716.2 49.7 716.2 48.5 716.2 47.3 716.2 46.1 716.2 44.9 716.2 43.6 716.1 42.4 716.1 41.2 716.1 40 716.1 38.8 716.1 37.5 716.1 36.3 716.1 35.1 716.1 33.9 716.1 32.7 716 31.4 716 30.2 716 29 716 27.8 716 26.6 716 25.3 716 24.1 716 22.9 716 21.7 715.9 20.5 715.9 19.2 715.9 18 715.9 16.8 715.9 Z" fill="url(#gx7)"/>
<path d="M16.8 715.8 18 715.8 19.2 715.8 20.5 715.8 21.7 715.8 22.9 715.9 24.1 715.9 25.3 715.9 26.6 715.9 27.8 715.9 29 715.9 30.2 715.9 31.4 715.9 32.7 715.9 33.9 715.9 35.1 715.9 36.3 715.9 37.5 715.9 38.8 715.9 40 716 41.2 716 42.4 716 43.6 716 44.9 716 46.1 716 47.3 716 48.5 716 49.7 716 51 716 52.2 716 53.4 716 54.6 716 55.8 716 57.1 716 58.3 716 59.5 716 60.7 716 61.9 716 63.2 716 64.4 715.9 65.6 715.9 66.8 715.9 68 715.9 69.3 715.8 70.5 715.7 71.7 715.7 72.9 715.5 74.1 715.4 75.4 715.2 76.6 714.9 77.8 714.6 79 714.2 80.2 713.7 81.5 713 82.7 712.2 83.9 711.3 85.1 710.1 86.3 708.8 87.6 707.2 88.8 705.4 90 703.4 91.2 701.2 92.4 698.8 93.7 696.2 94.9 693.4 96.1 690.6 97.3 687.7 98.5 684.8 99.8 682.1 101 679.6 102.2 677.3 103.4 675.3 104.6 673.8 105.9 672.8 107.1 672.3 108.3 672.3 109.5 672.9 110.7 674 112 675.6 113.2 677.6 114.4 680 115.6 682.6 116.8 685.4 118.1 688.2 119.3 691.1 120.5 694 121.7 696.8 122.9 699.4 124.2 701.8 125.4 704 126.6 706 127.8 707.8 129 709.4 130.3 710.7 131.5 711.8 132.7 712.8 133.9 713.6 135.1 714.2 136.4 714.8 137.6 715.2 138.8 715.5 140 715.8 141.2 716 142.5 716.2 143.7 716.3 144.9 716.4 146.1 716.5 147.3 716.6 148.6 716.7 149.8 716.7 151 716.8 152.2 716.8 153.4 716.8 154.7 716.9 155.9 716.9 157.1 716.9 158.3 716.9 159.5 717 160.8 717 162 717 163.2 717 164.4 717 165.6 717.1 166.9 717.1 168.1 717.1 169.3 717.1 170.5 717.1 171.7 717.2 173 717.2 174.2 717.2 175.4 717.2 176.6 717.2 177.8 717.2 179.1 717.3 180.3 717.3 181.5 717.3 182.7 717.3 183.9 717.3 185.2 717.3 186.4 717.4 187.6 717.4 188.8 717.4 190 717.4 191.3 717.4 192.5 717.4 193.7 717.4 194.9 717.5 196.1 717.5 197.4 717.5 198.6 717.5 199.8 717.5 199.8 717.6 198.6 717.6 197.4 717.6 196.1 717.6 194.9 717.6 193.7 717.5 192.5 717.5 191.3 717.5 190 717.5 188.8 717.5 187.6 717.5 186.4 717.5 185.2 717.5 183.9 717.5 182.7 717.4 181.5 717.4 180.3 717.4 179.1 717.4 177.8 717.4 176.6 717.4 175.4 717.4 174.2 717.4 173 717.4 171.7 717.3 170.5 717.3 169.3 717.3 168.1 717.3 166.9 717.3 165.6 717.3 164.4 717.3 163.2 717.3 162 717.2 160.8 717.2 159.5 717.2 158.3 717.2 157.1 717.2 155.9 717.2 154.7 717.2 153.4 717.2 152.2 717.2 151 717.1 149.8 717.1 148.6 717.1 147.3 717.1 146.1 717.1 144.9 717.1 143.7 717.1 142.5 717.1 141.2 717.1 140 717 138.8 717 137.6 717 136.4 717 135.1 717 133.9 717 132.7 717 131.5 717 130.3 717 129 716.9 127.8 716.9 126.6 716.9 125.4 716.9 124.2 716.9 122.9 716.9 121.7 716.9 120.5 716.9 119.3 716.9 118.1 716.8 116.8 716.8 115.6 716.8 114.4 716.8 113.2 716.8 112 716.8 110.7 716.8 109.5 716.8 108.3 716.8 107.1 716.7 105.9 716.7 104.6 716.7 103.4 716.7 102.2 716.7 101 716.7 99.8 716.7 98.5 716.7 97.3 716.6 96.1 716.6 94.9 716.6 93.7 716.6 92.4 716.6 91.2 716.6 90 716.6 88.8 716.6 87.6 716.6 86.3 716.5 85.1 716.5 83.9 716.5 82.7 716.5 81.5 716.5 80.2 716.5 79 716.5 77.8 716.5 76.6 716.5 75.4 716.4 74.1 716.4 72.9 716.4 71.7 716.4 70.5 716.4 69.3 716.4 68 716.4 66.8 716.4 65.6 716.4 64.4 716.3 63.2 716.3 61.9 716.3 60.7 716.3 59.5 716.3 58.3 716.3 57.1 716.3 55.8 716.3 54.6 716.3 53.4 716.2 52.2 716.2 51 716.2 49.7 716.2 48.5 716.2 47.3 716.2 46.1 716.2 44.9 716.2 43.6 716.1 42.4 716.1 41.2 716.1 40 716.1 38.8 716.1 37.5 716.1 36.3 716.1 35.1 716.1 33.9 716.1 32.7 716 31.4 716 30.2 716 29 716 27.8 716 26.6 716 25.3 716 24.1 716 22.9 716 21.7 715.9 20.5 715.9 19.2 715.9 18 715.9 16.8 715.9 Z" fill="url(#gx8)"/>
<line x1="16.8" y1="715.9" x2="199.8" y2="717.6" stroke="#2f7b4c" stroke-width="0.7"/>
<path d="M16.8 715.9 18 715.9 19.2 715.9 20.5 715.9 21.7 715.9 22.9 715.9 24.1 715.9 25.3 715.9 26.6 715.9 27.8 715.9 29 715.9 30.2 716 31.4 716 32.7 716 33.9 716 35.1 715.9 36.3 715.9 37.5 715.9 38.8 715.9 40 715.9 41.2 715.8 42.4 715.8 43.6 715.7 44.9 715.6 46.1 715.6 47.3 715.4 48.5 715.3 49.7 715.2 51 715 52.2 714.8 53.4 714.6 54.6 714.4 55.8 714.1 57.1 713.9 58.3 713.6 59.5 713.3 60.7 713 61.9 712.8 63.2 712.5 64.4 712.2 65.6 712 66.8 711.7 68 711.6 69.3 711.4 70.5 711.3 71.7 711.2 72.9 711.2 74.1 711.3 75.4 711.4 76.6 711.5 77.8 711.7 79 711.9 80.2 712.1 81.5 712.4 82.7 712.7 83.9 713 85.1 713.3 86.3 713.6 87.6 713.9 88.8 714.2 90 714.5 91.2 714.8 92.4 715 93.7 715.2 94.9 715.4 96.1 715.6 97.3 715.8 98.5 715.9 99.8 716.1 101 716.2 102.2 716.3 103.4 716.4 104.6 716.4 105.9 716.5 107.1 716.5 108.3 716.6 109.5 716.6 110.7 716.7 112 716.7 113.2 716.7 114.4 716.7 115.6 716.7 116.8 716.8 118.1 716.8 119.3 716.8 120.5 716.8 121.7 716.8 122.9 716.8 124.2 716.9 125.4 716.9 126.6 716.9 127.8 716.9 129 716.9 130.3 716.9 131.5 716.9 132.7 716.9 133.9 717 135.1 717 136.4 717 137.6 717 138.8 717 140 717 141.2 717 142.5 717 143.7 717.1 144.9 717.1 146.1 717.1 147.3 717.1 148.6 717.1 149.8 717.1 151 717.1 152.2 717.1 153.4 717.2 154.7 717.2 155.9 717.2 157.1 717.2 158.3 717.2 159.5 717.2 160.8 717.2 162 717.2 163.2 717.2 164.4 717.3 165.6 717.3 166.9 717.3 168.1 717.3 169.3 717.3 170.5 717.3 171.7 717.3 173 717.3 174.2 717.4 175.4 717.4 176.6 717.4 177.8 717.4 179.1 717.4 180.3 717.4 181.5 717.4 182.7 717.4 183.9 717.4 185.2 717.5 186.4 717.5 187.6 717.5 188.8 717.5 190 717.5 191.3 717.5 192.5 717.5 193.7 717.5 194.9 717.5 196.1 717.6 197.4 717.6 198.6 717.6 199.8 717.6" stroke="#2f7b4c" stroke-width="0.6" fill="none"/>
<path d="M16.8 715.8 18 715.8 19.2 715.8 20.5 715.8 21.7 715.8 22.9 715.9 24.1 715.9 25.3 715.9 26.6 715.9 27.8 715.9 29 715.9 30.2 715.9 31.4 715.9 32.7 715.9 33.9 715.9 35.1 715.9 36.3 715.9 37.5 715.9 38.8 715.9 40 716 41.2 716 42.4 716 43.6 716 44.9 716 46.1 716 47.3 716 48.5 716 49.7 716 51 716 52.2 716 53.4 716 54.6 716 55.8 716 57.1 716 58.3 716 59.5 716 60.7 716 61.9 716 63.2 716 64.4 715.9 65.6 715.9 66.8 715.9 68 715.9 69.3 715.8 70.5 715.7 71.7 715.7 72.9 715.5 74.1 715.4 75.4 715.2 76.6 714.9 77.8 714.6 79 714.2 80.2 713.7 81.5 713 82.7 712.2 83.9 711.3 85.1 710.1 86.3 708.8 87.6 707.2 88.8 705.4 90 703.4 91.2 701.2 92.4 698.8 93.7 696.2 94.9 693.4 96.1 690.6 97.3 687.7 98.5 684.8 99.8 682.1 101 679.6 102.2 677.3 103.4 675.3 104.6 673.8 105.9 672.8 107.1 672.3 108.3 672.3 109.5 672.9 110.7 674 112 675.6 113.2 677.6 114.4 680 115.6 682.6 116.8 685.4 118.1 688.2 119.3 691.1 120.5 694 121.7 696.8 122.9 699.4 124.2 701.8 125.4 704 126.6 706 127.8 707.8 129 709.4 130.3 710.7 131.5 711.8 132.7 712.8 133.9 713.6 135.1 714.2 136.4 714.8 137.6 715.2 138.8 715.5 140 715.8 141.2 716 142.5 716.2 143.7 716.3 144.9 716.4 146.1 716.5 147.3 716.6 148.6 716.7 149.8 716.7 151 716.8 152.2 716.8 153.4 716.8 154.7 716.9 155.9 716.9 157.1 716.9 158.3 716.9 159.5 717 160.8 717 162 717 163.2 717 164.4 717 165.6 717.1 166.9 717.1 168.1 717.1 169.3 717.1 170.5 717.1 171.7 717.2 173 717.2 174.2 717.2 175.4 717.2 176.6 717.2 177.8 717.2 179.1 717.3 180.3 717.3 181.5 717.3 182.7 717.3 183.9 717.3 185.2 717.3 186.4 717.4 187.6 717.4 188.8 717.4 190 717.4 191.3 717.4 192.5 717.4 193.7 717.4 194.9 717.5 196.1 717.5 197.4 717.5 198.6 717.5 199.8 717.5" stroke="#2f7b4c" stroke-width="0.6" fill="none"/>
<path d="M16.8 715.6 17.6 716.2 18.3 715.6 19.1 715.5 19.8 715.0 20.6 715.6 21.4 716.7 22.1 716.1 22.9 716.6 23.7 716.0 24.4 716.1 25.2 716.0 25.9 714.5 26.7 716.5 27.5 716.2 28.2 716.2 29.0 714.5 29.8 714.4 30.5 715.1 31.3 715.5 32.1 716.1 32.8 715.8 33.6 716.2 34.3 715.3 35.1 716.1 35.9 716.1 36.6 715.3 37.4 717.1 38.2 716.2 38.9 716.7 39.7 715.2 40.4 715.1 41.2 715.4 42.0 715.5 42.7 716.1 43.5 715.7 44.2 715.1 45.0 714.7 45.8 715.0 46.5 716.3 47.3 714.6 48.1 715.4 48.8 715.4 49.6 713.8 50.3 714.9 51.1 715.8 51.9 713.0 52.6 714.3 53.4 714.3 54.2 713.6 54.9 714.5 55.7 713.9 56.5 712.6 57.2 714.2 58.0 713.9 58.7 714.0 59.5 714.2 60.3 713.1 61.0 712.7 61.8 711.4 62.5 712.7 63.3 711.6 64.1 711.5 64.8 710.7 65.6 710.8 66.4 710.9 67.1 712.2 67.9 709.4 68.6 709.8 69.4 711.0 70.2 711.8 70.9 711.0 71.7 709.0 72.5 708.4 73.2 710.6 74.0 709.6 74.8 709.3 75.5 710.9 76.3 710.9 77.0 710.0 77.8 710.0 78.6 710.0 79.3 710.8 80.1 709.8 80.9 709.5 81.6 709.3 82.4 707.3 83.1 709.2 83.9 708.5 84.7 707.7 85.4 705.1 86.2 705.5 86.9 705.9 87.7 703.0 88.5 703.3 89.2 703.3 90.0 700.3 90.8 701.4 91.5 699.3 92.3 697.3 93.0 696.3 93.8 695.0 94.6 693.0 95.3 692.2 96.1 689.0 96.9 687.5 97.6 687.0 98.4 684.5 99.2 682.1 99.9 681.9 100.7 680.8 101.4 677.8 102.2 675.8 103.0 675.5 103.7 674.5 104.5 673.5 105.3 674.1 106.0 671.6 106.8 673.2 107.5 671.0 108.3 671.5 109.1 673.0 109.8 673.9 110.6 674.4 111.3 675.0 112.1 675.9 112.9 677.1 113.6 678.9 114.4 679.8 115.2 681.7 115.9 683.7 116.7 685.0 117.4 687.4 118.2 689.0 119.0 692.0 119.7 692.4 120.5 693.6 121.3 695.4 122.0 697.4 122.8 699.7 123.6 700.3 124.3 702.4 125.1 704.9 125.8 702.7 126.6 705.1 127.4 707.3 128.1 708.5 128.9 709.3 129.7 709.7 130.4 711.3 131.2 711.8 131.9 711.8 132.7 714.7 133.5 713.6 134.2 713.3 135.0 714.1 135.7 714.3 136.5 714.8 137.3 712.9 138.0 714.9 138.8 716.3 139.6 714.8 140.3 715.8 141.1 716.7 141.8 716.8 142.6 717.4 143.4 714.9 144.1 716.1 144.9 716.2 145.7 717.0 146.4 717.4 147.2 714.4 148.0 717.5 148.7 715.5 149.5 717.2 150.2 715.5 151.0 716.9 151.8 717.7 152.5 716.7 153.3 717.0 154.1 717.5 154.8 717.0 155.6 716.8 156.3 718.1 157.1 717.7 157.9 716.7 158.6 719.1 159.4 716.0 160.1 717.7 160.9 716.8 161.7 717.1 162.4 717.6 163.2 717.2 164.0 717.5 164.7 715.8 165.5 715.8 166.3 717.6 167.0 716.3 167.8 716.3 168.5 715.9 169.3 718.1 170.1 717.7 170.8 718.3 171.6 716.4 172.4 717.2 173.1 716.3 173.9 717.8 174.6 718.5 175.4 716.5 176.2 718.5 176.9 718.0 177.7 717.1 178.4 715.7 179.2 718.4 180.0 717.2 180.7 716.8 181.5 717.6 182.3 717.6 183.0 718.5 183.8 716.5 184.5 718.2 185.3 718.5 186.1 718.5 186.8 717.2 187.6 716.8 188.4 718.2 189.1 717.5 189.9 717.5 190.7 718.5 191.4 717.2 192.2 715.6 192.9 717.1 193.7 716.0 194.5 718.1 195.2 717.7 196.0 717.0 196.8 717.5 197.5 718.1 198.3 717.6 199.0 718.6 199.8 717.5" fill="none" stroke="none" marker-start="url(#mk6)" marker-mid="url(#mk6)" marker-end="url(#mk6)"/>
<path d="M16.8 715.8 18 715.8 19.2 715.8 20.5 715.8 21.7 715.8 22.9 715.8 24.1 715.8 25.3 715.8 26.6 715.8 27.8 715.8 29 715.8 30.2 715.8 31.4 715.8 32.7 715.8 33.9 715.8 35.1 715.8 36.3 715.8 37.5 715.8 38.8 715.7 40 715.7 41.2 715.7 42.4 715.6 43.6 715.5 44.9 715.5 46.1 715.4 47.3 715.2 48.5 715.1 49.7 715 51 714.8 52.2 714.6 53.4 714.4 54.6 714.1 55.8 713.9 57.1 713.6 58.3 713.3 59.5 713 60.7 712.7 61.9 712.4 63.2 712.1 64.4 711.8 65.6 711.5 66.8 711.3 68 711 69.3 710.8 70.5 710.6 71.7 710.5 72.9 710.3 74.1 710.2 75.4 710.1 76.6 710 77.8 709.8 79 709.6 80.2 709.3 81.5 708.9 82.7 708.4 83.9 707.7 85.1 706.9 86.3 705.9 87.6 704.6 88.8 703.1 90 701.3 91.2 699.4 92.4 697.2 93.7 694.8 94.9 692.2 96.1 689.6 97.3 686.8 98.5 684.1 99.8 681.5 101 679.1 102.2 676.9 103.4 675 104.6 673.5 105.9 672.6 107.1 672.1 108.3 672.2 109.5 672.8 110.7 673.9 112 675.5 113.2 677.6 114.4 679.9 115.6 682.5 116.8 685.3 118.1 688.2 119.3 691.1 120.5 694 121.7 696.7 122.9 699.3 124.2 701.8 125.4 704 126.6 706 127.8 707.8 129 709.3 130.3 710.7 131.5 711.8 132.7 712.8 133.9 713.6 135.1 714.2 136.4 714.8 137.6 715.2 138.8 715.5 140 715.8 141.2 716 142.5 716.2 143.7 716.3 144.9 716.4 146.1 716.5 147.3 716.6 148.6 716.6 149.8 716.7 151 716.7 152.2 716.8 153.4 716.8 154.7 716.8 155.9 716.9 157.1 716.9 158.3 716.9 159.5 716.9 160.8 717 162 717 163.2 717 164.4 717 165.6 717.1 166.9 717.1 168.1 717.1 169.3 717.1 170.5 717.1 171.7 717.1 173 717.2 174.2 717.2 175.4 717.2 176.6 717.2 177.8 717.2 179.1 717.3 180.3 717.3 181.5 717.3 182.7 717.3 183.9 717.3 185.2 717.3 186.4 717.3 187.6 717.4 188.8 717.4 190 717.4 191.3 717.4 192.5 717.4 193.7 717.4 194.9 717.4 196.1 717.5 197.4 717.5 198.6 717.5 199.8 717.5" stroke="#2f7b4c" stroke-width="1" fill="none"/>
<path d="M16.8 791.3 18 791.3 19.2 791.3 20.5 791.3 21.7 791.3 22.9 791.3 24.1 791.3 25.3 791.3 26.6 791.3 27.8 791.2 29 791.2 30.2 791.2 31.4 791.1 32.7 791 33.9 790.9 35.1 790.8 36.3 790.7 37.5 790.5 38.8 790.3 40 790.1 41.2 789.9 42.4 789.6 43.6 789.3 44.9 789 46.1 788.7 47.3 788.3 48.5 787.9 49.7 787.5 51 787.1 52.2 786.7 53.4 786.3 54.6 785.9 55.8 785.5 57.1 785.1 58.3 784.7 59.5 784.4 60.7 784.2 61.9 783.9 63.2 783.8 64.4 783.7 65.6 783.6 66.8 783.7 68 783.8 69.3 783.9 70.5 784.2 71.7 784.4 72.9 784.8 74.1 785.1 75.4 785.5 76.6 785.9 77.8 786.4 79 786.8 80.2 787.3 81.5 787.8 82.7 788.2 83.9 788.6 85.1 789 86.3 789.4 87.6 789.8 88.8 790.1 90 790.5 91.2 790.7 92.4 791 93.7 791.2 94.9 791.5 96.1 791.6 97.3 791.8 98.5 791.9 99.8 792.1 101 792.2 102.2 792.3 103.4 792.4 104.6 792.4 105.9 792.5 107.1 792.6 108.3 792.6 109.5 792.6 110.7 792.7 112 792.7 113.2 792.8 114.4 792.8 115.6 792.8 116.8 792.8 118.1 792.9 119.3 792.9 120.5 792.9 121.7 792.9 122.9 793 124.2 793 125.4 793 126.6 793 127.8 793 129 793.1 130.3 793.1 131.5 793.1 132.7 793.1 133.9 793.1 135.1 793.2 136.4 793.2 137.6 793.2 138.8 793.2 140 793.2 141.2 793.3 142.5 793.3 143.7 793.3 144.9 793.3 146.1 793.3 147.3 793.4 148.6 793.4 149.8 793.4 151 793.4 152.2 793.4 153.4 793.5 154.7 793.5 155.9 793.5 157.1 793.5 158.3 793.5 159.5 793.6 160.8 793.6 162 793.6 163.2 793.6 164.4 793.6 165.6 793.7 166.9 793.7 168.1 793.7 169.3 793.7 170.5 793.7 171.7 793.8 173 793.8 174.2 793.8 175.4 793.8 176.6 793.8 177.8 793.8 179.1 793.9 180.3 793.9 181.5 793.9 182.7 793.9 183.9 793.9 185.2 794 186.4 794 187.6 794 188.8 794 190 794 191.3 794.1 192.5 794.1 193.7 794.1 194.9 794.1 196.1 794.1 197.4 794.1 198.6 794.2 199.8 794.2 199.8 794.2 198.6 794.2 197.4 794.2 196.1 794.1 194.9 794.1 193.7 794.1 192.5 794.1 191.3 794.1 190 794.1 188.8 794 187.6 794 186.4 794 185.2 794 183.9 794 182.7 793.9 181.5 793.9 180.3 793.9 179.1 793.9 177.8 793.9 176.6 793.8 175.4 793.8 174.2 793.8 173 793.8 171.7 793.8 170.5 793.8 169.3 793.7 168.1 793.7 166.9 793.7 165.6 793.7 164.4 793.7 163.2 793.6 162 793.6 160.8 793.6 159.5 793.6 158.3 793.6 157.1 793.5 155.9 793.5 154.7 793.5 153.4 793.5 152.2 793.5 151 793.5 149.8 793.4 148.6 793.4 147.3 793.4 146.1 793.4 144.9 793.4 143.7 793.3 142.5 793.3 141.2 793.3 140 793.3 138.8 793.3 137.6 793.2 136.4 793.2 135.1 793.2 133.9 793.2 132.7 793.2 131.5 793.2 130.3 793.1 129 793.1 127.8 793.1 126.6 793.1 125.4 793.1 124.2 793 122.9 793 121.7 793 120.5 793 119.3 793 118.1 792.9 116.8 792.9 115.6 792.9 114.4 792.9 113.2 792.9 112 792.9 110.7 792.8 109.5 792.8 108.3 792.8 107.1 792.8 105.9 792.8 104.6 792.7 103.4 792.7 102.2 792.7 101 792.7 99.8 792.7 98.5 792.7 97.3 792.6 96.1 792.6 94.9 792.6 93.7 792.6 92.4 792.6 91.2 792.5 90 792.5 88.8 792.5 87.6 792.5 86.3 792.5 85.1 792.4 83.9 792.4 82.7 792.4 81.5 792.4 80.2 792.4 79 792.4 77.8 792.3 76.6 792.3 75.4 792.3 74.1 792.3 72.9 792.3 71.7 792.2 70.5 792.2 69.3 792.2 68 792.2 66.8 792.2 65.6 792.1 64.4 792.1 63.2 792.1 61.9 792.1 60.7 792.1 59.5 792.1 58.3 792 57.1 792 55.8 792 54.6 792 53.4 792 52.2 791.9 51 791.9 49.7 791.9 48.5 791.9 47.3 791.9 46.1 791.8 44.9 791.8 43.6 791.8 42.4 791.8 41.2 791.8 40 791.8 38.8 791.7 37.5 791.7 36.3 791.7 35.1 791.7 33.9 791.7 32.7 791.6 31.4 791.6 30.2 791.6 29 791.6 27.8 791.6 26.6 791.5 25.3 791.5 24.1 791.5 22.9 791.5 21.7 791.5 20.5 791.5 19.2 791.4 18 791.4 16.8 791.4 Z" fill="url(#gx9)"/>
<path d="M16.8 791.3 18 791.3 19.2 791.4 20.5 791.4 21.7 791.4 22.9 791.4 24.1 791.4 25.3 791.4 26.6 791.5 27.8 791.5 29 791.5 30.2 791.5 31.4 791.5 32.7 791.5 33.9 791.5 35.1 791.6 36.3 791.6 37.5 791.6 38.8 791.6 40 791.6 41.2 791.6 42.4 791.6 43.6 791.7 44.9 791.7 46.1 791.7 47.3 791.7 48.5 791.7 49.7 791.7 51 791.7 52.2 791.7 53.4 791.8 54.6 791.8 55.8 791.8 57.1 791.8 58.3 791.8 59.5 791.8 60.7 791.8 61.9 791.8 63.2 791.8 64.4 791.8 65.6 791.8 66.8 791.8 68 791.8 69.3 791.8 70.5 791.8 71.7 791.8 72.9 791.8 74.1 791.7 75.4 791.7 76.6 791.6 77.8 791.5 79 791.3 80.2 791.1 81.5 790.9 82.7 790.5 83.9 790 85.1 789.3 86.3 788.5 87.6 787.4 88.8 786.1 90 784.4 91.2 782.5 92.4 780.1 93.7 777.4 94.9 774.4 96.1 771 97.3 767.3 98.5 763.5 99.8 759.6 101 755.7 102.2 751.9 103.4 748.5 104.6 745.5 105.9 743.2 107.1 741.6 108.3 740.9 109.5 741 110.7 742 112 743.8 113.2 746.4 114.4 749.5 115.6 753 116.8 756.9 118.1 760.8 119.3 764.8 120.5 768.6 121.7 772.3 122.9 775.6 124.2 778.6 125.4 781.2 126.6 783.5 127.8 785.5 129 787.1 130.3 788.4 131.5 789.4 132.7 790.3 133.9 790.9 135.1 791.4 136.4 791.8 137.6 792.1 138.8 792.3 140 792.5 141.2 792.6 142.5 792.7 143.7 792.8 144.9 792.9 146.1 792.9 147.3 793 148.6 793 149.8 793.1 151 793.1 152.2 793.1 153.4 793.2 154.7 793.2 155.9 793.2 157.1 793.3 158.3 793.3 159.5 793.3 160.8 793.4 162 793.4 163.2 793.4 164.4 793.5 165.6 793.5 166.9 793.5 168.1 793.5 169.3 793.6 170.5 793.6 171.7 793.6 173 793.6 174.2 793.7 175.4 793.7 176.6 793.7 177.8 793.7 179.1 793.8 180.3 793.8 181.5 793.8 182.7 793.8 183.9 793.8 185.2 793.9 186.4 793.9 187.6 793.9 188.8 793.9 190 794 191.3 794 192.5 794 193.7 794 194.9 794 196.1 794.1 197.4 794.1 198.6 794.1 199.8 794.1 199.8 794.2 198.6 794.2 197.4 794.2 196.1 794.1 194.9 794.1 193.7 794.1 192.5 794.1 191.3 794.1 190 794.1 188.8 794 187.6 794 186.4 794 185.2 794 183.9 794 182.7 793.9 181.5 793.9 180.3 793.9 179.1 793.9 177.8 793.9 176.6 793.8 175.4 793.8 174.2 793.8 173 793.8 171.7 793.8 170.5 793.8 169.3 793.7 168.1 793.7 166.9 793.7 165.6 793.7 164.4 793.7 163.2 793.6 162 793.6 160.8 793.6 159.5 793.6 158.3 793.6 157.1 793.5 155.9 793.5 154.7 793.5 153.4 793.5 152.2 793.5 151 793.5 149.8 793.4 148.6 793.4 147.3 793.4 146.1 793.4 144.9 793.4 143.7 793.3 142.5 793.3 141.2 793.3 140 793.3 138.8 793.3 137.6 793.2 136.4 793.2 135.1 793.2 133.9 793.2 132.7 793.2 131.5 793.2 130.3 793.1 129 793.1 127.8 793.1 126.6 793.1 125.4 793.1 124.2 793 122.9 793 121.7 793 120.5 793 119.3 793 118.1 792.9 116.8 792.9 115.6 792.9 114.4 792.9 113.2 792.9 112 792.9 110.7 792.8 109.5 792.8 108.3 792.8 107.1 792.8 105.9 792.8 104.6 792.7 103.4 792.7 102.2 792.7 101 792.7 99.8 792.7 98.5 792.7 97.3 792.6 96.1 792.6 94.9 792.6 93.7 792.6 92.4 792.6 91.2 792.5 90 792.5 88.8 792.5 87.6 792.5 86.3 792.5 85.1 792.4 83.9 792.4 82.7 792.4 81.5 792.4 80.2 792.4 79 792.4 77.8 792.3 76.6 792.3 75.4 792.3 74.1 792.3 72.9 792.3 71.7 792.2 70.5 792.2 69.3 792.2 68 792.2 66.8 792.2 65.6 792.1 64.4 792.1 63.2 792.1 61.9 792.1 60.7 792.1 59.5 792.1 58.3 792 57.1 792 55.8 792 54.6 792 53.4 792 52.2 791.9 51 791.9 49.7 791.9 48.5 791.9 47.3 791.9 46.1 791.8 44.9 791.8 43.6 791.8 42.4 791.8 41.2 791.8 40 791.8 38.8 791.7 37.5 791.7 36.3 791.7 35.1 791.7 33.9 791.7 32.7 791.6 31.4 791.6 30.2 791.6 29 791.6 27.8 791.6 26.6 791.5 25.3 791.5 24.1 791.5 22.9 791.5 21.7 791.5 20.5 791.5 19.2 791.4 18 791.4 16.8 791.4 Z" fill="url(#gx10)"/>
<line x1="16.8" y1="791.4" x2="199.8" y2="794.2" stroke="#5cc65c" stroke-width="0.7"/>
<path d="M16.8 791.3 18 791.3 19.2 791.3 20.5 791.3 21.7 791.3 22.9 791.3 24.1 791.3 25.3 791.3 26.6 791.3 27.8 791.2 29 791.2 30.2 791.2 31.4 791.1 32.7 791 33.9 790.9 35.1 790.8 36.3 790.7 37.5 790.5 38.8 790.3 40 790.1 41.2 789.9 42.4 789.6 43.6 789.3 44.9 789 46.1 788.7 47.3 788.3 48.5 787.9 49.7 787.5 51 787.1 52.2 786.7 53.4 786.3 54.6 785.9 55.8 785.5 57.1 785.1 58.3 784.7 59.5 784.4 60.7 784.2 61.9 783.9 63.2 783.8 64.4 783.7 65.6 783.6 66.8 783.7 68 783.8 69.3 783.9 70.5 784.2 71.7 784.4 72.9 784.8 74.1 785.1 75.4 785.5 76.6 785.9 77.8 786.4 79 786.8 80.2 787.3 81.5 787.8 82.7 788.2 83.9 788.6 85.1 789 86.3 789.4 87.6 789.8 88.8 790.1 90 790.5 91.2 790.7 92.4 791 93.7 791.2 94.9 791.5 96.1 791.6 97.3 791.8 98.5 791.9 99.8 792.1 101 792.2 102.2 792.3 103.4 792.4 104.6 792.4 105.9 792.5 107.1 792.6 108.3 792.6 109.5 792.6 110.7 792.7 112 792.7 113.2 792.8 114.4 792.8 115.6 792.8 116.8 792.8 118.1 792.9 119.3 792.9 120.5 792.9 121.7 792.9 122.9 793 124.2 793 125.4 793 126.6 793 127.8 793 129 793.1 130.3 793.1 131.5 793.1 132.7 793.1 133.9 793.1 135.1 793.2 136.4 793.2 137.6 793.2 138.8 793.2 140 793.2 141.2 793.3 142.5 793.3 143.7 793.3 144.9 793.3 146.1 793.3 147.3 793.4 148.6 793.4 149.8 793.4 151 793.4 152.2 793.4 153.4 793.5 154.7 793.5 155.9 793.5 157.1 793.5 158.3 793.5 159.5 793.6 160.8 793.6 162 793.6 163.2 793.6 164.4 793.6 165.6 793.7 166.9 793.7 168.1 793.7 169.3 793.7 170.5 793.7 171.7 793.8 173 793.8 174.2 793.8 175.4 793.8 176.6 793.8 177.8 793.8 179.1 793.9 180.3 793.9 181.5 793.9 182.7 793.9 183.9 793.9 185.2 794 186.4 794 187.6 794 188.8 794 190 794 191.3 794.1 192.5 794.1 193.7 794.1 194.9 794.1 196.1 794.1 197.4 794.1 198.6 794.2 199.8 794.2" stroke="#5cc65c" stroke-width="0.6" fill="none"/>
<path d="M16.8 791.3 18 791.3 19.2 791.4 20.5 791.4 21.7 791.4 22.9 791.4 24.1 791.4 25.3 791.4 26.6 791.5 27.8 791.5 29 791.5 30.2 791.5 31.4 791.5 32.7 791.5 33.9 791.5 35.1 791.6 36.3 791.6 37.5 791.6 38.8 791.6 40 791.6 41.2 791.6 42.4 791.6 43.6 791.7 44.9 791.7 46.1 791.7 47.3 791.7 48.5 791.7 49.7 791.7 51 791.7 52.2 791.7 53.4 791.8 54.6 791.8 55.8 791.8 57.1 791.8 58.3 791.8 59.5 791.8 60.7 791.8 61.9 791.8 63.2 791.8 64.4 791.8 65.6 791.8 66.8 791.8 68 791.8 69.3 791.8 70.5 791.8 71.7 791.8 72.9 791.8 74.1 791.7 75.4 791.7 76.6 791.6 77.8 791.5 79 791.3 80.2 791.1 81.5 790.9 82.7 790.5 83.9 790 85.1 789.3 86.3 788.5 87.6 787.4 88.8 786.1 90 784.4 91.2 782.5 92.4 780.1 93.7 777.4 94.9 774.4 96.1 771 97.3 767.3 98.5 763.5 99.8 759.6 101 755.7 102.2 751.9 103.4 748.5 104.6 745.5 105.9 743.2 107.1 741.6 108.3 740.9 109.5 741 110.7 742 112 743.8 113.2 746.4 114.4 749.5 115.6 753 116.8 756.9 118.1 760.8 119.3 764.8 120.5 768.6 121.7 772.3 122.9 775.6 124.2 778.6 125.4 781.2 126.6 783.5 127.8 785.5 129 787.1 130.3 788.4 131.5 789.4 132.7 790.3 133.9 790.9 135.1 791.4 136.4 791.8 137.6 792.1 138.8 792.3 140 792.5 141.2 792.6 142.5 792.7 143.7 792.8 144.9 792.9 146.1 792.9 147.3 793 148.6 793 149.8 793.1 151 793.1 152.2 793.1 153.4 793.2 154.7 793.2 155.9 793.2 157.1 793.3 158.3 793.3 159.5 793.3 160.8 793.4 162 793.4 163.2 793.4 164.4 793.5 165.6 793.5 166.9 793.5 168.1 793.5 169.3 793.6 170.5 793.6 171.7 793.6 173 793.6 174.2 793.7 175.4 793.7 176.6 793.7 177.8 793.7 179.1 793.8 180.3 793.8 181.5 793.8 182.7 793.8 183.9 793.8 185.2 793.9 186.4 793.9 187.6 793.9 188.8 793.9 190 794 191.3 794 192.5 794 193.7 794 194.9 794 196.1 794.1 197.4 794.1 198.6 794.1 199.8 794.1" stroke="#5cc65c" stroke-width="0.6" fill="none"/>
<path d="M16.8 791.5 17.6 793.3 18.3 792.1 19.1 792.1 19.8 791.8 20.6 791.5 21.4 791.8 22.1 791.2 22.9 790.7 23.7 790.5 24.4 790.3 25.2 791.5 25.9 791.7 26.7 792.6 27.5 791.6 28.2 791.4 29.0 791.7 29.8 791.1 30.5 789.6 31.3 791.9 32.1 790.7 32.8 791.2 33.6 790.7 34.3 793.2 35.1 791.7 35.9 791.0 36.6 789.7 37.4 791.2 38.2 789.6 38.9 791.2 39.7 788.9 40.4 789.9 41.2 790.6 42.0 789.0 42.7 789.6 43.5 789.4 44.2 789.9 45.0 788.5 45.8 789.3 46.5 790.2 47.3 787.0 48.1 787.3 48.8 788.1 49.6 787.0 50.3 786.1 51.1 788.2 51.9 787.5 52.6 787.4 53.4 787.1 54.2 786.5 54.9 785.0 55.7 783.4 56.5 785.6 57.2 784.0 58.0 784.7 58.7 784.8 59.5 783.2 60.3 783.8 61.0 785.4 61.8 784.4 62.5 782.3 63.3 783.4 64.1 783.5 64.8 783.9 65.6 784.1 66.4 783.4 67.1 783.3 67.9 784.2 68.6 782.4 69.4 784.6 70.2 784.1 70.9 783.5 71.7 783.6 72.5 784.4 73.2 783.2 74.0 782.7 74.8 785.1 75.5 786.2 76.3 785.1 77.0 785.5 77.8 785.6 78.6 785.0 79.3 786.3 80.1 786.8 80.9 786.3 81.6 787.1 82.4 785.5 83.1 786.6 83.9 785.6 84.7 785.7 85.4 786.1 86.2 785.7 86.9 785.9 87.7 785.2 88.5 783.1 89.2 784.4 90.0 781.1 90.8 781.3 91.5 780.5 92.3 778.8 93.0 777.8 93.8 775.8 94.6 773.2 95.3 772.7 96.1 770.0 96.9 767.1 97.6 765.7 98.4 763.3 99.2 761.2 99.9 758.0 100.7 756.2 101.4 753.6 102.2 752.8 103.0 749.1 103.7 748.4 104.5 745.5 105.3 744.9 106.0 744.6 106.8 741.4 107.5 741.1 108.3 739.9 109.1 740.1 109.8 740.5 110.6 741.8 111.3 743.4 112.1 744.7 112.9 745.1 113.6 747.5 114.4 748.2 115.2 752.0 115.9 753.7 116.7 755.4 117.4 758.2 118.2 761.7 119.0 763.8 119.7 766.7 120.5 768.2 121.3 771.0 122.0 772.9 122.8 773.9 123.6 776.9 124.3 778.8 125.1 780.0 125.8 782.7 126.6 785.2 127.4 785.9 128.1 785.9 128.9 785.9 129.7 787.6 130.4 788.0 131.2 789.3 131.9 790.7 132.7 790.2 133.5 789.5 134.2 792.1 135.0 791.4 135.7 792.7 136.5 791.1 137.3 794.0 138.0 791.1 138.8 792.4 139.6 793.0 140.3 790.4 141.1 791.9 141.8 791.3 142.6 794.1 143.4 793.3 144.1 792.0 144.9 791.4 145.7 791.5 146.4 793.0 147.2 792.3 148.0 793.3 148.7 792.6 149.5 791.6 150.2 794.5 151.0 793.5 151.8 792.5 152.5 792.8 153.3 794.2 154.1 793.8 154.8 792.2 155.6 794.4 156.3 792.7 157.1 793.7 157.9 792.3 158.6 792.7 159.4 794.0 160.1 792.4 160.9 793.4 161.7 793.7 162.4 792.8 163.2 794.6 164.0 794.0 164.7 793.3 165.5 794.3 166.3 794.6 167.0 794.5 167.8 793.4 168.5 794.2 169.3 793.9 170.1 792.7 170.8 793.3 171.6 795.2 172.4 793.0 173.1 794.0 173.9 795.0 174.6 793.3 175.4 793.7 176.2 793.1 176.9 794.1 177.7 792.7 178.4 794.1 179.2 793.1 180.0 794.0 180.7 792.4 181.5 792.9 182.3 794.6 183.0 794.3 183.8 791.3 184.5 795.1 185.3 793.2 186.1 794.6 186.8 794.7 187.6 793.8 188.4 793.6 189.1 792.4 189.9 794.3 190.7 795.5 191.4 792.9 192.2 794.9 192.9 794.6 193.7 794.8 194.5 793.1 195.2 793.9 196.0 794.2 196.8 795.4 197.5 793.3 198.3 793.6 199.0 793.5 199.8 794.8" fill="none" stroke="none" marker-start="url(#mk7)" marker-mid="url(#mk7)" marker-end="url(#mk7)"/>
<path d="M16.8 791.2 18 791.2 19.2 791.2 20.5 791.2 21.7 791.2 22.9 791.2 24.1 791.2 25.3 791.2 26.6 791.2 27.8 791.1 29 791.1 30.2 791 31.4 791 32.7 790.9 33.9 790.8 35.1 790.7 36.3 790.5 37.5 790.4 38.8 790.2 40 790 41.2 789.7 42.4 789.5 43.6 789.2 44.9 788.9 46.1 788.5 47.3 788.1 48.5 787.8 49.7 787.4 51 786.9 52.2 786.5 53.4 786.1 54.6 785.7 55.8 785.3 57.1 784.9 58.3 784.5 59.5 784.2 60.7 783.9 61.9 783.7 63.2 783.5 64.4 783.4 65.6 783.3 66.8 783.3 68 783.4 69.3 783.5 70.5 783.7 71.7 784 72.9 784.3 74.1 784.6 75.4 784.9 76.6 785.2 77.8 785.6 79 785.8 80.2 786.1 81.5 786.2 82.7 786.3 83.9 786.2 85.1 785.9 86.3 785.5 87.6 784.7 88.8 783.7 90 782.4 91.2 780.7 92.4 778.6 93.7 776.1 94.9 773.2 96.1 770 97.3 766.5 98.5 762.8 99.8 759 101 755.2 102.2 751.5 103.4 748.1 104.6 745.2 105.9 742.9 107.1 741.4 108.3 740.7 109.5 740.8 110.7 741.8 112 743.7 113.2 746.2 114.4 749.4 115.6 752.9 116.8 756.8 118.1 760.8 119.3 764.7 120.5 768.6 121.7 772.2 122.9 775.5 124.2 778.5 125.4 781.2 126.6 783.5 127.8 785.4 129 787 130.3 788.3 131.5 789.4 132.7 790.2 133.9 790.9 135.1 791.4 136.4 791.7 137.6 792 138.8 792.3 140 792.4 141.2 792.6 142.5 792.7 143.7 792.8 144.9 792.8 146.1 792.9 147.3 792.9 148.6 793 149.8 793 151 793.1 152.2 793.1 153.4 793.2 154.7 793.2 155.9 793.2 157.1 793.3 158.3 793.3 159.5 793.3 160.8 793.3 162 793.4 163.2 793.4 164.4 793.4 165.6 793.5 166.9 793.5 168.1 793.5 169.3 793.5 170.5 793.6 171.7 793.6 173 793.6 174.2 793.6 175.4 793.7 176.6 793.7 177.8 793.7 179.1 793.7 180.3 793.8 181.5 793.8 182.7 793.8 183.9 793.8 185.2 793.9 186.4 793.9 187.6 793.9 188.8 793.9 190 793.9 191.3 794 192.5 794 193.7 794 194.9 794 196.1 794 197.4 794.1 198.6 794.1 199.8 794.1" stroke="#5cc65c" stroke-width="1" fill="none"/>
<line x1="21.8" y1="664.5" x2="41" y2="664.5" stroke="#2f7b4c" stroke-width="1.2"/>
<text x="44.3" y="667.54" font-size="8.2">Pristine</text>
<line x1="21.8" y1="673.9" x2="41" y2="673.9" stroke="#5cc65c" stroke-width="1.2"/>
<text x="44.3" y="676.94" font-size="8.2">Target</text>
<text x="195.8" y="667.44" font-size="8.2" text-anchor="end">N 1<tspan font-style="italic">s</tspan></text>
<rect x="255.6" y="655.7" width="183.1" height="147.2" fill="none" stroke="#111" stroke-width="1.1"/>
<line x1="255.6" y1="784.5" x2="257.2" y2="784.5" stroke="#111" stroke-width="1"/>
<line x1="255.6" y1="766.1" x2="258.2" y2="766.1" stroke="#111" stroke-width="1"/>
<line x1="255.6" y1="747.7" x2="257.2" y2="747.7" stroke="#111" stroke-width="1"/>
<line x1="255.6" y1="729.3" x2="258.2" y2="729.3" stroke="#111" stroke-width="1"/>
<line x1="255.6" y1="710.9" x2="257.2" y2="710.9" stroke="#111" stroke-width="1"/>
<line x1="255.6" y1="692.5" x2="258.2" y2="692.5" stroke="#111" stroke-width="1"/>
<line x1="255.6" y1="674.1" x2="257.2" y2="674.1" stroke="#111" stroke-width="1"/>
<text x="250.2" y="806.83" font-size="9.3" text-anchor="end">0</text>
<text x="250.2" y="770.03" font-size="9.3" text-anchor="end">1</text>
<text x="250.2" y="733.23" font-size="9.3" text-anchor="end">2</text>
<text x="250.2" y="696.43" font-size="9.3" text-anchor="end">3</text>
<text x="250.2" y="659.63" font-size="9.3" text-anchor="end">4</text>
<line x1="316.4" y1="802.9" x2="316.4" y2="800.3" stroke="#111" stroke-width="1"/>
<line x1="377.4" y1="802.9" x2="377.4" y2="800.3" stroke="#111" stroke-width="1"/>
<text x="286.3" y="816.73" font-size="9.3" text-anchor="middle">S/Pb</text>
<text x="346.9" y="816.73" font-size="9.3" text-anchor="middle">O/Pb</text>
<text x="407.5" y="816.73" font-size="9.3" text-anchor="middle">N/Pb</text>
<text x="229.5" y="732.47" font-size="9.7" text-anchor="middle" transform="rotate(-90 229.5 729)">Ratio (a.u.)</text>
<rect x="288.4" y="790.02" width="19.3" height="12.88" fill="url(#barT)" stroke="#4dbf4d" stroke-width="0.9"/>
<text x="298" y="786.66" font-size="8.2" text-anchor="middle">0.4</text>
<rect x="325.3" y="680.36" width="19.3" height="122.54" fill="url(#barP)" stroke="#3a7d52" stroke-width="0.9"/>
<text x="334.9" y="676.99" font-size="8.2" text-anchor="middle">3.3</text>
<rect x="349.4" y="758" width="18.9" height="44.9" fill="url(#barT)" stroke="#4dbf4d" stroke-width="0.9"/>
<text x="358.8" y="754.64" font-size="8.2" text-anchor="middle">1.2</text>
<rect x="386.5" y="706.48" width="18.9" height="96.42" fill="url(#barP)" stroke="#3a7d52" stroke-width="0.9"/>
<text x="396" y="703.12" font-size="8.2" text-anchor="middle">2.6</text>
<rect x="410.3" y="698.76" width="18.9" height="104.14" fill="url(#barT)" stroke="#4dbf4d" stroke-width="0.9"/>
<text x="419.8" y="695.39" font-size="8.2" text-anchor="middle">2.8</text>
<rect x="261.4" y="660.5" width="19.1" height="9.2" fill="url(#barP)" stroke="#3a7d52" stroke-width="0.9"/>
<rect x="261.4" y="670.9" width="19.1" height="9.6" fill="url(#barT)" stroke="#4dbf4d" stroke-width="0.9"/>
<text x="284.6" y="668.24" font-size="8.2">Pristine</text>
<text x="284.6" y="679.04" font-size="8.2">Target</text>
<rect x="494" y="655.8" width="183.2" height="147.1" fill="none" stroke="#111" stroke-width="1.1"/>
<line x1="505.45" y1="802.9" x2="505.45" y2="801.3" stroke="#111" stroke-width="1"/>
<line x1="516.9" y1="802.9" x2="516.9" y2="800.3" stroke="#111" stroke-width="1"/>
<line x1="528.35" y1="802.9" x2="528.35" y2="801.3" stroke="#111" stroke-width="1"/>
<line x1="539.8" y1="802.9" x2="539.8" y2="800.3" stroke="#111" stroke-width="1"/>
<line x1="551.25" y1="802.9" x2="551.25" y2="801.3" stroke="#111" stroke-width="1"/>
<line x1="562.7" y1="802.9" x2="562.7" y2="800.3" stroke="#111" stroke-width="1"/>
<line x1="574.15" y1="802.9" x2="574.15" y2="801.3" stroke="#111" stroke-width="1"/>
<line x1="585.6" y1="802.9" x2="585.6" y2="800.3" stroke="#111" stroke-width="1"/>
<line x1="597.05" y1="802.9" x2="597.05" y2="801.3" stroke="#111" stroke-width="1"/>
<line x1="608.5" y1="802.9" x2="608.5" y2="800.3" stroke="#111" stroke-width="1"/>
<line x1="619.95" y1="802.9" x2="619.95" y2="801.3" stroke="#111" stroke-width="1"/>
<line x1="631.4" y1="802.9" x2="631.4" y2="800.3" stroke="#111" stroke-width="1"/>
<line x1="642.85" y1="802.9" x2="642.85" y2="801.3" stroke="#111" stroke-width="1"/>
<line x1="654.3" y1="802.9" x2="654.3" y2="800.3" stroke="#111" stroke-width="1"/>
<line x1="665.75" y1="802.9" x2="665.75" y2="801.3" stroke="#111" stroke-width="1"/>
<text x="494" y="816.63" font-size="9.3" text-anchor="middle">10</text>
<text x="516.9" y="816.63" font-size="9.3" text-anchor="middle">15</text>
<text x="539.8" y="816.63" font-size="9.3" text-anchor="middle">20</text>
<text x="562.7" y="816.63" font-size="9.3" text-anchor="middle">25</text>
<text x="585.6" y="816.63" font-size="9.3" text-anchor="middle">30</text>
<text x="608.5" y="816.63" font-size="9.3" text-anchor="middle">35</text>
<text x="631.4" y="816.63" font-size="9.3" text-anchor="middle">40</text>
<text x="654.3" y="816.63" font-size="9.3" text-anchor="middle">45</text>
<text x="677.2" y="816.63" font-size="9.3" text-anchor="middle">50</text>
<text x="585" y="832.67" font-size="9.7" text-anchor="middle">2<tspan font-style="italic">&#952;</tspan> (&#176;)</text>
<text x="482.8" y="734.47" font-size="9.7" text-anchor="middle" transform="rotate(-90 482.8 731)">Intensity (a.u.)</text>
<path d="M494 743.9 494.4 744.7 494.7 745.1 495.1 744.2 495.4 743.8 495.8 744.5 496.1 744.8 496.5 745.1 496.8 743.8 497.2 743.8 497.5 744.9 497.9 744.8 498.2 745.3 498.6 745 498.9 744.4 499.3 744.3 499.6 745.9 500 744.3 500.3 744 500.7 743.8 501 744.5 501.4 744.5 501.8 744.2 502.1 744.4 502.5 744.6 502.8 744.8 503.2 745 503.5 744.5 503.9 743.4 504.2 744.8 504.6 743.6 504.9 744.2 505.3 743.5 505.6 744.3 506 743.8 506.3 744.3 506.7 745.8 507 743.8 507.4 744.1 507.7 742.6 508.1 742.8 508.4 743 508.8 742.2 509.1 742.2 509.5 741.9 509.9 741.3 510.2 742.4 510.6 741.9 510.9 743.8 511.3 742.8 511.6 743.8 512 743.6 512.3 744.3 512.7 743.6 513 744.5 513.4 743.9 513.7 744.7 514.1 744.4 514.4 744.1 514.8 743.5 515.1 744.4 515.5 744.2 515.8 744.8 516.2 743.6 516.5 744.1 516.9 744 517.3 743.8 517.6 743.7 518 743.6 518.3 743.1 518.7 742.7 519 743 519.4 743.3 519.7 743.6 520.1 743.1 520.4 742.8 520.8 742.2 521.1 741.5 521.5 740.1 521.8 738.6 522.2 736.3 522.5 730.6 522.9 724.1 523.2 717.1 523.6 706.2 523.9 696.2 524.3 687.3 524.7 681.2 525 684 525.4 690 525.7 698.7 526.1 709.4 526.4 718.7 526.8 725.9 527.1 732.2 527.5 736.4 527.8 739.4 528.2 740.7 528.5 741.3 528.9 742.6 529.2 741.9 529.6 743 529.9 743.4 530.3 742.8 530.6 742.2 531 742.8 531.3 743.5 531.7 743.8 532 744.4 532.4 743.1 532.8 743.7 533.1 744.1 533.5 743.7 533.8 742.5 534.2 744.3 534.5 745.2 534.9 744.5 535.2 743.4 535.6 743.7 535.9 744.1 536.3 745.4 536.6 744.4 537 744.1 537.3 744.9 537.7 744 538 745.1 538.4 743.7 538.7 743.8 539.1 744.5 539.4 744.9 539.8 744.5 540.2 744.3 540.5 743.1 540.9 743.7 541.2 743.8 541.6 743.8 541.9 744.5 542.3 744 542.6 744.6 543 744.2 543.3 744 543.7 744.2 544 744.4 544.4 744.6 544.7 743.9 545.1 744 545.4 743.4 545.8 745 546.1 744.9 546.5 744 546.8 743.8 547.2 743.4 547.6 744.2 547.9 744.2 548.3 745.2 548.6 744.1 549 743.5 549.3 742.5 549.7 744.4 550 743.5 550.4 742.2 550.7 742.7 551.1 741.2 551.4 743.4 551.8 741.6 552.1 740.8 552.5 740.1 552.8 739.1 553.2 740.5 553.5 740.2 553.9 742 554.2 741 554.6 742.2 554.9 743.8 555.3 744.4 555.7 743 556 743 556.4 744.4 556.7 744.5 557.1 743.5 557.4 743.7 557.8 743.7 558.1 743.4 558.5 743.7 558.8 744.8 559.2 744.5 559.5 745.2 559.9 744.1 560.2 744 560.6 743.6 560.9 744 561.3 743.4 561.6 743.1 562 744.5 562.3 744.9 562.7 744.6 563.1 744.8 563.4 744.2 563.8 743.7 564.1 744.2 564.5 743.9 564.8 743.5 565.2 743.2 565.5 743.3 565.9 744.1 566.2 744.2 566.6 743.8 566.9 744.9 567.3 744.2 567.6 744.4 568 744.8 568.3 743.6 568.7 743 569 744.5 569.4 743.7 569.7 744.8 570.1 744.2 570.5 744.6 570.8 744.5 571.2 742.9 571.5 744.4 571.9 743.7 572.2 743.6 572.6 743.8 572.9 744.4 573.3 744.5 573.6 744.6 574 743.1 574.3 743.7 574.7 742.7 575 743.9 575.4 744.3 575.7 743.6 576.1 744.1 576.4 744.1 576.8 744.5 577.1 743.5 577.5 743.5 577.8 743.5 578.2 744.9 578.6 744.5 578.9 743.8 579.3 744 579.6 743.9 580 744 580.3 743.7 580.7 743.6 581 743.1 581.4 743.4 581.7 744.7 582.1 744 582.4 743.7 582.8 743.6 583.1 743.7 583.5 743.8 583.8 743.2 584.2 743.6 584.5 743.6 584.9 743 585.2 742.9 585.6 742.8 586 742.7 586.3 743.6 586.7 741.8 587 742.8 587.4 742.5 587.7 742.3 588.1 742.6 588.4 742.9 588.8 742 589.1 741.5 589.5 740.7 589.8 740.1 590.2 739.3 590.5 736.5 590.9 732.8 591.2 727.9 591.6 721.5 591.9 713.2 592.3 705.2 592.6 695.3 593 687.1 593.4 683.7 593.7 683.3 594.1 689.5 594.4 698.1 594.8 706.4 595.1 715.5 595.5 723.6 595.8 730.6 596.2 735.1 596.5 736.7 596.9 739.8 597.2 740.2 597.6 741 597.9 741.4 598.3 741.8 598.6 741.3 599 741.9 599.3 742 599.7 743.1 600 744 600.4 744.5 600.7 742.9 601.1 742.2 601.5 743 601.8 742.8 602.2 744.4 602.5 743.7 602.9 743 603.2 743.9 603.6 743.7 603.9 742.6 604.3 743.2 604.6 743.4 605 743.5 605.3 743.6 605.7 743.3 606 743.5 606.4 743 606.7 742.6 607.1 743.7 607.4 742.6 607.8 742 608.1 740.1 608.5 740 608.9 739.8 609.2 738.1 609.6 739.4 609.9 739 610.3 740.2 610.6 740.8 611 741.8 611.3 743 611.7 742.6 612 744.1 612.4 743 612.7 743 613.1 744 613.4 743.1 613.8 743.5 614.1 744.2 614.5 744.4 614.8 742.8 615.2 744 615.5 744.8 615.9 744.4 616.3 743.6 616.6 743.4 617 743.6 617.3 743.2 617.7 743.6 618 743.7 618.4 743.7 618.7 744.5 619.1 743.7 619.4 743 619.8 744.4 620.1 743.2 620.5 743.6 620.8 743.7 621.2 743.6 621.5 743.3 621.9 743.7 622.2 745 622.6 743.5 622.9 743.7 623.3 744.4 623.6 744.2 624 744.2 624.4 744.3 624.7 742.7 625.1 743.3 625.4 743.9 625.8 744.1 626.1 744.5 626.5 744.1 626.8 743.7 627.2 743.8 627.5 743.7 627.9 743.9 628.2 744.2 628.6 743.6 628.9 743.4 629.3 743.3 629.6 744.4 630 744.5 630.3 744.3 630.7 744.3 631 744.3 631.4 743.8 631.8 744.2 632.1 743.2 632.5 743.7 632.8 743.4 633.2 744.2 633.5 743.5 633.9 743.7 634.2 744 634.6 744.5 634.9 743.3 635.3 743.3 635.6 744.2 636 743.2 636.3 744 636.7 743.5 637 743.7 637.4 742.8 637.7 744.2 638.1 743.5 638.4 743.3 638.8 744.9 639.2 744.2 639.5 745.7 639.9 744 640.2 743.6 640.6 743.8 640.9 744.6 641.3 743.7 641.6 744 642 744 642.3 743.2 642.7 743.8 643 743.5 643.4 743 643.7 744.2 644.1 744.1 644.4 743.8 644.8 743.2 645.1 742.6 645.5 744 645.8 743.6 646.2 742.8 646.5 743.6 646.9 742.8 647.3 743.6 647.6 743.7 648 743.8 648.3 743.6 648.7 743.5 649 742.6 649.4 742.7 649.7 742.3 650.1 742.1 650.4 742 650.8 741.9 651.1 742.4 651.5 740.2 651.8 742.1 652.2 742.2 652.5 743.9 652.9 743.5 653.2 742.3 653.6 743.6 653.9 743.2 654.3 744.1 654.7 743 655 743.5 655.4 743.5 655.7 743.5 656.1 743.3 656.4 742.6 656.8 743.8 657.1 744.1 657.5 743.5 657.8 743 658.2 743.7 658.5 743.9 658.9 743.4 659.2 743.5 659.6 744.2 659.9 742.8 660.3 743 660.6 742.1 661 742.5 661.3 742 661.7 741.3 662.1 740.6 662.4 741.1 662.8 739 663.1 738.4 663.5 739.4 663.8 738.4 664.2 738.2 664.5 740.3 664.9 740.5 665.2 742.7 665.6 741.7 665.9 742.5 666.3 742.2 666.6 743.3 667 742.8 667.3 743.4 667.7 743.3 668 743.2 668.4 744 668.7 744 669.1 743.6 669.4 743 669.8 743 670.2 743.7 670.5 744.9 670.9 743.3 671.2 743.1 671.6 743.2 671.9 743 672.3 743 672.6 743.5 673 744.4 673.3 743.6 673.7 743.3 674 742.7 674.4 743.7 674.7 743.6 675.1 742.9 675.4 743 675.8 743.6 676.1 744.1 676.5 743.9 676.8 743.7 677.2 743.4" fill="none" stroke="#2f7b4c" stroke-width="1.0" stroke-linejoin="round"/>
<path d="M494 792.3 494.4 793.3 494.7 793 495.1 792.9 495.4 793.7 495.8 793.2 496.1 793 496.5 794.1 496.8 792.9 497.2 792.4 497.5 792.4 497.9 792.8 498.2 793.5 498.6 793.6 498.9 793.8 499.3 794.1 499.6 794.1 500 793.5 500.3 793.9 500.7 793.5 501 792.8 501.4 793.6 501.8 793.2 502.1 793 502.5 794.2 502.8 793.6 503.2 792.9 503.5 793.1 503.9 794.4 504.2 793 504.6 793.5 504.9 793.5 505.3 793.4 505.6 793.4 506 792.8 506.3 792.8 506.7 793 507 792.9 507.4 793.5 507.7 793.9 508.1 792.6 508.4 793.4 508.8 792.5 509.1 792.7 509.5 792.9 509.9 793.1 510.2 792.8 510.6 791.6 510.9 793.8 511.3 792.8 511.6 792.6 512 793.3 512.3 792.6 512.7 792.1 513 793.2 513.4 793.1 513.7 792.4 514.1 793.3 514.4 793 514.8 792.2 515.1 793.7 515.5 792.9 515.8 792 516.2 792.9 516.5 792.6 516.9 793.1 517.3 791.7 517.6 792.9 518 792.8 518.3 792.6 518.7 792.4 519 792.6 519.4 792.1 519.7 791.5 520.1 790.6 520.4 791.1 520.8 790.3 521.1 788.7 521.5 787 521.8 785 522.2 780.2 522.5 777.9 522.9 771.7 523.2 768 523.6 763.1 523.9 758.5 524.3 753.2 524.7 751.7 525 751.7 525.4 753.2 525.7 759.2 526.1 764 526.4 769.4 526.8 773.9 527.1 778.9 527.5 782.6 527.8 786.1 528.2 787.6 528.5 790.9 528.9 789.8 529.2 790.6 529.6 791.2 529.9 791.1 530.3 792.6 530.6 792.3 531 791.4 531.3 792.3 531.7 793 532 791.6 532.4 792.6 532.8 792.4 533.1 793.9 533.5 792.9 533.8 792.5 534.2 792.4 534.5 793.8 534.9 792.6 535.2 794.1 535.6 792 535.9 792.8 536.3 792.8 536.6 792.6 537 792.8 537.3 793.4 537.7 792.6 538 792.2 538.4 793.8 538.7 793.9 539.1 792.7 539.4 793.2 539.8 791.6 540.2 793.7 540.5 792.3 540.9 792.8 541.2 794.3 541.6 792.4 541.9 793.1 542.3 792.5 542.6 792.1 543 792.5 543.3 793.3 543.7 792.4 544 792.8 544.4 793.6 544.7 793.1 545.1 792.4 545.4 794 545.8 793.2 546.1 793.9 546.5 792.6 546.8 794.1 547.2 792.4 547.6 792.1 547.9 792.9 548.3 792.8 548.6 793.1 549 792.6 549.3 793.2 549.7 793.4 550 792.1 550.4 791.4 550.7 791.6 551.1 791.9 551.4 791.5 551.8 790.5 552.1 789.9 552.5 790.3 552.8 790.8 553.2 790.1 553.5 791.5 553.9 791.3 554.2 791.7 554.6 791.6 554.9 793 555.3 792.5 555.7 791.9 556 793.3 556.4 792.7 556.7 793.7 557.1 793.2 557.4 792.8 557.8 793.3 558.1 792.9 558.5 792.7 558.8 793.2 559.2 793.7 559.5 793.3 559.9 793.2 560.2 792.9 560.6 793.6 560.9 793.4 561.3 793.8 561.6 793.5 562 794.4 562.3 792.4 562.7 793.2 563.1 793.6 563.4 793.8 563.8 792.4 564.1 792.6 564.5 793.2 564.8 793.9 565.2 793.9 565.5 792.4 565.9 793.3 566.2 793.9 566.6 793.3 566.9 792.7 567.3 792.9 567.6 792.5 568 793.9 568.3 793.1 568.7 793 569 792.8 569.4 793.2 569.7 792.8 570.1 792.7 570.5 793.2 570.8 793.1 571.2 793.5 571.5 793.3 571.9 793.9 572.2 793.2 572.6 793.4 572.9 793.4 573.3 792.8 573.6 793.9 574 792.9 574.3 792.4 574.7 793.9 575 793.6 575.4 792.9 575.7 793.7 576.1 793.7 576.4 793.6 576.8 792.5 577.1 793.3 577.5 792.6 577.8 792.8 578.2 792.9 578.6 792.7 578.9 793.4 579.3 792.7 579.6 793.5 580 793.2 580.3 792.8 580.7 793.2 581 793.5 581.4 793.7 581.7 792.9 582.1 794 582.4 793.3 582.8 793.7 583.1 792.2 583.5 792.3 583.8 793.6 584.2 792.7 584.5 793.1 584.9 793.4 585.2 791.9 585.6 792.9 586 793.7 586.3 792.9 586.7 792.5 587 792.6 587.4 792.2 587.7 792.4 588.1 792.5 588.4 791.4 588.8 791.4 589.1 790.7 589.5 790 589.8 788.9 590.2 786.1 590.5 785.1 590.9 782 591.2 777.3 591.6 773.6 591.9 768.3 592.3 764.2 592.6 760.3 593 756.1 593.4 754.6 593.7 754.8 594.1 757.2 594.4 760.8 594.8 765.1 595.1 770.7 595.5 774.8 595.8 778.5 596.2 783 596.5 784.8 596.9 787.8 597.2 788.1 597.6 790.7 597.9 790.4 598.3 790.7 598.6 791.8 599 791.1 599.3 791.5 599.7 792.4 600 792.1 600.4 792.7 600.7 792.6 601.1 792.7 601.5 792.7 601.8 793.1 602.2 792.8 602.5 793.4 602.9 793.4 603.2 791.8 603.6 791.9 603.9 793.8 604.3 792.7 604.6 793.1 605 792.9 605.3 793.1 605.7 794.2 606 792.5 606.4 792.9 606.7 792.7 607.1 791.8 607.4 791.5 607.8 791.3 608.1 790.8 608.5 790.2 608.9 788.2 609.2 788 609.6 789.7 609.9 789.1 610.3 790.3 610.6 790.4 611 791 611.3 793.2 611.7 791.8 612 792.3 612.4 793.3 612.7 793.1 613.1 792.2 613.4 793.3 613.8 793.6 614.1 792.4 614.5 793 614.8 793.7 615.2 794.4 615.5 792 615.9 792.9 616.3 793.3 616.6 792.8 617 792.8 617.3 793.1 617.7 793.6 618 792.8 618.4 793.9 618.7 793.8 619.1 793.9 619.4 794.2 619.8 793.1 620.1 793.4 620.5 794 620.8 794.1 621.2 793.9 621.5 793.2 621.9 793.1 622.2 792.7 622.6 793.2 622.9 792.9 623.3 793.2 623.6 793.2 624 793.9 624.4 793.9 624.7 793.4 625.1 792.8 625.4 793.4 625.8 793.7 626.1 793.9 626.5 793.6 626.8 793.9 627.2 793.1 627.5 793.8 627.9 793.9 628.2 793.3 628.6 793 628.9 794.1 629.3 792.9 629.6 793.8 630 793.3 630.3 793.3 630.7 793.3 631 793.2 631.4 793.4 631.8 794.5 632.1 794.3 632.5 793.4 632.8 793.7 633.2 794 633.5 793.2 633.9 794.5 634.2 793.5 634.6 793.8 634.9 793 635.3 792.9 635.6 792.9 636 793.1 636.3 794.1 636.7 793.3 637 794 637.4 793.3 637.7 793 638.1 793.6 638.4 793.3 638.8 792.6 639.2 793.5 639.5 794.1 639.9 793.4 640.2 792.8 640.6 793.1 640.9 792.8 641.3 793.4 641.6 793 642 793.4 642.3 793.6 642.7 794.2 643 792.9 643.4 792.4 643.7 794.4 644.1 793.7 644.4 793.3 644.8 793.8 645.1 793 645.5 793.3 645.8 793.8 646.2 793.3 646.5 793.5 646.9 793.7 647.3 793.5 647.6 793.3 648 793.6 648.3 794 648.7 793.8 649 792.4 649.4 793 649.7 791.1 650.1 790.9 650.4 791.4 650.8 791.1 651.1 791.5 651.5 789.9 651.8 791.9 652.2 791.4 652.5 792 652.9 792.9 653.2 793.7 653.6 792.6 653.9 792.3 654.3 793 654.7 793.3 655 794.1 655.4 793.6 655.7 793.3 656.1 793.2 656.4 793.2 656.8 794 657.1 792.5 657.5 793.1 657.8 793 658.2 794.1 658.5 793.5 658.9 793.1 659.2 793.8 659.6 794.5 659.9 793.9 660.3 792.6 660.6 793.1 661 793.6 661.3 791.7 661.7 791.5 662.1 791.4 662.4 791.2 662.8 789.8 663.1 789.8 663.5 789.5 663.8 789.9 664.2 789.6 664.5 789.7 664.9 790.4 665.2 792.3 665.6 793.2 665.9 793.3 666.3 792.3 666.6 792.4 667 793.2 667.3 792.9 667.7 792.4 668 793.2 668.4 793.1 668.7 793.4 669.1 793.7 669.4 793.6 669.8 793.6 670.2 793.8 670.5 793.5 670.9 793.3 671.2 793.4 671.6 794.2 671.9 793.4 672.3 794 672.6 794.5 673 794.5 673.3 792.4 673.7 793.7 674 794.1 674.4 793.3 674.7 793.2 675.1 792.8 675.4 793.2 675.8 793.6 676.1 792.5 676.5 793.6 676.8 793.1 677.2 793.6" fill="none" stroke="#5cc65c" stroke-width="1.0" stroke-linejoin="round"/>
<line x1="514.6" y1="712.4" x2="520.3" y2="712.4" stroke="#2f7b4c" stroke-width="0.8"/>
<path d="M522.5 712.4 L519.9 711.2 L519.9 713.6 Z" fill="#2f7b4c"/>
<line x1="533.5" y1="712.4" x2="528.7" y2="712.4" stroke="#2f7b4c" stroke-width="0.8"/>
<path d="M526.5 712.4 L529.1 711.2 L529.1 713.6 Z" fill="#2f7b4c"/>
<line x1="583.2" y1="714.6" x2="589" y2="714.6" stroke="#2f7b4c" stroke-width="0.8"/>
<path d="M591.2 714.6 L588.6 713.4 L588.6 715.8 Z" fill="#2f7b4c"/>
<line x1="603.4" y1="714.6" x2="597.8" y2="714.6" stroke="#2f7b4c" stroke-width="0.8"/>
<path d="M595.6 714.6 L598.2 713.4 L598.2 715.8 Z" fill="#2f7b4c"/>
<line x1="514.6" y1="771.8" x2="519.8" y2="771.8" stroke="#5cc65c" stroke-width="0.8"/>
<path d="M522 771.8 L519.4 770.6 L519.4 773 Z" fill="#5cc65c"/>
<line x1="533.5" y1="771.8" x2="529.2" y2="771.8" stroke="#5cc65c" stroke-width="0.8"/>
<path d="M527 771.8 L529.6 770.6 L529.6 773 Z" fill="#5cc65c"/>
<line x1="583.2" y1="774.4" x2="588.6" y2="774.4" stroke="#5cc65c" stroke-width="0.8"/>
<path d="M590.8 774.4 L588.2 773.2 L588.2 775.6 Z" fill="#5cc65c"/>
<line x1="603.4" y1="774.4" x2="598.2" y2="774.4" stroke="#5cc65c" stroke-width="0.8"/>
<path d="M596 774.4 L598.6 773.2 L598.6 775.6 Z" fill="#5cc65c"/>
<text x="536" y="715.81" font-size="8.4">0.55&#176;</text>
<text x="604.6" y="717.91" font-size="8.4">0.61&#176;</text>
<text x="536" y="775.21" font-size="8.4">0.78&#176;</text>
<text x="604.6" y="777.81" font-size="8.4">0.81&#176;</text>
<text x="526.8" y="677.24" font-size="8.2" text-anchor="middle">(100)</text>
<text x="595.7" y="679.84" font-size="8.2" text-anchor="middle">(200)</text>
<text x="501" y="729.14" font-size="8.2">PbBr<tspan font-size="5.6" dy="1.8">2</tspan></text>
<line x1="509.6" y1="729.9" x2="509.6" y2="735" stroke="#111" stroke-width="0.8"/>
<path d="M509.6 737.4 L508.4 734.6 L510.8 734.6 Z" fill="#111"/>
<line x1="620" y1="665.3" x2="638.9" y2="665.3" stroke="#2f7b4c" stroke-width="1.2"/>
<text x="643.2" y="668.34" font-size="8.2">Pristine</text>
<line x1="620" y1="676" x2="638.9" y2="676" stroke="#5cc65c" stroke-width="1.2"/>
<text x="643.2" y="679.04" font-size="8.2">Target</text></svg>
</body></html>
